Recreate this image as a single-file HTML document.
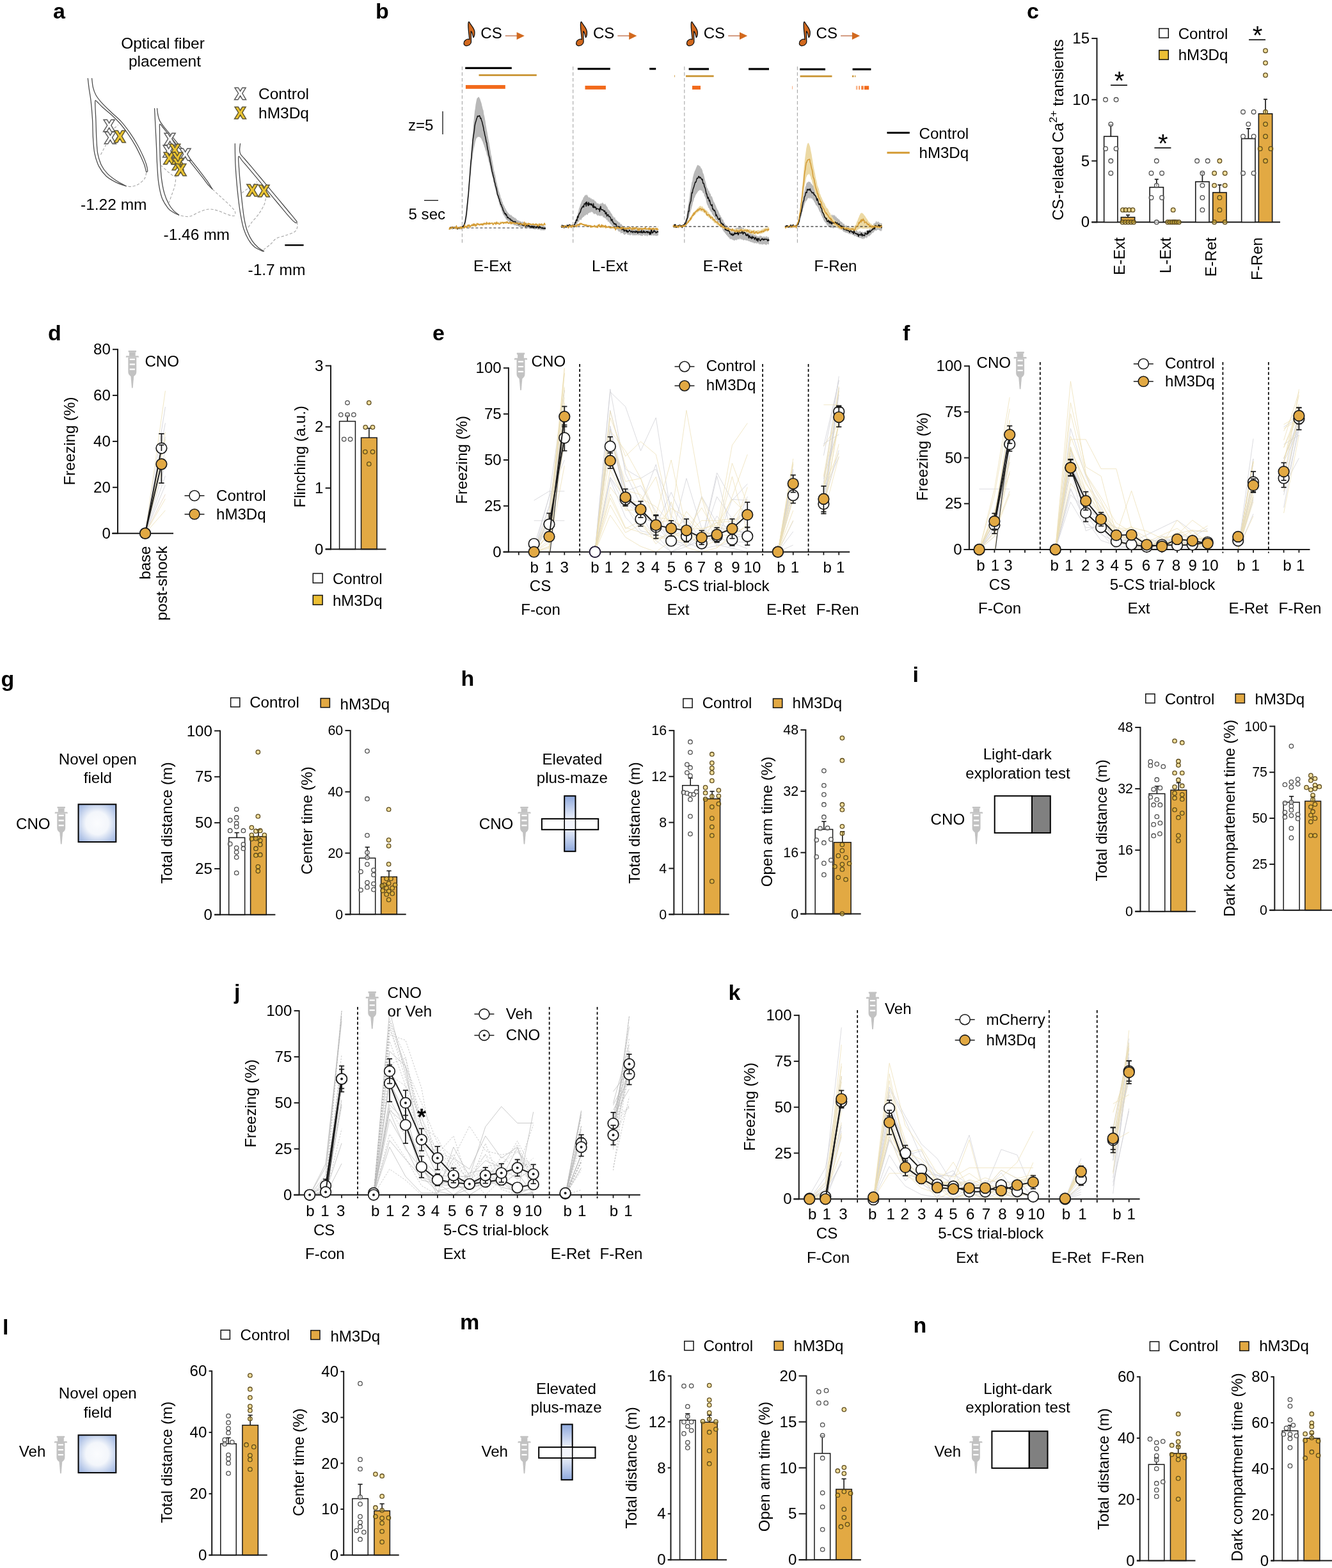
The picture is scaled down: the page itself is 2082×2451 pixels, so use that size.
<!DOCTYPE html>
<html lang="en">
<head>
<meta charset="utf-8">
<title>Figure</title>
<style>
html,body{margin:0;padding:0;background:#fff;}
svg{display:block;}
svg{font-family:'Liberation Sans', sans-serif;font-size:24.1px;}
</style>
</head>
<body>
<svg width="2082" height="2451" viewBox="0 0 2082 2451">
<rect x="0" y="0" width="2082" height="2451" fill="#fff"/>
<text x="83" y="28.5" font-weight="bold" font-size="34">a</text>
<text x="254.5" y="75.5" text-anchor="middle" font-size="24.5">Optical fiber</text>
<text x="257.5" y="104.2" text-anchor="middle" font-size="24.5">placement</text>
<path d="M137.32 122.51 C137.65 125.24 138.45 132.94 139.25 138.87 C140.05 144.81 141.25 150.1 142.14 158.12 C143.02 166.14 143.98 177.37 144.54 187 C145.1 196.62 144.94 207.05 145.51 215.87 C146.07 224.69 146.39 232.55 147.91 239.93 C149.44 247.31 151.6 254.21 154.65 260.14 C157.7 266.08 161.71 271.37 166.2 275.54 C170.69 279.71 176.46 282.6 181.6 285.17 C186.73 287.74 194.43 289.98 197 290.94" fill="none" stroke="#4a4a4a" stroke-width="1.25" stroke-linecap="round" stroke-linejoin="round"/>
<path d="M143.58 122.51 C143.9 124.92 144.46 132.62 145.51 136.95 C146.55 141.28 147.67 144.65 149.84 148.5 C152 152.35 154.49 155.56 158.5 160.05 C162.51 164.54 168.76 170.47 173.9 175.45 C179.03 180.42 184.49 184.59 189.3 189.88 C194.11 195.18 198.6 201.27 202.77 207.21 C206.94 213.14 210.79 219.24 214.32 225.5 C217.85 231.75 221.54 239.45 223.95 244.74 C226.35 250.04 227.64 253.57 228.76 257.26 C229.88 260.95 230.6 264.92 230.68 266.88 C230.76 268.84 229.48 268.65 229.24 269" fill="none" stroke="#4a4a4a" stroke-width="1.25" stroke-linecap="round" stroke-linejoin="round"/>
<path d="M197 290.75 C194.43 289.34 186.41 285.46 181.6 282.28 C176.79 279.1 171.97 275.7 168.12 271.69 C164.27 267.68 161.07 263.51 158.5 258.22 C155.93 252.93 154.01 246.99 152.72 239.93 C151.44 232.87 151.28 224.69 150.8 215.87 C150.32 207.05 150.16 195.02 149.84 187 C149.52 178.98 149.03 172.64 148.87 167.75 C148.71 162.86 148.39 159.09 148.87 157.64 C149.36 156.2 149.84 157.4 151.76 159.09 C153.69 160.77 156.73 164.38 160.42 167.75 C164.11 171.12 169.41 175.13 173.9 179.3 C178.39 183.47 183.04 187.8 187.37 192.77 C191.7 197.74 195.87 203.36 199.88 209.13 C203.89 214.91 207.91 221.16 211.43 227.42 C214.96 233.68 218.65 241.54 221.06 246.67 C223.46 251.8 224.62 254.56 225.87 258.22 C227.12 261.88 228.12 266.88 228.57 268.61" fill="none" stroke="#4a4a4a" stroke-width="1.25" stroke-linecap="round" stroke-linejoin="round"/>
<path d="M228.76 269.96 C228.28 271.53 227.96 276.38 225.87 279.39 C223.79 282.41 219.45 286.05 216.25 288.06 C213.04 290.06 209.75 290.91 206.62 291.42 C203.49 291.94 199 291.18 197.48 291.14" fill="none" stroke="#a6a6a6" stroke-width="1.1" stroke-dasharray="4.2 2.8"/>
<path d="M157.54 241.86 C158.18 240.57 160.02 236.72 161.39 234.16 C162.75 231.59 165 227.74 165.72 226.46" fill="none" stroke="#a6a6a6" stroke-width="1.1" stroke-dasharray="4.2 2.8"/>
<path d="M178.71 200.47 L184.49 195.18" fill="none" stroke="#a6a6a6" stroke-width="1.1" stroke-dasharray="4.2 2.8"/>
<path d="M241.55 169.62 C241.79 174.44 242.51 188.87 242.99 198.5 C243.47 208.12 244 217.75 244.44 227.37 C244.87 237 245.03 246.62 245.59 256.25 C246.15 265.87 246.55 276.3 247.81 285.12 C249.06 293.94 250.61 302.44 253.1 309.18 C255.59 315.92 259.68 321.69 262.72 325.54 C265.77 329.39 268.58 330.52 271.39 332.28 C274.19 334.05 278.2 335.49 279.57 336.13" fill="none" stroke="#4a4a4a" stroke-width="1.25" stroke-linecap="round" stroke-linejoin="round"/>
<path d="M245.59 169.62 C245.8 171.23 246.15 176.04 246.84 179.25 C247.53 182.46 247.89 185.34 249.73 188.87 C251.58 192.4 254.78 196.41 257.91 200.42 C261.04 204.43 264.49 208.12 268.5 212.94 C272.51 217.75 277.16 223.36 281.97 229.3 C286.79 235.23 292.4 242.29 297.37 248.55 C302.35 254.8 307.48 261.22 311.81 266.83 C316.14 272.45 319.99 277.42 323.36 282.23 C326.73 287.05 330.58 293.46 332.02 295.71" fill="none" stroke="#4a4a4a" stroke-width="1.25" stroke-linecap="round" stroke-linejoin="round"/>
<path d="M279.57 335.94 C278.2 334.85 274.03 332.25 271.39 329.39 C268.74 326.54 266.09 323.3 263.69 318.81 C261.28 314.32 258.79 308.86 256.95 302.44 C255.1 296.03 253.66 288.01 252.62 280.31 C251.58 272.61 251.17 265.07 250.69 256.25 C250.21 247.42 249.92 236.2 249.73 227.37 C249.54 218.55 249.54 208.85 249.54 203.31 C249.54 197.78 248.98 194.97 249.73 194.17 C250.48 193.37 252.06 196.17 254.06 198.5 C256.07 200.82 258.55 204.11 261.76 208.12 C264.97 212.13 268.98 217.11 273.31 222.56 C277.64 228.01 282.94 234.75 287.75 240.85 C292.56 246.94 297.37 253.04 302.18 259.13 C307 265.23 312.61 272.29 316.62 277.42 C320.63 282.55 323.71 286.92 326.25 289.93 C328.78 292.95 330.9 294.58 331.83 295.51" fill="none" stroke="#4a4a4a" stroke-width="1.25" stroke-linecap="round" stroke-linejoin="round"/>
<path d="M332.21 295.9 C334.43 297.95 340.88 303.92 345.5 308.22 C350.12 312.52 356.32 318 359.93 321.69 C363.54 325.38 366.03 327.79 367.15 330.36 C368.27 332.92 368.19 336.13 366.67 337.09 C365.15 338.06 362.34 337.41 358.01 336.13 C353.68 334.85 345.98 330.92 340.68 329.39 C335.39 327.87 331.06 326.67 326.25 326.99 C321.43 327.31 316.62 329.47 311.81 331.32 C307 333.16 301.38 336.93 297.37 338.06 C293.36 339.18 290.67 338.34 287.75 338.06 C284.83 337.77 281.17 336.61 279.86 336.32" fill="none" stroke="#a6a6a6" stroke-width="1.1" stroke-dasharray="4.2 2.8"/>
<path d="M251.17 258.17 C252.94 259.78 258.39 264.91 261.76 267.8 C265.13 270.68 269.78 274.21 271.39 275.5" fill="none" stroke="#a6a6a6" stroke-width="1.1" stroke-dasharray="4.2 2.8"/>
<path d="M275.24 273.57 C274.91 276.3 274.43 284.8 273.31 289.93 C272.19 295.07 270.1 299.72 268.5 304.37 C266.89 309.02 264.49 315.6 263.69 317.84" fill="none" stroke="#a6a6a6" stroke-width="1.1" stroke-dasharray="4.2 2.8"/>
<path d="M367.32 224.62 C367.4 229.44 367.4 243.87 367.81 253.5 C368.21 263.12 368.93 272.75 369.73 282.37 C370.53 292 371.58 302.42 372.62 311.25 C373.66 320.07 374.62 327.61 375.99 335.31 C377.35 343.01 378.71 350.87 380.8 357.44 C382.88 364.02 385.61 369.96 388.5 374.77 C391.39 379.58 394.27 383.27 398.12 386.32 C401.97 389.37 409.35 391.93 411.6 393.06" fill="none" stroke="#4a4a4a" stroke-width="1.25" stroke-linecap="round" stroke-linejoin="round"/>
<path d="M375.51 224.62 C375.34 226.23 374.46 231.52 374.54 234.25 C374.62 236.98 374.78 238.74 375.99 240.99 C377.19 243.23 378.87 244.36 381.76 247.72 C384.65 251.09 388.98 256.07 393.31 261.2 C397.64 266.33 402.94 272.75 407.75 278.52 C412.56 284.3 417.37 290.07 422.18 295.85 C427 301.62 431.81 307.4 436.62 313.17 C441.43 318.95 446.57 325.04 451.06 330.5 C455.55 335.95 461.55 342.91 463.57 345.9 C465.59 348.88 463.25 347.98 463.19 348.4" fill="none" stroke="#4a4a4a" stroke-width="1.25" stroke-linecap="round" stroke-linejoin="round"/>
<path d="M412.56 392.57 C411.12 391.69 406.95 389.93 403.9 387.28 C400.85 384.63 397.16 381.03 394.27 376.69 C391.39 372.36 388.66 367.07 386.57 361.29 C384.49 355.52 383.12 349.58 381.76 342.05 C380.4 334.51 379.44 325.2 378.39 316.06 C377.35 306.92 376.31 296.01 375.51 287.18 C374.7 278.36 374.01 270.18 373.58 263.12 C373.15 256.07 372.02 246.76 372.91 244.84 C373.79 242.91 375.95 248.21 378.87 251.57 C381.79 254.94 386.09 259.91 390.42 265.05 C394.75 270.18 400.05 276.6 404.86 282.37 C409.67 288.15 414.49 293.92 419.3 299.7 C424.11 305.47 428.92 311.25 433.73 317.02 C438.55 322.8 444 329.53 448.17 334.35 C452.34 339.16 456.32 343.55 458.76 345.9 C461.2 348.24 462.13 347.98 462.8 348.4" fill="none" stroke="#4a4a4a" stroke-width="1.25" stroke-linecap="round" stroke-linejoin="round"/>
<path d="M463.76 347.05 C463.97 348.14 465.53 351.06 465.01 353.59 C464.5 356.13 463.81 359.85 460.68 362.26 C457.56 364.66 451.06 366.27 446.25 368.03 C441.43 369.8 435.66 370.6 431.81 372.84 C427.96 375.09 426.44 378.59 423.15 381.51 C419.86 384.43 413.92 388.89 412.08 390.36" fill="none" stroke="#a6a6a6" stroke-width="1.1" stroke-dasharray="4.2 2.8"/>
<path d="M377.91 301.62 C379.68 300.34 384.49 296.81 388.5 293.92 C392.51 291.03 399.73 285.9 401.97 284.3" fill="none" stroke="#a6a6a6" stroke-width="1.1" stroke-dasharray="4.2 2.8"/>
<path d="M415.45 310.28 C414.97 312.05 414.49 316.7 412.56 320.87 C410.64 325.04 407.11 330.82 403.9 335.31 C400.69 339.8 396.04 344.29 393.31 347.82 C390.58 351.35 388.5 355.04 387.54 356.48" fill="none" stroke="#a6a6a6" stroke-width="1.1" stroke-dasharray="4.2 2.8"/>
<text x="170.53" y="204.54" text-anchor="middle" font-weight="bold" fill="#fff" font-size="23.5" stroke="#595959" stroke-width="3" paint-order="stroke fill" stroke-linejoin="miter">X</text>
<text x="172.45" y="224.27" text-anchor="middle" font-weight="bold" fill="#fff" font-size="23.5" stroke="#595959" stroke-width="3" paint-order="stroke fill" stroke-linejoin="miter">X</text>
<text x="187.37" y="221.86" text-anchor="middle" font-weight="bold" fill="#ECC531" font-size="23.5" stroke="#5e5533" stroke-width="3" paint-order="stroke fill" stroke-linejoin="miter">X</text>
<text x="263.69" y="245.4" text-anchor="middle" font-weight="bold" fill="#fff" font-size="23.5" stroke="#595959" stroke-width="3" paint-order="stroke fill" stroke-linejoin="miter">X</text>
<text x="289.67" y="250.21" text-anchor="middle" font-weight="bold" fill="#fff" font-size="23.5" stroke="#595959" stroke-width="3" paint-order="stroke fill" stroke-linejoin="miter">X</text>
<text x="265.61" y="226.15" text-anchor="middle" font-weight="bold" fill="#fff" font-size="23.5" stroke="#595959" stroke-width="3" paint-order="stroke fill" stroke-linejoin="miter">X</text>
<text x="273.31" y="242.51" text-anchor="middle" font-weight="bold" fill="#ECC531" font-size="23.5" stroke="#5e5533" stroke-width="3" paint-order="stroke fill" stroke-linejoin="miter">X</text>
<text x="264.65" y="255.98" text-anchor="middle" font-weight="bold" fill="#ECC531" font-size="23.5" stroke="#5e5533" stroke-width="3" paint-order="stroke fill" stroke-linejoin="miter">X</text>
<text x="277.16" y="255.5" text-anchor="middle" font-weight="bold" fill="#ECC531" font-size="23.5" stroke="#5e5533" stroke-width="3" paint-order="stroke fill" stroke-linejoin="miter">X</text>
<text x="278.12" y="264.65" text-anchor="middle" font-weight="bold" fill="#ECC531" font-size="23.5" stroke="#5e5533" stroke-width="3" paint-order="stroke fill" stroke-linejoin="miter">X</text>
<text x="282.45" y="274.27" text-anchor="middle" font-weight="bold" fill="#ECC531" font-size="23.5" stroke="#5e5533" stroke-width="3" paint-order="stroke fill" stroke-linejoin="miter">X</text>
<text x="394.27" y="306.17" text-anchor="middle" font-weight="bold" fill="#ECC531" font-size="23.5" stroke="#5e5533" stroke-width="3" paint-order="stroke fill" stroke-linejoin="miter">X</text>
<text x="412.56" y="307.13" text-anchor="middle" font-weight="bold" fill="#ECC531" font-size="23.5" stroke="#5e5533" stroke-width="3" paint-order="stroke fill" stroke-linejoin="miter">X</text>
<text x="375.6" y="154.6" text-anchor="middle" font-weight="bold" fill="#fff" font-size="23.5" stroke="#595959" stroke-width="3" paint-order="stroke fill" stroke-linejoin="miter">X</text>
<text x="375.6" y="184.6" text-anchor="middle" font-weight="bold" fill="#ECC531" font-size="23.5" stroke="#5e5533" stroke-width="3" paint-order="stroke fill" stroke-linejoin="miter">X</text>
<text x="404" y="154.5" font-size="24.5">Control</text>
<text x="404" y="184.5" font-size="24.5">hM3Dq</text>
<text x="126" y="327.5" font-size="24.5">-1.22 mm</text>
<text x="255.5" y="375" font-size="24.5">-1.46 mm</text>
<text x="387.5" y="429.5" font-size="24.5">-1.7 mm</text>
<line x1="445.3" y1="383.2" x2="474.6" y2="383.2" stroke="#000" stroke-width="2.4"/>
<text x="587" y="28.5" font-weight="bold" font-size="34">b</text>
<path d="M733.38 34.33 C735.83 39.5 742.63 44.49 741.9 51.29 C741.9 54.92 741.27 57.19 739.91 58.55 C738.82 55.37 738.55 50.84 736.1 48.84 L736.46 65.8 C736.28 69.43 731.75 72.15 728.12 71.52 C724.49 70.79 724.04 66.26 726.76 63.54 C728.57 61.72 731.75 60.82 733.74 61.72 C733.38 54.47 731.29 43.58 731.93 36.78 C732.02 34.97 732.65 33.79 733.38 34.33 Z" fill="#D2691E" stroke="#111" stroke-width="1.3" stroke-linejoin="round"/>
<text x="751.3" y="59.5">CS</text>
<line x1="789.8" y1="56" x2="808.5" y2="56" stroke="#C98464" stroke-width="1.6"/>
<path d="M807.6 50.2 L819.8 56 L807.6 62 Z" fill="#D2691E"/>
<path d="M908.98 34.33 C911.43 39.5 918.23 44.49 917.5 51.29 C917.5 54.92 916.87 57.19 915.51 58.55 C914.42 55.37 914.15 50.84 911.7 48.84 L912.06 65.8 C911.88 69.43 907.35 72.15 903.72 71.52 C900.09 70.79 899.64 66.26 902.36 63.54 C904.17 61.72 907.35 60.82 909.34 61.72 C908.98 54.47 906.89 43.58 907.53 36.78 C907.62 34.97 908.25 33.79 908.98 34.33 Z" fill="#D2691E" stroke="#111" stroke-width="1.3" stroke-linejoin="round"/>
<text x="926.9" y="59.5">CS</text>
<line x1="965.4" y1="56" x2="984.1" y2="56" stroke="#C98464" stroke-width="1.6"/>
<path d="M983.2 50.2 L995.4 56 L983.2 62 Z" fill="#D2691E"/>
<path d="M1081.78 34.33 C1084.23 39.5 1091.03 44.49 1090.3 51.29 C1090.3 54.92 1089.67 57.19 1088.31 58.55 C1087.22 55.37 1086.95 50.84 1084.5 48.84 L1084.86 65.8 C1084.68 69.43 1080.15 72.15 1076.52 71.52 C1072.89 70.79 1072.44 66.26 1075.16 63.54 C1076.97 61.72 1080.15 60.82 1082.14 61.72 C1081.78 54.47 1079.69 43.58 1080.33 36.78 C1080.42 34.97 1081.05 33.79 1081.78 34.33 Z" fill="#D2691E" stroke="#111" stroke-width="1.3" stroke-linejoin="round"/>
<text x="1099.7" y="59.5">CS</text>
<line x1="1138.2" y1="56" x2="1156.9" y2="56" stroke="#C98464" stroke-width="1.6"/>
<path d="M1156 50.2 L1168.2 56 L1156 62 Z" fill="#D2691E"/>
<path d="M1257.68 34.33 C1260.13 39.5 1266.93 44.49 1266.2 51.29 C1266.2 54.92 1265.57 57.19 1264.21 58.55 C1263.12 55.37 1262.85 50.84 1260.4 48.84 L1260.76 65.8 C1260.58 69.43 1256.05 72.15 1252.42 71.52 C1248.79 70.79 1248.34 66.26 1251.06 63.54 C1252.87 61.72 1256.05 60.82 1258.04 61.72 C1257.68 54.47 1255.59 43.58 1256.23 36.78 C1256.32 34.97 1256.95 33.79 1257.68 34.33 Z" fill="#D2691E" stroke="#111" stroke-width="1.3" stroke-linejoin="round"/>
<text x="1275.6" y="59.5">CS</text>
<line x1="1314.1" y1="56" x2="1332.8" y2="56" stroke="#C98464" stroke-width="1.6"/>
<path d="M1331.9 50.2 L1344.1 56 L1331.9 62 Z" fill="#D2691E"/>
<text x="638" y="203.5">z=5</text>
<line x1="692" y1="174" x2="692" y2="210" stroke="#111" stroke-width="1.3"/>
<line x1="663" y1="313.3" x2="685" y2="313.3" stroke="#111" stroke-width="1.3"/>
<text x="638.5" y="343">5 sec</text>
<line x1="722.4" y1="104" x2="722.4" y2="382" stroke="#a6a6a6" stroke-width="1.1" stroke-dasharray="5.5 3.5"/>
<line x1="895.7" y1="104" x2="895.7" y2="382" stroke="#a6a6a6" stroke-width="1.1" stroke-dasharray="5.5 3.5"/>
<line x1="1069.8" y1="104" x2="1069.8" y2="382" stroke="#a6a6a6" stroke-width="1.1" stroke-dasharray="5.5 3.5"/>
<line x1="1246.4" y1="104" x2="1246.4" y2="382" stroke="#a6a6a6" stroke-width="1.1" stroke-dasharray="5.5 3.5"/>
<rect x="727.2" y="104.8" width="72.6" height="3.2" fill="#000"/>
<rect x="748.5" y="116.15" width="90.3" height="2.7" fill="#C8922E"/>
<rect x="727.9" y="132.95" width="61.9" height="5.9" fill="#F26A1B"/>
<rect x="902.9" y="106" width="50.9" height="3.2" fill="#000"/>
<rect x="1015.2" y="106" width="10" height="3.2" fill="#000"/>
<rect x="914.5" y="133.95" width="32.4" height="5.9" fill="#F26A1B"/>
<rect x="1054" y="117.5" width="0.8" height="3" fill="#C8922E"/>
<rect x="1076.6" y="106.3" width="31.4" height="3.2" fill="#000"/>
<rect x="1170.1" y="106.3" width="31.9" height="3.2" fill="#000"/>
<rect x="1072" y="117.65" width="43.6" height="2.7" fill="#C8922E"/>
<rect x="1082" y="134.05" width="13" height="5.9" fill="#F26A1B"/>
<rect x="1238" y="134.5" width="0.8" height="5" fill="#F5A070"/>
<rect x="1250.2" y="106.7" width="39.8" height="3.2" fill="#000"/>
<rect x="1332.6" y="106.7" width="28.8" height="3.2" fill="#000"/>
<rect x="1250.6" y="117.85" width="49.9" height="2.7" fill="#C8922E"/>
<rect x="1332" y="117.85" width="2.5" height="2.7" fill="#C8922E"/>
<rect x="1336" y="117.85" width="1.3" height="2.7" fill="#C8922E"/>
<rect x="1337.9" y="134.25" width="2.5" height="5.9" fill="#F9B58A"/>
<rect x="1342.5" y="134.25" width="1.3" height="5.9" fill="#F26A1B"/>
<rect x="1346.2" y="134.25" width="3.6" height="5.9" fill="#F4803C"/>
<rect x="1351" y="134.25" width="7.2" height="5.9" fill="#F26A1B"/>
<path d="M702.1 355.5 L702.9 354.6 L703.6 354.4 L704.4 354.6 L705.2 354.9 L705.9 355.4 L706.7 354.3 L707.4 354.2 L708.2 354.7 L708.9 353.9 L709.7 353.4 L710.4 354.8 L711.2 354.1 L711.9 354.9 L712.7 353.7 L713.4 352.7 L714.2 354.4 L714.9 354.3 L715.7 355.1 L716.4 354.5 L717.2 354.3 L717.9 354.5 L718.7 353.9 L719.4 354.1 L720.2 353.3 L721 354.1 L721.7 353 L722.5 352.8 L723.2 352.9 L724 352.5 L724.7 350.4 L725.5 350.4 L726.2 346.9 L727 345 L727.7 342 L728.5 337.2 L729.2 331.4 L730 325.6 L730.7 317.7 L731.5 309.5 L732.2 299.7 L733 291.2 L733.7 282.6 L734.5 271.1 L735.2 259.3 L736 248.2 L736.8 237.3 L737.5 227.2 L738.3 216.7 L739 207 L739.8 196.6 L740.5 189 L741.3 180.7 L742 174.1 L742.8 169.6 L743.5 163.6 L744.3 159.2 L745 155.7 L745.8 153.3 L746.5 152.9 L747.3 152 L748 151.5 L748.8 151.8 L749.5 153.4 L750.3 154.6 L751 156.9 L751.8 159.3 L752.6 161.5 L753.3 165.1 L754.1 168.1 L754.8 171.1 L755.6 172.7 L756.3 178.4 L757.1 181.6 L757.8 185 L758.6 189.5 L759.3 194.5 L760.1 198.9 L760.8 203.1 L761.6 207.1 L762.3 211.3 L763.1 216 L763.8 219.7 L764.6 223.5 L765.3 227.9 L766.1 232.3 L766.8 236.8 L767.6 242.1 L768.4 244.3 L769.1 249.5 L769.9 253.4 L770.6 257.6 L771.4 262.1 L772.1 265.9 L772.9 268.9 L773.6 272.3 L774.4 275.3 L775.1 279.4 L775.9 283.4 L776.6 285.9 L777.4 289.5 L778.1 292.5 L778.9 295.3 L779.6 298.5 L780.4 300.5 L781.1 302.7 L781.9 305 L782.6 308.4 L783.4 310 L784.2 312.2 L784.9 314.9 L785.7 316.1 L786.4 319.3 L787.2 320.5 L787.9 321.6 L788.7 323.2 L789.4 325.6 L790.2 325.8 L790.9 327.4 L791.7 329.1 L792.4 330.3 L793.2 331.3 L793.9 332.5 L794.7 332.9 L795.4 333.9 L796.2 335.3 L796.9 335.5 L797.7 335.4 L798.4 337.1 L799.2 335.6 L800 337.3 L800.7 338.1 L801.5 338.8 L802.2 338.9 L803 339.2 L803.7 340.2 L804.5 340.4 L805.2 341.3 L806 340.1 L806.7 342.4 L807.5 342.3 L808.2 343.8 L809 344.2 L809.7 344.6 L810.5 344.4 L811.2 345.2 L812 345.2 L812.7 345.8 L813.5 345.8 L814.2 345.7 L815 347.4 L815.8 347 L816.5 345.7 L817.3 347.5 L818 346.5 L818.8 347.4 L819.5 347.4 L820.3 347.6 L821 348.3 L821.8 348.2 L822.5 347.7 L823.3 348.7 L824 349.1 L824.8 350 L825.5 349 L826.3 348.7 L827 349.3 L827.8 350 L828.5 349.3 L829.3 349.6 L830 350.4 L830.8 350.2 L831.6 350.5 L832.3 350.2 L833.1 350.2 L833.8 350.6 L834.6 350.9 L835.3 350.9 L836.1 351.4 L836.8 351.6 L837.6 351.7 L838.3 351.7 L839.1 351.1 L839.8 351.1 L840.6 352.2 L841.3 351.9 L842.1 352 L842.8 351.4 L843.6 352 L844.3 351.9 L845.1 351.9 L845.8 352.1 L846.6 351.7 L847.4 352.7 L848.1 353.4 L848.9 352.5 L849.6 353 L850.4 352.4 L851.1 353.4 L851.9 354.1 L852.6 352.5 L852.6 361 L851.9 358.8 L851.1 359.5 L850.4 361.1 L849.6 359.9 L848.9 359.3 L848.1 359.9 L847.4 360.3 L846.6 359.8 L845.8 360 L845.1 359.3 L844.3 359.9 L843.6 359 L842.8 358 L842.1 358.7 L841.3 359.5 L840.6 359.1 L839.8 358.6 L839.1 357.7 L838.3 358.4 L837.6 357.9 L836.8 358.8 L836.1 359.2 L835.3 357.9 L834.6 358.4 L833.8 358.3 L833.1 358 L832.3 357.1 L831.6 357.4 L830.8 357 L830 357.2 L829.3 357.2 L828.5 355.9 L827.8 357 L827 356.9 L826.3 357.1 L825.5 356.2 L824.8 356.5 L824 355.6 L823.3 356.4 L822.5 356.1 L821.8 355.6 L821 356.3 L820.3 355.8 L819.5 355.5 L818.8 354.6 L818 355.3 L817.3 355.8 L816.5 355.1 L815.8 354.6 L815 355.5 L814.2 354.3 L813.5 355.5 L812.7 354.5 L812 355.5 L811.2 354 L810.5 353.8 L809.7 353.7 L809 353.5 L808.2 353.1 L807.5 352.9 L806.7 353.2 L806 351.9 L805.2 352 L804.5 353 L803.7 351.5 L803 350.9 L802.2 351.9 L801.5 350.1 L800.7 350.9 L800 349.7 L799.2 349.8 L798.4 349.2 L797.7 348.3 L796.9 347.8 L796.2 348 L795.4 347 L794.7 344.9 L793.9 345.7 L793.2 344.5 L792.4 344.4 L791.7 343.2 L790.9 342.9 L790.2 340.8 L789.4 340.6 L788.7 338.5 L787.9 336.9 L787.2 336.4 L786.4 335.3 L785.7 333.5 L784.9 331.2 L784.2 329.6 L783.4 326.7 L782.6 324.5 L781.9 323.2 L781.1 321.2 L780.4 318 L779.6 315.9 L778.9 312.6 L778.1 310.5 L777.4 307.8 L776.6 305 L775.9 301.7 L775.1 299.1 L774.4 296 L773.6 293.9 L772.9 290.8 L772.1 285.9 L771.4 284.3 L770.6 280.6 L769.9 276.4 L769.1 275.1 L768.4 271.9 L767.6 268.7 L766.8 265.7 L766.1 262 L765.3 258.3 L764.6 254.9 L763.8 252.6 L763.1 249.6 L762.3 245.6 L761.6 243.7 L760.8 241.8 L760.1 237.5 L759.3 236.1 L758.6 234.2 L757.8 231 L757.1 229.5 L756.3 226.6 L755.6 225.3 L754.8 222.6 L754.1 220.6 L753.3 219.4 L752.6 217.2 L751.8 216 L751 215.5 L750.3 214.5 L749.5 214 L748.8 213.9 L748 214.2 L747.3 213.6 L746.5 214.4 L745.8 215.3 L745 215.7 L744.3 217.1 L743.5 219.5 L742.8 222.3 L742 225.9 L741.3 229.5 L740.5 233.1 L739.8 237.7 L739 242.3 L738.3 249.2 L737.5 255.6 L736.8 263.6 L736 271.4 L735.2 278.4 L734.5 287.9 L733.7 297.8 L733 306.2 L732.2 315.8 L731.5 323.4 L730.7 331.1 L730 338.4 L729.2 342.4 L728.5 346.1 L727.7 350.2 L727 352.3 L726.2 355.1 L725.5 355.8 L724.7 356.5 L724 357.3 L723.2 356.7 L722.5 356.7 L721.7 357.4 L721 357.7 L720.2 358.1 L719.4 358.8 L718.7 358.3 L717.9 358.5 L717.2 358.3 L716.4 358 L715.7 358.9 L714.9 357.3 L714.2 358.9 L713.4 357.5 L712.7 358.1 L711.9 358.8 L711.2 357.6 L710.4 357.3 L709.7 357.9 L708.9 357.9 L708.2 358.6 L707.4 359 L706.7 358.8 L705.9 358.2 L705.2 357.2 L704.4 358.4 L703.6 358.5 L702.9 359.1 L702.1 358.2 Z" fill="#b8b8b8"/>
<path d="M702.1 354.9 L702.9 355.8 L703.6 355.1 L704.4 356.2 L705.2 355.3 L705.9 355.6 L706.7 355.5 L707.4 355.7 L708.2 354.3 L708.9 355.9 L709.7 355.2 L710.4 354.5 L711.2 355.5 L711.9 355.4 L712.7 356 L713.4 355.6 L714.2 355.3 L714.9 354 L715.7 356.2 L716.4 356.1 L717.2 355.6 L717.9 355.4 L718.7 355.8 L719.4 354.5 L720.2 355.5 L721 355 L721.7 354.2 L722.5 355 L723.2 354.9 L724 355.7 L724.7 355 L725.5 353.2 L726.2 352.8 L727 353.8 L727.7 353.6 L728.5 352.9 L729.2 352.4 L730 353 L730.7 352.2 L731.5 352.4 L732.2 353.2 L733 352.6 L733.7 351.8 L734.5 351.4 L735.2 351.9 L736 353 L736.8 351.4 L737.5 352.7 L738.3 351 L739 351.2 L739.8 351.7 L740.5 350.6 L741.3 351 L742 350 L742.8 351.2 L743.5 351.4 L744.3 350 L745 350.5 L745.8 350 L746.5 348.7 L747.3 351.8 L748 350.3 L748.8 350.4 L749.5 350 L750.3 349.7 L751 351.1 L751.8 348.3 L752.6 349.2 L753.3 349.1 L754.1 349.2 L754.8 349.7 L755.6 348.7 L756.3 348.2 L757.1 348.3 L757.8 349.3 L758.6 349.6 L759.3 349.4 L760.1 349.9 L760.8 348.4 L761.6 349.3 L762.3 349.1 L763.1 348.4 L763.8 348 L764.6 349 L765.3 347.9 L766.1 348.1 L766.8 347.6 L767.6 349.3 L768.4 348.1 L769.1 347.7 L769.9 347.8 L770.6 347.8 L771.4 347.9 L772.1 346.7 L772.9 347 L773.6 348 L774.4 348.3 L775.1 346.9 L775.9 347.6 L776.6 347 L777.4 345.9 L778.1 347.1 L778.9 346.5 L779.6 347.8 L780.4 347 L781.1 347 L781.9 346 L782.6 347 L783.4 345.6 L784.2 347 L784.9 347.7 L785.7 345.9 L786.4 347.2 L787.2 347.5 L787.9 346.4 L788.7 347.3 L789.4 346.6 L790.2 346.3 L790.9 345.3 L791.7 345.9 L792.4 345.7 L793.2 348.3 L793.9 347 L794.7 346.8 L795.4 346 L796.2 348.1 L796.9 346.3 L797.7 348.1 L798.4 347.9 L799.2 347.3 L800 346.9 L800.7 347.3 L801.5 346.6 L802.2 347.9 L803 348.7 L803.7 348.2 L804.5 348.4 L805.2 347.3 L806 348.1 L806.7 347.3 L807.5 347.7 L808.2 348.6 L809 349.8 L809.7 348.3 L810.5 348.4 L811.2 347.2 L812 348.6 L812.7 348 L813.5 347.7 L814.2 347.7 L815 348.8 L815.8 348.5 L816.5 349.3 L817.3 348.7 L818 348.9 L818.8 350 L819.5 349.6 L820.3 349.6 L821 350.1 L821.8 349.3 L822.5 348.5 L823.3 348.7 L824 348.2 L824.8 349.5 L825.5 349.1 L826.3 349.7 L827 350 L827.8 348.9 L828.5 349.6 L829.3 350.4 L830 349.6 L830.8 350.2 L831.6 349.5 L832.3 349 L833.1 349.5 L833.8 348.5 L834.6 350.2 L835.3 349.4 L836.1 350.7 L836.8 349 L837.6 349.9 L838.3 350.1 L839.1 349.8 L839.8 350.2 L840.6 349.4 L841.3 349.2 L842.1 349 L842.8 349.6 L843.6 349.5 L844.3 350.2 L845.1 349.8 L845.8 349.6 L846.6 349.6 L847.4 348.8 L848.1 349.9 L848.9 350.4 L849.6 349.3 L850.4 350 L851.1 350.6 L851.9 349.7 L852.6 350.3 L852.6 353.2 L851.9 351.9 L851.1 352 L850.4 352.8 L849.6 352.6 L848.9 352.4 L848.1 352.4 L847.4 351.4 L846.6 353 L845.8 352.8 L845.1 353.5 L844.3 351.7 L843.6 352.2 L842.8 351.6 L842.1 351.6 L841.3 351.9 L840.6 351.5 L839.8 352.7 L839.1 352.4 L838.3 352.4 L837.6 353 L836.8 351.3 L836.1 351.9 L835.3 353.2 L834.6 352.3 L833.8 350.2 L833.1 352.3 L832.3 352.1 L831.6 351.5 L830.8 351.2 L830 352.3 L829.3 352.6 L828.5 350.9 L827.8 352.1 L827 351.1 L826.3 352.1 L825.5 351.3 L824.8 351.3 L824 351.3 L823.3 352.3 L822.5 352.5 L821.8 351.3 L821 351.8 L820.3 350.7 L819.5 351.2 L818.8 350.3 L818 352.2 L817.3 351.9 L816.5 350.6 L815.8 351.3 L815 351.6 L814.2 351.4 L813.5 351.4 L812.7 351.2 L812 351.1 L811.2 351.4 L810.5 351.2 L809.7 349.4 L809 350 L808.2 349.8 L807.5 350.8 L806.7 351.7 L806 350.7 L805.2 350.2 L804.5 349.9 L803.7 349.9 L803 349.6 L802.2 350.6 L801.5 349.9 L800.7 350.2 L800 351 L799.2 349.5 L798.4 350.5 L797.7 349.2 L796.9 349.3 L796.2 349.7 L795.4 349.5 L794.7 349.6 L793.9 349.7 L793.2 349.1 L792.4 349.1 L791.7 349.3 L790.9 349.5 L790.2 347.6 L789.4 348.3 L788.7 350.1 L787.9 350 L787.2 350.3 L786.4 350.7 L785.7 349 L784.9 348.9 L784.2 349.4 L783.4 348.6 L782.6 349.2 L781.9 350.6 L781.1 349 L780.4 347.6 L779.6 349.1 L778.9 348.9 L778.1 350.8 L777.4 349.2 L776.6 350 L775.9 349 L775.1 349.9 L774.4 350.7 L773.6 349.6 L772.9 349.6 L772.1 351.1 L771.4 349.7 L770.6 350.1 L769.9 349.1 L769.1 350.1 L768.4 350.6 L767.6 350 L766.8 351 L766.1 350.8 L765.3 351.1 L764.6 351.6 L763.8 350.1 L763.1 350.6 L762.3 350.5 L761.6 351.5 L760.8 351.1 L760.1 351.8 L759.3 351.2 L758.6 352 L757.8 351.4 L757.1 351.8 L756.3 351.8 L755.6 351.4 L754.8 351.9 L754.1 352.2 L753.3 352.1 L752.6 352.7 L751.8 351.7 L751 351.4 L750.3 352.3 L749.5 352 L748.8 351.7 L748 351.6 L747.3 352.4 L746.5 351.8 L745.8 353.8 L745 353.2 L744.3 352.5 L743.5 353.1 L742.8 353.2 L742 354.8 L741.3 354 L740.5 353.7 L739.8 352.2 L739 353.6 L738.3 354.5 L737.5 354.2 L736.8 353.8 L736 353.7 L735.2 354.1 L734.5 355.4 L733.7 354.5 L733 353 L732.2 355.1 L731.5 354.1 L730.7 356.4 L730 354.5 L729.2 355.7 L728.5 354.4 L727.7 355.5 L727 355.9 L726.2 357.2 L725.5 357.8 L724.7 356.1 L724 357.7 L723.2 356.1 L722.5 356.3 L721.7 357.6 L721 356.9 L720.2 357.5 L719.4 357.9 L718.7 357 L717.9 358.4 L717.2 357.8 L716.4 357.7 L715.7 357.9 L714.9 357.2 L714.2 358 L713.4 357.8 L712.7 356.6 L711.9 356.6 L711.2 358.7 L710.4 357.7 L709.7 357 L708.9 357.6 L708.2 357.2 L707.4 357.8 L706.7 357.5 L705.9 358 L705.2 357.1 L704.4 358.4 L703.6 358.5 L702.9 359.2 L702.1 357.3 Z" fill="#ecd9a4"/>
<path d="M877.1 351.4 L877.9 352.8 L878.6 350.9 L879.4 353.4 L880.2 350.8 L880.9 352.7 L881.7 351 L882.4 353.2 L883.2 351.9 L883.9 352.1 L884.7 352.4 L885.4 351.2 L886.2 350.8 L886.9 350 L887.7 352.9 L888.4 351.2 L889.2 351.3 L889.9 351.8 L890.7 353.6 L891.4 350.3 L892.2 352.1 L892.9 351.5 L893.7 352.3 L894.4 350.2 L895.2 351.5 L895.9 352.5 L896.7 352.6 L897.4 351.7 L898.2 348.3 L899 347.6 L899.7 345.5 L900.5 342.1 L901.2 339.5 L902 338.7 L902.7 335.3 L903.5 332.1 L904.2 330.6 L905 326 L905.7 324.8 L906.5 321.9 L907.2 319.6 L908 318 L908.7 315.7 L909.5 313.9 L910.2 312.2 L911 312.1 L911.7 308.6 L912.5 308.4 L913.2 307 L914 305.3 L914.7 305.8 L915.5 303.9 L916.2 305.7 L917 304.1 L917.8 304.8 L918.5 306.1 L919.3 307.4 L920 308.2 L920.8 308.9 L921.5 308.6 L922.3 308.5 L923 310.3 L923.8 310.5 L924.5 309.8 L925.3 311.9 L926 311.6 L926.8 311.1 L927.5 312.8 L928.3 311.8 L929 312.9 L929.8 314.7 L930.5 313.7 L931.3 315.8 L932 315.3 L932.8 317.9 L933.5 317.2 L934.3 318.4 L935 317.2 L935.8 318.5 L936.6 319.7 L937.3 319.2 L938.1 316.9 L938.8 319.1 L939.6 318.6 L940.3 317.1 L941.1 318.6 L941.8 316.3 L942.6 317.3 L943.3 318.6 L944.1 319.2 L944.8 319.8 L945.6 318.4 L946.3 318.6 L947.1 321.6 L947.8 321 L948.6 323.2 L949.3 323.2 L950.1 326.3 L950.8 327.2 L951.6 328 L952.3 328.7 L953.1 329.8 L953.8 330.6 L954.6 332.3 L955.4 333.3 L956.1 334.6 L956.9 334.9 L957.6 338 L958.4 337.6 L959.1 339.7 L959.9 340.6 L960.6 339.6 L961.4 339.9 L962.1 343.5 L962.9 342.9 L963.6 344.2 L964.4 344.7 L965.1 345.9 L965.9 345.5 L966.6 347.1 L967.4 347.5 L968.1 348.6 L968.9 347.1 L969.6 350.6 L970.4 350.8 L971.1 349.6 L971.9 351.1 L972.6 352.3 L973.4 353.4 L974.2 353.3 L974.9 354.9 L975.7 354.1 L976.4 353.5 L977.2 354.1 L977.9 355.6 L978.7 354.7 L979.4 356.3 L980.2 356.7 L980.9 356.6 L981.7 357.2 L982.4 356.3 L983.2 356.7 L983.9 356.3 L984.7 356.4 L985.4 355.6 L986.2 356.6 L986.9 356.2 L987.7 355.9 L988.4 357.4 L989.2 357.7 L989.9 357.1 L990.7 358.6 L991.4 358.3 L992.2 358.5 L993 357 L993.7 356.3 L994.5 358.2 L995.2 358 L996 358.4 L996.7 358.2 L997.5 359 L998.2 357.7 L999 358.6 L999.7 357.2 L1000.5 355.9 L1001.2 357.6 L1002 359.4 L1002.7 356.6 L1003.5 359 L1004.2 357.5 L1005 357.7 L1005.7 358.1 L1006.5 358.3 L1007.2 357.2 L1008 358.2 L1008.7 358.5 L1009.5 358.8 L1010.2 357.4 L1011 359.5 L1011.8 359.8 L1012.5 360.3 L1013.3 356.9 L1014 358.3 L1014.8 356.4 L1015.5 358.4 L1016.3 358.6 L1017 357.1 L1017.8 356.7 L1018.5 358.3 L1019.3 358.7 L1020 357.4 L1020.8 357.9 L1021.5 355.8 L1022.3 357.5 L1023 358.2 L1023.8 358.2 L1024.5 359.5 L1025.3 357.1 L1026 356.1 L1026.8 358.5 L1027.5 357.6 L1028.3 358.4 L1029 358.7 L1029 367.2 L1028.3 368.2 L1027.5 368.3 L1026.8 369 L1026 368.6 L1025.3 368.2 L1024.5 368.5 L1023.8 368.4 L1023 367.6 L1022.3 368.6 L1021.5 368.2 L1020.8 368.2 L1020 367.5 L1019.3 367.6 L1018.5 368.2 L1017.8 368.1 L1017 368.7 L1016.3 367.7 L1015.5 367.6 L1014.8 368.9 L1014 367.3 L1013.3 367.3 L1012.5 367.9 L1011.8 369.8 L1011 368.9 L1010.2 367.2 L1009.5 368.1 L1008.7 369 L1008 367.8 L1007.2 368.7 L1006.5 366.9 L1005.7 367 L1005 367.7 L1004.2 369 L1003.5 368.7 L1002.7 368.4 L1002 368.6 L1001.2 368.2 L1000.5 368.2 L999.7 367 L999 368 L998.2 367.2 L997.5 368.5 L996.7 365.9 L996 368.6 L995.2 367 L994.5 367.7 L993.7 367.1 L993 369 L992.2 366.7 L991.4 368.4 L990.7 367.1 L989.9 367.4 L989.2 369.1 L988.4 366.7 L987.7 366.9 L986.9 365.4 L986.2 367.7 L985.4 367.4 L984.7 367.5 L983.9 368 L983.2 365.9 L982.4 367.4 L981.7 366.7 L980.9 367.3 L980.2 365.8 L979.4 364.6 L978.7 365.7 L977.9 365.8 L977.2 366.4 L976.4 367.1 L975.7 366.9 L974.9 366.1 L974.2 365.4 L973.4 364.3 L972.6 364.1 L971.9 364.1 L971.1 364.3 L970.4 365.5 L969.6 362.6 L968.9 361.9 L968.1 361.8 L967.4 362.8 L966.6 360.9 L965.9 360.9 L965.1 358.8 L964.4 358.5 L963.6 359.2 L962.9 357.9 L962.1 358.1 L961.4 358.5 L960.6 355.2 L959.9 356.9 L959.1 355.3 L958.4 354.8 L957.6 354.7 L956.9 353.4 L956.1 352.2 L955.4 350.5 L954.6 351.1 L953.8 349.5 L953.1 348.8 L952.3 347.8 L951.6 346 L950.8 347.1 L950.1 346.4 L949.3 343.5 L948.6 344.5 L947.8 343.4 L947.1 340.9 L946.3 341.8 L945.6 341.1 L944.8 340.5 L944.1 340 L943.3 339.6 L942.6 340.1 L941.8 337.3 L941.1 337.7 L940.3 336.4 L939.6 338.6 L938.8 337.3 L938.1 336.9 L937.3 337.7 L936.6 337.4 L935.8 336.5 L935 336.7 L934.3 336.8 L933.5 337.2 L932.8 335.8 L932 334.7 L931.3 335.1 L930.5 333.6 L929.8 334.4 L929 334.5 L928.3 334.8 L927.5 333.6 L926.8 332.4 L926 331.5 L925.3 331.4 L924.5 331.2 L923.8 330.9 L923 333.2 L922.3 331.4 L921.5 332.2 L920.8 333.3 L920 333 L919.3 333.7 L918.5 336.3 L917.8 335.9 L917 334.7 L916.2 335.5 L915.5 336.6 L914.7 336.9 L914 336.6 L913.2 338.2 L912.5 339.1 L911.7 338.8 L911 340.1 L910.2 340.4 L909.5 341.2 L908.7 343.4 L908 344.3 L907.2 343.4 L906.5 342.9 L905.7 344.1 L905 347.2 L904.2 346.5 L903.5 346.3 L902.7 349.1 L902 349.7 L901.2 351.9 L900.5 351.9 L899.7 353.4 L899 355.1 L898.2 355.9 L897.4 356.3 L896.7 355.2 L895.9 355.5 L895.2 355.2 L894.4 355.4 L893.7 356.5 L892.9 356.7 L892.2 355.9 L891.4 356 L890.7 354.6 L889.9 355.6 L889.2 356.3 L888.4 354.8 L887.7 354.3 L886.9 356.3 L886.2 355.2 L885.4 356.4 L884.7 356.8 L883.9 355 L883.2 355.3 L882.4 356.2 L881.7 355 L880.9 357.1 L880.2 355.2 L879.4 353.8 L878.6 356.5 L877.9 356.6 L877.1 355.8 Z" fill="#b8b8b8"/>
<path d="M877.1 351.8 L877.9 353.9 L878.6 352.7 L879.4 352.8 L880.2 352.4 L880.9 352 L881.7 352.5 L882.4 352.8 L883.2 352.1 L883.9 352.8 L884.7 353.5 L885.4 353 L886.2 352.7 L886.9 353.4 L887.7 353.3 L888.4 353.3 L889.2 352.2 L889.9 351.6 L890.7 353.3 L891.4 352.8 L892.2 352.5 L892.9 353.1 L893.7 352.5 L894.4 352.4 L895.2 354 L895.9 351.8 L896.7 353.3 L897.4 353.3 L898.2 353.7 L899 352.5 L899.7 352.4 L900.5 351.2 L901.2 351.5 L902 349.7 L902.7 350.4 L903.5 350.4 L904.2 350 L905 349.5 L905.7 350.3 L906.5 348.3 L907.2 349.3 L908 348.8 L908.7 349.1 L909.5 349.2 L910.2 350.5 L911 348.7 L911.7 350.5 L912.5 350.8 L913.2 350 L914 350 L914.7 349.8 L915.5 350.3 L916.2 352.4 L917 349.8 L917.8 351.7 L918.5 351.2 L919.3 353 L920 352.1 L920.8 351.2 L921.5 351.9 L922.3 352.5 L923 352.5 L923.8 351.9 L924.5 352.4 L925.3 352.4 L926 353 L926.8 352.9 L927.5 352.9 L928.3 352.3 L929 353.2 L929.8 352.2 L930.5 352 L931.3 352.2 L932 352.3 L932.8 352.3 L933.5 351.2 L934.3 353.3 L935 352.8 L935.8 353.2 L936.6 352 L937.3 352.8 L938.1 352.4 L938.8 352.3 L939.6 353.5 L940.3 352 L941.1 352.8 L941.8 351.4 L942.6 353 L943.3 352.6 L944.1 352.1 L944.8 352.5 L945.6 351.6 L946.3 352.4 L947.1 353.3 L947.8 351.6 L948.6 354.1 L949.3 354.2 L950.1 353.1 L950.8 352.7 L951.6 352.9 L952.3 353 L953.1 353.5 L953.8 355.5 L954.6 353.3 L955.4 354.6 L956.1 355 L956.9 353.6 L957.6 354.1 L958.4 354.7 L959.1 353.9 L959.9 355.2 L960.6 355.8 L961.4 354.4 L962.1 353.9 L962.9 354.9 L963.6 354.8 L964.4 354.1 L965.1 354.5 L965.9 354.7 L966.6 355 L967.4 355.5 L968.1 354.5 L968.9 354 L969.6 353.8 L970.4 356.1 L971.1 354.7 L971.9 354.7 L972.6 356.6 L973.4 355.8 L974.2 356.6 L974.9 355 L975.7 354.7 L976.4 354.9 L977.2 355.7 L977.9 355.6 L978.7 355.6 L979.4 356.8 L980.2 356.3 L980.9 354.7 L981.7 355.8 L982.4 355.9 L983.2 355.1 L983.9 357.1 L984.7 356.2 L985.4 356.7 L986.2 355.3 L986.9 355 L987.7 356.3 L988.4 355.7 L989.2 355.5 L989.9 355.8 L990.7 356.1 L991.4 356 L992.2 355.9 L993 356.3 L993.7 358 L994.5 356.9 L995.2 355.8 L996 357.5 L996.7 355.9 L997.5 355.2 L998.2 355.4 L999 355 L999.7 357.1 L1000.5 355.7 L1001.2 355.5 L1002 356.1 L1002.7 356.3 L1003.5 355.6 L1004.2 356.1 L1005 356.5 L1005.7 356.9 L1006.5 355.9 L1007.2 356.9 L1008 356.7 L1008.7 356.9 L1009.5 356.2 L1010.2 355.8 L1011 357.2 L1011.8 357 L1012.5 356.2 L1013.3 356.1 L1014 357.1 L1014.8 358 L1015.5 356.9 L1016.3 358.4 L1017 356.9 L1017.8 356.9 L1018.5 357 L1019.3 357.5 L1020 355.8 L1020.8 356.9 L1021.5 357.6 L1022.3 355.8 L1023 357 L1023.8 357.3 L1024.5 358 L1025.3 357.9 L1026 356.8 L1026.8 358.2 L1027.5 356.1 L1028.3 355.9 L1029 357.8 L1029 359 L1028.3 359.5 L1027.5 358.7 L1026.8 359.7 L1026 359.5 L1025.3 359.4 L1024.5 359.3 L1023.8 359.7 L1023 358.1 L1022.3 359 L1021.5 359.1 L1020.8 358.6 L1020 358.4 L1019.3 359.9 L1018.5 359.5 L1017.8 359 L1017 359.9 L1016.3 358.6 L1015.5 359.7 L1014.8 359.9 L1014 358.8 L1013.3 359.2 L1012.5 358.7 L1011.8 357.9 L1011 359.2 L1010.2 359.1 L1009.5 359.1 L1008.7 359.5 L1008 358.5 L1007.2 359.4 L1006.5 358.4 L1005.7 359.1 L1005 358.6 L1004.2 359.9 L1003.5 358.5 L1002.7 358.8 L1002 358.6 L1001.2 357.2 L1000.5 358.6 L999.7 359.9 L999 359.2 L998.2 358.8 L997.5 358.7 L996.7 360.1 L996 357.5 L995.2 358.4 L994.5 358.9 L993.7 359.2 L993 357.7 L992.2 357.9 L991.4 357.9 L990.7 358.1 L989.9 357.9 L989.2 358.7 L988.4 358.3 L987.7 358.2 L986.9 358.5 L986.2 357.1 L985.4 358.6 L984.7 358.8 L983.9 357.3 L983.2 357.7 L982.4 357.1 L981.7 358.4 L980.9 358.3 L980.2 358 L979.4 358.1 L978.7 356.6 L977.9 357 L977.2 357 L976.4 358.4 L975.7 357.5 L974.9 357.7 L974.2 357.2 L973.4 358.4 L972.6 359 L971.9 357.7 L971.1 357.3 L970.4 357.7 L969.6 356.9 L968.9 356.7 L968.1 358.8 L967.4 356.2 L966.6 357.2 L965.9 357.6 L965.1 357.4 L964.4 357.2 L963.6 357.1 L962.9 358 L962.1 357.8 L961.4 357.3 L960.6 357.4 L959.9 357.9 L959.1 355.5 L958.4 355.9 L957.6 357.5 L956.9 356.4 L956.1 357.7 L955.4 357.8 L954.6 357.7 L953.8 356.5 L953.1 356.3 L952.3 356.7 L951.6 356.8 L950.8 355.7 L950.1 356 L949.3 355.6 L948.6 354.6 L947.8 355 L947.1 357.1 L946.3 355.9 L945.6 355.6 L944.8 355.4 L944.1 356.2 L943.3 356.7 L942.6 355.8 L941.8 355.6 L941.1 356.2 L940.3 354.4 L939.6 354.8 L938.8 355.2 L938.1 355.4 L937.3 354.6 L936.6 355.5 L935.8 354.3 L935 353.8 L934.3 353.9 L933.5 354.1 L932.8 354.9 L932 354.7 L931.3 355.4 L930.5 355.1 L929.8 356.4 L929 355.2 L928.3 354.7 L927.5 354.1 L926.8 355.4 L926 356.1 L925.3 354.8 L924.5 353.7 L923.8 355 L923 355.8 L922.3 353.2 L921.5 354.5 L920.8 354.3 L920 354.9 L919.3 353.9 L918.5 352.8 L917.8 353.8 L917 354.7 L916.2 352.6 L915.5 353.3 L914.7 352.6 L914 352.6 L913.2 352.5 L912.5 352.1 L911.7 351.9 L911 351 L910.2 352.1 L909.5 351.5 L908.7 351.4 L908 351.3 L907.2 352.8 L906.5 351.4 L905.7 351.8 L905 350.8 L904.2 352.8 L903.5 353 L902.7 353.2 L902 353.2 L901.2 353.4 L900.5 354.2 L899.7 353.6 L899 355.2 L898.2 355.8 L897.4 355 L896.7 355.7 L895.9 354.7 L895.2 354.6 L894.4 354.3 L893.7 354.6 L892.9 354.3 L892.2 356.2 L891.4 354 L890.7 355.9 L889.9 354.7 L889.2 354.7 L888.4 356.4 L887.7 354.6 L886.9 354.4 L886.2 355.7 L885.4 354.7 L884.7 354.7 L883.9 355 L883.2 354.9 L882.4 353.9 L881.7 354.2 L880.9 354.7 L880.2 355.5 L879.4 355.6 L878.6 355.7 L877.9 354.3 L877.1 355.5 Z" fill="#ecd9a4"/>
<path d="M1052 352.7 L1052.8 353.6 L1053.5 352.3 L1054.3 352.2 L1055 351.8 L1055.8 352.4 L1056.5 352.6 L1057.3 352.3 L1058.1 351.9 L1058.8 352.5 L1059.6 352 L1060.3 352.1 L1061.1 351.1 L1061.8 351.9 L1062.6 350.9 L1063.3 350.9 L1064.1 351.6 L1064.8 353.1 L1065.6 352.2 L1066.3 351.3 L1067.1 351 L1067.8 351.5 L1068.6 351 L1069.4 349.8 L1070.1 347.4 L1070.9 346 L1071.6 343.4 L1072.4 340.5 L1073.1 336.5 L1073.9 332.9 L1074.6 326.9 L1075.4 322.9 L1076.1 319.3 L1076.9 313.1 L1077.6 309 L1078.4 302.5 L1079.1 298.4 L1079.9 294.3 L1080.7 288.8 L1081.4 284.8 L1082.2 283.6 L1082.9 277.6 L1083.7 274.4 L1084.4 271.7 L1085.2 269.6 L1085.9 267.3 L1086.7 266.1 L1087.4 264.3 L1088.2 262 L1088.9 260.7 L1089.7 258.7 L1090.5 257.8 L1091.2 257.9 L1092 258.9 L1092.7 258.5 L1093.5 259.4 L1094.2 260.3 L1095 260.4 L1095.7 263.6 L1096.5 263 L1097.2 264.7 L1098 266.8 L1098.7 270.2 L1099.5 271.6 L1100.2 273.6 L1101 277.3 L1101.8 280.8 L1102.5 283 L1103.3 285.8 L1104 289.6 L1104.8 292 L1105.5 294.2 L1106.3 294.8 L1107 297.3 L1107.8 298.8 L1108.5 298.4 L1109.3 301.9 L1110 302.3 L1110.8 303.3 L1111.6 306.9 L1112.3 306.8 L1113.1 307.8 L1113.8 310.2 L1114.6 312.6 L1115.3 314.7 L1116.1 315.9 L1116.8 317.1 L1117.6 319 L1118.3 320.6 L1119.1 322.1 L1119.8 324.6 L1120.6 325.8 L1121.3 327.8 L1122.1 328.6 L1122.9 330 L1123.6 332.1 L1124.4 333.4 L1125.1 336.1 L1125.9 335.9 L1126.6 338.2 L1127.4 339.4 L1128.1 339.8 L1128.9 342.7 L1129.6 343.6 L1130.4 343.2 L1131.1 346.6 L1131.9 348.2 L1132.7 348 L1133.4 351.2 L1134.2 351 L1134.9 350.9 L1135.7 353.1 L1136.4 353.2 L1137.2 353.1 L1137.9 353.1 L1138.7 355.5 L1139.4 355.3 L1140.2 356.9 L1140.9 357.2 L1141.7 357 L1142.4 357.5 L1143.2 359.8 L1144 360 L1144.7 359.4 L1145.5 358.6 L1146.2 358.1 L1147 358.4 L1147.7 359.8 L1148.5 358.5 L1149.2 357.5 L1150 356.3 L1150.7 357 L1151.5 355.7 L1152.2 356 L1153 356.1 L1153.8 355.9 L1154.5 354.8 L1155.3 354 L1156 354.2 L1156.8 355.3 L1157.5 354.2 L1158.3 352.9 L1159 355.4 L1159.8 354.8 L1160.5 357.8 L1161.3 355.3 L1162 356.3 L1162.8 356.8 L1163.5 358 L1164.3 357.9 L1165.1 357.9 L1165.8 358.2 L1166.6 360.2 L1167.3 360.5 L1168.1 361 L1168.8 363.7 L1169.6 363.1 L1170.3 363.8 L1171.1 363 L1171.8 364 L1172.6 364 L1173.3 364.4 L1174.1 365.5 L1174.9 365.8 L1175.6 365.9 L1176.4 366.2 L1177.1 365.3 L1177.9 366.2 L1178.6 367.5 L1179.4 367.2 L1180.1 367.1 L1180.9 368.3 L1181.6 367.5 L1182.4 367.9 L1183.1 369.2 L1183.9 368.4 L1184.6 369.9 L1185.4 369.2 L1186.2 369.5 L1186.9 369.9 L1187.7 367.3 L1188.4 369.1 L1189.2 368.2 L1189.9 368.9 L1190.7 369.3 L1191.4 370.4 L1192.2 369.5 L1192.9 370.9 L1193.7 369.2 L1194.4 369.7 L1195.2 369.9 L1196 370.6 L1196.7 369.9 L1197.5 369.5 L1198.2 369.8 L1199 369.1 L1199.7 371.2 L1200.5 370.8 L1201.2 370.6 L1202 370.5 L1202 382.6 L1201.2 381.6 L1200.5 381.9 L1199.7 381.8 L1199 380.8 L1198.2 383.4 L1197.5 382.7 L1196.7 382.6 L1196 382.1 L1195.2 382.2 L1194.4 380.9 L1193.7 381.9 L1192.9 382.1 L1192.2 381.7 L1191.4 382.9 L1190.7 381.5 L1189.9 381.8 L1189.2 382 L1188.4 381.8 L1187.7 381.1 L1186.9 382.8 L1186.2 381.2 L1185.4 380.1 L1184.6 381.1 L1183.9 379.6 L1183.1 380 L1182.4 381.5 L1181.6 379.5 L1180.9 379.7 L1180.1 380.5 L1179.4 379.6 L1178.6 380.9 L1177.9 378.8 L1177.1 379.5 L1176.4 379.5 L1175.6 378.3 L1174.9 378.9 L1174.1 378.1 L1173.3 378.6 L1172.6 377.9 L1171.8 377.2 L1171.1 377.1 L1170.3 377.2 L1169.6 376.6 L1168.8 376.8 L1168.1 375.2 L1167.3 376.3 L1166.6 375.7 L1165.8 375.8 L1165.1 375.6 L1164.3 374.5 L1163.5 375.3 L1162.8 375.5 L1162 375.8 L1161.3 374.9 L1160.5 374.8 L1159.8 373.7 L1159 374.3 L1158.3 374.8 L1157.5 373.7 L1156.8 372.3 L1156 373.8 L1155.3 374.9 L1154.5 373.5 L1153.8 374.5 L1153 373.6 L1152.2 374.9 L1151.5 375.9 L1150.7 374.6 L1150 375.5 L1149.2 374.7 L1148.5 376.2 L1147.7 375.8 L1147 375.8 L1146.2 375.2 L1145.5 375.2 L1144.7 374.9 L1144 373.2 L1143.2 374.4 L1142.4 373.6 L1141.7 373.3 L1140.9 374.4 L1140.2 372 L1139.4 371.1 L1138.7 371.3 L1137.9 369.8 L1137.2 369.2 L1136.4 368 L1135.7 367.5 L1134.9 366.4 L1134.2 365.3 L1133.4 364.7 L1132.7 362.9 L1131.9 363.2 L1131.1 361.6 L1130.4 360.7 L1129.6 359.3 L1128.9 357.6 L1128.1 356.5 L1127.4 353.9 L1126.6 355.1 L1125.9 353.6 L1125.1 353.2 L1124.4 352.8 L1123.6 350.4 L1122.9 349.4 L1122.1 347.5 L1121.3 346.6 L1120.6 344.3 L1119.8 343.9 L1119.1 344.2 L1118.3 342.8 L1117.6 340.2 L1116.8 340.1 L1116.1 339.2 L1115.3 337.3 L1114.6 337.3 L1113.8 335.1 L1113.1 335.5 L1112.3 331.3 L1111.6 332.1 L1110.8 330.5 L1110 329.3 L1109.3 327.9 L1108.5 326 L1107.8 325 L1107 324.5 L1106.3 321.3 L1105.5 320.4 L1104.8 318.4 L1104 315.6 L1103.3 311 L1102.5 309.1 L1101.8 307.2 L1101 306.7 L1100.2 302 L1099.5 301.9 L1098.7 301.8 L1098 299.8 L1097.2 298.1 L1096.5 297.9 L1095.7 297.4 L1095 297.5 L1094.2 296.9 L1093.5 296.9 L1092.7 297.9 L1092 298.7 L1091.2 298.4 L1090.5 300.3 L1089.7 301.3 L1088.9 302.4 L1088.2 303.4 L1087.4 304.7 L1086.7 306.2 L1085.9 309 L1085.2 309 L1084.4 312.8 L1083.7 315.1 L1082.9 317.1 L1082.2 321 L1081.4 323.4 L1080.7 326.2 L1079.9 329.1 L1079.1 331.9 L1078.4 333.7 L1077.6 337 L1076.9 339 L1076.1 341 L1075.4 343.2 L1074.6 346.3 L1073.9 346.7 L1073.1 349.3 L1072.4 349.4 L1071.6 352 L1070.9 352.6 L1070.1 352.7 L1069.4 353.1 L1068.6 353.4 L1067.8 355 L1067.1 354.6 L1066.3 354.1 L1065.6 354.1 L1064.8 354.3 L1064.1 354.9 L1063.3 354.6 L1062.6 356 L1061.8 355.3 L1061.1 355 L1060.3 354.7 L1059.6 356.2 L1058.8 355.3 L1058.1 355.6 L1057.3 355.4 L1056.5 356.5 L1055.8 356.6 L1055 354.8 L1054.3 354.8 L1053.5 356.1 L1052.8 355.1 L1052 355 Z" fill="#b8b8b8"/>
<path d="M1052 352.9 L1052.8 353.2 L1053.5 353 L1054.3 352.7 L1055 352.4 L1055.8 352.8 L1056.5 352.7 L1057.3 353 L1058.1 353.6 L1058.8 353.2 L1059.6 353.6 L1060.3 353 L1061.1 353.1 L1061.8 353.2 L1062.6 353.3 L1063.3 353.4 L1064.1 352.5 L1064.8 353 L1065.6 352.9 L1066.3 353.5 L1067.1 353.2 L1067.8 352.2 L1068.6 352.5 L1069.4 352.3 L1070.1 351.3 L1070.9 351.4 L1071.6 350.1 L1072.4 348.3 L1073.1 348.3 L1073.9 347.5 L1074.6 345.5 L1075.4 345.3 L1076.1 342.1 L1076.9 344 L1077.6 340.8 L1078.4 340.3 L1079.1 339.3 L1079.9 337.5 L1080.7 337.5 L1081.4 335.7 L1082.2 334.3 L1082.9 332.7 L1083.7 333.5 L1084.4 332.7 L1085.2 330.8 L1085.9 330.2 L1086.7 330 L1087.4 328.3 L1088.2 327.9 L1088.9 327 L1089.7 326.1 L1090.5 325.2 L1091.2 325 L1092 323.9 L1092.7 323.3 L1093.5 322.4 L1094.2 321.4 L1095 322 L1095.7 322.4 L1096.5 323.4 L1097.2 322.8 L1098 322.2 L1098.7 324.2 L1099.5 325.2 L1100.2 325.3 L1101 326 L1101.8 326.7 L1102.5 327.2 L1103.3 328.8 L1104 328.2 L1104.8 329.1 L1105.5 329.5 L1106.3 330.9 L1107 331.6 L1107.8 332.4 L1108.5 333.7 L1109.3 335 L1110 334.3 L1110.8 336 L1111.6 336.3 L1112.3 337 L1113.1 337.9 L1113.8 339.2 L1114.6 338.7 L1115.3 341.4 L1116.1 341.1 L1116.8 341.4 L1117.6 341.6 L1118.3 343.9 L1119.1 344.3 L1119.8 345 L1120.6 345.2 L1121.3 346.7 L1122.1 347.2 L1122.9 348.1 L1123.6 347.5 L1124.4 348.5 L1125.1 348.2 L1125.9 349.1 L1126.6 349.3 L1127.4 350.1 L1128.1 350.6 L1128.9 351 L1129.6 351.5 L1130.4 352 L1131.1 352.1 L1131.9 352.3 L1132.7 352.8 L1133.4 353.9 L1134.2 354.3 L1134.9 355 L1135.7 356.2 L1136.4 354.4 L1137.2 355.9 L1137.9 354.9 L1138.7 355.7 L1139.4 355.8 L1140.2 356.5 L1140.9 357.5 L1141.7 357.8 L1142.4 357.2 L1143.2 357.7 L1144 357.5 L1144.7 356.6 L1145.5 358.5 L1146.2 357.3 L1147 357.4 L1147.7 357.8 L1148.5 357.4 L1149.2 357.7 L1150 358.7 L1150.7 357.7 L1151.5 357.9 L1152.2 357.3 L1153 357.2 L1153.8 358.5 L1154.5 358.5 L1155.3 358 L1156 359.1 L1156.8 357.4 L1157.5 358.3 L1158.3 357.4 L1159 357.8 L1159.8 358 L1160.5 356.8 L1161.3 358.4 L1162 357.5 L1162.8 357.5 L1163.5 357.4 L1164.3 357.8 L1165.1 356.9 L1165.8 357 L1166.6 358.1 L1167.3 357.9 L1168.1 357.9 L1168.8 358.5 L1169.6 359.5 L1170.3 358.1 L1171.1 357.4 L1171.8 358.9 L1172.6 358.2 L1173.3 359.3 L1174.1 359 L1174.9 359.8 L1175.6 361 L1176.4 359.9 L1177.1 359 L1177.9 359.5 L1178.6 359.5 L1179.4 359.3 L1180.1 360.5 L1180.9 360.3 L1181.6 360.8 L1182.4 360.7 L1183.1 360.1 L1183.9 359.9 L1184.6 359.9 L1185.4 360.1 L1186.2 359.7 L1186.9 359 L1187.7 361.2 L1188.4 360.5 L1189.2 359.2 L1189.9 358.9 L1190.7 358.6 L1191.4 358.8 L1192.2 358.1 L1192.9 356.6 L1193.7 357.8 L1194.4 357.7 L1195.2 356.2 L1196 355.9 L1196.7 356.4 L1197.5 355.5 L1198.2 356.5 L1199 356.1 L1199.7 354.3 L1200.5 355.5 L1201.2 354.2 L1202 354.5 L1202 360.5 L1201.2 360.5 L1200.5 361.3 L1199.7 362.7 L1199 362.3 L1198.2 359.7 L1197.5 362.4 L1196.7 362.1 L1196 362.5 L1195.2 362.4 L1194.4 363.3 L1193.7 364.1 L1192.9 364.1 L1192.2 364.1 L1191.4 365.4 L1190.7 364.6 L1189.9 365.6 L1189.2 364.7 L1188.4 366.5 L1187.7 364.8 L1186.9 366.6 L1186.2 365.3 L1185.4 365.7 L1184.6 366.6 L1183.9 366.1 L1183.1 365.6 L1182.4 365.7 L1181.6 366.5 L1180.9 366.7 L1180.1 366.7 L1179.4 366.5 L1178.6 365.4 L1177.9 365.4 L1177.1 365.8 L1176.4 367 L1175.6 366.1 L1174.9 365.1 L1174.1 364.7 L1173.3 364.8 L1172.6 364.2 L1171.8 365.3 L1171.1 364.6 L1170.3 364.1 L1169.6 364 L1168.8 364.2 L1168.1 363.9 L1167.3 363.3 L1166.6 363.1 L1165.8 363.3 L1165.1 362.6 L1164.3 362.2 L1163.5 362.7 L1162.8 363.5 L1162 362.6 L1161.3 363 L1160.5 363.4 L1159.8 363.2 L1159 363.2 L1158.3 363.5 L1157.5 363.1 L1156.8 363.2 L1156 363 L1155.3 363.7 L1154.5 363.8 L1153.8 363.1 L1153 363.5 L1152.2 363.2 L1151.5 363.6 L1150.7 362.4 L1150 362.5 L1149.2 364 L1148.5 363.6 L1147.7 362.8 L1147 361.6 L1146.2 362.7 L1145.5 362.7 L1144.7 362.1 L1144 362.6 L1143.2 362.2 L1142.4 361.1 L1141.7 361.4 L1140.9 361.7 L1140.2 360.8 L1139.4 361.9 L1138.7 361.6 L1137.9 360.2 L1137.2 361 L1136.4 360.1 L1135.7 359.9 L1134.9 359.5 L1134.2 359 L1133.4 358.4 L1132.7 358.8 L1131.9 358.5 L1131.1 357.6 L1130.4 357 L1129.6 357.7 L1128.9 356.1 L1128.1 356.9 L1127.4 355.4 L1126.6 354.9 L1125.9 354.9 L1125.1 354.1 L1124.4 354.4 L1123.6 353.4 L1122.9 352.1 L1122.1 352.1 L1121.3 352.2 L1120.6 351.6 L1119.8 350.6 L1119.1 349.1 L1118.3 348.7 L1117.6 348.7 L1116.8 348.8 L1116.1 348.3 L1115.3 346.6 L1114.6 345.4 L1113.8 344.6 L1113.1 344.8 L1112.3 343 L1111.6 342.8 L1110.8 342.1 L1110 341.4 L1109.3 340.2 L1108.5 340.7 L1107.8 339.5 L1107 339.9 L1106.3 338.5 L1105.5 337.6 L1104.8 336.3 L1104 336.5 L1103.3 336.2 L1102.5 333.7 L1101.8 333.7 L1101 332.9 L1100.2 332.9 L1099.5 331 L1098.7 331.2 L1098 331.1 L1097.2 330.6 L1096.5 330.7 L1095.7 330.2 L1095 330 L1094.2 330.1 L1093.5 330.1 L1092.7 330.1 L1092 330.4 L1091.2 331.9 L1090.5 331.9 L1089.7 332.5 L1088.9 332.4 L1088.2 334 L1087.4 334.6 L1086.7 335.6 L1085.9 337 L1085.2 335.7 L1084.4 337.9 L1083.7 338 L1082.9 340 L1082.2 340.5 L1081.4 342.2 L1080.7 342.6 L1079.9 343.9 L1079.1 346.2 L1078.4 344.9 L1077.6 346.5 L1076.9 347.8 L1076.1 348.9 L1075.4 348.8 L1074.6 349.9 L1073.9 350.9 L1073.1 353.3 L1072.4 352.4 L1071.6 352.8 L1070.9 353.2 L1070.1 354 L1069.4 354.3 L1068.6 355.2 L1067.8 354.8 L1067.1 354.2 L1066.3 355.5 L1065.6 355.4 L1064.8 355.7 L1064.1 354.1 L1063.3 355.6 L1062.6 355.8 L1061.8 355.5 L1061.1 354.3 L1060.3 355.9 L1059.6 354.8 L1058.8 355.1 L1058.1 354.8 L1057.3 355.4 L1056.5 356.9 L1055.8 355.1 L1055 356.3 L1054.3 354.9 L1053.5 355.5 L1052.8 355 L1052 356 Z" fill="#ecd9a4"/>
<path d="M1227.1 353.4 L1227.9 351.5 L1228.7 352.2 L1229.4 351.3 L1230.2 352.8 L1230.9 353.4 L1231.7 351.5 L1232.4 353.4 L1233.2 352.9 L1233.9 352 L1234.7 350.6 L1235.4 353.2 L1236.2 352.1 L1236.9 351.7 L1237.7 352.4 L1238.4 352.4 L1239.2 353.3 L1240 351.3 L1240.7 353 L1241.5 353.2 L1242.2 353.2 L1243 351.9 L1243.7 351.3 L1244.5 352.2 L1245.2 350.7 L1246 349.5 L1246.7 348.9 L1247.5 345.7 L1248.2 341.9 L1249 340.6 L1249.7 336.1 L1250.5 334.4 L1251.3 330.1 L1252 325.2 L1252.8 321.5 L1253.5 317.9 L1254.3 313.1 L1255 309.9 L1255.8 304.9 L1256.5 301.9 L1257.3 299 L1258 296.2 L1258.8 292 L1259.5 291.1 L1260.3 287.2 L1261 286.3 L1261.8 284.3 L1262.6 285.8 L1263.3 283.5 L1264.1 284.3 L1264.8 284.1 L1265.6 284.4 L1266.3 284.3 L1267.1 285.4 L1267.8 287.4 L1268.6 287 L1269.3 288.4 L1270.1 289.9 L1270.8 290.1 L1271.6 290.5 L1272.3 292.3 L1273.1 294.9 L1273.9 294.1 L1274.6 296.4 L1275.4 299 L1276.1 300.3 L1276.9 301.1 L1277.6 303.2 L1278.4 304.2 L1279.1 304.7 L1279.9 306 L1280.6 308.3 L1281.4 311.1 L1282.1 311.6 L1282.9 313 L1283.6 314.8 L1284.4 315.9 L1285.2 318.7 L1285.9 319.6 L1286.7 322.6 L1287.4 322.2 L1288.2 326 L1288.9 326.9 L1289.7 327.5 L1290.4 331.3 L1291.2 332.1 L1291.9 332 L1292.7 334.3 L1293.4 336.2 L1294.2 336.4 L1295 337.9 L1295.7 338.2 L1296.5 338.2 L1297.2 337.8 L1298 338.2 L1298.7 337.3 L1299.5 336.8 L1300.2 334.5 L1301 336.6 L1301.7 336.9 L1302.5 335.7 L1303.2 335.7 L1304 337.9 L1304.7 335.4 L1305.5 337.6 L1306.3 339.7 L1307 337.8 L1307.8 339.7 L1308.5 341.4 L1309.3 340.6 L1310 341.9 L1310.8 343 L1311.5 342.4 L1312.3 343.9 L1313 345 L1313.8 346.2 L1314.5 346.3 L1315.3 347 L1316 347 L1316.8 348.2 L1317.6 349.8 L1318.3 349.8 L1319.1 349.6 L1319.8 350.2 L1320.6 353.5 L1321.3 352.8 L1322.1 352.9 L1322.8 350.9 L1323.6 353.8 L1324.3 354.1 L1325.1 355.5 L1325.8 354.8 L1326.6 354.8 L1327.3 355.5 L1328.1 353.9 L1328.9 356.5 L1329.6 356.2 L1330.4 355.7 L1331.1 357.6 L1331.9 358.3 L1332.6 356.1 L1333.4 357 L1334.1 358.1 L1334.9 358.4 L1335.6 358.3 L1336.4 358.3 L1337.1 361.1 L1337.9 360.6 L1338.6 359.2 L1339.4 359.4 L1340.2 362.1 L1340.9 361.8 L1341.7 362.7 L1342.4 362.1 L1343.2 361 L1343.9 362.1 L1344.7 360.4 L1345.4 361.7 L1346.2 362.4 L1346.9 363 L1347.7 362.1 L1348.4 362.5 L1349.2 362.9 L1349.9 362.8 L1350.7 362.8 L1351.5 362.3 L1352.2 361.6 L1353 362.2 L1353.7 361.3 L1354.5 360.3 L1355.2 360.1 L1356 360.2 L1356.7 359.7 L1357.5 359.4 L1358.2 358.7 L1359 358.2 L1359.7 357.3 L1360.5 355.7 L1361.2 356.3 L1362 356 L1362.8 354.7 L1363.5 353.3 L1364.3 352.9 L1365 350.9 L1365.8 349.1 L1366.5 349.8 L1367.3 348.2 L1368 348.9 L1368.8 346.9 L1369.5 345.3 L1370.3 346.3 L1371 348.2 L1371.8 346.7 L1372.5 346.1 L1373.3 346.8 L1374.1 348.1 L1374.8 348.3 L1375.6 348.3 L1376.3 349.5 L1377.1 349 L1377.8 348.6 L1378.6 349.3 L1378.6 360.4 L1377.8 359.8 L1377.1 361.9 L1376.3 360.7 L1375.6 360.6 L1374.8 360.3 L1374.1 359.7 L1373.3 359.1 L1372.5 359.1 L1371.8 359.2 L1371 359.4 L1370.3 360.2 L1369.5 361 L1368.8 359.8 L1368 360.7 L1367.3 360.4 L1366.5 361.6 L1365.8 362.9 L1365 363.6 L1364.3 364.1 L1363.5 363.8 L1362.8 365.6 L1362 365.5 L1361.2 366.9 L1360.5 367.4 L1359.7 368.2 L1359 368.5 L1358.2 370.3 L1357.5 368.6 L1356.7 369.1 L1356 369.7 L1355.2 372.1 L1354.5 372.7 L1353.7 370.2 L1353 371.8 L1352.2 371.6 L1351.5 372.9 L1350.7 372.5 L1349.9 374.4 L1349.2 372.2 L1348.4 373.5 L1347.7 373.8 L1346.9 372.7 L1346.2 372.3 L1345.4 372.7 L1344.7 371.3 L1343.9 371.6 L1343.2 372.4 L1342.4 371.7 L1341.7 370.3 L1340.9 370.2 L1340.2 370.8 L1339.4 369.4 L1338.6 370.7 L1337.9 368.9 L1337.1 369.1 L1336.4 368.5 L1335.6 369.4 L1334.9 369.1 L1334.1 366.8 L1333.4 367.6 L1332.6 367.2 L1331.9 366.6 L1331.1 365.5 L1330.4 365.9 L1329.6 366.6 L1328.9 365.5 L1328.1 365.1 L1327.3 366.8 L1326.6 365.1 L1325.8 363.9 L1325.1 365.4 L1324.3 363.3 L1323.6 364.2 L1322.8 363.4 L1322.1 363.5 L1321.3 363.5 L1320.6 362.9 L1319.8 362.8 L1319.1 361.6 L1318.3 362.7 L1317.6 360.9 L1316.8 360.1 L1316 358.9 L1315.3 357.2 L1314.5 359.5 L1313.8 358.3 L1313 358.7 L1312.3 357.2 L1311.5 358.9 L1310.8 356.5 L1310 357 L1309.3 356.5 L1308.5 355.9 L1307.8 356.1 L1307 355.4 L1306.3 355.7 L1305.5 356.1 L1304.7 355.4 L1304 355.9 L1303.2 356.7 L1302.5 357.1 L1301.7 356.4 L1301 356.2 L1300.2 355.5 L1299.5 356 L1298.7 356.3 L1298 356 L1297.2 355.2 L1296.5 355 L1295.7 353.7 L1295 354.4 L1294.2 353.8 L1293.4 351.7 L1292.7 352.1 L1291.9 350.4 L1291.2 348 L1290.4 348.8 L1289.7 347.2 L1288.9 346.4 L1288.2 345.4 L1287.4 344.3 L1286.7 341.7 L1285.9 340.7 L1285.2 339 L1284.4 337.4 L1283.6 336 L1282.9 333.4 L1282.1 331.6 L1281.4 331.6 L1280.6 329.7 L1279.9 328.1 L1279.1 325.8 L1278.4 324.2 L1277.6 323.2 L1276.9 321.2 L1276.1 321.8 L1275.4 320.7 L1274.6 318.9 L1273.9 317.6 L1273.1 316.1 L1272.3 314.9 L1271.6 312.9 L1270.8 312.7 L1270.1 311.5 L1269.3 310.2 L1268.6 309.6 L1267.8 310.9 L1267.1 310 L1266.3 308.4 L1265.6 310.5 L1264.8 310.4 L1264.1 308.5 L1263.3 310.1 L1262.6 309.9 L1261.8 312.2 L1261 312.7 L1260.3 314.9 L1259.5 313.8 L1258.8 316.2 L1258 318.2 L1257.3 320.8 L1256.5 323.2 L1255.8 325 L1255 326.8 L1254.3 330.9 L1253.5 333 L1252.8 337 L1252 339.3 L1251.3 341.6 L1250.5 345.4 L1249.7 346.9 L1249 349.1 L1248.2 350.8 L1247.5 352.3 L1246.7 353.6 L1246 353.8 L1245.2 355 L1244.5 355.7 L1243.7 355.4 L1243 355.3 L1242.2 354.3 L1241.5 355.2 L1240.7 355.9 L1240 355.8 L1239.2 354.9 L1238.4 357.2 L1237.7 355.2 L1236.9 355 L1236.2 356.1 L1235.4 357.2 L1234.7 355 L1233.9 355.9 L1233.2 355.6 L1232.4 356 L1231.7 354.9 L1230.9 355.7 L1230.2 355.1 L1229.4 354.3 L1228.7 356 L1227.9 355.9 L1227.1 356.5 Z" fill="#b8b8b8"/>
<path d="M1227.1 352.8 L1227.9 354.3 L1228.7 352.5 L1229.4 353.3 L1230.2 354 L1230.9 352.8 L1231.7 353 L1232.4 352.5 L1233.2 353.3 L1233.9 352.2 L1234.7 353.2 L1235.4 352.4 L1236.2 353.1 L1236.9 351.8 L1237.7 352.2 L1238.4 353.4 L1239.2 353.2 L1240 350.9 L1240.7 353.7 L1241.5 352.3 L1242.2 353.3 L1243 353.4 L1243.7 352.4 L1244.5 351.6 L1245.2 349.5 L1246 349.4 L1246.7 348.2 L1247.5 343.7 L1248.2 342.1 L1249 337.9 L1249.7 333 L1250.5 325.9 L1251.3 320.1 L1252 313.4 L1252.8 306.9 L1253.5 297.5 L1254.3 289.6 L1255 280.8 L1255.8 273.3 L1256.5 263.5 L1257.3 256.5 L1258 248.8 L1258.8 243 L1259.5 237.9 L1260.3 232 L1261 228.8 L1261.8 225.3 L1262.6 224 L1263.3 223.5 L1264.1 223.4 L1264.8 225.4 L1265.6 227.6 L1266.3 229.6 L1267.1 234.2 L1267.8 237.7 L1268.6 241.5 L1269.3 246.3 L1270.1 251.1 L1270.8 255.6 L1271.6 260.5 L1272.3 264 L1273.1 268.1 L1273.9 271 L1274.6 275.5 L1275.4 279.7 L1276.1 282 L1276.9 285.2 L1277.6 289.9 L1278.4 291.5 L1279.1 293.6 L1279.9 295.5 L1280.6 298.7 L1281.4 302.8 L1282.1 303.5 L1282.9 305.9 L1283.6 307.8 L1284.4 309 L1285.2 311.3 L1285.9 312.8 L1286.7 314.2 L1287.4 316.5 L1288.2 316.8 L1288.9 318.3 L1289.7 319.8 L1290.4 322.3 L1291.2 322.6 L1291.9 325.3 L1292.7 324.7 L1293.4 326.2 L1294.2 326.5 L1295 328.8 L1295.7 330.6 L1296.5 332.3 L1297.2 332.5 L1298 334 L1298.7 336.5 L1299.5 336.6 L1300.2 338.1 L1301 339.6 L1301.7 339.7 L1302.5 342 L1303.2 342.1 L1304 343.6 L1304.7 343.8 L1305.5 344.9 L1306.3 346.1 L1307 346.2 L1307.8 345.6 L1308.5 347.3 L1309.3 347.9 L1310 348.7 L1310.8 349.5 L1311.5 349 L1312.3 351.6 L1313 350.5 L1313.8 352.3 L1314.5 351.7 L1315.3 352 L1316 352.5 L1316.8 352.6 L1317.6 353.4 L1318.3 354.1 L1319.1 354.7 L1319.8 355 L1320.6 353.4 L1321.3 354.7 L1322.1 354.9 L1322.8 354.7 L1323.6 355.1 L1324.3 355.1 L1325.1 354.5 L1325.8 354.8 L1326.6 355.9 L1327.3 355.3 L1328.1 356.3 L1328.9 355.2 L1329.6 355.2 L1330.4 355.6 L1331.1 355.7 L1331.9 356.1 L1332.6 355 L1333.4 355.6 L1334.1 354.9 L1334.9 353.6 L1335.6 353.4 L1336.4 352.4 L1337.1 352 L1337.9 350.7 L1338.6 348.7 L1339.4 346.3 L1340.2 345.2 L1340.9 343.1 L1341.7 340.8 L1342.4 339.8 L1343.2 337.2 L1343.9 335.9 L1344.7 334.2 L1345.4 333.1 L1346.2 333.7 L1346.9 332.3 L1347.7 332.9 L1348.4 333.4 L1349.2 334.5 L1349.9 334.6 L1350.7 336.5 L1351.5 336.8 L1352.2 338 L1353 339.1 L1353.7 340.5 L1354.5 341.5 L1355.2 342.2 L1356 343.7 L1356.7 344.6 L1357.5 346.7 L1358.2 346.3 L1359 347.9 L1359.7 347.9 L1360.5 349.6 L1361.2 349.6 L1362 349.8 L1362.8 351.2 L1363.5 351.8 L1364.3 352 L1365 351.9 L1365.8 351.5 L1366.5 351.1 L1367.3 351.1 L1368 351.1 L1368.8 351.7 L1369.5 351.1 L1370.3 351.4 L1371 351.4 L1371.8 351.2 L1372.5 350.8 L1373.3 350.5 L1374.1 352.7 L1374.8 351 L1375.6 350.1 L1376.3 350.3 L1377.1 350.7 L1377.8 352.1 L1378.6 351.1 L1378.6 356.2 L1377.8 355.8 L1377.1 356.8 L1376.3 356.2 L1375.6 356.9 L1374.8 357.1 L1374.1 357 L1373.3 356.7 L1372.5 357.2 L1371.8 356.2 L1371 356.6 L1370.3 356.4 L1369.5 357.2 L1368.8 356.5 L1368 357.6 L1367.3 357 L1366.5 357.7 L1365.8 358 L1365 358.4 L1364.3 358.7 L1363.5 357.8 L1362.8 356.9 L1362 357.9 L1361.2 358 L1360.5 358 L1359.7 357.2 L1359 357.2 L1358.2 356.9 L1357.5 357.4 L1356.7 356.7 L1356 357.7 L1355.2 357.4 L1354.5 357.4 L1353.7 357.6 L1353 357 L1352.2 357.4 L1351.5 357.7 L1350.7 356.7 L1349.9 357.7 L1349.2 357.6 L1348.4 357.5 L1347.7 357.3 L1346.9 356.9 L1346.2 356.9 L1345.4 357.1 L1344.7 356.7 L1343.9 357.3 L1343.2 357.9 L1342.4 357.8 L1341.7 358.5 L1340.9 358.9 L1340.2 358.7 L1339.4 361.3 L1338.6 360.1 L1337.9 359.9 L1337.1 360.6 L1336.4 361.7 L1335.6 360.8 L1334.9 360.1 L1334.1 361.6 L1333.4 361.6 L1332.6 361.4 L1331.9 360.8 L1331.1 360.8 L1330.4 360.6 L1329.6 359.7 L1328.9 360.5 L1328.1 361.8 L1327.3 360.9 L1326.6 359.9 L1325.8 361.7 L1325.1 361.7 L1324.3 360.2 L1323.6 360.6 L1322.8 360.5 L1322.1 359.5 L1321.3 360 L1320.6 359.2 L1319.8 359 L1319.1 359.2 L1318.3 359 L1317.6 358.2 L1316.8 357.6 L1316 358.7 L1315.3 358.5 L1314.5 357.5 L1313.8 357.6 L1313 359.1 L1312.3 356.5 L1311.5 357.2 L1310.8 357.2 L1310 356.6 L1309.3 356.4 L1308.5 355.1 L1307.8 355.5 L1307 354.3 L1306.3 354 L1305.5 353.6 L1304.7 353.2 L1304 352.5 L1303.2 352.4 L1302.5 352.4 L1301.7 351.2 L1301 350.7 L1300.2 350.4 L1299.5 349 L1298.7 349.2 L1298 348 L1297.2 347.6 L1296.5 347.9 L1295.7 347.4 L1295 346 L1294.2 343.8 L1293.4 345.2 L1292.7 343.2 L1291.9 341.4 L1291.2 341.3 L1290.4 339.2 L1289.7 338 L1288.9 338 L1288.2 336.5 L1287.4 335.2 L1286.7 333.9 L1285.9 330.9 L1285.2 329 L1284.4 329.3 L1283.6 327.7 L1282.9 325.3 L1282.1 323.6 L1281.4 322.2 L1280.6 320.8 L1279.9 318.3 L1279.1 315.7 L1278.4 314.2 L1277.6 312.2 L1276.9 310 L1276.1 309.1 L1275.4 306.1 L1274.6 303.9 L1273.9 301.2 L1273.1 297.6 L1272.3 296 L1271.6 293.1 L1270.8 289.8 L1270.1 286.8 L1269.3 284 L1268.6 280.8 L1267.8 280.6 L1267.1 276 L1266.3 274.7 L1265.6 273.6 L1264.8 271.3 L1264.1 272.4 L1263.3 272.6 L1262.6 273.4 L1261.8 273.3 L1261 275.5 L1260.3 277 L1259.5 280.4 L1258.8 285.4 L1258 287.9 L1257.3 293.4 L1256.5 297.6 L1255.8 303.1 L1255 309.5 L1254.3 314.3 L1253.5 319 L1252.8 323.9 L1252 329.8 L1251.3 333.5 L1250.5 338.3 L1249.7 340.8 L1249 344.4 L1248.2 347.3 L1247.5 349.7 L1246.7 351.7 L1246 352.6 L1245.2 353.5 L1244.5 355.2 L1243.7 354.7 L1243 354.3 L1242.2 354.1 L1241.5 354.4 L1240.7 354.6 L1240 353.5 L1239.2 354.5 L1238.4 355.2 L1237.7 355.1 L1236.9 354.6 L1236.2 355.5 L1235.4 353.3 L1234.7 354.7 L1233.9 355.2 L1233.2 353.3 L1232.4 355.5 L1231.7 355.7 L1230.9 355.1 L1230.2 356.8 L1229.4 355.8 L1228.7 354 L1227.9 356.2 L1227.1 354.6 Z" fill="#ecd9a4"/>
<line x1="722.4" y1="356.2" x2="853" y2="356.2" stroke="#333" stroke-width="1.1" stroke-dasharray="4 3"/>
<line x1="895.7" y1="354.2" x2="1029" y2="354.2" stroke="#333" stroke-width="1.1" stroke-dasharray="4 3"/>
<line x1="1069.8" y1="354.1" x2="1202" y2="354.1" stroke="#333" stroke-width="1.1" stroke-dasharray="4 3"/>
<line x1="1246.4" y1="354.1" x2="1378.6" y2="354.1" stroke="#333" stroke-width="1.1" stroke-dasharray="4 3"/>
<path d="M702.1 357.5 L702.9 357.7 L703.6 356.4 L704.4 355.6 L705.2 355.3 L705.9 356.3 L706.7 355.3 L707.4 354.9 L708.2 356.4 L708.9 356.3 L709.7 356.7 L710.4 355.3 L711.2 356.1 L711.9 356 L712.7 354.7 L713.4 356.5 L714.2 356.3 L714.9 358.1 L715.7 356.1 L716.4 355.8 L717.2 357 L717.9 356 L718.7 356.7 L719.4 355.5 L720.2 355.9 L721 356.5 L721.7 355.9 L722.5 355.1 L723.2 353.6 L724 354.2 L724.7 352.7 L725.5 351.5 L726.2 348.9 L727 346.8 L727.7 341.9 L728.5 337.3 L729.2 331.9 L730 323.6 L730.7 316.9 L731.5 308.8 L732.2 302.5 L733 291.5 L733.7 282.7 L734.5 273.2 L735.2 263 L736 252.8 L736.8 246.3 L737.5 236.6 L738.3 229.5 L739 220.2 L739.8 214.2 L740.5 209.7 L741.3 204.6 L742 197.3 L742.8 193.1 L743.5 190.7 L744.3 188.3 L745 185.5 L745.8 183.8 L746.5 181.3 L747.3 181.9 L748 182.1 L748.8 180.9 L749.5 180.7 L750.3 182.4 L751 185.2 L751.8 184.7 L752.6 188.2 L753.3 189.7 L754.1 193.1 L754.8 196 L755.6 199.3 L756.3 204 L757.1 206.6 L757.8 211.1 L758.6 213.7 L759.3 217.3 L760.1 222 L760.8 223.1 L761.6 229.5 L762.3 233.6 L763.1 236.2 L763.8 241.6 L764.6 244.4 L765.3 246.4 L766.1 252.1 L766.8 255.1 L767.6 259.1 L768.4 263 L769.1 267.7 L769.9 270.2 L770.6 273.5 L771.4 277.2 L772.1 278.6 L772.9 284.6 L773.6 285.7 L774.4 290.2 L775.1 291.8 L775.9 295 L776.6 298.5 L777.4 303.5 L778.1 305.2 L778.9 306.6 L779.6 309.5 L780.4 311.1 L781.1 314.5 L781.9 316.2 L782.6 319.5 L783.4 319.6 L784.2 322.5 L784.9 323.8 L785.7 325.7 L786.4 328.6 L787.2 329.7 L787.9 331.5 L788.7 333.4 L789.4 334.7 L790.2 333.5 L790.9 336.4 L791.7 335.4 L792.4 337.9 L793.2 340.6 L793.9 339.5 L794.7 340.1 L795.4 341.3 L796.2 341.8 L796.9 342.4 L797.7 342.1 L798.4 344.3 L799.2 344.6 L800 344.1 L800.7 345 L801.5 345.7 L802.2 346.5 L803 346.3 L803.7 347 L804.5 346.5 L805.2 346.2 L806 347.1 L806.7 348.8 L807.5 349.1 L808.2 348.7 L809 348.4 L809.7 349.5 L810.5 351 L811.2 351 L812 349.4 L812.7 350.2 L813.5 349.1 L814.2 349.5 L815 350.8 L815.8 350.8 L816.5 351.8 L817.3 352.3 L818 352 L818.8 352.6 L819.5 351.1 L820.3 350.7 L821 352.3 L821.8 354.4 L822.5 352.5 L823.3 351.3 L824 352.7 L824.8 353.9 L825.5 351.8 L826.3 353.6 L827 352.5 L827.8 354.4 L828.5 354.1 L829.3 353.8 L830 355.5 L830.8 353.5 L831.6 353.4 L832.3 355.8 L833.1 353.5 L833.8 356.3 L834.6 354.4 L835.3 353.7 L836.1 354.7 L836.8 354.9 L837.6 355 L838.3 354.8 L839.1 356 L839.8 353 L840.6 354.7 L841.3 355 L842.1 356.9 L842.8 353.6 L843.6 355.2 L844.3 354.5 L845.1 355.1 L845.8 356.3 L846.6 356.3 L847.4 357.3 L848.1 355.6 L848.9 356.6 L849.6 357.5 L850.4 357.4 L851.1 356.3 L851.9 357.7 L852.6 356" fill="none" stroke="#111" stroke-width="1.5" stroke-linejoin="round"/>
<path d="M702.1 359 L702.9 355.7 L703.6 356.8 L704.4 356.6 L705.2 357.3 L705.9 354.8 L706.7 355.9 L707.4 355.5 L708.2 355.2 L708.9 355.4 L709.7 355.8 L710.4 356 L711.2 355.3 L711.9 356.8 L712.7 355.7 L713.4 352.8 L714.2 357.6 L714.9 355.8 L715.7 355.5 L716.4 356.6 L717.2 356.5 L717.9 356.3 L718.7 355.3 L719.4 356.4 L720.2 354.5 L721 357.7 L721.7 354.7 L722.5 355.8 L723.2 355.9 L724 356 L724.7 355.3 L725.5 356 L726.2 351.3 L727 354.8 L727.7 354.6 L728.5 354.1 L729.2 356.1 L730 353.1 L730.7 354 L731.5 351.6 L732.2 354 L733 351.7 L733.7 351.6 L734.5 355.8 L735.2 353.8 L736 352.9 L736.8 353 L737.5 351.1 L738.3 351.4 L739 352.9 L739.8 349.9 L740.5 352.5 L741.3 350.1 L742 352 L742.8 350.5 L743.5 353.6 L744.3 352.7 L745 350.8 L745.8 349.2 L746.5 350.3 L747.3 351 L748 349.8 L748.8 351.2 L749.5 351.9 L750.3 350.6 L751 350.1 L751.8 351.4 L752.6 350.1 L753.3 351.4 L754.1 350 L754.8 352.1 L755.6 349.9 L756.3 349 L757.1 350.2 L757.8 349.3 L758.6 348.9 L759.3 349.8 L760.1 350.7 L760.8 347.4 L761.6 349.7 L762.3 349.5 L763.1 349.4 L763.8 350.4 L764.6 348 L765.3 350.2 L766.1 349.1 L766.8 349.4 L767.6 349 L768.4 348.8 L769.1 348.5 L769.9 349.5 L770.6 351.3 L771.4 350.1 L772.1 349.8 L772.9 349.4 L773.6 348.2 L774.4 349.4 L775.1 350.9 L775.9 347.1 L776.6 349.4 L777.4 349.6 L778.1 348.7 L778.9 349.2 L779.6 349.8 L780.4 350.7 L781.1 349.6 L781.9 349.9 L782.6 348.4 L783.4 348.9 L784.2 348.1 L784.9 348.2 L785.7 347.3 L786.4 348.5 L787.2 349.3 L787.9 347.5 L788.7 348 L789.4 348.4 L790.2 347.7 L790.9 348.8 L791.7 348.1 L792.4 346.5 L793.2 346.7 L793.9 348.8 L794.7 348.7 L795.4 349.3 L796.2 348.4 L796.9 348.4 L797.7 346.5 L798.4 349.9 L799.2 347.4 L800 349.6 L800.7 347.3 L801.5 347.9 L802.2 348.8 L803 348.3 L803.7 348 L804.5 349.9 L805.2 349.7 L806 349.5 L806.7 348.7 L807.5 348.3 L808.2 348.7 L809 348.8 L809.7 349.4 L810.5 350.3 L811.2 349.4 L812 348.8 L812.7 349 L813.5 351.2 L814.2 350 L815 350.2 L815.8 350.3 L816.5 350.7 L817.3 350.2 L818 351.4 L818.8 351.1 L819.5 347.1 L820.3 350.1 L821 353.5 L821.8 348.9 L822.5 350.5 L823.3 351.6 L824 350.4 L824.8 351.9 L825.5 349.1 L826.3 349.2 L827 350.4 L827.8 349.8 L828.5 349.5 L829.3 351.3 L830 351 L830.8 350.8 L831.6 350.4 L832.3 351.1 L833.1 350.7 L833.8 350.1 L834.6 351.5 L835.3 351.4 L836.1 351.1 L836.8 351.8 L837.6 349.8 L838.3 350.9 L839.1 350.5 L839.8 352.6 L840.6 351.7 L841.3 353.5 L842.1 352.9 L842.8 350.8 L843.6 350 L844.3 351.7 L845.1 350.9 L845.8 351.1 L846.6 350.1 L847.4 352 L848.1 351.5 L848.9 351.8 L849.6 351.7 L850.4 350.4 L851.1 348.9 L851.9 351.1 L852.6 350.7" fill="none" stroke="#D49B34" stroke-width="1.6" stroke-linejoin="round"/>
<path d="M877.1 353.5 L877.9 355.3 L878.6 352 L879.4 354.9 L880.2 353 L880.9 353 L881.7 356.3 L882.4 353.7 L883.2 353.4 L883.9 354.6 L884.7 355.2 L885.4 353.5 L886.2 354.4 L886.9 352.1 L887.7 353 L888.4 352.9 L889.2 351.6 L889.9 351.4 L890.7 351.2 L891.4 353.3 L892.2 353.4 L892.9 353.2 L893.7 353.8 L894.4 351.7 L895.2 353.6 L895.9 354 L896.7 354.4 L897.4 351.3 L898.2 351.1 L899 347.5 L899.7 348.3 L900.5 344.1 L901.2 343.3 L902 345 L902.7 337.9 L903.5 340.3 L904.2 337.5 L905 334.6 L905.7 333.9 L906.5 332.3 L907.2 331.5 L908 328.1 L908.7 326.3 L909.5 325 L910.2 323.3 L911 323.7 L911.7 321.7 L912.5 323.7 L913.2 318.5 L914 319 L914.7 318.7 L915.5 316.6 L916.2 322.3 L917 315.6 L917.8 318.6 L918.5 318.3 L919.3 321.6 L920 316.2 L920.8 320.8 L921.5 318.2 L922.3 319.1 L923 318.5 L923.8 320.7 L924.5 318.4 L925.3 320.3 L926 321.4 L926.8 324.1 L927.5 318.3 L928.3 324.7 L929 324.5 L929.8 322.9 L930.5 324.6 L931.3 324 L932 327.7 L932.8 326.1 L933.5 325.9 L934.3 326.3 L935 326.8 L935.8 327.1 L936.6 326.3 L937.3 330.8 L938.1 324.9 L938.8 322.4 L939.6 327.6 L940.3 327.5 L941.1 328.3 L941.8 327.7 L942.6 328.1 L943.3 329.2 L944.1 330.7 L944.8 329.2 L945.6 330.1 L946.3 334.5 L947.1 333.3 L947.8 332 L948.6 337.9 L949.3 336.5 L950.1 335.5 L950.8 335.6 L951.6 338.8 L952.3 338.1 L953.1 338.7 L953.8 339.3 L954.6 341.5 L955.4 344.9 L956.1 343.5 L956.9 342.9 L957.6 347 L958.4 347 L959.1 349 L959.9 350.5 L960.6 349.2 L961.4 350.1 L962.1 351 L962.9 350.1 L963.6 353.5 L964.4 355.2 L965.1 354.1 L965.9 354.1 L966.6 354.6 L967.4 354.4 L968.1 354.9 L968.9 356.1 L969.6 356 L970.4 357.1 L971.1 355.8 L971.9 359.1 L972.6 359.1 L973.4 357.6 L974.2 356.2 L974.9 359.9 L975.7 361.8 L976.4 359.2 L977.2 359.8 L977.9 359.8 L978.7 361.8 L979.4 359.7 L980.2 362.7 L980.9 360.9 L981.7 362.9 L982.4 361.6 L983.2 361.3 L983.9 359.6 L984.7 360.8 L985.4 361.5 L986.2 362.9 L986.9 362.3 L987.7 361 L988.4 362.7 L989.2 363.6 L989.9 361.9 L990.7 361.6 L991.4 361.7 L992.2 363.5 L993 363.2 L993.7 361 L994.5 363 L995.2 361.8 L996 361.4 L996.7 364.5 L997.5 363.9 L998.2 361.6 L999 362.8 L999.7 363.5 L1000.5 361.8 L1001.2 362.6 L1002 363.8 L1002.7 360.2 L1003.5 363.3 L1004.2 364 L1005 363.6 L1005.7 360.8 L1006.5 363.3 L1007.2 361.6 L1008 363.7 L1008.7 363.8 L1009.5 363.2 L1010.2 361.7 L1011 362 L1011.8 364.1 L1012.5 361.5 L1013.3 363.6 L1014 363.6 L1014.8 362.4 L1015.5 366.4 L1016.3 363 L1017 366.1 L1017.8 359.8 L1018.5 359.5 L1019.3 364.3 L1020 363.8 L1020.8 362.4 L1021.5 362.8 L1022.3 360 L1023 361.9 L1023.8 361.3 L1024.5 362.5 L1025.3 364.2 L1026 362.9 L1026.8 363.4 L1027.5 361.8 L1028.3 362.2 L1029 363" fill="none" stroke="#111" stroke-width="1.5" stroke-linejoin="round"/>
<path d="M877.1 353.9 L877.9 354.3 L878.6 353.3 L879.4 354.2 L880.2 354.9 L880.9 354.3 L881.7 355.6 L882.4 352.9 L883.2 354 L883.9 353.1 L884.7 353 L885.4 353.7 L886.2 354.2 L886.9 354.4 L887.7 354.5 L888.4 356.4 L889.2 354.9 L889.9 352.2 L890.7 354.2 L891.4 353.3 L892.2 353.4 L892.9 355.4 L893.7 353.7 L894.4 351.9 L895.2 354.4 L895.9 353.7 L896.7 352.6 L897.4 352.8 L898.2 353 L899 353.5 L899.7 352.8 L900.5 353.1 L901.2 354.7 L902 351.4 L902.7 351.1 L903.5 351.3 L904.2 352.5 L905 350.2 L905.7 352.3 L906.5 349.1 L907.2 349.2 L908 350.2 L908.7 349.3 L909.5 349.6 L910.2 350.9 L911 351.4 L911.7 350.9 L912.5 350.7 L913.2 352.8 L914 352 L914.7 351.6 L915.5 353.4 L916.2 351.3 L917 352.6 L917.8 353.4 L918.5 352.8 L919.3 352.3 L920 353.5 L920.8 352.7 L921.5 352.7 L922.3 352.4 L923 355.1 L923.8 353.1 L924.5 355.1 L925.3 354.3 L926 353.6 L926.8 354.6 L927.5 354.2 L928.3 354 L929 352.3 L929.8 353.9 L930.5 354.7 L931.3 354.3 L932 354.8 L932.8 355.3 L933.5 354.1 L934.3 355.7 L935 351.9 L935.8 353.2 L936.6 350.7 L937.3 354.4 L938.1 353.6 L938.8 355.3 L939.6 353.1 L940.3 351.3 L941.1 355 L941.8 352.2 L942.6 352.4 L943.3 353.7 L944.1 354.7 L944.8 353.5 L945.6 354.4 L946.3 352.2 L947.1 356.3 L947.8 354.4 L948.6 354.7 L949.3 355.3 L950.1 355 L950.8 355.1 L951.6 354 L952.3 354.9 L953.1 355.6 L953.8 356.4 L954.6 355.1 L955.4 355.4 L956.1 355.7 L956.9 356 L957.6 355.7 L958.4 355.2 L959.1 355 L959.9 356.8 L960.6 355.9 L961.4 355.7 L962.1 359.5 L962.9 356.7 L963.6 356.7 L964.4 356 L965.1 354.7 L965.9 357.1 L966.6 355.8 L967.4 356 L968.1 357.1 L968.9 357.1 L969.6 356.3 L970.4 356.1 L971.1 358.4 L971.9 356.8 L972.6 355.1 L973.4 357.1 L974.2 356.4 L974.9 356.4 L975.7 357.1 L976.4 356.6 L977.2 358.6 L977.9 356.7 L978.7 356.8 L979.4 357.8 L980.2 356 L980.9 357.7 L981.7 356.6 L982.4 358 L983.2 355.8 L983.9 357.2 L984.7 355 L985.4 356.4 L986.2 356.9 L986.9 357.5 L987.7 359.1 L988.4 359 L989.2 355.6 L989.9 356.2 L990.7 358.5 L991.4 357.6 L992.2 355.7 L993 357.8 L993.7 356 L994.5 356.4 L995.2 355.9 L996 357.1 L996.7 359.9 L997.5 357.9 L998.2 357.4 L999 360.3 L999.7 357 L1000.5 357.4 L1001.2 357.3 L1002 358.1 L1002.7 357.3 L1003.5 359.3 L1004.2 357.4 L1005 358.3 L1005.7 357.9 L1006.5 356.8 L1007.2 356.7 L1008 357.7 L1008.7 355.2 L1009.5 357.8 L1010.2 357.9 L1011 357.9 L1011.8 357.7 L1012.5 358.2 L1013.3 357.4 L1014 358.5 L1014.8 356.1 L1015.5 358.9 L1016.3 356.9 L1017 358.4 L1017.8 357.4 L1018.5 357.5 L1019.3 357.1 L1020 359.4 L1020.8 356.8 L1021.5 356.6 L1022.3 358.2 L1023 358.3 L1023.8 358.1 L1024.5 357 L1025.3 357.3 L1026 359 L1026.8 356.9 L1027.5 358.7 L1028.3 358.9 L1029 358.2" fill="none" stroke="#D49B34" stroke-width="1.6" stroke-linejoin="round"/>
<path d="M1052 352.5 L1052.8 352.5 L1053.5 354.8 L1054.3 350.9 L1055 353.7 L1055.8 350.9 L1056.5 355.2 L1057.3 353.9 L1058.1 355.4 L1058.8 352.9 L1059.6 354 L1060.3 353.1 L1061.1 352.4 L1061.8 353.5 L1062.6 351.6 L1063.3 352.7 L1064.1 354 L1064.8 353.1 L1065.6 352.5 L1066.3 355.8 L1067.1 352.9 L1067.8 351.7 L1068.6 352.2 L1069.4 350.7 L1070.1 350 L1070.9 349 L1071.6 350.7 L1072.4 346.1 L1073.1 344 L1073.9 341.8 L1074.6 340.5 L1075.4 334.2 L1076.1 330.1 L1076.9 330.3 L1077.6 321.2 L1078.4 318.6 L1079.1 316 L1079.9 314.3 L1080.7 306.4 L1081.4 301 L1082.2 301.7 L1082.9 297.1 L1083.7 294.4 L1084.4 292.8 L1085.2 289.9 L1085.9 287.6 L1086.7 284.6 L1087.4 285 L1088.2 283.7 L1088.9 280.2 L1089.7 278.3 L1090.5 278.9 L1091.2 277.8 L1092 275.5 L1092.7 276.1 L1093.5 278.2 L1094.2 277 L1095 277.2 L1095.7 278.9 L1096.5 279.7 L1097.2 281.1 L1098 280.1 L1098.7 286.5 L1099.5 286.3 L1100.2 287 L1101 291.6 L1101.8 293.1 L1102.5 295.1 L1103.3 298.9 L1104 303 L1104.8 303.3 L1105.5 307.1 L1106.3 310.2 L1107 308.3 L1107.8 310.9 L1108.5 314.4 L1109.3 312.9 L1110 316.3 L1110.8 319.7 L1111.6 320.7 L1112.3 321.6 L1113.1 319.8 L1113.8 326.9 L1114.6 326.2 L1115.3 328.2 L1116.1 329.5 L1116.8 328.3 L1117.6 330.2 L1118.3 332.1 L1119.1 337.6 L1119.8 335.5 L1120.6 337.6 L1121.3 338.9 L1122.1 341.2 L1122.9 342.3 L1123.6 343.2 L1124.4 342.3 L1125.1 341 L1125.9 346.4 L1126.6 347.6 L1127.4 349.9 L1128.1 349.1 L1128.9 349.5 L1129.6 351.8 L1130.4 350.3 L1131.1 351.9 L1131.9 353 L1132.7 355.7 L1133.4 359 L1134.2 358.3 L1134.9 359.7 L1135.7 359.4 L1136.4 360.3 L1137.2 360.1 L1137.9 361.1 L1138.7 359 L1139.4 361.2 L1140.2 361.7 L1140.9 365 L1141.7 365.2 L1142.4 366.3 L1143.2 367.2 L1144 365.1 L1144.7 367 L1145.5 368.3 L1146.2 365.9 L1147 367.3 L1147.7 365.6 L1148.5 363.6 L1149.2 365.7 L1150 364.4 L1150.7 365.4 L1151.5 364.5 L1152.2 365.3 L1153 361.9 L1153.8 367.2 L1154.5 366 L1155.3 363.6 L1156 362.7 L1156.8 363.8 L1157.5 364.6 L1158.3 364.3 L1159 364.3 L1159.8 361.3 L1160.5 362.6 L1161.3 366 L1162 364.8 L1162.8 362.9 L1163.5 364 L1164.3 363.6 L1165.1 364.6 L1165.8 367.8 L1166.6 366.4 L1167.3 368.6 L1168.1 367.9 L1168.8 366.1 L1169.6 367.7 L1170.3 372 L1171.1 368.4 L1171.8 368.5 L1172.6 371.9 L1173.3 370.7 L1174.1 371 L1174.9 373.2 L1175.6 369.3 L1176.4 372.4 L1177.1 370.8 L1177.9 370.6 L1178.6 371.6 L1179.4 374.5 L1180.1 373 L1180.9 370.9 L1181.6 372.1 L1182.4 375.7 L1183.1 375.2 L1183.9 372.5 L1184.6 377.2 L1185.4 373.6 L1186.2 372.6 L1186.9 374 L1187.7 375.5 L1188.4 376.5 L1189.2 375.8 L1189.9 374 L1190.7 373.9 L1191.4 372.8 L1192.2 374.7 L1192.9 374.1 L1193.7 375.3 L1194.4 373.4 L1195.2 374.5 L1196 374.1 L1196.7 373.8 L1197.5 373.9 L1198.2 374.3 L1199 374.1 L1199.7 376.5 L1200.5 376 L1201.2 374.1 L1202 376.6" fill="none" stroke="#111" stroke-width="1.5" stroke-linejoin="round"/>
<path d="M1052 354.6 L1052.8 352.3 L1053.5 353.3 L1054.3 354.1 L1055 355.5 L1055.8 354 L1056.5 352.4 L1057.3 354.3 L1058.1 352.8 L1058.8 355.2 L1059.6 353.7 L1060.3 355.7 L1061.1 353.8 L1061.8 352.9 L1062.6 352.4 L1063.3 353.5 L1064.1 354.3 L1064.8 355 L1065.6 354.1 L1066.3 353 L1067.1 354.2 L1067.8 352.1 L1068.6 353.8 L1069.4 352.3 L1070.1 354.1 L1070.9 353 L1071.6 351.8 L1072.4 349.7 L1073.1 350.4 L1073.9 349.4 L1074.6 347.5 L1075.4 346.5 L1076.1 347.5 L1076.9 344.8 L1077.6 344.7 L1078.4 344.6 L1079.1 340.7 L1079.9 343 L1080.7 341.2 L1081.4 338.5 L1082.2 337.1 L1082.9 335.9 L1083.7 337 L1084.4 332.6 L1085.2 335.1 L1085.9 333.4 L1086.7 331.6 L1087.4 330.9 L1088.2 330.2 L1088.9 329.6 L1089.7 330 L1090.5 327.6 L1091.2 328.9 L1092 328.3 L1092.7 326.6 L1093.5 327.1 L1094.2 325.8 L1095 326.3 L1095.7 326.8 L1096.5 328.4 L1097.2 326.7 L1098 327 L1098.7 327.6 L1099.5 328 L1100.2 327.7 L1101 331.4 L1101.8 329.5 L1102.5 330.3 L1103.3 330.9 L1104 333 L1104.8 336 L1105.5 336.8 L1106.3 335.5 L1107 335.7 L1107.8 336 L1108.5 335.8 L1109.3 338.3 L1110 338.2 L1110.8 341.2 L1111.6 339.6 L1112.3 339.6 L1113.1 339.5 L1113.8 340.3 L1114.6 343.5 L1115.3 343.9 L1116.1 343.1 L1116.8 343.5 L1117.6 346 L1118.3 346 L1119.1 347.2 L1119.8 347.5 L1120.6 347.3 L1121.3 346.9 L1122.1 349.3 L1122.9 349.8 L1123.6 350.4 L1124.4 351.7 L1125.1 352.2 L1125.9 351.3 L1126.6 352.9 L1127.4 350.6 L1128.1 353.9 L1128.9 353.7 L1129.6 355.2 L1130.4 355.6 L1131.1 354 L1131.9 355.2 L1132.7 356.9 L1133.4 355.6 L1134.2 356.6 L1134.9 356.3 L1135.7 357.8 L1136.4 357.9 L1137.2 357.1 L1137.9 356.8 L1138.7 356.3 L1139.4 359.6 L1140.2 358.6 L1140.9 358.5 L1141.7 358.8 L1142.4 358.6 L1143.2 360.3 L1144 360.4 L1144.7 357.6 L1145.5 360 L1146.2 360.2 L1147 359.9 L1147.7 360.5 L1148.5 362.2 L1149.2 360.9 L1150 361.9 L1150.7 361.8 L1151.5 359.3 L1152.2 362.6 L1153 361.1 L1153.8 360.5 L1154.5 361.7 L1155.3 363 L1156 359.9 L1156.8 359.9 L1157.5 360.9 L1158.3 358.7 L1159 359.3 L1159.8 360.4 L1160.5 361.1 L1161.3 360.8 L1162 361.1 L1162.8 361.3 L1163.5 359.8 L1164.3 359.9 L1165.1 360 L1165.8 360.1 L1166.6 361.7 L1167.3 361.6 L1168.1 358.9 L1168.8 361.6 L1169.6 360.3 L1170.3 360.4 L1171.1 363 L1171.8 363.2 L1172.6 363.3 L1173.3 363 L1174.1 364.3 L1174.9 361.5 L1175.6 363.6 L1176.4 362.2 L1177.1 362.3 L1177.9 361.4 L1178.6 364.7 L1179.4 364.9 L1180.1 364 L1180.9 362.6 L1181.6 363.3 L1182.4 362.1 L1183.1 362.9 L1183.9 364.7 L1184.6 364.8 L1185.4 363.8 L1186.2 363.8 L1186.9 362.8 L1187.7 363.1 L1188.4 362.4 L1189.2 362.9 L1189.9 361.5 L1190.7 362.9 L1191.4 361.4 L1192.2 361.5 L1192.9 360.9 L1193.7 362.3 L1194.4 361.4 L1195.2 359.3 L1196 358.9 L1196.7 360.1 L1197.5 359.3 L1198.2 358.7 L1199 358.8 L1199.7 360.1 L1200.5 358.2 L1201.2 359.6 L1202 357.4" fill="none" stroke="#D49B34" stroke-width="1.5" stroke-linejoin="round"/>
<path d="M1227.1 353.4 L1227.9 354.4 L1228.7 353.4 L1229.4 353.3 L1230.2 352.5 L1230.9 353.4 L1231.7 355.1 L1232.4 354.3 L1233.2 355 L1233.9 354 L1234.7 354.2 L1235.4 353.9 L1236.2 351.5 L1236.9 354.8 L1237.7 354.4 L1238.4 354.3 L1239.2 351.5 L1240 351.4 L1240.7 352.5 L1241.5 353.1 L1242.2 354.1 L1243 353.6 L1243.7 354.3 L1244.5 352.4 L1245.2 353 L1246 352.2 L1246.7 349.6 L1247.5 351.2 L1248.2 348 L1249 346.6 L1249.7 341.6 L1250.5 338.4 L1251.3 335.7 L1252 332.6 L1252.8 330.1 L1253.5 326 L1254.3 321.6 L1255 317.4 L1255.8 314.5 L1256.5 313.5 L1257.3 308 L1258 306.9 L1258.8 305 L1259.5 300.6 L1260.3 301 L1261 301.2 L1261.8 295.7 L1262.6 297.1 L1263.3 296.9 L1264.1 295.7 L1264.8 297.3 L1265.6 296.6 L1266.3 295.1 L1267.1 298.4 L1267.8 298.8 L1268.6 300 L1269.3 301.6 L1270.1 301.1 L1270.8 301.8 L1271.6 301 L1272.3 304.6 L1273.1 304.2 L1273.9 305.7 L1274.6 305.9 L1275.4 307.6 L1276.1 309.6 L1276.9 313.4 L1277.6 310.5 L1278.4 312.7 L1279.1 316.4 L1279.9 319.5 L1280.6 320 L1281.4 318.4 L1282.1 319.2 L1282.9 324.6 L1283.6 324.9 L1284.4 326.1 L1285.2 330.6 L1285.9 332.4 L1286.7 332.9 L1287.4 334.6 L1288.2 336.4 L1288.9 339.5 L1289.7 339.7 L1290.4 341 L1291.2 342.5 L1291.9 341 L1292.7 345.8 L1293.4 346.3 L1294.2 346.6 L1295 344.1 L1295.7 346.4 L1296.5 348.7 L1297.2 345.5 L1298 347.8 L1298.7 349.4 L1299.5 346.4 L1300.2 350.3 L1301 348.9 L1301.7 347.9 L1302.5 348.5 L1303.2 348.8 L1304 348.1 L1304.7 349.4 L1305.5 347.1 L1306.3 347.5 L1307 349.7 L1307.8 348.7 L1308.5 347.9 L1309.3 350.7 L1310 352 L1310.8 350.1 L1311.5 349.5 L1312.3 351.7 L1313 352.3 L1313.8 352.7 L1314.5 355.5 L1315.3 352.9 L1316 356.5 L1316.8 353.7 L1317.6 354.9 L1318.3 357.3 L1319.1 358.5 L1319.8 358.7 L1320.6 358.5 L1321.3 358.6 L1322.1 359 L1322.8 359.9 L1323.6 359.2 L1324.3 360 L1325.1 360.6 L1325.8 360 L1326.6 361.2 L1327.3 361.1 L1328.1 363.2 L1328.9 361.3 L1329.6 360.6 L1330.4 360.9 L1331.1 361.7 L1331.9 363.3 L1332.6 362 L1333.4 363.3 L1334.1 365.5 L1334.9 360.2 L1335.6 362.4 L1336.4 364.6 L1337.1 365.1 L1337.9 365.3 L1338.6 364.7 L1339.4 366.4 L1340.2 366.3 L1340.9 365.5 L1341.7 369.7 L1342.4 367.2 L1343.2 366.3 L1343.9 367.2 L1344.7 367.2 L1345.4 367.6 L1346.2 364.2 L1346.9 367.1 L1347.7 369 L1348.4 366.1 L1349.2 367.3 L1349.9 368.4 L1350.7 368 L1351.5 368.5 L1352.2 364.1 L1353 365.5 L1353.7 365.2 L1354.5 366.1 L1355.2 366.3 L1356 360.9 L1356.7 365.3 L1357.5 361.5 L1358.2 363.8 L1359 360.4 L1359.7 362 L1360.5 362.7 L1361.2 360.4 L1362 360.1 L1362.8 360.1 L1363.5 358.5 L1364.3 357.3 L1365 358.5 L1365.8 357.1 L1366.5 354.6 L1367.3 357.9 L1368 352.3 L1368.8 354.7 L1369.5 352.9 L1370.3 353.3 L1371 354.1 L1371.8 353.6 L1372.5 354.3 L1373.3 351.6 L1374.1 351.8 L1374.8 354.7 L1375.6 352.8 L1376.3 352.8 L1377.1 352.3 L1377.8 356 L1378.6 355.4" fill="none" stroke="#111" stroke-width="1.5" stroke-linejoin="round"/>
<path d="M1227.1 354.5 L1227.9 356.6 L1228.7 355.2 L1229.4 355.2 L1230.2 354.7 L1230.9 354.4 L1231.7 354.7 L1232.4 354 L1233.2 353.3 L1233.9 353.1 L1234.7 352.8 L1235.4 354.3 L1236.2 354.6 L1236.9 355.7 L1237.7 354.5 L1238.4 354.3 L1239.2 354.6 L1240 353.9 L1240.7 352 L1241.5 355 L1242.2 353.4 L1243 354.1 L1243.7 353.4 L1244.5 356.2 L1245.2 353.4 L1246 351.4 L1246.7 348.1 L1247.5 348.1 L1248.2 343.8 L1249 342.7 L1249.7 335.8 L1250.5 332.5 L1251.3 328.3 L1252 320.7 L1252.8 315.6 L1253.5 309.2 L1254.3 303.3 L1255 294.7 L1255.8 288.9 L1256.5 283.5 L1257.3 273.5 L1258 268.4 L1258.8 264.6 L1259.5 258.9 L1260.3 254 L1261 253.8 L1261.8 251.1 L1262.6 250 L1263.3 249.7 L1264.1 249.5 L1264.8 248.9 L1265.6 248.9 L1266.3 254.2 L1267.1 255.4 L1267.8 259.7 L1268.6 263.4 L1269.3 265.2 L1270.1 269.8 L1270.8 275.7 L1271.6 278.3 L1272.3 279.3 L1273.1 284.2 L1273.9 287.7 L1274.6 291.4 L1275.4 294.6 L1276.1 296.5 L1276.9 299 L1277.6 302.7 L1278.4 302.7 L1279.1 307.7 L1279.9 309.1 L1280.6 310.3 L1281.4 312.2 L1282.1 315 L1282.9 315 L1283.6 315.9 L1284.4 320.5 L1285.2 323.3 L1285.9 323.2 L1286.7 325 L1287.4 326.4 L1288.2 326.9 L1288.9 329.7 L1289.7 331.4 L1290.4 331.8 L1291.2 333.9 L1291.9 333.1 L1292.7 335.5 L1293.4 335.5 L1294.2 336.7 L1295 338.5 L1295.7 339.3 L1296.5 341 L1297.2 341.7 L1298 340.7 L1298.7 344.2 L1299.5 342.1 L1300.2 344.5 L1301 345.7 L1301.7 346.1 L1302.5 347.4 L1303.2 347.6 L1304 347.2 L1304.7 349.7 L1305.5 349.4 L1306.3 349 L1307 350.5 L1307.8 351 L1308.5 351.9 L1309.3 351.4 L1310 352.7 L1310.8 352.9 L1311.5 355.2 L1312.3 353.6 L1313 355.7 L1313.8 354.6 L1314.5 356.2 L1315.3 357.7 L1316 355.2 L1316.8 356 L1317.6 355.1 L1318.3 355.6 L1319.1 356 L1319.8 356.8 L1320.6 357.9 L1321.3 358.1 L1322.1 356.9 L1322.8 357.7 L1323.6 356.2 L1324.3 358.5 L1325.1 357.7 L1325.8 357 L1326.6 357.4 L1327.3 358.9 L1328.1 358.4 L1328.9 359.1 L1329.6 358 L1330.4 358.7 L1331.1 358.4 L1331.9 357.1 L1332.6 358.5 L1333.4 358.4 L1334.1 357.7 L1334.9 359.1 L1335.6 360.2 L1336.4 359 L1337.1 356.9 L1337.9 354.9 L1338.6 355 L1339.4 353.4 L1340.2 353.1 L1340.9 352.9 L1341.7 350.4 L1342.4 347.7 L1343.2 349.3 L1343.9 346.8 L1344.7 347.1 L1345.4 344.1 L1346.2 347.1 L1346.9 343 L1347.7 344.4 L1348.4 345.2 L1349.2 342.1 L1349.9 344.4 L1350.7 344.3 L1351.5 348.4 L1352.2 348.1 L1353 347.1 L1353.7 347 L1354.5 347.6 L1355.2 350.2 L1356 349.7 L1356.7 351.4 L1357.5 351 L1358.2 350.3 L1359 354.3 L1359.7 353.4 L1360.5 352.5 L1361.2 353.2 L1362 355.2 L1362.8 354.9 L1363.5 353 L1364.3 355.9 L1365 353.9 L1365.8 355.1 L1366.5 353.3 L1367.3 353.8 L1368 355.2 L1368.8 353.2 L1369.5 354.4 L1370.3 354.7 L1371 353.5 L1371.8 355.6 L1372.5 354.8 L1373.3 353.9 L1374.1 355 L1374.8 355.4 L1375.6 355.2 L1376.3 353.8 L1377.1 354.7 L1377.8 354.2 L1378.6 352.7" fill="none" stroke="#D49B34" stroke-width="1.5" stroke-linejoin="round"/>
<text x="769.5" y="424" text-anchor="middle">E-Ext</text>
<text x="953.2" y="424" text-anchor="middle">L-Ext</text>
<text x="1129.5" y="424" text-anchor="middle">E-Ret</text>
<text x="1306" y="424" text-anchor="middle">F-Ren</text>
<line x1="1386.5" y1="207.5" x2="1421.8" y2="207.5" stroke="#000" stroke-width="3.1"/>
<line x1="1386.5" y1="238.8" x2="1421.8" y2="238.8" stroke="#D49B34" stroke-width="3.1"/>
<text x="1436.5" y="216.7">Control</text>
<text x="1436.5" y="246.8">hM3Dq</text>
<text x="1605" y="28.5" font-weight="bold" font-size="34">c</text>
<line x1="1714.5" y1="348.3" x2="1714.5" y2="59.05" stroke="#1a1a1a" stroke-width="2"/>
<line x1="1706.3" y1="347.3" x2="1714.5" y2="347.3" stroke="#1a1a1a" stroke-width="2"/>
<text x="1703.1" y="355.45" text-anchor="end">0</text>
<line x1="1706.3" y1="251.55" x2="1714.5" y2="251.55" stroke="#1a1a1a" stroke-width="2"/>
<text x="1703.1" y="259.7" text-anchor="end">5</text>
<line x1="1706.3" y1="155.8" x2="1714.5" y2="155.8" stroke="#1a1a1a" stroke-width="2"/>
<text x="1703.1" y="163.95" text-anchor="end">10</text>
<line x1="1706.3" y1="60.05" x2="1714.5" y2="60.05" stroke="#1a1a1a" stroke-width="2"/>
<text x="1703.1" y="68.2" text-anchor="end">15</text>
<line x1="1706.3" y1="347.3" x2="2001" y2="347.3" stroke="#1a1a1a" stroke-width="2"/>
<text x="1662" y="203" text-anchor="middle" transform="rotate(-90 1662 203)">CS-related Ca<tspan dy="-10" font-size="17">2+</tspan><tspan dy="10"> transients</tspan></text>
<line x1="1736.3" y1="195.06" x2="1736.3" y2="213.25" stroke="#1a1a1a" stroke-width="1.7"/>
<line x1="1733.3" y1="195.06" x2="1739.3" y2="195.06" stroke="#1a1a1a" stroke-width="1.7"/>
<rect x="1725.65" y="213.25" width="21.3" height="134.05" fill="#fff" stroke="#1a1a1a" stroke-width="1.6"/>
<line x1="1763" y1="336.19" x2="1763" y2="339.64" stroke="#1a1a1a" stroke-width="1.7"/>
<line x1="1760" y1="336.19" x2="1766" y2="336.19" stroke="#1a1a1a" stroke-width="1.7"/>
<rect x="1752.35" y="339.64" width="21.3" height="7.66" fill="#E2A943" stroke="#1a1a1a" stroke-width="1.6"/>
<g fill="#fff" stroke="#4d4d4d" stroke-width="1.3" fill-opacity="0.6">
<circle cx="1728" cy="155.8" r="3.3"/>
<circle cx="1744.6" cy="155.8" r="3.3"/>
<circle cx="1736.3" cy="194.1" r="3.3"/>
<circle cx="1728" cy="232.4" r="3.3"/>
<circle cx="1744.6" cy="232.4" r="3.3"/>
<circle cx="1736.3" cy="251.55" r="3.3"/>
<circle cx="1736.3" cy="270.7" r="3.3"/>
</g>
<g fill="#E1BB37" stroke="#5c4a1c" stroke-width="1.3" fill-opacity="0.5">
<circle cx="1755" cy="328.15" r="3.3"/>
<circle cx="1759.5" cy="328.15" r="3.3"/>
<circle cx="1765" cy="328.15" r="3.3"/>
<circle cx="1770.5" cy="328.15" r="3.3"/>
<circle cx="1754.5" cy="347.3" r="3.3"/>
<circle cx="1759" cy="347.3" r="3.3"/>
<circle cx="1763.5" cy="347.3" r="3.3"/>
<circle cx="1768" cy="347.3" r="3.3"/>
<circle cx="1772" cy="347.3" r="3.3"/>
</g>
<text x="1758.15" y="371" text-anchor="end" transform="rotate(-90 1758.15 371)">E-Ext</text>
<line x1="1807.8" y1="280.28" x2="1807.8" y2="292.72" stroke="#1a1a1a" stroke-width="1.7"/>
<line x1="1804.8" y1="280.28" x2="1810.8" y2="280.28" stroke="#1a1a1a" stroke-width="1.7"/>
<rect x="1797.15" y="292.72" width="21.3" height="54.58" fill="#fff" stroke="#1a1a1a" stroke-width="1.6"/>
<line x1="1835.2" y1="344.43" x2="1835.2" y2="346.73" stroke="#1a1a1a" stroke-width="1.7"/>
<line x1="1832.2" y1="344.43" x2="1838.2" y2="344.43" stroke="#1a1a1a" stroke-width="1.7"/>
<rect x="1824.55" y="346.73" width="21.3" height="0.57" fill="#E2A943" stroke="#1a1a1a" stroke-width="1.6"/>
<g fill="#fff" stroke="#4d4d4d" stroke-width="1.3" fill-opacity="0.6">
<circle cx="1807.8" cy="251.55" r="3.3"/>
<circle cx="1799.5" cy="270.7" r="3.3"/>
<circle cx="1816.1" cy="270.7" r="3.3"/>
<circle cx="1807.8" cy="289.85" r="3.3"/>
<circle cx="1799.5" cy="309" r="3.3"/>
<circle cx="1816.1" cy="309" r="3.3"/>
<circle cx="1807.8" cy="347.3" r="3.3"/>
</g>
<g fill="#E1BB37" stroke="#5c4a1c" stroke-width="1.3" fill-opacity="0.5">
<circle cx="1833.7" cy="328.15" r="3.3"/>
<circle cx="1825.2" cy="347.3" r="3.3"/>
<circle cx="1828.7" cy="347.3" r="3.3"/>
<circle cx="1832.2" cy="347.3" r="3.3"/>
<circle cx="1835.7" cy="347.3" r="3.3"/>
<circle cx="1839.2" cy="347.3" r="3.3"/>
<circle cx="1842.7" cy="347.3" r="3.3"/>
</g>
<text x="1830" y="371" text-anchor="end" transform="rotate(-90 1830 371)">L-Ext</text>
<line x1="1879.4" y1="269.74" x2="1879.4" y2="284.11" stroke="#1a1a1a" stroke-width="1.7"/>
<line x1="1876.4" y1="269.74" x2="1882.4" y2="269.74" stroke="#1a1a1a" stroke-width="1.7"/>
<rect x="1868.75" y="284.11" width="21.3" height="63.19" fill="#fff" stroke="#1a1a1a" stroke-width="1.6"/>
<line x1="1906.4" y1="289.08" x2="1906.4" y2="300.96" stroke="#1a1a1a" stroke-width="1.7"/>
<line x1="1903.4" y1="289.08" x2="1909.4" y2="289.08" stroke="#1a1a1a" stroke-width="1.7"/>
<rect x="1895.75" y="300.96" width="21.3" height="46.34" fill="#E2A943" stroke="#1a1a1a" stroke-width="1.6"/>
<g fill="#fff" stroke="#4d4d4d" stroke-width="1.3" fill-opacity="0.6">
<circle cx="1871.1" cy="251.55" r="3.3"/>
<circle cx="1887.7" cy="251.55" r="3.3"/>
<circle cx="1879.4" cy="270.7" r="3.3"/>
<circle cx="1879.4" cy="289.85" r="3.3"/>
<circle cx="1879.4" cy="309" r="3.3"/>
<circle cx="1879.4" cy="328.15" r="3.3"/>
</g>
<g fill="#E1BB37" stroke="#5c4a1c" stroke-width="1.3" fill-opacity="0.5">
<circle cx="1906.4" cy="251.55" r="3.3"/>
<circle cx="1898.1" cy="270.7" r="3.3"/>
<circle cx="1914.7" cy="270.7" r="3.3"/>
<circle cx="1898.1" cy="289.85" r="3.3"/>
<circle cx="1914.7" cy="289.85" r="3.3"/>
<circle cx="1906.4" cy="309" r="3.3"/>
<circle cx="1906.4" cy="328.15" r="3.3"/>
<circle cx="1898.1" cy="347.3" r="3.3"/>
<circle cx="1914.7" cy="347.3" r="3.3"/>
</g>
<text x="1901.4" y="371" text-anchor="end" transform="rotate(-90 1901.4 371)">E-Ret</text>
<line x1="1951.3" y1="200.99" x2="1951.3" y2="216.7" stroke="#1a1a1a" stroke-width="1.7"/>
<line x1="1948.3" y1="200.99" x2="1954.3" y2="200.99" stroke="#1a1a1a" stroke-width="1.7"/>
<rect x="1940.65" y="216.7" width="21.3" height="130.6" fill="#fff" stroke="#1a1a1a" stroke-width="1.6"/>
<line x1="1978" y1="155.23" x2="1978" y2="177.82" stroke="#1a1a1a" stroke-width="1.7"/>
<line x1="1975" y1="155.23" x2="1981" y2="155.23" stroke="#1a1a1a" stroke-width="1.7"/>
<rect x="1967.35" y="177.82" width="21.3" height="169.48" fill="#E2A943" stroke="#1a1a1a" stroke-width="1.6"/>
<g fill="#fff" stroke="#4d4d4d" stroke-width="1.3" fill-opacity="0.6">
<circle cx="1943" cy="174.95" r="3.3"/>
<circle cx="1959.6" cy="174.95" r="3.3"/>
<circle cx="1951.3" cy="194.1" r="3.3"/>
<circle cx="1943" cy="213.25" r="3.3"/>
<circle cx="1959.6" cy="213.25" r="3.3"/>
<circle cx="1943" cy="270.7" r="3.3"/>
<circle cx="1959.6" cy="270.7" r="3.3"/>
</g>
<g fill="#E1BB37" stroke="#5c4a1c" stroke-width="1.3" fill-opacity="0.5">
<circle cx="1978" cy="79.2" r="3.3"/>
<circle cx="1978" cy="98.35" r="3.3"/>
<circle cx="1978" cy="117.5" r="3.3"/>
<circle cx="1978" cy="174.95" r="3.3"/>
<circle cx="1978" cy="194.1" r="3.3"/>
<circle cx="1978" cy="213.25" r="3.3"/>
<circle cx="1969.7" cy="232.4" r="3.3"/>
<circle cx="1986.3" cy="232.4" r="3.3"/>
<circle cx="1978" cy="251.55" r="3.3"/>
</g>
<text x="1973.15" y="371" text-anchor="end" transform="rotate(-90 1973.15 371)">F-Ren</text>
<rect x="1811.8" y="44.6" width="14.5" height="14.5" fill="#fff" stroke="#111" stroke-width="1.5"/>
<text x="1841.7" y="60.8">Control</text>
<rect x="1811.8" y="78.6" width="14.5" height="14.5" fill="#ECBF34" stroke="#111" stroke-width="1.5"/>
<text x="1841.7" y="94.4">hM3Dq</text>
<line x1="1736" y1="133.2" x2="1762" y2="133.2" stroke="#000" stroke-width="1.6"/>
<text x="1749.5" y="139.7" text-anchor="middle" font-size="40">*</text>
<line x1="1804.4" y1="231.2" x2="1830.4" y2="231.2" stroke="#000" stroke-width="1.6"/>
<text x="1817.9" y="237.7" text-anchor="middle" font-size="40">*</text>
<line x1="1952" y1="62.2" x2="1978" y2="62.2" stroke="#000" stroke-width="1.6"/>
<text x="1965.5" y="68.7" text-anchor="middle" font-size="40">*</text>
<text x="75" y="532" font-weight="bold" font-size="34">d</text>
<line x1="227" y1="833.7" x2="258.4" y2="610.87" stroke="#ecdfb4" stroke-width="0.8"/>
<line x1="227" y1="833.7" x2="258.4" y2="636.03" stroke="#cfcfd4" stroke-width="0.8"/>
<line x1="227" y1="833.7" x2="258.4" y2="661.19" stroke="#cfcfd4" stroke-width="0.8"/>
<line x1="227" y1="833.7" x2="258.4" y2="675.56" stroke="#ecdfb4" stroke-width="0.8"/>
<line x1="227" y1="833.7" x2="258.4" y2="682.75" stroke="#cfcfd4" stroke-width="0.8"/>
<line x1="227" y1="833.7" x2="258.4" y2="686.35" stroke="#ecdfb4" stroke-width="0.8"/>
<line x1="227" y1="833.7" x2="258.4" y2="704.32" stroke="#cfcfd4" stroke-width="0.8"/>
<line x1="227" y1="833.7" x2="258.4" y2="715.1" stroke="#ecdfb4" stroke-width="0.8"/>
<line x1="227" y1="833.7" x2="258.4" y2="725.88" stroke="#cfcfd4" stroke-width="0.8"/>
<line x1="227" y1="833.7" x2="258.4" y2="743.85" stroke="#cfcfd4" stroke-width="0.8"/>
<line x1="227" y1="833.7" x2="258.4" y2="758.23" stroke="#cfcfd4" stroke-width="0.8"/>
<line x1="227" y1="833.7" x2="258.4" y2="772.6" stroke="#e6d3c0" stroke-width="0.8"/>
<line x1="227" y1="833.7" x2="258.4" y2="779.79" stroke="#ecdfb4" stroke-width="0.8"/>
<line x1="227" y1="833.7" x2="258.4" y2="797.76" stroke="#ecdfb4" stroke-width="0.8"/>
<line x1="184" y1="834.7" x2="184" y2="545.18" stroke="#1a1a1a" stroke-width="2"/>
<line x1="176" y1="833.7" x2="184" y2="833.7" stroke="#1a1a1a" stroke-width="2"/>
<text x="172.8" y="841.85" text-anchor="end">0</text>
<line x1="176" y1="761.82" x2="184" y2="761.82" stroke="#1a1a1a" stroke-width="2"/>
<text x="172.8" y="769.97" text-anchor="end">20</text>
<line x1="176" y1="689.94" x2="184" y2="689.94" stroke="#1a1a1a" stroke-width="2"/>
<text x="172.8" y="698.09" text-anchor="end">40</text>
<line x1="176" y1="618.06" x2="184" y2="618.06" stroke="#1a1a1a" stroke-width="2"/>
<text x="172.8" y="626.21" text-anchor="end">60</text>
<line x1="176" y1="546.18" x2="184" y2="546.18" stroke="#1a1a1a" stroke-width="2"/>
<text x="172.8" y="554.33" text-anchor="end">80</text>
<line x1="175" y1="833.7" x2="271" y2="833.7" stroke="#1a1a1a" stroke-width="2"/>
<line x1="252.4" y1="678" x2="252.4" y2="700.6" stroke="#1a1a1a" stroke-width="1.7"/>
<line x1="248.2" y1="678" x2="256.6" y2="678" stroke="#1a1a1a" stroke-width="1.7"/>
<line x1="252.4" y1="755.1" x2="252.4" y2="725.5" stroke="#1a1a1a" stroke-width="1.7"/>
<line x1="248.2" y1="755.1" x2="256.6" y2="755.1" stroke="#1a1a1a" stroke-width="1.7"/>
<path d="M227 833.7 L252.4 700.6" fill="none" stroke="#1a1a1a" stroke-width="1.9"/>
<path d="M227 833.7 L252.4 725.5" fill="none" stroke="#1a1a1a" stroke-width="1.9"/>
<circle cx="227" cy="833.7" r="8.3" fill="#fff" stroke="#1a1a1a" stroke-width="1.7"/>
<circle cx="252.4" cy="700.6" r="8.3" fill="#fff" stroke="#1a1a1a" stroke-width="1.7"/>
<line x1="252.4" y1="696" x2="252.4" y2="705" stroke="#1a1a1a" stroke-width="1.7"/>
<line x1="248.4" y1="695.6" x2="256.4" y2="695.6" stroke="#1a1a1a" stroke-width="1.7"/>
<circle cx="227" cy="833.7" r="8.3" fill="#E2A943" stroke="#1a1a1a" stroke-width="1.7"/>
<circle cx="252.4" cy="725.5" r="8.3" fill="#E2A943" stroke="#1a1a1a" stroke-width="1.7"/>
<text x="116.6" y="689.5" text-anchor="middle" transform="rotate(-90 116.6 689.5)">Freezing (%)</text>
<text x="235.4" y="853.5" text-anchor="end" transform="rotate(-90 235.4 853.5)">base</text>
<text x="261.4" y="853.5" text-anchor="end" transform="rotate(-90 261.4 853.5)">post-shock</text>
<g transform="translate(206.8 548) scale(1)" fill="#c2c2c2">
<path d="M-5.6 0 H5.6 Q6.4 0 6.3 0.9 L5.9 2.6 H-5.9 L-6.3 0.9 Q-6.4 0 -5.6 0 Z"/>
<rect x="-4.9" y="2.4" width="9.8" height="6.2"/>
<path d="M-9 8.2 H9 Q10 8.2 10 9.4 V10.8 H9 V10.6 H-9 V10.8 H-10 V9.4 Q-10 8.2 -9 8.2 Z"/>
<path d="M-6.45 10.4 H6.45 V33.5 Q6.45 37.5 2.4 40.3 L1.9 46 H-1.9 L-2.4 40.3 Q-6.45 37.5 -6.45 33.5 Z"/>
<path d="M-1.9 45.5 H1.9 L0.9 58 Q0 59.4 -0.9 58 Z"/>
<rect x="-4.1" y="12.6" width="8.2" height="2.2" fill="#fff"/>
<rect x="-4.1" y="20.4" width="8.2" height="2.2" fill="#fff"/>
<rect x="-4.1" y="28.2" width="8.2" height="2.2" fill="#fff"/>
</g>
<text x="226.4" y="573">CNO</text>
<line x1="288.5" y1="774.8" x2="319.5" y2="774.8" stroke="#1a1a1a" stroke-width="1.5"/>
<circle cx="304" cy="774.8" r="8" fill="#fff" stroke="#1a1a1a" stroke-width="1.6"/>
<text x="338" y="783">Control</text>
<line x1="288.5" y1="803.8" x2="319.5" y2="803.8" stroke="#1a1a1a" stroke-width="1.5"/>
<circle cx="304" cy="803.8" r="8" fill="#E2A943" stroke="#1a1a1a" stroke-width="1.6"/>
<text x="338" y="812.3">hM3Dq</text>
<text x="676" y="532" font-weight="bold" font-size="34">e</text>
<path d="M834.63 862.7 L858.46 790.59 L882.29 652.8" fill="none" stroke="#cfcfd4" stroke-width="0.75" stroke-linejoin="round"/>
<path d="M834.63 862.7 L858.46 812.28 L882.29 695.73" fill="none" stroke="#cfcfd4" stroke-width="0.75" stroke-linejoin="round"/>
<path d="M834.63 862.7 L858.46 806.86 L882.29 609.89" fill="none" stroke="#cfcfd4" stroke-width="0.75" stroke-linejoin="round"/>
<path d="M834.63 862.7 L858.46 809.44 L882.29 640.26" fill="none" stroke="#cfcfd4" stroke-width="0.75" stroke-linejoin="round"/>
<path d="M834.63 862.7 L858.46 820.99 L882.29 640.23" fill="none" stroke="#cfcfd4" stroke-width="0.75" stroke-linejoin="round"/>
<path d="M834.63 862.7 L858.46 793.09 L882.29 633.45" fill="none" stroke="#cfcfd4" stroke-width="0.75" stroke-linejoin="round"/>
<path d="M834.63 862.7 L858.46 775.31 L882.29 610.22" fill="none" stroke="#cfcfd4" stroke-width="0.75" stroke-linejoin="round"/>
<path d="M834.63 862.7 L858.46 821.87 L882.29 696.59" fill="none" stroke="#cfcfd4" stroke-width="0.75" stroke-linejoin="round"/>
<path d="M834.63 782.23 L858.46 767.86 L882.29 767.86" fill="none" stroke="#cfcfd4" stroke-width="0.75" stroke-linejoin="round"/>
<path d="M834.63 813.84 L858.46 813.84 L882.29 813.84" fill="none" stroke="#cfcfd4" stroke-width="0.75" stroke-linejoin="round"/>
<path d="M834.63 854.08 L858.46 776.48 L882.29 719" fill="none" stroke="#cfcfd4" stroke-width="0.75" stroke-linejoin="round"/>
<path d="M834.63 862.7 L858.46 857.14 L882.29 689.19" fill="none" stroke="#ecdfb4" stroke-width="0.75" stroke-linejoin="round"/>
<path d="M834.63 862.7 L858.46 834.66 L882.29 606.69" fill="none" stroke="#ecdfb4" stroke-width="0.75" stroke-linejoin="round"/>
<path d="M834.63 862.7 L858.46 861.9 L882.29 661.96" fill="none" stroke="#ecdfb4" stroke-width="0.75" stroke-linejoin="round"/>
<path d="M834.63 862.7 L858.46 855.19 L882.29 727.85" fill="none" stroke="#ecdfb4" stroke-width="0.75" stroke-linejoin="round"/>
<path d="M834.63 862.7 L858.46 844.1 L882.29 583.79" fill="none" stroke="#ecdfb4" stroke-width="0.75" stroke-linejoin="round"/>
<path d="M834.63 862.7 L858.46 816.27 L882.29 575.3" fill="none" stroke="#ecdfb4" stroke-width="0.75" stroke-linejoin="round"/>
<path d="M834.63 862.7 L858.46 802.04 L882.29 604.6" fill="none" stroke="#ecdfb4" stroke-width="0.75" stroke-linejoin="round"/>
<path d="M834.63 862.7 L858.46 834.17 L882.29 582.77" fill="none" stroke="#ecdfb4" stroke-width="0.75" stroke-linejoin="round"/>
<path d="M834.63 862.7 L858.46 832.36 L882.29 653.66" fill="none" stroke="#ecdfb4" stroke-width="0.75" stroke-linejoin="round"/>
<path d="M834.63 862.7 L858.46 853.94 L882.29 629.75" fill="none" stroke="#ecdfb4" stroke-width="0.75" stroke-linejoin="round"/>
<path d="M834.63 862.7 L858.46 848.33 L882.29 575.3" fill="none" stroke="#ecdfb4" stroke-width="0.75" stroke-linejoin="round"/>
<path d="M834.63 862.7 L858.46 862.7 L882.29 621.28" fill="none" stroke="#ecdfb4" stroke-width="0.75" stroke-linejoin="round"/>
<path d="M929.95 862.7 L953.78 669.98 L977.61 780.48 L1001.44 802.83 L1025.27 845.13 L1049.1 862.7 L1072.93 848.21 L1096.76 775.97 L1120.59 817.89 L1144.42 827.41 L1168.25 835.02" fill="none" stroke="#cfcfd4" stroke-width="0.75" stroke-linejoin="round"/>
<path d="M929.95 862.7 L953.78 746.12 L977.61 778.45 L1001.44 801.28 L1025.27 821.87 L1049.1 848.06 L1072.93 848.12 L1096.76 857.95 L1120.59 852.86 L1144.42 848.26 L1168.25 857.79" fill="none" stroke="#cfcfd4" stroke-width="0.75" stroke-linejoin="round"/>
<path d="M929.95 862.7 L953.78 608.27 L977.61 739.81 L1001.44 788.82 L1025.27 726.07 L1049.1 829.72 L1072.93 811.43 L1096.76 845.01 L1120.59 824.49 L1144.42 827.22 L1168.25 833.21" fill="none" stroke="#cfcfd4" stroke-width="0.75" stroke-linejoin="round"/>
<path d="M929.95 862.7 L953.78 670.92 L977.61 785.35 L1001.44 803.68 L1025.27 821.59 L1049.1 769.61 L1072.93 823.4 L1096.76 848.76 L1120.59 744.3 L1144.42 837.26 L1168.25 776.21" fill="none" stroke="#cfcfd4" stroke-width="0.75" stroke-linejoin="round"/>
<path d="M929.95 862.7 L953.78 681.23 L977.61 761.26 L1001.44 801.84 L1025.27 813.37 L1049.1 848.39 L1072.93 854.23 L1096.76 846.15 L1120.59 822.6 L1144.42 835.27 L1168.25 835.02" fill="none" stroke="#cfcfd4" stroke-width="0.75" stroke-linejoin="round"/>
<path d="M929.95 862.7 L953.78 749.82 L977.61 808.45 L1001.44 834.22 L1025.27 836.07 L1049.1 862.7 L1072.93 854.45 L1096.76 841.33 L1120.59 841.18 L1144.42 846.85 L1168.25 847.48" fill="none" stroke="#cfcfd4" stroke-width="0.75" stroke-linejoin="round"/>
<path d="M929.95 862.7 L953.78 665.8 L977.61 764.52 L1001.44 809.65 L1025.27 817.12 L1049.1 840.17 L1072.93 824.82 L1096.76 849.54 L1120.59 806.62 L1144.42 836.98 L1168.25 840.29" fill="none" stroke="#cfcfd4" stroke-width="0.75" stroke-linejoin="round"/>
<path d="M929.95 862.7 L953.78 746.51 L977.61 790.34 L1001.44 829.7 L1025.27 835.48 L1049.1 843.01 L1072.93 747.79 L1096.76 825.86 L1120.59 845.34 L1144.42 780.51 L1168.25 782.08" fill="none" stroke="#cfcfd4" stroke-width="0.75" stroke-linejoin="round"/>
<path d="M929.95 862.7 L953.78 612.66 L977.61 635.65 L1001.44 704.63 L1025.27 652.9 L1049.1 805.22 L1072.93 839.71 L1096.76 848.33 L1120.59 776.48 L1144.42 810.97 L1168.25 848.33" fill="none" stroke="#cfcfd4" stroke-width="0.75" stroke-linejoin="round"/>
<path d="M929.95 862.7 L953.78 641.4 L977.61 733.37 L1001.44 747.74 L1025.27 733.37 L1049.1 790.85 L1072.93 822.46 L1096.76 845.46 L1120.59 739.12 L1144.42 782.23 L1168.25 756.36" fill="none" stroke="#cfcfd4" stroke-width="0.75" stroke-linejoin="round"/>
<path d="M929.95 862.7 L953.78 684.51 L977.61 767.86 L1001.44 759.24 L1025.27 799.47 L1049.1 839.71 L1072.93 854.08 L1096.76 833.96 L1120.59 851.2 L1144.42 856.95 L1168.25 862.7" fill="none" stroke="#cfcfd4" stroke-width="0.75" stroke-linejoin="round"/>
<path d="M929.95 862.7 L953.78 642.64 L977.61 727.93 L1001.44 778.73 L1025.27 791.92 L1049.1 818.98 L1072.93 836.44 L1096.76 813.64 L1120.59 813.93 L1144.42 810.89 L1168.25 780.26" fill="none" stroke="#ecdfb4" stroke-width="0.75" stroke-linejoin="round"/>
<path d="M929.95 862.7 L953.78 789.44 L977.61 832.58 L1001.44 819.98 L1025.27 845.12 L1049.1 784.59 L1072.93 855.79 L1096.76 862.7 L1120.59 856.5 L1144.42 835.49 L1168.25 761.47" fill="none" stroke="#ecdfb4" stroke-width="0.75" stroke-linejoin="round"/>
<path d="M929.95 862.7 L953.78 708.24 L977.61 797.54 L1001.44 796.76 L1025.27 818.04 L1049.1 812.15 L1072.93 827.37 L1096.76 855.92 L1120.59 844.04 L1144.42 815.56 L1168.25 804.95" fill="none" stroke="#ecdfb4" stroke-width="0.75" stroke-linejoin="round"/>
<path d="M929.95 862.7 L953.78 733.95 L977.61 785.69 L1001.44 783.31 L1025.27 745.5 L1049.1 838.04 L1072.93 835.53 L1096.76 837 L1120.59 816.42 L1144.42 815.08 L1168.25 799.3" fill="none" stroke="#ecdfb4" stroke-width="0.75" stroke-linejoin="round"/>
<path d="M929.95 862.7 L953.78 772.41 L977.61 824.66 L1001.44 832.17 L1025.27 843.1 L1049.1 833.93 L1072.93 835.16 L1096.76 852.27 L1120.59 837.38 L1144.42 835.86 L1168.25 822.64" fill="none" stroke="#ecdfb4" stroke-width="0.75" stroke-linejoin="round"/>
<path d="M929.95 862.7 L953.78 761.48 L977.61 792.98 L1001.44 816.35 L1025.27 840.07 L1049.1 842.5 L1072.93 847.17 L1096.76 829.83 L1120.59 836.78 L1144.42 744.91 L1168.25 831.98" fill="none" stroke="#ecdfb4" stroke-width="0.75" stroke-linejoin="round"/>
<path d="M929.95 862.7 L953.78 778.5 L977.61 826.57 L1001.44 814.03 L1025.27 850.27 L1049.1 826.33 L1072.93 852.09 L1096.76 778 L1120.59 855.44 L1144.42 840.23 L1168.25 818.91" fill="none" stroke="#ecdfb4" stroke-width="0.75" stroke-linejoin="round"/>
<path d="M929.95 862.7 L953.78 682.72 L977.61 766.54 L1001.44 773.27 L1025.27 808.44 L1049.1 812.39 L1072.93 827.63 L1096.76 826.12 L1120.59 821.4 L1144.42 780.41 L1168.25 804.26" fill="none" stroke="#ecdfb4" stroke-width="0.75" stroke-linejoin="round"/>
<path d="M929.95 862.7 L953.78 684.08 L977.61 752.6 L1001.44 747.77 L1025.27 821.98 L1049.1 794.61 L1072.93 808.41 L1096.76 832.41 L1120.59 836.08 L1144.42 724.09 L1168.25 788.75" fill="none" stroke="#ecdfb4" stroke-width="0.75" stroke-linejoin="round"/>
<path d="M929.95 862.7 L953.78 652.9 L977.61 713.25 L1001.44 690.26 L1025.27 710.38 L1049.1 810.97 L1072.93 641.4 L1096.76 776.48 L1120.59 828.21 L1144.42 696.01 L1168.25 661.52" fill="none" stroke="#ecdfb4" stroke-width="0.75" stroke-linejoin="round"/>
<path d="M929.95 862.7 L953.78 673.02 L977.61 704.63 L1001.44 747.74 L1025.27 805.22 L1049.1 719 L1072.93 828.21 L1096.76 793.72 L1120.59 833.96 L1144.42 776.48 L1168.25 710.38" fill="none" stroke="#ecdfb4" stroke-width="0.75" stroke-linejoin="round"/>
<path d="M929.95 862.7 L953.78 805.22 L977.61 839.71 L1001.44 854.08 L1025.27 862.7 L1049.1 845.46 L1072.93 799.47 L1096.76 828.21 L1120.59 816.72 L1144.42 839.71 L1168.25 796.6" fill="none" stroke="#ecdfb4" stroke-width="0.75" stroke-linejoin="round"/>
<path d="M1215.91 862.7 L1239.74 746.53" fill="none" stroke="#cfcfd4" stroke-width="0.75" stroke-linejoin="round"/>
<path d="M1215.91 862.7 L1239.74 769.21" fill="none" stroke="#cfcfd4" stroke-width="0.75" stroke-linejoin="round"/>
<path d="M1215.91 862.7 L1239.74 830.94" fill="none" stroke="#cfcfd4" stroke-width="0.75" stroke-linejoin="round"/>
<path d="M1215.91 862.7 L1239.74 739.66" fill="none" stroke="#cfcfd4" stroke-width="0.75" stroke-linejoin="round"/>
<path d="M1215.91 862.7 L1239.74 734.74" fill="none" stroke="#cfcfd4" stroke-width="0.75" stroke-linejoin="round"/>
<path d="M1215.91 862.7 L1239.74 852.06" fill="none" stroke="#cfcfd4" stroke-width="0.75" stroke-linejoin="round"/>
<path d="M1215.91 862.7 L1239.74 814.41" fill="none" stroke="#cfcfd4" stroke-width="0.75" stroke-linejoin="round"/>
<path d="M1215.91 862.7 L1239.74 741.89" fill="none" stroke="#cfcfd4" stroke-width="0.75" stroke-linejoin="round"/>
<path d="M1215.91 862.7 L1239.74 758.45" fill="none" stroke="#cfcfd4" stroke-width="0.75" stroke-linejoin="round"/>
<path d="M1215.91 862.7 L1239.74 776.86" fill="none" stroke="#cfcfd4" stroke-width="0.75" stroke-linejoin="round"/>
<path d="M1215.91 862.7 L1239.74 732.96" fill="none" stroke="#cfcfd4" stroke-width="0.75" stroke-linejoin="round"/>
<path d="M1215.91 862.7 L1239.74 813.48" fill="none" stroke="#ecdfb4" stroke-width="0.75" stroke-linejoin="round"/>
<path d="M1215.91 862.7 L1239.74 797.95" fill="none" stroke="#ecdfb4" stroke-width="0.75" stroke-linejoin="round"/>
<path d="M1215.91 862.7 L1239.74 780.18" fill="none" stroke="#ecdfb4" stroke-width="0.75" stroke-linejoin="round"/>
<path d="M1215.91 862.7 L1239.74 724.61" fill="none" stroke="#ecdfb4" stroke-width="0.75" stroke-linejoin="round"/>
<path d="M1215.91 862.7 L1239.74 765" fill="none" stroke="#ecdfb4" stroke-width="0.75" stroke-linejoin="round"/>
<path d="M1215.91 862.7 L1239.74 722.21" fill="none" stroke="#ecdfb4" stroke-width="0.75" stroke-linejoin="round"/>
<path d="M1215.91 862.7 L1239.74 779.25" fill="none" stroke="#ecdfb4" stroke-width="0.75" stroke-linejoin="round"/>
<path d="M1215.91 862.7 L1239.74 749.67" fill="none" stroke="#ecdfb4" stroke-width="0.75" stroke-linejoin="round"/>
<path d="M1215.91 862.7 L1239.74 764.09" fill="none" stroke="#ecdfb4" stroke-width="0.75" stroke-linejoin="round"/>
<path d="M1215.91 862.7 L1239.74 751.32" fill="none" stroke="#ecdfb4" stroke-width="0.75" stroke-linejoin="round"/>
<path d="M1215.91 862.7 L1239.74 717.04" fill="none" stroke="#ecdfb4" stroke-width="0.75" stroke-linejoin="round"/>
<path d="M1215.91 862.7 L1239.74 725.78" fill="none" stroke="#ecdfb4" stroke-width="0.75" stroke-linejoin="round"/>
<path d="M1287.4 754.5 L1311.23 588.24" fill="none" stroke="#cfcfd4" stroke-width="0.75" stroke-linejoin="round"/>
<path d="M1287.4 712.06 L1311.23 594.06" fill="none" stroke="#cfcfd4" stroke-width="0.75" stroke-linejoin="round"/>
<path d="M1287.4 798.7 L1311.23 616.79" fill="none" stroke="#cfcfd4" stroke-width="0.75" stroke-linejoin="round"/>
<path d="M1287.4 779.27 L1311.23 606.71" fill="none" stroke="#cfcfd4" stroke-width="0.75" stroke-linejoin="round"/>
<path d="M1287.4 767.29 L1311.23 714.34" fill="none" stroke="#cfcfd4" stroke-width="0.75" stroke-linejoin="round"/>
<path d="M1287.4 789.3 L1311.23 703.8" fill="none" stroke="#cfcfd4" stroke-width="0.75" stroke-linejoin="round"/>
<path d="M1287.4 786.37 L1311.23 610.55" fill="none" stroke="#cfcfd4" stroke-width="0.75" stroke-linejoin="round"/>
<path d="M1287.4 802.02 L1311.23 605.88" fill="none" stroke="#cfcfd4" stroke-width="0.75" stroke-linejoin="round"/>
<path d="M1287.4 693.55 L1311.23 679.18" fill="none" stroke="#cfcfd4" stroke-width="0.75" stroke-linejoin="round"/>
<path d="M1287.4 697.76 L1311.23 594.91" fill="none" stroke="#cfcfd4" stroke-width="0.75" stroke-linejoin="round"/>
<path d="M1287.4 748.72 L1311.23 663.8" fill="none" stroke="#cfcfd4" stroke-width="0.75" stroke-linejoin="round"/>
<path d="M1287.4 804.72 L1311.23 713.31" fill="none" stroke="#ecdfb4" stroke-width="0.75" stroke-linejoin="round"/>
<path d="M1287.4 758.42 L1311.23 604.37" fill="none" stroke="#ecdfb4" stroke-width="0.75" stroke-linejoin="round"/>
<path d="M1287.4 697.56 L1311.23 660.87" fill="none" stroke="#ecdfb4" stroke-width="0.75" stroke-linejoin="round"/>
<path d="M1287.4 765.54 L1311.23 660.33" fill="none" stroke="#ecdfb4" stroke-width="0.75" stroke-linejoin="round"/>
<path d="M1287.4 790.16 L1311.23 694.11" fill="none" stroke="#ecdfb4" stroke-width="0.75" stroke-linejoin="round"/>
<path d="M1287.4 759.46 L1311.23 664.23" fill="none" stroke="#ecdfb4" stroke-width="0.75" stroke-linejoin="round"/>
<path d="M1287.4 799.38 L1311.23 657.75" fill="none" stroke="#ecdfb4" stroke-width="0.75" stroke-linejoin="round"/>
<path d="M1287.4 758.34 L1311.23 708.41" fill="none" stroke="#ecdfb4" stroke-width="0.75" stroke-linejoin="round"/>
<path d="M1287.4 745.96 L1311.23 645.78" fill="none" stroke="#ecdfb4" stroke-width="0.75" stroke-linejoin="round"/>
<path d="M1287.4 743.93 L1311.23 610.81" fill="none" stroke="#ecdfb4" stroke-width="0.75" stroke-linejoin="round"/>
<path d="M1287.4 789.84 L1311.23 661.83" fill="none" stroke="#ecdfb4" stroke-width="0.75" stroke-linejoin="round"/>
<path d="M1287.4 632.78 L1311.23 632.78" fill="none" stroke="#ecdfb4" stroke-width="0.75" stroke-linejoin="round"/>
<line x1="794.9" y1="863.7" x2="794.9" y2="574.3" stroke="#1a1a1a" stroke-width="2"/>
<line x1="786.9" y1="862.7" x2="794.9" y2="862.7" stroke="#1a1a1a" stroke-width="2"/>
<text x="783.7" y="870.85" text-anchor="end">0</text>
<line x1="786.9" y1="790.85" x2="794.9" y2="790.85" stroke="#1a1a1a" stroke-width="2"/>
<text x="783.7" y="799" text-anchor="end">25</text>
<line x1="786.9" y1="719" x2="794.9" y2="719" stroke="#1a1a1a" stroke-width="2"/>
<text x="783.7" y="727.15" text-anchor="end">50</text>
<line x1="786.9" y1="647.15" x2="794.9" y2="647.15" stroke="#1a1a1a" stroke-width="2"/>
<text x="783.7" y="655.3" text-anchor="end">75</text>
<line x1="786.9" y1="575.3" x2="794.9" y2="575.3" stroke="#1a1a1a" stroke-width="2"/>
<text x="783.7" y="583.45" text-anchor="end">100</text>
<line x1="786.4" y1="862.7" x2="1328.2" y2="862.7" stroke="#1a1a1a" stroke-width="2"/>
<line x1="810.8" y1="862.7" x2="810.8" y2="867.6" stroke="#1a1a1a" stroke-width="1.8"/>
<line x1="834.63" y1="862.7" x2="834.63" y2="867.6" stroke="#1a1a1a" stroke-width="1.8"/>
<line x1="858.46" y1="862.7" x2="858.46" y2="867.6" stroke="#1a1a1a" stroke-width="1.8"/>
<line x1="882.29" y1="862.7" x2="882.29" y2="867.6" stroke="#1a1a1a" stroke-width="1.8"/>
<line x1="929.95" y1="862.7" x2="929.95" y2="867.6" stroke="#1a1a1a" stroke-width="1.8"/>
<line x1="953.78" y1="862.7" x2="953.78" y2="867.6" stroke="#1a1a1a" stroke-width="1.8"/>
<line x1="977.61" y1="862.7" x2="977.61" y2="867.6" stroke="#1a1a1a" stroke-width="1.8"/>
<line x1="1001.44" y1="862.7" x2="1001.44" y2="867.6" stroke="#1a1a1a" stroke-width="1.8"/>
<line x1="1025.27" y1="862.7" x2="1025.27" y2="867.6" stroke="#1a1a1a" stroke-width="1.8"/>
<line x1="1049.1" y1="862.7" x2="1049.1" y2="867.6" stroke="#1a1a1a" stroke-width="1.8"/>
<line x1="1072.93" y1="862.7" x2="1072.93" y2="867.6" stroke="#1a1a1a" stroke-width="1.8"/>
<line x1="1096.76" y1="862.7" x2="1096.76" y2="867.6" stroke="#1a1a1a" stroke-width="1.8"/>
<line x1="1120.59" y1="862.7" x2="1120.59" y2="867.6" stroke="#1a1a1a" stroke-width="1.8"/>
<line x1="1144.42" y1="862.7" x2="1144.42" y2="867.6" stroke="#1a1a1a" stroke-width="1.8"/>
<line x1="1168.25" y1="862.7" x2="1168.25" y2="867.6" stroke="#1a1a1a" stroke-width="1.8"/>
<line x1="1215.91" y1="862.7" x2="1215.91" y2="867.6" stroke="#1a1a1a" stroke-width="1.8"/>
<line x1="1239.74" y1="862.7" x2="1239.74" y2="867.6" stroke="#1a1a1a" stroke-width="1.8"/>
<line x1="1287.4" y1="862.7" x2="1287.4" y2="867.6" stroke="#1a1a1a" stroke-width="1.8"/>
<line x1="1311.23" y1="862.7" x2="1311.23" y2="867.6" stroke="#1a1a1a" stroke-width="1.8"/>
<line x1="906.12" y1="569" x2="906.12" y2="868.2" stroke="#000" stroke-width="1.7" stroke-dasharray="4.4 3.4"/>
<line x1="1192.08" y1="569" x2="1192.08" y2="868.2" stroke="#000" stroke-width="1.7" stroke-dasharray="4.4 3.4"/>
<line x1="1263.57" y1="569" x2="1263.57" y2="868.2" stroke="#000" stroke-width="1.7" stroke-dasharray="4.4 3.4"/>
<line x1="859.96" y1="862.7" x2="882.29" y2="651.17" stroke="#3a3a3a" stroke-width="1.2"/>
<line x1="858.46" y1="802.35" x2="858.46" y2="819.59" stroke="#1a1a1a" stroke-width="1.7"/>
<line x1="854.36" y1="802.35" x2="862.56" y2="802.35" stroke="#1a1a1a" stroke-width="1.7"/>
<line x1="858.46" y1="836.83" x2="858.46" y2="819.59" stroke="#1a1a1a" stroke-width="1.7"/>
<line x1="854.36" y1="836.83" x2="862.56" y2="836.83" stroke="#1a1a1a" stroke-width="1.7"/>
<line x1="882.29" y1="664.39" x2="882.29" y2="684.51" stroke="#1a1a1a" stroke-width="1.7"/>
<line x1="878.19" y1="664.39" x2="886.39" y2="664.39" stroke="#1a1a1a" stroke-width="1.7"/>
<line x1="882.29" y1="704.63" x2="882.29" y2="684.51" stroke="#1a1a1a" stroke-width="1.7"/>
<line x1="878.19" y1="704.63" x2="886.39" y2="704.63" stroke="#1a1a1a" stroke-width="1.7"/>
<path d="M858.46 819.59 L882.29 684.51" fill="none" stroke="#1a1a1a" stroke-width="1.9"/>
<circle cx="834.63" cy="850.05" r="8.3" fill="#fff" stroke="#1a1a1a" stroke-width="1.7"/>
<circle cx="858.46" cy="819.59" r="8.3" fill="#fff" stroke="#1a1a1a" stroke-width="1.7"/>
<circle cx="882.29" cy="684.51" r="8.3" fill="#fff" stroke="#1a1a1a" stroke-width="1.7"/>
<line x1="882.29" y1="635.37" x2="882.29" y2="651.17" stroke="#1a1a1a" stroke-width="1.7"/>
<line x1="878.19" y1="635.37" x2="886.39" y2="635.37" stroke="#1a1a1a" stroke-width="1.7"/>
<line x1="882.29" y1="666.98" x2="882.29" y2="651.17" stroke="#1a1a1a" stroke-width="1.7"/>
<line x1="878.19" y1="666.98" x2="886.39" y2="666.98" stroke="#1a1a1a" stroke-width="1.7"/>
<path d="M858.46 838.85 L882.29 651.17" fill="none" stroke="#1a1a1a" stroke-width="1.9"/>
<circle cx="834.63" cy="862.7" r="8.3" fill="#E2A943" stroke="#1a1a1a" stroke-width="1.7"/>
<circle cx="858.46" cy="838.85" r="8.3" fill="#E2A943" stroke="#1a1a1a" stroke-width="1.7"/>
<circle cx="882.29" cy="651.17" r="8.3" fill="#E2A943" stroke="#1a1a1a" stroke-width="1.7"/>
<line x1="953.78" y1="682.79" x2="953.78" y2="697.73" stroke="#1a1a1a" stroke-width="1.7"/>
<line x1="949.68" y1="682.79" x2="957.88" y2="682.79" stroke="#1a1a1a" stroke-width="1.7"/>
<line x1="953.78" y1="712.68" x2="953.78" y2="697.73" stroke="#1a1a1a" stroke-width="1.7"/>
<line x1="949.68" y1="712.68" x2="957.88" y2="712.68" stroke="#1a1a1a" stroke-width="1.7"/>
<line x1="977.61" y1="770.73" x2="977.61" y2="780.79" stroke="#1a1a1a" stroke-width="1.7"/>
<line x1="973.51" y1="770.73" x2="981.71" y2="770.73" stroke="#1a1a1a" stroke-width="1.7"/>
<line x1="977.61" y1="790.85" x2="977.61" y2="780.79" stroke="#1a1a1a" stroke-width="1.7"/>
<line x1="973.51" y1="790.85" x2="981.71" y2="790.85" stroke="#1a1a1a" stroke-width="1.7"/>
<line x1="1001.44" y1="800.62" x2="1001.44" y2="811.54" stroke="#1a1a1a" stroke-width="1.7"/>
<line x1="997.34" y1="800.62" x2="1005.54" y2="800.62" stroke="#1a1a1a" stroke-width="1.7"/>
<line x1="1001.44" y1="822.46" x2="1001.44" y2="811.54" stroke="#1a1a1a" stroke-width="1.7"/>
<line x1="997.34" y1="822.46" x2="1005.54" y2="822.46" stroke="#1a1a1a" stroke-width="1.7"/>
<line x1="1025.27" y1="806.08" x2="1025.27" y2="823.9" stroke="#1a1a1a" stroke-width="1.7"/>
<line x1="1021.17" y1="806.08" x2="1029.37" y2="806.08" stroke="#1a1a1a" stroke-width="1.7"/>
<line x1="1025.27" y1="841.72" x2="1025.27" y2="823.9" stroke="#1a1a1a" stroke-width="1.7"/>
<line x1="1021.17" y1="841.72" x2="1029.37" y2="841.72" stroke="#1a1a1a" stroke-width="1.7"/>
<line x1="1072.93" y1="829.65" x2="1072.93" y2="838.27" stroke="#1a1a1a" stroke-width="1.7"/>
<line x1="1068.83" y1="829.65" x2="1077.03" y2="829.65" stroke="#1a1a1a" stroke-width="1.7"/>
<line x1="1072.93" y1="846.89" x2="1072.93" y2="838.27" stroke="#1a1a1a" stroke-width="1.7"/>
<line x1="1068.83" y1="846.89" x2="1077.03" y2="846.89" stroke="#1a1a1a" stroke-width="1.7"/>
<line x1="1096.76" y1="846.03" x2="1096.76" y2="849.48" stroke="#1a1a1a" stroke-width="1.7"/>
<line x1="1092.66" y1="846.03" x2="1100.86" y2="846.03" stroke="#1a1a1a" stroke-width="1.7"/>
<line x1="1096.76" y1="852.93" x2="1096.76" y2="849.48" stroke="#1a1a1a" stroke-width="1.7"/>
<line x1="1092.66" y1="852.93" x2="1100.86" y2="852.93" stroke="#1a1a1a" stroke-width="1.7"/>
<line x1="1120.59" y1="828.79" x2="1120.59" y2="838.27" stroke="#1a1a1a" stroke-width="1.7"/>
<line x1="1116.49" y1="828.79" x2="1124.69" y2="828.79" stroke="#1a1a1a" stroke-width="1.7"/>
<line x1="1120.59" y1="847.76" x2="1120.59" y2="838.27" stroke="#1a1a1a" stroke-width="1.7"/>
<line x1="1116.49" y1="847.76" x2="1124.69" y2="847.76" stroke="#1a1a1a" stroke-width="1.7"/>
<line x1="1144.42" y1="833.96" x2="1144.42" y2="843.44" stroke="#1a1a1a" stroke-width="1.7"/>
<line x1="1140.32" y1="833.96" x2="1148.52" y2="833.96" stroke="#1a1a1a" stroke-width="1.7"/>
<line x1="1144.42" y1="852.93" x2="1144.42" y2="843.44" stroke="#1a1a1a" stroke-width="1.7"/>
<line x1="1140.32" y1="852.93" x2="1148.52" y2="852.93" stroke="#1a1a1a" stroke-width="1.7"/>
<line x1="1168.25" y1="824.48" x2="1168.25" y2="838.27" stroke="#1a1a1a" stroke-width="1.7"/>
<line x1="1164.15" y1="824.48" x2="1172.35" y2="824.48" stroke="#1a1a1a" stroke-width="1.7"/>
<line x1="1168.25" y1="852.07" x2="1168.25" y2="838.27" stroke="#1a1a1a" stroke-width="1.7"/>
<line x1="1164.15" y1="852.07" x2="1172.35" y2="852.07" stroke="#1a1a1a" stroke-width="1.7"/>
<circle cx="929.95" cy="862.7" r="8.3" fill="#fff" stroke="#1a1a1a" stroke-width="1.7"/>
<circle cx="953.78" cy="697.73" r="8.3" fill="#fff" stroke="#1a1a1a" stroke-width="1.7"/>
<circle cx="977.61" cy="780.79" r="8.3" fill="#fff" stroke="#1a1a1a" stroke-width="1.7"/>
<circle cx="1001.44" cy="811.54" r="8.3" fill="#fff" stroke="#1a1a1a" stroke-width="1.7"/>
<circle cx="1025.27" cy="823.9" r="8.3" fill="#fff" stroke="#1a1a1a" stroke-width="1.7"/>
<circle cx="1049.1" cy="845.46" r="8.3" fill="#fff" stroke="#1a1a1a" stroke-width="1.7"/>
<circle cx="1072.93" cy="838.27" r="8.3" fill="#fff" stroke="#1a1a1a" stroke-width="1.7"/>
<circle cx="1096.76" cy="849.48" r="8.3" fill="#fff" stroke="#1a1a1a" stroke-width="1.7"/>
<circle cx="1120.59" cy="838.27" r="8.3" fill="#fff" stroke="#1a1a1a" stroke-width="1.7"/>
<circle cx="1144.42" cy="843.44" r="8.3" fill="#fff" stroke="#1a1a1a" stroke-width="1.7"/>
<circle cx="1168.25" cy="838.27" r="8.3" fill="#fff" stroke="#1a1a1a" stroke-width="1.7"/>
<line x1="953.78" y1="708.08" x2="953.78" y2="720.15" stroke="#1a1a1a" stroke-width="1.7"/>
<line x1="949.68" y1="708.08" x2="957.88" y2="708.08" stroke="#1a1a1a" stroke-width="1.7"/>
<line x1="953.78" y1="732.22" x2="953.78" y2="720.15" stroke="#1a1a1a" stroke-width="1.7"/>
<line x1="949.68" y1="732.22" x2="957.88" y2="732.22" stroke="#1a1a1a" stroke-width="1.7"/>
<line x1="977.61" y1="764.41" x2="977.61" y2="777.34" stroke="#1a1a1a" stroke-width="1.7"/>
<line x1="973.51" y1="764.41" x2="981.71" y2="764.41" stroke="#1a1a1a" stroke-width="1.7"/>
<line x1="977.61" y1="790.28" x2="977.61" y2="777.34" stroke="#1a1a1a" stroke-width="1.7"/>
<line x1="973.51" y1="790.28" x2="981.71" y2="790.28" stroke="#1a1a1a" stroke-width="1.7"/>
<line x1="1001.44" y1="783.66" x2="1001.44" y2="796.31" stroke="#1a1a1a" stroke-width="1.7"/>
<line x1="997.34" y1="783.66" x2="1005.54" y2="783.66" stroke="#1a1a1a" stroke-width="1.7"/>
<line x1="1001.44" y1="808.96" x2="1001.44" y2="796.31" stroke="#1a1a1a" stroke-width="1.7"/>
<line x1="997.34" y1="808.96" x2="1005.54" y2="808.96" stroke="#1a1a1a" stroke-width="1.7"/>
<line x1="1025.27" y1="804.93" x2="1025.27" y2="820.74" stroke="#1a1a1a" stroke-width="1.7"/>
<line x1="1021.17" y1="804.93" x2="1029.37" y2="804.93" stroke="#1a1a1a" stroke-width="1.7"/>
<line x1="1025.27" y1="836.55" x2="1025.27" y2="820.74" stroke="#1a1a1a" stroke-width="1.7"/>
<line x1="1021.17" y1="836.55" x2="1029.37" y2="836.55" stroke="#1a1a1a" stroke-width="1.7"/>
<line x1="1049.1" y1="813.84" x2="1049.1" y2="825.91" stroke="#1a1a1a" stroke-width="1.7"/>
<line x1="1045" y1="813.84" x2="1053.2" y2="813.84" stroke="#1a1a1a" stroke-width="1.7"/>
<line x1="1049.1" y1="837.98" x2="1049.1" y2="825.91" stroke="#1a1a1a" stroke-width="1.7"/>
<line x1="1045" y1="837.98" x2="1053.2" y2="837.98" stroke="#1a1a1a" stroke-width="1.7"/>
<line x1="1072.93" y1="811.26" x2="1072.93" y2="829.07" stroke="#1a1a1a" stroke-width="1.7"/>
<line x1="1068.83" y1="811.26" x2="1077.03" y2="811.26" stroke="#1a1a1a" stroke-width="1.7"/>
<line x1="1072.93" y1="846.89" x2="1072.93" y2="829.07" stroke="#1a1a1a" stroke-width="1.7"/>
<line x1="1068.83" y1="846.89" x2="1077.03" y2="846.89" stroke="#1a1a1a" stroke-width="1.7"/>
<line x1="1096.76" y1="829.36" x2="1096.76" y2="840.28" stroke="#1a1a1a" stroke-width="1.7"/>
<line x1="1092.66" y1="829.36" x2="1100.86" y2="829.36" stroke="#1a1a1a" stroke-width="1.7"/>
<line x1="1096.76" y1="851.2" x2="1096.76" y2="840.28" stroke="#1a1a1a" stroke-width="1.7"/>
<line x1="1092.66" y1="851.2" x2="1100.86" y2="851.2" stroke="#1a1a1a" stroke-width="1.7"/>
<line x1="1120.59" y1="824.76" x2="1120.59" y2="835.68" stroke="#1a1a1a" stroke-width="1.7"/>
<line x1="1116.49" y1="824.76" x2="1124.69" y2="824.76" stroke="#1a1a1a" stroke-width="1.7"/>
<line x1="1120.59" y1="846.61" x2="1120.59" y2="835.68" stroke="#1a1a1a" stroke-width="1.7"/>
<line x1="1116.49" y1="846.61" x2="1124.69" y2="846.61" stroke="#1a1a1a" stroke-width="1.7"/>
<line x1="1144.42" y1="811.26" x2="1144.42" y2="826.49" stroke="#1a1a1a" stroke-width="1.7"/>
<line x1="1140.32" y1="811.26" x2="1148.52" y2="811.26" stroke="#1a1a1a" stroke-width="1.7"/>
<line x1="1144.42" y1="841.72" x2="1144.42" y2="826.49" stroke="#1a1a1a" stroke-width="1.7"/>
<line x1="1140.32" y1="841.72" x2="1148.52" y2="841.72" stroke="#1a1a1a" stroke-width="1.7"/>
<line x1="1168.25" y1="785.1" x2="1168.25" y2="804.65" stroke="#1a1a1a" stroke-width="1.7"/>
<line x1="1164.15" y1="785.1" x2="1172.35" y2="785.1" stroke="#1a1a1a" stroke-width="1.7"/>
<line x1="1168.25" y1="824.19" x2="1168.25" y2="804.65" stroke="#1a1a1a" stroke-width="1.7"/>
<line x1="1164.15" y1="824.19" x2="1172.35" y2="824.19" stroke="#1a1a1a" stroke-width="1.7"/>
<path d="M953.78 720.15 L977.61 777.34 L1001.44 796.31 L1025.27 820.74 L1049.1 825.91 L1072.93 829.07 L1096.76 840.28 L1120.59 835.68 L1144.42 826.49 L1168.25 804.65" fill="none" stroke="#1a1a1a" stroke-width="1.9"/>
<circle cx="929.95" cy="862.7" r="8.3" fill="#E2A943" stroke="#1a1a1a" stroke-width="1.7"/>
<circle cx="953.78" cy="720.15" r="8.3" fill="#E2A943" stroke="#1a1a1a" stroke-width="1.7"/>
<circle cx="977.61" cy="777.34" r="8.3" fill="#E2A943" stroke="#1a1a1a" stroke-width="1.7"/>
<circle cx="1001.44" cy="796.31" r="8.3" fill="#E2A943" stroke="#1a1a1a" stroke-width="1.7"/>
<circle cx="1025.27" cy="820.74" r="8.3" fill="#E2A943" stroke="#1a1a1a" stroke-width="1.7"/>
<circle cx="1049.1" cy="825.91" r="8.3" fill="#E2A943" stroke="#1a1a1a" stroke-width="1.7"/>
<circle cx="1072.93" cy="829.07" r="8.3" fill="#E2A943" stroke="#1a1a1a" stroke-width="1.7"/>
<circle cx="1096.76" cy="840.28" r="8.3" fill="#E2A943" stroke="#1a1a1a" stroke-width="1.7"/>
<circle cx="1120.59" cy="835.68" r="8.3" fill="#E2A943" stroke="#1a1a1a" stroke-width="1.7"/>
<circle cx="1144.42" cy="826.49" r="8.3" fill="#E2A943" stroke="#1a1a1a" stroke-width="1.7"/>
<circle cx="1168.25" cy="804.65" r="8.3" fill="#E2A943" stroke="#1a1a1a" stroke-width="1.7"/>
<line x1="1239.74" y1="761.82" x2="1239.74" y2="774.18" stroke="#1a1a1a" stroke-width="1.7"/>
<line x1="1235.64" y1="761.82" x2="1243.84" y2="761.82" stroke="#1a1a1a" stroke-width="1.7"/>
<line x1="1239.74" y1="786.54" x2="1239.74" y2="774.18" stroke="#1a1a1a" stroke-width="1.7"/>
<line x1="1235.64" y1="786.54" x2="1243.84" y2="786.54" stroke="#1a1a1a" stroke-width="1.7"/>
<circle cx="1215.91" cy="862.7" r="8.3" fill="#fff" stroke="#1a1a1a" stroke-width="1.7"/>
<circle cx="1239.74" cy="774.18" r="8.3" fill="#fff" stroke="#1a1a1a" stroke-width="1.7"/>
<line x1="1239.74" y1="742.57" x2="1239.74" y2="756.07" stroke="#1a1a1a" stroke-width="1.7"/>
<line x1="1235.64" y1="742.57" x2="1243.84" y2="742.57" stroke="#1a1a1a" stroke-width="1.7"/>
<line x1="1239.74" y1="769.58" x2="1239.74" y2="756.07" stroke="#1a1a1a" stroke-width="1.7"/>
<line x1="1235.64" y1="769.58" x2="1243.84" y2="769.58" stroke="#1a1a1a" stroke-width="1.7"/>
<circle cx="1215.91" cy="862.7" r="8.3" fill="#E2A943" stroke="#1a1a1a" stroke-width="1.7"/>
<circle cx="1239.74" cy="756.07" r="8.3" fill="#E2A943" stroke="#1a1a1a" stroke-width="1.7"/>
<line x1="1287.4" y1="772.46" x2="1287.4" y2="787.69" stroke="#1a1a1a" stroke-width="1.7"/>
<line x1="1283.3" y1="772.46" x2="1291.5" y2="772.46" stroke="#1a1a1a" stroke-width="1.7"/>
<line x1="1287.4" y1="802.92" x2="1287.4" y2="787.69" stroke="#1a1a1a" stroke-width="1.7"/>
<line x1="1283.3" y1="802.92" x2="1291.5" y2="802.92" stroke="#1a1a1a" stroke-width="1.7"/>
<line x1="1311.23" y1="634.22" x2="1311.23" y2="643.41" stroke="#1a1a1a" stroke-width="1.7"/>
<line x1="1307.13" y1="634.22" x2="1315.33" y2="634.22" stroke="#1a1a1a" stroke-width="1.7"/>
<line x1="1311.23" y1="652.61" x2="1311.23" y2="643.41" stroke="#1a1a1a" stroke-width="1.7"/>
<line x1="1307.13" y1="652.61" x2="1315.33" y2="652.61" stroke="#1a1a1a" stroke-width="1.7"/>
<circle cx="1287.4" cy="787.69" r="8.3" fill="#fff" stroke="#1a1a1a" stroke-width="1.7"/>
<circle cx="1311.23" cy="643.41" r="8.3" fill="#fff" stroke="#1a1a1a" stroke-width="1.7"/>
<line x1="1287.4" y1="759.81" x2="1287.4" y2="779.93" stroke="#1a1a1a" stroke-width="1.7"/>
<line x1="1283.3" y1="759.81" x2="1291.5" y2="759.81" stroke="#1a1a1a" stroke-width="1.7"/>
<line x1="1287.4" y1="800.05" x2="1287.4" y2="779.93" stroke="#1a1a1a" stroke-width="1.7"/>
<line x1="1283.3" y1="800.05" x2="1291.5" y2="800.05" stroke="#1a1a1a" stroke-width="1.7"/>
<line x1="1311.23" y1="636.8" x2="1311.23" y2="652.04" stroke="#1a1a1a" stroke-width="1.7"/>
<line x1="1307.13" y1="636.8" x2="1315.33" y2="636.8" stroke="#1a1a1a" stroke-width="1.7"/>
<line x1="1311.23" y1="667.27" x2="1311.23" y2="652.04" stroke="#1a1a1a" stroke-width="1.7"/>
<line x1="1307.13" y1="667.27" x2="1315.33" y2="667.27" stroke="#1a1a1a" stroke-width="1.7"/>
<circle cx="1287.4" cy="779.93" r="8.3" fill="#E2A943" stroke="#1a1a1a" stroke-width="1.7"/>
<circle cx="1311.23" cy="652.04" r="8.3" fill="#E2A943" stroke="#1a1a1a" stroke-width="1.7"/>
<text x="835.24" y="894.7" text-anchor="middle">b</text>
<text x="858.46" y="894.7" text-anchor="middle">1</text>
<text x="882.29" y="894.7" text-anchor="middle">3</text>
<text x="929.95" y="894.7" text-anchor="middle">b</text>
<text x="951.54" y="894.7" text-anchor="middle">1</text>
<text x="977.61" y="894.7" text-anchor="middle">2</text>
<text x="1001.44" y="894.7" text-anchor="middle">3</text>
<text x="1024.45" y="894.7" text-anchor="middle">4</text>
<text x="1049.51" y="894.7" text-anchor="middle">5</text>
<text x="1075.99" y="894.7" text-anchor="middle">6</text>
<text x="1096.35" y="894.7" text-anchor="middle">7</text>
<text x="1123.04" y="894.7" text-anchor="middle">8</text>
<text x="1149.93" y="894.7" text-anchor="middle">9</text>
<text x="1176.01" y="894.7" text-anchor="middle">10</text>
<text x="1221.01" y="894.7" text-anchor="middle">b</text>
<text x="1242.39" y="894.7" text-anchor="middle">1</text>
<text x="1293.11" y="894.7" text-anchor="middle">b</text>
<text x="1313.68" y="894.7" text-anchor="middle">1</text>
<circle cx="930" cy="862.7" r="8.3" fill="#fff" stroke="#241a3a" stroke-width="1.7"/>
<text x="729.6" y="718.8" text-anchor="middle" transform="rotate(-90 729.6 718.8)">Freezing (%)</text>
<g transform="translate(814 551.6) scale(1)" fill="#c2c2c2">
<path d="M-5.6 0 H5.6 Q6.4 0 6.3 0.9 L5.9 2.6 H-5.9 L-6.3 0.9 Q-6.4 0 -5.6 0 Z"/>
<rect x="-4.9" y="2.4" width="9.8" height="6.2"/>
<path d="M-9 8.2 H9 Q10 8.2 10 9.4 V10.8 H9 V10.6 H-9 V10.8 H-10 V9.4 Q-10 8.2 -9 8.2 Z"/>
<path d="M-6.45 10.4 H6.45 V33.5 Q6.45 37.5 2.4 40.3 L1.9 46 H-1.9 L-2.4 40.3 Q-6.45 37.5 -6.45 33.5 Z"/>
<path d="M-1.9 45.5 H1.9 L0.9 58 Q0 59.4 -0.9 58 Z"/>
<rect x="-4.1" y="12.6" width="8.2" height="2.2" fill="#fff"/>
<rect x="-4.1" y="20.4" width="8.2" height="2.2" fill="#fff"/>
<rect x="-4.1" y="28.2" width="8.2" height="2.2" fill="#fff"/>
</g>
<text x="830.6" y="573">CNO</text>
<line x1="1054.5" y1="573" x2="1085.5" y2="573" stroke="#1a1a1a" stroke-width="1.5"/>
<circle cx="1070" cy="573" r="8" fill="#fff" stroke="#1a1a1a" stroke-width="1.6"/>
<text x="1103.7" y="580.2">Control</text>
<line x1="1054.5" y1="603" x2="1085.5" y2="603" stroke="#1a1a1a" stroke-width="1.5"/>
<circle cx="1070" cy="603" r="8" fill="#E2A943" stroke="#1a1a1a" stroke-width="1.6"/>
<text x="1103.7" y="610.4">hM3Dq</text>
<text x="844.5" y="924" text-anchor="middle">CS</text>
<text x="1120.3" y="924" text-anchor="middle">5-CS trial-block</text>
<text x="845" y="960.5" text-anchor="middle">F-con</text>
<text x="1060" y="960.5" text-anchor="middle">Ext</text>
<text x="1228.7" y="960.5" text-anchor="middle">E-Ret</text>
<text x="1309.2" y="960.5" text-anchor="middle">F-Ren</text>
<text x="1411" y="532" font-weight="bold" font-size="34">f</text>
<path d="M1530.6 859 L1554.4 814.74 L1578.2 673.49" fill="none" stroke="#cfcfd4" stroke-width="0.75" stroke-linejoin="round"/>
<path d="M1530.6 859 L1554.4 823.82 L1578.2 695.08" fill="none" stroke="#cfcfd4" stroke-width="0.75" stroke-linejoin="round"/>
<path d="M1530.6 859 L1554.4 830.72 L1578.2 722.41" fill="none" stroke="#cfcfd4" stroke-width="0.75" stroke-linejoin="round"/>
<path d="M1530.6 859 L1554.4 814.62 L1578.2 676.35" fill="none" stroke="#cfcfd4" stroke-width="0.75" stroke-linejoin="round"/>
<path d="M1530.6 859 L1554.4 805.42 L1578.2 670.85" fill="none" stroke="#cfcfd4" stroke-width="0.75" stroke-linejoin="round"/>
<path d="M1530.6 859 L1554.4 838.59 L1578.2 713" fill="none" stroke="#cfcfd4" stroke-width="0.75" stroke-linejoin="round"/>
<path d="M1530.6 859 L1554.4 817.98 L1578.2 711.35" fill="none" stroke="#cfcfd4" stroke-width="0.75" stroke-linejoin="round"/>
<path d="M1530.6 859 L1554.4 806.96 L1578.2 710.54" fill="none" stroke="#cfcfd4" stroke-width="0.75" stroke-linejoin="round"/>
<path d="M1530.6 859 L1554.4 831.14 L1578.2 697.67" fill="none" stroke="#cfcfd4" stroke-width="0.75" stroke-linejoin="round"/>
<path d="M1530.6 859 L1554.4 824.87 L1578.2 667.85" fill="none" stroke="#cfcfd4" stroke-width="0.75" stroke-linejoin="round"/>
<path d="M1530.6 764.36 L1554.4 764.36 L1578.2 764.36" fill="none" stroke="#cfcfd4" stroke-width="0.75" stroke-linejoin="round"/>
<path d="M1530.6 859 L1554.4 838.65 L1578.2 736.73" fill="none" stroke="#ecdfb4" stroke-width="0.75" stroke-linejoin="round"/>
<path d="M1530.6 859 L1554.4 774.08 L1578.2 638.94" fill="none" stroke="#ecdfb4" stroke-width="0.75" stroke-linejoin="round"/>
<path d="M1530.6 859 L1554.4 802.89 L1578.2 713.32" fill="none" stroke="#ecdfb4" stroke-width="0.75" stroke-linejoin="round"/>
<path d="M1530.6 859 L1554.4 830.46 L1578.2 767.85" fill="none" stroke="#ecdfb4" stroke-width="0.75" stroke-linejoin="round"/>
<path d="M1530.6 859 L1554.4 798.06 L1578.2 722.76" fill="none" stroke="#ecdfb4" stroke-width="0.75" stroke-linejoin="round"/>
<path d="M1530.6 859 L1554.4 806.02 L1578.2 739.55" fill="none" stroke="#ecdfb4" stroke-width="0.75" stroke-linejoin="round"/>
<path d="M1530.6 859 L1554.4 814.89 L1578.2 656.21" fill="none" stroke="#ecdfb4" stroke-width="0.75" stroke-linejoin="round"/>
<path d="M1530.6 859 L1554.4 806.9 L1578.2 657.39" fill="none" stroke="#ecdfb4" stroke-width="0.75" stroke-linejoin="round"/>
<path d="M1530.6 859 L1554.4 833.74 L1578.2 772.15" fill="none" stroke="#ecdfb4" stroke-width="0.75" stroke-linejoin="round"/>
<path d="M1530.6 859 L1554.4 814.24 L1578.2 685.97" fill="none" stroke="#ecdfb4" stroke-width="0.75" stroke-linejoin="round"/>
<path d="M1530.6 859 L1554.4 764.36 L1578.2 620.96" fill="none" stroke="#ecdfb4" stroke-width="0.75" stroke-linejoin="round"/>
<path d="M1530.6 859 L1554.4 859 L1578.2 715.6" fill="none" stroke="#ecdfb4" stroke-width="0.75" stroke-linejoin="round"/>
<path d="M1649.6 859 L1673.4 712.51 L1697.2 804.34 L1721 835.65 L1744.8 846.82 L1768.6 855.52 L1792.4 852.64 L1816.2 851.07 L1840 859 L1863.8 838.89 L1887.6 826.01" fill="none" stroke="#cfcfd4" stroke-width="0.75" stroke-linejoin="round"/>
<path d="M1649.6 859 L1673.4 698.58 L1697.2 807.09 L1721 809.34 L1744.8 840.66 L1768.6 859 L1792.4 859 L1816.2 859 L1840 846.91 L1863.8 859 L1887.6 851.09" fill="none" stroke="#cfcfd4" stroke-width="0.75" stroke-linejoin="round"/>
<path d="M1649.6 859 L1673.4 724.14 L1697.2 779.38 L1721 811.42 L1744.8 841.21 L1768.6 859 L1792.4 854.1 L1816.2 837.68 L1840 848.76 L1863.8 850.32 L1887.6 846" fill="none" stroke="#cfcfd4" stroke-width="0.75" stroke-linejoin="round"/>
<path d="M1649.6 859 L1673.4 733.43 L1697.2 829.81 L1721 819.9 L1744.8 840.83 L1768.6 859 L1792.4 859 L1816.2 856.4 L1840 837.77 L1863.8 859 L1887.6 853.99" fill="none" stroke="#cfcfd4" stroke-width="0.75" stroke-linejoin="round"/>
<path d="M1649.6 859 L1673.4 703.28 L1697.2 788.45 L1721 813.44 L1744.8 824.96 L1768.6 852.83 L1792.4 859 L1816.2 841.45 L1840 847.3 L1863.8 847.2 L1887.6 841.58" fill="none" stroke="#cfcfd4" stroke-width="0.75" stroke-linejoin="round"/>
<path d="M1649.6 859 L1673.4 763.48 L1697.2 818.06 L1721 833.06 L1744.8 859 L1768.6 851.85 L1792.4 847.44 L1816.2 859 L1840 835.28 L1863.8 841.74 L1887.6 842.59" fill="none" stroke="#cfcfd4" stroke-width="0.75" stroke-linejoin="round"/>
<path d="M1649.6 859 L1673.4 773.27 L1697.2 796.2 L1721 810.96 L1744.8 843.69 L1768.6 844.51 L1792.4 859 L1816.2 842.36 L1840 859 L1863.8 858.57 L1887.6 847.37" fill="none" stroke="#cfcfd4" stroke-width="0.75" stroke-linejoin="round"/>
<path d="M1649.6 859 L1673.4 721.76 L1697.2 794.12 L1721 809.9 L1744.8 848.58 L1768.6 841.67 L1792.4 858.29 L1816.2 844.59 L1840 845.89 L1863.8 854.63 L1887.6 844.29" fill="none" stroke="#cfcfd4" stroke-width="0.75" stroke-linejoin="round"/>
<path d="M1649.6 859 L1673.4 764.71 L1697.2 812.91 L1721 844.83 L1744.8 852.73 L1768.6 856.9 L1792.4 855.23 L1816.2 845 L1840 859 L1863.8 857.46 L1887.6 859" fill="none" stroke="#cfcfd4" stroke-width="0.75" stroke-linejoin="round"/>
<path d="M1649.6 859 L1673.4 784.7 L1697.2 824.74 L1721 823 L1744.8 859 L1768.6 859 L1792.4 842.24 L1816.2 847.22 L1840 859 L1863.8 852.13 L1887.6 844" fill="none" stroke="#cfcfd4" stroke-width="0.75" stroke-linejoin="round"/>
<path d="M1649.6 859 L1673.4 669.71 L1697.2 744.28 L1721 795.9 L1744.8 830.32 L1768.6 847.53 L1792.4 836.06 L1816.2 824.58 L1840 813.11 L1863.8 830.32 L1887.6 830.32" fill="none" stroke="#cfcfd4" stroke-width="0.75" stroke-linejoin="round"/>
<path d="M1649.6 859 L1673.4 646.68 L1697.2 740.83 L1721 777.6 L1744.8 817.6 L1768.6 831.47 L1792.4 855.51 L1816.2 846.35 L1840 831.85 L1863.8 841.08 L1887.6 842.43" fill="none" stroke="#ecdfb4" stroke-width="0.75" stroke-linejoin="round"/>
<path d="M1649.6 859 L1673.4 702.97 L1697.2 753.31 L1721 800.17 L1744.8 841.08 L1768.6 854.88 L1792.4 859 L1816.2 858.55 L1840 859 L1863.8 829.64 L1887.6 847.62" fill="none" stroke="#ecdfb4" stroke-width="0.75" stroke-linejoin="round"/>
<path d="M1649.6 859 L1673.4 681.96 L1697.2 742.14 L1721 783.12 L1744.8 834.29 L1768.6 824.15 L1792.4 847.74 L1816.2 836.34 L1840 825.95 L1863.8 844 L1887.6 859" fill="none" stroke="#ecdfb4" stroke-width="0.75" stroke-linejoin="round"/>
<path d="M1649.6 859 L1673.4 698.58 L1697.2 767.69 L1721 791.87 L1744.8 837.07 L1768.6 847.22 L1792.4 859 L1816.2 859 L1840 846.38 L1863.8 855.14 L1887.6 859" fill="none" stroke="#ecdfb4" stroke-width="0.75" stroke-linejoin="round"/>
<path d="M1649.6 859 L1673.4 702.13 L1697.2 756.39 L1721 787.27 L1744.8 825.5 L1768.6 832.17 L1792.4 850.23 L1816.2 849.92 L1840 842.87 L1863.8 845.72 L1887.6 859" fill="none" stroke="#ecdfb4" stroke-width="0.75" stroke-linejoin="round"/>
<path d="M1649.6 859 L1673.4 708.14 L1697.2 780.4 L1721 801.36 L1744.8 837.64 L1768.6 842.86 L1792.4 857.77 L1816.2 853.81 L1840 837.27 L1863.8 848.23 L1887.6 837.12" fill="none" stroke="#ecdfb4" stroke-width="0.75" stroke-linejoin="round"/>
<path d="M1649.6 859 L1673.4 740.02 L1697.2 767.4 L1721 806.72 L1744.8 840.8 L1768.6 837.4 L1792.4 859 L1816.2 838.9 L1840 840.31 L1863.8 859 L1887.6 843.14" fill="none" stroke="#ecdfb4" stroke-width="0.75" stroke-linejoin="round"/>
<path d="M1649.6 859 L1673.4 718.92 L1697.2 767.95 L1721 801.83 L1744.8 838.05 L1768.6 822.64 L1792.4 859 L1816.2 859 L1840 843.84 L1863.8 828.41 L1887.6 854.22" fill="none" stroke="#ecdfb4" stroke-width="0.75" stroke-linejoin="round"/>
<path d="M1649.6 859 L1673.4 755.67 L1697.2 783.64 L1721 812.5 L1744.8 847.31 L1768.6 851.81 L1792.4 855.11 L1816.2 852.22 L1840 841.23 L1863.8 854.7 L1887.6 847.25" fill="none" stroke="#ecdfb4" stroke-width="0.75" stroke-linejoin="round"/>
<path d="M1649.6 859 L1673.4 596.08 L1697.2 739.39 L1721 806.57 L1744.8 824.95 L1768.6 827.45 L1792.4 839.83 L1816.2 859 L1840 834.01 L1863.8 828.69 L1887.6 831.09" fill="none" stroke="#ecdfb4" stroke-width="0.75" stroke-linejoin="round"/>
<path d="M1649.6 859 L1673.4 629.56 L1697.2 729.94 L1721 744.28 L1744.8 836.06 L1768.6 767.22 L1792.4 841.79 L1816.2 850.4 L1840 813.11 L1863.8 836.06 L1887.6 821.72" fill="none" stroke="#ecdfb4" stroke-width="0.75" stroke-linejoin="round"/>
<path d="M1649.6 859 L1673.4 686.92 L1697.2 686.92 L1721 732.81 L1744.8 732.81 L1768.6 824.58 L1792.4 830.32 L1816.2 841.79 L1840 836.06 L1863.8 813.11 L1887.6 830.32" fill="none" stroke="#ecdfb4" stroke-width="0.75" stroke-linejoin="round"/>
<path d="M1935.2 859 L1959 744.01" fill="none" stroke="#cfcfd4" stroke-width="0.75" stroke-linejoin="round"/>
<path d="M1935.2 859 L1959 717.35" fill="none" stroke="#cfcfd4" stroke-width="0.75" stroke-linejoin="round"/>
<path d="M1935.2 859 L1959 685.65" fill="none" stroke="#cfcfd4" stroke-width="0.75" stroke-linejoin="round"/>
<path d="M1935.2 859 L1959 723.19" fill="none" stroke="#cfcfd4" stroke-width="0.75" stroke-linejoin="round"/>
<path d="M1935.2 859 L1959 717.08" fill="none" stroke="#cfcfd4" stroke-width="0.75" stroke-linejoin="round"/>
<path d="M1935.2 859 L1959 749.29" fill="none" stroke="#cfcfd4" stroke-width="0.75" stroke-linejoin="round"/>
<path d="M1935.2 859 L1959 761.08" fill="none" stroke="#cfcfd4" stroke-width="0.75" stroke-linejoin="round"/>
<path d="M1935.2 859 L1959 776.5" fill="none" stroke="#cfcfd4" stroke-width="0.75" stroke-linejoin="round"/>
<path d="M1935.2 859 L1959 780.75" fill="none" stroke="#cfcfd4" stroke-width="0.75" stroke-linejoin="round"/>
<path d="M1935.2 859 L1959 752.58" fill="none" stroke="#cfcfd4" stroke-width="0.75" stroke-linejoin="round"/>
<path d="M1935.2 859 L1959 803.35" fill="none" stroke="#cfcfd4" stroke-width="0.75" stroke-linejoin="round"/>
<path d="M1935.2 859 L1959 777.65" fill="none" stroke="#ecdfb4" stroke-width="0.75" stroke-linejoin="round"/>
<path d="M1935.2 859 L1959 806.74" fill="none" stroke="#ecdfb4" stroke-width="0.75" stroke-linejoin="round"/>
<path d="M1935.2 859 L1959 750.71" fill="none" stroke="#ecdfb4" stroke-width="0.75" stroke-linejoin="round"/>
<path d="M1935.2 859 L1959 784.21" fill="none" stroke="#ecdfb4" stroke-width="0.75" stroke-linejoin="round"/>
<path d="M1935.2 859 L1959 721.42" fill="none" stroke="#ecdfb4" stroke-width="0.75" stroke-linejoin="round"/>
<path d="M1935.2 859 L1959 742.43" fill="none" stroke="#ecdfb4" stroke-width="0.75" stroke-linejoin="round"/>
<path d="M1935.2 859 L1959 720.78" fill="none" stroke="#ecdfb4" stroke-width="0.75" stroke-linejoin="round"/>
<path d="M1935.2 859 L1959 721.1" fill="none" stroke="#ecdfb4" stroke-width="0.75" stroke-linejoin="round"/>
<path d="M1935.2 859 L1959 762.17" fill="none" stroke="#ecdfb4" stroke-width="0.75" stroke-linejoin="round"/>
<path d="M1935.2 859 L1959 767.1" fill="none" stroke="#ecdfb4" stroke-width="0.75" stroke-linejoin="round"/>
<path d="M1935.2 859 L1959 723" fill="none" stroke="#ecdfb4" stroke-width="0.75" stroke-linejoin="round"/>
<path d="M1935.2 859 L1959 773.58" fill="none" stroke="#ecdfb4" stroke-width="0.75" stroke-linejoin="round"/>
<path d="M2006.6 716.99 L2030.4 663.31" fill="none" stroke="#cfcfd4" stroke-width="0.75" stroke-linejoin="round"/>
<path d="M2006.6 667.28 L2030.4 652.94" fill="none" stroke="#cfcfd4" stroke-width="0.75" stroke-linejoin="round"/>
<path d="M2006.6 769.09 L2030.4 653.77" fill="none" stroke="#cfcfd4" stroke-width="0.75" stroke-linejoin="round"/>
<path d="M2006.6 793.49 L2030.4 663.48" fill="none" stroke="#cfcfd4" stroke-width="0.75" stroke-linejoin="round"/>
<path d="M2006.6 717.29 L2030.4 655.17" fill="none" stroke="#cfcfd4" stroke-width="0.75" stroke-linejoin="round"/>
<path d="M2006.6 760.89 L2030.4 716.16" fill="none" stroke="#cfcfd4" stroke-width="0.75" stroke-linejoin="round"/>
<path d="M2006.6 773.86 L2030.4 672.61" fill="none" stroke="#cfcfd4" stroke-width="0.75" stroke-linejoin="round"/>
<path d="M2006.6 721.8 L2030.4 670.39" fill="none" stroke="#cfcfd4" stroke-width="0.75" stroke-linejoin="round"/>
<path d="M2006.6 694.58 L2030.4 680.24" fill="none" stroke="#cfcfd4" stroke-width="0.75" stroke-linejoin="round"/>
<path d="M2006.6 760.31 L2030.4 656.91" fill="none" stroke="#cfcfd4" stroke-width="0.75" stroke-linejoin="round"/>
<path d="M2006.6 749.52 L2030.4 640.82" fill="none" stroke="#cfcfd4" stroke-width="0.75" stroke-linejoin="round"/>
<path d="M2006.6 722.33 L2030.4 617.76" fill="none" stroke="#ecdfb4" stroke-width="0.75" stroke-linejoin="round"/>
<path d="M2006.6 801.99 L2030.4 680.11" fill="none" stroke="#ecdfb4" stroke-width="0.75" stroke-linejoin="round"/>
<path d="M2006.6 673.69 L2030.4 631.89" fill="none" stroke="#ecdfb4" stroke-width="0.75" stroke-linejoin="round"/>
<path d="M2006.6 688.21 L2030.4 612.39" fill="none" stroke="#ecdfb4" stroke-width="0.75" stroke-linejoin="round"/>
<path d="M2006.6 699.49 L2030.4 647.58" fill="none" stroke="#ecdfb4" stroke-width="0.75" stroke-linejoin="round"/>
<path d="M2006.6 663.66 L2030.4 649.32" fill="none" stroke="#ecdfb4" stroke-width="0.75" stroke-linejoin="round"/>
<path d="M2006.6 699.49 L2030.4 637.85" fill="none" stroke="#ecdfb4" stroke-width="0.75" stroke-linejoin="round"/>
<path d="M2006.6 715.6 L2030.4 661.88" fill="none" stroke="#ecdfb4" stroke-width="0.75" stroke-linejoin="round"/>
<path d="M2006.6 767.28 L2030.4 642.35" fill="none" stroke="#ecdfb4" stroke-width="0.75" stroke-linejoin="round"/>
<path d="M2006.6 750.41 L2030.4 608.47" fill="none" stroke="#ecdfb4" stroke-width="0.75" stroke-linejoin="round"/>
<path d="M2006.6 722.17 L2030.4 633.4" fill="none" stroke="#ecdfb4" stroke-width="0.75" stroke-linejoin="round"/>
<path d="M2006.6 669.86 L2030.4 655.52" fill="none" stroke="#ecdfb4" stroke-width="0.75" stroke-linejoin="round"/>
<line x1="1514.9" y1="860" x2="1514.9" y2="571.2" stroke="#1a1a1a" stroke-width="2"/>
<line x1="1506.9" y1="859" x2="1514.9" y2="859" stroke="#1a1a1a" stroke-width="2"/>
<text x="1503.7" y="867.15" text-anchor="end">0</text>
<line x1="1506.9" y1="787.3" x2="1514.9" y2="787.3" stroke="#1a1a1a" stroke-width="2"/>
<text x="1503.7" y="795.45" text-anchor="end">25</text>
<line x1="1506.9" y1="715.6" x2="1514.9" y2="715.6" stroke="#1a1a1a" stroke-width="2"/>
<text x="1503.7" y="723.75" text-anchor="end">50</text>
<line x1="1506.9" y1="643.9" x2="1514.9" y2="643.9" stroke="#1a1a1a" stroke-width="2"/>
<text x="1503.7" y="652.05" text-anchor="end">75</text>
<line x1="1506.9" y1="572.2" x2="1514.9" y2="572.2" stroke="#1a1a1a" stroke-width="2"/>
<text x="1503.7" y="580.35" text-anchor="end">100</text>
<line x1="1506.4" y1="859" x2="2047.5" y2="859" stroke="#1a1a1a" stroke-width="2"/>
<line x1="1530.6" y1="859" x2="1530.6" y2="863.9" stroke="#1a1a1a" stroke-width="1.8"/>
<line x1="1554.4" y1="859" x2="1554.4" y2="863.9" stroke="#1a1a1a" stroke-width="1.8"/>
<line x1="1578.2" y1="859" x2="1578.2" y2="863.9" stroke="#1a1a1a" stroke-width="1.8"/>
<line x1="1602" y1="859" x2="1602" y2="863.9" stroke="#1a1a1a" stroke-width="1.8"/>
<line x1="1649.6" y1="859" x2="1649.6" y2="863.9" stroke="#1a1a1a" stroke-width="1.8"/>
<line x1="1673.4" y1="859" x2="1673.4" y2="863.9" stroke="#1a1a1a" stroke-width="1.8"/>
<line x1="1697.2" y1="859" x2="1697.2" y2="863.9" stroke="#1a1a1a" stroke-width="1.8"/>
<line x1="1721" y1="859" x2="1721" y2="863.9" stroke="#1a1a1a" stroke-width="1.8"/>
<line x1="1744.8" y1="859" x2="1744.8" y2="863.9" stroke="#1a1a1a" stroke-width="1.8"/>
<line x1="1768.6" y1="859" x2="1768.6" y2="863.9" stroke="#1a1a1a" stroke-width="1.8"/>
<line x1="1792.4" y1="859" x2="1792.4" y2="863.9" stroke="#1a1a1a" stroke-width="1.8"/>
<line x1="1816.2" y1="859" x2="1816.2" y2="863.9" stroke="#1a1a1a" stroke-width="1.8"/>
<line x1="1840" y1="859" x2="1840" y2="863.9" stroke="#1a1a1a" stroke-width="1.8"/>
<line x1="1863.8" y1="859" x2="1863.8" y2="863.9" stroke="#1a1a1a" stroke-width="1.8"/>
<line x1="1887.6" y1="859" x2="1887.6" y2="863.9" stroke="#1a1a1a" stroke-width="1.8"/>
<line x1="1935.2" y1="859" x2="1935.2" y2="863.9" stroke="#1a1a1a" stroke-width="1.8"/>
<line x1="1959" y1="859" x2="1959" y2="863.9" stroke="#1a1a1a" stroke-width="1.8"/>
<line x1="2006.6" y1="859" x2="2006.6" y2="863.9" stroke="#1a1a1a" stroke-width="1.8"/>
<line x1="2030.4" y1="859" x2="2030.4" y2="863.9" stroke="#1a1a1a" stroke-width="1.8"/>
<line x1="1625.8" y1="566" x2="1625.8" y2="864.5" stroke="#000" stroke-width="1.7" stroke-dasharray="4.4 3.4"/>
<line x1="1911.4" y1="566" x2="1911.4" y2="864.5" stroke="#000" stroke-width="1.7" stroke-dasharray="4.4 3.4"/>
<line x1="1982.8" y1="566" x2="1982.8" y2="864.5" stroke="#000" stroke-width="1.7" stroke-dasharray="4.4 3.4"/>
<line x1="1555.9" y1="859" x2="1578.2" y2="679.46" stroke="#3a3a3a" stroke-width="1.2"/>
<line x1="1554.4" y1="807.66" x2="1554.4" y2="820.86" stroke="#1a1a1a" stroke-width="1.7"/>
<line x1="1550.3" y1="807.66" x2="1558.5" y2="807.66" stroke="#1a1a1a" stroke-width="1.7"/>
<line x1="1554.4" y1="834.05" x2="1554.4" y2="820.86" stroke="#1a1a1a" stroke-width="1.7"/>
<line x1="1550.3" y1="834.05" x2="1558.5" y2="834.05" stroke="#1a1a1a" stroke-width="1.7"/>
<line x1="1578.2" y1="683.48" x2="1578.2" y2="694.38" stroke="#1a1a1a" stroke-width="1.7"/>
<line x1="1574.1" y1="683.48" x2="1582.3" y2="683.48" stroke="#1a1a1a" stroke-width="1.7"/>
<line x1="1578.2" y1="705.28" x2="1578.2" y2="694.38" stroke="#1a1a1a" stroke-width="1.7"/>
<line x1="1574.1" y1="705.28" x2="1582.3" y2="705.28" stroke="#1a1a1a" stroke-width="1.7"/>
<path d="M1554.4 820.86 L1578.2 694.38" fill="none" stroke="#1a1a1a" stroke-width="1.9"/>
<circle cx="1530.6" cy="859" r="8.3" fill="#fff" stroke="#1a1a1a" stroke-width="1.7"/>
<circle cx="1554.4" cy="820.86" r="8.3" fill="#fff" stroke="#1a1a1a" stroke-width="1.7"/>
<circle cx="1578.2" cy="694.38" r="8.3" fill="#fff" stroke="#1a1a1a" stroke-width="1.7"/>
<line x1="1554.4" y1="802.5" x2="1554.4" y2="814.83" stroke="#1a1a1a" stroke-width="1.7"/>
<line x1="1550.3" y1="802.5" x2="1558.5" y2="802.5" stroke="#1a1a1a" stroke-width="1.7"/>
<line x1="1554.4" y1="827.17" x2="1554.4" y2="814.83" stroke="#1a1a1a" stroke-width="1.7"/>
<line x1="1550.3" y1="827.17" x2="1558.5" y2="827.17" stroke="#1a1a1a" stroke-width="1.7"/>
<line x1="1578.2" y1="665.7" x2="1578.2" y2="679.46" stroke="#1a1a1a" stroke-width="1.7"/>
<line x1="1574.1" y1="665.7" x2="1582.3" y2="665.7" stroke="#1a1a1a" stroke-width="1.7"/>
<line x1="1578.2" y1="693.23" x2="1578.2" y2="679.46" stroke="#1a1a1a" stroke-width="1.7"/>
<line x1="1574.1" y1="693.23" x2="1582.3" y2="693.23" stroke="#1a1a1a" stroke-width="1.7"/>
<path d="M1554.4 814.83 L1578.2 679.46" fill="none" stroke="#1a1a1a" stroke-width="1.9"/>
<circle cx="1530.6" cy="859" r="8.3" fill="#E2A943" stroke="#1a1a1a" stroke-width="1.7"/>
<circle cx="1554.4" cy="814.83" r="8.3" fill="#E2A943" stroke="#1a1a1a" stroke-width="1.7"/>
<circle cx="1578.2" cy="679.46" r="8.3" fill="#E2A943" stroke="#1a1a1a" stroke-width="1.7"/>
<line x1="1673.4" y1="718.75" x2="1673.4" y2="731.09" stroke="#1a1a1a" stroke-width="1.7"/>
<line x1="1669.3" y1="718.75" x2="1677.5" y2="718.75" stroke="#1a1a1a" stroke-width="1.7"/>
<line x1="1673.4" y1="743.42" x2="1673.4" y2="731.09" stroke="#1a1a1a" stroke-width="1.7"/>
<line x1="1669.3" y1="743.42" x2="1677.5" y2="743.42" stroke="#1a1a1a" stroke-width="1.7"/>
<line x1="1697.2" y1="787.87" x2="1697.2" y2="801.64" stroke="#1a1a1a" stroke-width="1.7"/>
<line x1="1693.1" y1="787.87" x2="1701.3" y2="787.87" stroke="#1a1a1a" stroke-width="1.7"/>
<line x1="1697.2" y1="815.41" x2="1697.2" y2="801.64" stroke="#1a1a1a" stroke-width="1.7"/>
<line x1="1693.1" y1="815.41" x2="1701.3" y2="815.41" stroke="#1a1a1a" stroke-width="1.7"/>
<line x1="1721" y1="817.7" x2="1721" y2="824.01" stroke="#1a1a1a" stroke-width="1.7"/>
<line x1="1716.9" y1="817.7" x2="1725.1" y2="817.7" stroke="#1a1a1a" stroke-width="1.7"/>
<line x1="1721" y1="830.32" x2="1721" y2="824.01" stroke="#1a1a1a" stroke-width="1.7"/>
<line x1="1716.9" y1="830.32" x2="1725.1" y2="830.32" stroke="#1a1a1a" stroke-width="1.7"/>
<path d="M1673.4 731.09 L1697.2 801.64 L1721 824.01 L1744.8 846.38 L1768.6 850.97 L1792.4 854.7 L1816.2 851.54 L1840 852.4 L1863.8 851.54 L1887.6 847.53" fill="none" stroke="#1a1a1a" stroke-width="1.9"/>
<circle cx="1649.6" cy="859" r="8.3" fill="#fff" stroke="#1a1a1a" stroke-width="1.7"/>
<circle cx="1673.4" cy="731.09" r="8.3" fill="#fff" stroke="#1a1a1a" stroke-width="1.7"/>
<circle cx="1697.2" cy="801.64" r="8.3" fill="#fff" stroke="#1a1a1a" stroke-width="1.7"/>
<circle cx="1721" cy="824.01" r="8.3" fill="#fff" stroke="#1a1a1a" stroke-width="1.7"/>
<circle cx="1744.8" cy="846.38" r="8.3" fill="#fff" stroke="#1a1a1a" stroke-width="1.7"/>
<circle cx="1768.6" cy="850.97" r="8.3" fill="#fff" stroke="#1a1a1a" stroke-width="1.7"/>
<circle cx="1792.4" cy="854.7" r="8.3" fill="#fff" stroke="#1a1a1a" stroke-width="1.7"/>
<circle cx="1816.2" cy="851.54" r="8.3" fill="#fff" stroke="#1a1a1a" stroke-width="1.7"/>
<circle cx="1840" cy="852.4" r="8.3" fill="#fff" stroke="#1a1a1a" stroke-width="1.7"/>
<circle cx="1863.8" cy="851.54" r="8.3" fill="#fff" stroke="#1a1a1a" stroke-width="1.7"/>
<circle cx="1887.6" cy="847.53" r="8.3" fill="#fff" stroke="#1a1a1a" stroke-width="1.7"/>
<line x1="1673.4" y1="717.89" x2="1673.4" y2="731.09" stroke="#1a1a1a" stroke-width="1.7"/>
<line x1="1669.3" y1="717.89" x2="1677.5" y2="717.89" stroke="#1a1a1a" stroke-width="1.7"/>
<line x1="1673.4" y1="744.28" x2="1673.4" y2="731.09" stroke="#1a1a1a" stroke-width="1.7"/>
<line x1="1669.3" y1="744.28" x2="1677.5" y2="744.28" stroke="#1a1a1a" stroke-width="1.7"/>
<line x1="1697.2" y1="768.66" x2="1697.2" y2="783" stroke="#1a1a1a" stroke-width="1.7"/>
<line x1="1693.1" y1="768.66" x2="1701.3" y2="768.66" stroke="#1a1a1a" stroke-width="1.7"/>
<line x1="1697.2" y1="797.34" x2="1697.2" y2="783" stroke="#1a1a1a" stroke-width="1.7"/>
<line x1="1693.1" y1="797.34" x2="1701.3" y2="797.34" stroke="#1a1a1a" stroke-width="1.7"/>
<line x1="1721" y1="801.07" x2="1721" y2="811.68" stroke="#1a1a1a" stroke-width="1.7"/>
<line x1="1716.9" y1="801.07" x2="1725.1" y2="801.07" stroke="#1a1a1a" stroke-width="1.7"/>
<line x1="1721" y1="822.29" x2="1721" y2="811.68" stroke="#1a1a1a" stroke-width="1.7"/>
<line x1="1716.9" y1="822.29" x2="1725.1" y2="822.29" stroke="#1a1a1a" stroke-width="1.7"/>
<line x1="1744.8" y1="829.17" x2="1744.8" y2="836.63" stroke="#1a1a1a" stroke-width="1.7"/>
<line x1="1740.7" y1="829.17" x2="1748.9" y2="829.17" stroke="#1a1a1a" stroke-width="1.7"/>
<line x1="1744.8" y1="844.09" x2="1744.8" y2="836.63" stroke="#1a1a1a" stroke-width="1.7"/>
<line x1="1740.7" y1="844.09" x2="1748.9" y2="844.09" stroke="#1a1a1a" stroke-width="1.7"/>
<path d="M1673.4 731.09 L1697.2 783 L1721 811.68 L1744.8 836.63 L1768.6 836.06 L1792.4 851.54 L1816.2 854.12 L1840 842.94 L1863.8 845.23 L1887.6 849.54" fill="none" stroke="#1a1a1a" stroke-width="1.9"/>
<circle cx="1649.6" cy="859" r="8.3" fill="#E2A943" stroke="#1a1a1a" stroke-width="1.7"/>
<circle cx="1673.4" cy="731.09" r="8.3" fill="#E2A943" stroke="#1a1a1a" stroke-width="1.7"/>
<circle cx="1697.2" cy="783" r="8.3" fill="#E2A943" stroke="#1a1a1a" stroke-width="1.7"/>
<circle cx="1721" cy="811.68" r="8.3" fill="#E2A943" stroke="#1a1a1a" stroke-width="1.7"/>
<circle cx="1744.8" cy="836.63" r="8.3" fill="#E2A943" stroke="#1a1a1a" stroke-width="1.7"/>
<circle cx="1768.6" cy="836.06" r="8.3" fill="#E2A943" stroke="#1a1a1a" stroke-width="1.7"/>
<circle cx="1792.4" cy="851.54" r="8.3" fill="#E2A943" stroke="#1a1a1a" stroke-width="1.7"/>
<circle cx="1816.2" cy="854.12" r="8.3" fill="#E2A943" stroke="#1a1a1a" stroke-width="1.7"/>
<circle cx="1840" cy="842.94" r="8.3" fill="#E2A943" stroke="#1a1a1a" stroke-width="1.7"/>
<circle cx="1863.8" cy="845.23" r="8.3" fill="#E2A943" stroke="#1a1a1a" stroke-width="1.7"/>
<circle cx="1887.6" cy="849.54" r="8.3" fill="#E2A943" stroke="#1a1a1a" stroke-width="1.7"/>
<line x1="1959" y1="737.11" x2="1959" y2="753.46" stroke="#1a1a1a" stroke-width="1.7"/>
<line x1="1954.9" y1="737.11" x2="1963.1" y2="737.11" stroke="#1a1a1a" stroke-width="1.7"/>
<line x1="1959" y1="769.81" x2="1959" y2="753.46" stroke="#1a1a1a" stroke-width="1.7"/>
<line x1="1954.9" y1="769.81" x2="1963.1" y2="769.81" stroke="#1a1a1a" stroke-width="1.7"/>
<circle cx="1935.2" cy="845.23" r="8.3" fill="#fff" stroke="#1a1a1a" stroke-width="1.7"/>
<circle cx="1959" cy="753.46" r="8.3" fill="#fff" stroke="#1a1a1a" stroke-width="1.7"/>
<line x1="1959" y1="748.58" x2="1959" y2="758.62" stroke="#1a1a1a" stroke-width="1.7"/>
<line x1="1954.9" y1="748.58" x2="1963.1" y2="748.58" stroke="#1a1a1a" stroke-width="1.7"/>
<line x1="1959" y1="768.66" x2="1959" y2="758.62" stroke="#1a1a1a" stroke-width="1.7"/>
<line x1="1954.9" y1="768.66" x2="1963.1" y2="768.66" stroke="#1a1a1a" stroke-width="1.7"/>
<circle cx="1935.2" cy="838.92" r="8.3" fill="#E2A943" stroke="#1a1a1a" stroke-width="1.7"/>
<circle cx="1959" cy="758.62" r="8.3" fill="#E2A943" stroke="#1a1a1a" stroke-width="1.7"/>
<line x1="2006.6" y1="733.09" x2="2006.6" y2="747.43" stroke="#1a1a1a" stroke-width="1.7"/>
<line x1="2002.5" y1="733.09" x2="2010.7" y2="733.09" stroke="#1a1a1a" stroke-width="1.7"/>
<line x1="2006.6" y1="761.77" x2="2006.6" y2="747.43" stroke="#1a1a1a" stroke-width="1.7"/>
<line x1="2002.5" y1="761.77" x2="2010.7" y2="761.77" stroke="#1a1a1a" stroke-width="1.7"/>
<line x1="2030.4" y1="637.3" x2="2030.4" y2="654.51" stroke="#1a1a1a" stroke-width="1.7"/>
<line x1="2026.3" y1="637.3" x2="2034.5" y2="637.3" stroke="#1a1a1a" stroke-width="1.7"/>
<line x1="2030.4" y1="671.72" x2="2030.4" y2="654.51" stroke="#1a1a1a" stroke-width="1.7"/>
<line x1="2026.3" y1="671.72" x2="2034.5" y2="671.72" stroke="#1a1a1a" stroke-width="1.7"/>
<circle cx="2006.6" cy="747.43" r="8.3" fill="#fff" stroke="#1a1a1a" stroke-width="1.7"/>
<circle cx="2030.4" cy="654.51" r="8.3" fill="#fff" stroke="#1a1a1a" stroke-width="1.7"/>
<line x1="2006.6" y1="723.34" x2="2006.6" y2="737.11" stroke="#1a1a1a" stroke-width="1.7"/>
<line x1="2002.5" y1="723.34" x2="2010.7" y2="723.34" stroke="#1a1a1a" stroke-width="1.7"/>
<line x1="2006.6" y1="750.88" x2="2006.6" y2="737.11" stroke="#1a1a1a" stroke-width="1.7"/>
<line x1="2002.5" y1="750.88" x2="2010.7" y2="750.88" stroke="#1a1a1a" stroke-width="1.7"/>
<line x1="2030.4" y1="637.3" x2="2030.4" y2="649.92" stroke="#1a1a1a" stroke-width="1.7"/>
<line x1="2026.3" y1="637.3" x2="2034.5" y2="637.3" stroke="#1a1a1a" stroke-width="1.7"/>
<line x1="2030.4" y1="662.54" x2="2030.4" y2="649.92" stroke="#1a1a1a" stroke-width="1.7"/>
<line x1="2026.3" y1="662.54" x2="2034.5" y2="662.54" stroke="#1a1a1a" stroke-width="1.7"/>
<circle cx="2006.6" cy="737.11" r="8.3" fill="#E2A943" stroke="#1a1a1a" stroke-width="1.7"/>
<circle cx="2030.4" cy="649.92" r="8.3" fill="#E2A943" stroke="#1a1a1a" stroke-width="1.7"/>
<text x="1533.05" y="892" text-anchor="middle">b</text>
<text x="1555.42" y="892" text-anchor="middle">1</text>
<text x="1575.96" y="892" text-anchor="middle">3</text>
<text x="1648.17" y="892" text-anchor="middle">b</text>
<text x="1670.95" y="892" text-anchor="middle">1</text>
<text x="1696.79" y="892" text-anchor="middle">2</text>
<text x="1719.37" y="892" text-anchor="middle">3</text>
<text x="1742.15" y="892" text-anchor="middle">4</text>
<text x="1764.31" y="892" text-anchor="middle">5</text>
<text x="1791.38" y="892" text-anchor="middle">6</text>
<text x="1813.55" y="892" text-anchor="middle">7</text>
<text x="1838.37" y="892" text-anchor="middle">8</text>
<text x="1864.21" y="892" text-anchor="middle">9</text>
<text x="1891.27" y="892" text-anchor="middle">10</text>
<text x="1939.89" y="892" text-anchor="middle">b</text>
<text x="1962.47" y="892" text-anchor="middle">1</text>
<text x="2011.91" y="892" text-anchor="middle">b</text>
<text x="2032.64" y="892" text-anchor="middle">1</text>
<text x="1450" y="713.7" text-anchor="middle" transform="rotate(-90 1450 713.7)">Freezing (%)</text>
<g transform="translate(1594.6 549.8) scale(1)" fill="#c2c2c2">
<path d="M-5.6 0 H5.6 Q6.4 0 6.3 0.9 L5.9 2.6 H-5.9 L-6.3 0.9 Q-6.4 0 -5.6 0 Z"/>
<rect x="-4.9" y="2.4" width="9.8" height="6.2"/>
<path d="M-9 8.2 H9 Q10 8.2 10 9.4 V10.8 H9 V10.6 H-9 V10.8 H-10 V9.4 Q-10 8.2 -9 8.2 Z"/>
<path d="M-6.45 10.4 H6.45 V33.5 Q6.45 37.5 2.4 40.3 L1.9 46 H-1.9 L-2.4 40.3 Q-6.45 37.5 -6.45 33.5 Z"/>
<path d="M-1.9 45.5 H1.9 L0.9 58 Q0 59.4 -0.9 58 Z"/>
<rect x="-4.1" y="12.6" width="8.2" height="2.2" fill="#fff"/>
<rect x="-4.1" y="20.4" width="8.2" height="2.2" fill="#fff"/>
<rect x="-4.1" y="28.2" width="8.2" height="2.2" fill="#fff"/>
</g>
<text x="1526.5" y="574.5">CNO</text>
<line x1="1771.8" y1="568.8" x2="1802.8" y2="568.8" stroke="#1a1a1a" stroke-width="1.5"/>
<circle cx="1787.3" cy="568.8" r="8" fill="#fff" stroke="#1a1a1a" stroke-width="1.6"/>
<text x="1821" y="576">Control</text>
<line x1="1771.8" y1="596.3" x2="1802.8" y2="596.3" stroke="#1a1a1a" stroke-width="1.5"/>
<circle cx="1787.3" cy="596.3" r="8" fill="#E2A943" stroke="#1a1a1a" stroke-width="1.6"/>
<text x="1821" y="604">hM3Dq</text>
<text x="1562.6" y="922" text-anchor="middle">CS</text>
<text x="1817" y="922" text-anchor="middle">5-CS trial-block</text>
<text x="1562.6" y="959" text-anchor="middle">F-Con</text>
<text x="1780" y="959" text-anchor="middle">Ext</text>
<text x="1951.4" y="959" text-anchor="middle">E-Ret</text>
<text x="2032" y="959" text-anchor="middle">F-Ren</text>
<text x="366" y="1561.5" font-weight="bold" font-size="34">j</text>
<path d="M484.1 1867.8 L509.07 1848.62 L534.04 1699.18" fill="none" stroke="#b8b8b8" stroke-width="0.75" stroke-linejoin="round"/>
<path d="M484.1 1867.8 L509.07 1867.8 L534.04 1727.94" fill="none" stroke="#b8b8b8" stroke-width="0.75" stroke-linejoin="round"/>
<path d="M484.1 1867.8 L509.07 1867.8 L534.04 1678.64" fill="none" stroke="#b8b8b8" stroke-width="0.75" stroke-linejoin="round"/>
<path d="M484.1 1867.8 L509.07 1853.94 L534.04 1683.34" fill="none" stroke="#b8b8b8" stroke-width="0.75" stroke-linejoin="round"/>
<path d="M484.1 1867.8 L509.07 1837.17 L534.04 1580" fill="none" stroke="#b8b8b8" stroke-width="0.75" stroke-linejoin="round"/>
<path d="M484.1 1867.8 L509.07 1863.03 L534.04 1787.02" fill="none" stroke="#b8b8b8" stroke-width="0.75" stroke-linejoin="round"/>
<path d="M484.1 1867.8 L509.07 1824.29 L534.04 1596.05" fill="none" stroke="#b8b8b8" stroke-width="0.75" stroke-linejoin="round"/>
<path d="M484.1 1867.8 L509.07 1867.8 L534.04 1702.22" fill="none" stroke="#b8b8b8" stroke-width="0.75" stroke-linejoin="round"/>
<path d="M484.1 1867.8 L509.07 1861.34 L534.04 1667.5" fill="none" stroke="#b8b8b8" stroke-width="0.75" stroke-linejoin="round"/>
<path d="M484.1 1867.8 L509.07 1818.87 L534.04 1588.63" fill="none" stroke="#b8b8b8" stroke-width="0.75" stroke-linejoin="round"/>
<path d="M484.1 1867.8 L509.07 1867.8 L534.04 1818.87" fill="none" stroke="#b8b8b8" stroke-width="0.75" stroke-linejoin="round"/>
<path d="M484.1 1867.8 L509.07 1867.8 L534.04 1764.71" fill="none" stroke="#b8b8b8" stroke-width="0.75" stroke-dasharray="2.5 2" stroke-linejoin="round"/>
<path d="M484.1 1867.8 L509.07 1853.47 L534.04 1581.41" fill="none" stroke="#b8b8b8" stroke-width="0.75" stroke-dasharray="2.5 2" stroke-linejoin="round"/>
<path d="M484.1 1867.8 L509.07 1842.88 L534.04 1690.97" fill="none" stroke="#b8b8b8" stroke-width="0.75" stroke-dasharray="2.5 2" stroke-linejoin="round"/>
<path d="M484.1 1867.8 L509.07 1867.8 L534.04 1719.94" fill="none" stroke="#b8b8b8" stroke-width="0.75" stroke-dasharray="2.5 2" stroke-linejoin="round"/>
<path d="M484.1 1867.8 L509.07 1865.7 L534.04 1717.74" fill="none" stroke="#b8b8b8" stroke-width="0.75" stroke-dasharray="2.5 2" stroke-linejoin="round"/>
<path d="M484.1 1867.8 L509.07 1864.44 L534.04 1648.2" fill="none" stroke="#b8b8b8" stroke-width="0.75" stroke-dasharray="2.5 2" stroke-linejoin="round"/>
<path d="M484.1 1867.8 L509.07 1867.8 L534.04 1697.73" fill="none" stroke="#b8b8b8" stroke-width="0.75" stroke-dasharray="2.5 2" stroke-linejoin="round"/>
<path d="M484.1 1867.8 L509.07 1867.8 L534.04 1684.01" fill="none" stroke="#b8b8b8" stroke-width="0.75" stroke-dasharray="2.5 2" stroke-linejoin="round"/>
<path d="M484.1 1867.8 L509.07 1865.53 L534.04 1679.31" fill="none" stroke="#b8b8b8" stroke-width="0.75" stroke-dasharray="2.5 2" stroke-linejoin="round"/>
<path d="M484.1 1867.8 L509.07 1851.86 L534.04 1662.45" fill="none" stroke="#b8b8b8" stroke-width="0.75" stroke-dasharray="2.5 2" stroke-linejoin="round"/>
<path d="M484.1 1867.8 L509.07 1867.8 L534.04 1724.13" fill="none" stroke="#b8b8b8" stroke-width="0.75" stroke-dasharray="2.5 2" stroke-linejoin="round"/>
<path d="M484.1 1867.8 L509.07 1865.9 L534.04 1580" fill="none" stroke="#b8b8b8" stroke-width="0.75" stroke-dasharray="2.5 2" stroke-linejoin="round"/>
<path d="M583.98 1867.8 L608.95 1684.95 L633.92 1758.1 L658.89 1822.52 L683.86 1861.8 L708.83 1855.46 L733.8 1855.17 L758.77 1837.12 L783.74 1847.34 L808.71 1867.8 L833.68 1863.77" fill="none" stroke="#b8b8b8" stroke-width="0.75" stroke-linejoin="round"/>
<path d="M583.98 1867.8 L608.95 1749.09 L633.92 1793.21 L658.89 1844.68 L683.86 1850.27 L708.83 1846.84 L733.8 1867.8 L758.77 1852.46 L783.74 1842.67 L808.71 1793.8 L833.68 1849.18" fill="none" stroke="#b8b8b8" stroke-width="0.75" stroke-linejoin="round"/>
<path d="M583.98 1867.8 L608.95 1580 L633.92 1678.91 L658.89 1784.71 L683.86 1838.08 L708.83 1838.07 L733.8 1839.81 L758.77 1814.08 L783.74 1825.24 L808.71 1842.98 L833.68 1827.29" fill="none" stroke="#b8b8b8" stroke-width="0.75" stroke-linejoin="round"/>
<path d="M583.98 1867.8 L608.95 1782.59 L633.92 1812.29 L658.89 1839.92 L683.86 1849.06 L708.83 1867.8 L733.8 1850.63 L758.77 1850.87 L783.74 1839.27 L808.71 1862.26 L833.68 1858.53" fill="none" stroke="#b8b8b8" stroke-width="0.75" stroke-linejoin="round"/>
<path d="M583.98 1867.8 L608.95 1735.25 L633.92 1757.62 L658.89 1812.39 L683.86 1836.23 L708.83 1860.09 L733.8 1833.35 L758.77 1827.37 L783.74 1851.92 L808.71 1832.69 L833.68 1867.8" fill="none" stroke="#b8b8b8" stroke-width="0.75" stroke-linejoin="round"/>
<path d="M583.98 1867.8 L608.95 1691.9 L633.92 1740.45 L658.89 1828.74 L683.86 1851.33 L708.83 1846.31 L733.8 1852.14 L758.77 1828.48 L783.74 1835.19 L808.71 1867.8 L833.68 1855.04" fill="none" stroke="#b8b8b8" stroke-width="0.75" stroke-linejoin="round"/>
<path d="M583.98 1867.8 L608.95 1736.66 L633.92 1796.32 L658.89 1826.47 L683.86 1851.12 L708.83 1853.88 L733.8 1857.38 L758.77 1842.33 L783.74 1855.94 L808.71 1861.31 L833.68 1858.63" fill="none" stroke="#b8b8b8" stroke-width="0.75" stroke-linejoin="round"/>
<path d="M583.98 1867.8 L608.95 1717.51 L633.92 1764.16 L658.89 1823.58 L683.86 1867.8 L708.83 1867.8 L733.8 1858.27 L758.77 1849.54 L783.74 1842.22 L808.71 1867.8 L833.68 1738.09" fill="none" stroke="#b8b8b8" stroke-width="0.75" stroke-linejoin="round"/>
<path d="M583.98 1867.8 L608.95 1792.97 L633.92 1839.02 L658.89 1864.92 L683.86 1864.92 L708.83 1792.97 L733.8 1839.02 L758.77 1761.31 L783.74 1729.66 L808.71 1755.56 L833.68 1755.56" fill="none" stroke="#b8b8b8" stroke-width="0.75" stroke-linejoin="round"/>
<path d="M583.98 1867.8 L608.95 1643.32 L633.92 1666.34 L658.89 1810.24 L683.86 1853.41 L708.83 1810.24 L733.8 1827.51 L758.77 1775.7 L783.74 1810.24 L808.71 1792.97 L833.68 1867.8" fill="none" stroke="#b8b8b8" stroke-width="0.75" stroke-linejoin="round"/>
<path d="M583.98 1867.8 L608.95 1726.78 L633.92 1752.68 L658.89 1839.02 L683.86 1862.04 L708.83 1867.8 L733.8 1867.8 L758.77 1867.8 L783.74 1867.8 L808.71 1867.8 L833.68 1864.92" fill="none" stroke="#b8b8b8" stroke-width="0.75" stroke-linejoin="round"/>
<path d="M583.98 1867.8 L608.95 1731.01 L633.92 1776.52 L658.89 1799.79 L683.86 1818.35 L708.83 1840 L733.8 1838.56 L758.77 1867.8 L783.74 1843.24 L808.71 1828.52 L833.68 1846.27" fill="none" stroke="#b8b8b8" stroke-width="0.75" stroke-dasharray="2.5 2" stroke-linejoin="round"/>
<path d="M583.98 1867.8 L608.95 1604.34 L633.92 1686.43 L658.89 1756.06 L683.86 1810.37 L708.83 1839.59 L733.8 1853.39 L758.77 1838.88 L783.74 1818.35 L808.71 1800.64 L833.68 1824.29" fill="none" stroke="#b8b8b8" stroke-width="0.75" stroke-dasharray="2.5 2" stroke-linejoin="round"/>
<path d="M583.98 1867.8 L608.95 1596.5 L633.92 1652.82 L658.89 1758.98 L683.86 1799.54 L708.83 1812.1 L733.8 1834.88 L758.77 1805.02 L783.74 1825.47 L808.71 1783.56 L833.68 1832.02" fill="none" stroke="#b8b8b8" stroke-width="0.75" stroke-dasharray="2.5 2" stroke-linejoin="round"/>
<path d="M583.98 1867.8 L608.95 1680.24 L633.92 1697.54 L658.89 1792.04 L683.86 1798.4 L708.83 1834.12 L733.8 1854.23 L758.77 1844.42 L783.74 1848.44 L808.71 1810.81 L833.68 1830.08" fill="none" stroke="#b8b8b8" stroke-width="0.75" stroke-dasharray="2.5 2" stroke-linejoin="round"/>
<path d="M583.98 1867.8 L608.95 1663.45 L633.92 1653.76 L658.89 1775.15 L683.86 1803.62 L708.83 1775.73 L733.8 1853.52 L758.77 1853.5 L783.74 1844.87 L808.71 1816.86 L833.68 1823.73" fill="none" stroke="#b8b8b8" stroke-width="0.75" stroke-dasharray="2.5 2" stroke-linejoin="round"/>
<path d="M583.98 1867.8 L608.95 1592.42 L633.92 1667.47 L658.89 1724.03 L683.86 1786.73 L708.83 1809.72 L733.8 1760.29 L758.77 1798.83 L783.74 1805.15 L808.71 1799.62 L833.68 1828.81" fill="none" stroke="#b8b8b8" stroke-width="0.75" stroke-dasharray="2.5 2" stroke-linejoin="round"/>
<path d="M583.98 1867.8 L608.95 1600.68 L633.92 1666.22 L658.89 1746.32 L683.86 1819.03 L708.83 1847.09 L733.8 1844.12 L758.77 1822.58 L783.74 1821.44 L808.71 1789.11 L833.68 1844.34" fill="none" stroke="#b8b8b8" stroke-width="0.75" stroke-dasharray="2.5 2" stroke-linejoin="round"/>
<path d="M583.98 1867.8 L608.95 1627.64 L633.92 1696.76 L658.89 1747.73 L683.86 1800.51 L708.83 1821.61 L733.8 1843.17 L758.77 1829.47 L783.74 1841.85 L808.71 1813.88 L833.68 1829.98" fill="none" stroke="#b8b8b8" stroke-width="0.75" stroke-dasharray="2.5 2" stroke-linejoin="round"/>
<path d="M583.98 1867.8 L608.95 1608.55 L633.92 1669.94 L658.89 1760.29 L683.86 1778.64 L708.83 1830.14 L733.8 1856 L758.77 1849.49 L783.74 1807.68 L808.71 1828.3 L833.68 1758.27" fill="none" stroke="#b8b8b8" stroke-width="0.75" stroke-dasharray="2.5 2" stroke-linejoin="round"/>
<path d="M583.98 1867.8 L608.95 1617.41 L633.92 1626.05 L658.89 1700.88 L683.86 1839.02 L708.83 1804.48 L733.8 1853.41 L758.77 1787.22 L783.74 1853.41 L808.71 1833.26 L833.68 1810.24" fill="none" stroke="#b8b8b8" stroke-width="0.75" stroke-dasharray="2.5 2" stroke-linejoin="round"/>
<path d="M583.98 1867.8 L608.95 1772.83 L633.92 1810.24 L658.89 1853.41 L683.86 1867.8 L708.83 1816 L733.8 1844.78 L758.77 1804.48 L783.74 1859.17 L808.71 1867.8 L833.68 1867.8" fill="none" stroke="#b8b8b8" stroke-width="0.75" stroke-dasharray="2.5 2" stroke-linejoin="round"/>
<path d="M583.98 1867.8 L608.95 1827.51 L633.92 1844.78 L658.89 1867.8 L683.86 1867.8 L708.83 1867.8 L733.8 1867.8 L758.77 1867.8 L783.74 1867.8 L808.71 1867.8 L833.68 1867.8" fill="none" stroke="#b8b8b8" stroke-width="0.75" stroke-dasharray="2.5 2" stroke-linejoin="round"/>
<path d="M883.62 1867.8 L908.59 1760.2" fill="none" stroke="#b8b8b8" stroke-width="0.75" stroke-linejoin="round"/>
<path d="M883.62 1867.8 L908.59 1805.87" fill="none" stroke="#b8b8b8" stroke-width="0.75" stroke-linejoin="round"/>
<path d="M883.62 1867.8 L908.59 1735.83" fill="none" stroke="#b8b8b8" stroke-width="0.75" stroke-linejoin="round"/>
<path d="M883.62 1867.8 L908.59 1804.13" fill="none" stroke="#b8b8b8" stroke-width="0.75" stroke-linejoin="round"/>
<path d="M883.62 1867.8 L908.59 1805.03" fill="none" stroke="#b8b8b8" stroke-width="0.75" stroke-linejoin="round"/>
<path d="M883.62 1867.8 L908.59 1825.34" fill="none" stroke="#b8b8b8" stroke-width="0.75" stroke-linejoin="round"/>
<path d="M883.62 1867.8 L908.59 1737.53" fill="none" stroke="#b8b8b8" stroke-width="0.75" stroke-linejoin="round"/>
<path d="M883.62 1867.8 L908.59 1777.09" fill="none" stroke="#b8b8b8" stroke-width="0.75" stroke-linejoin="round"/>
<path d="M883.62 1867.8 L908.59 1765.22" fill="none" stroke="#b8b8b8" stroke-width="0.75" stroke-linejoin="round"/>
<path d="M883.62 1867.8 L908.59 1773.28" fill="none" stroke="#b8b8b8" stroke-width="0.75" stroke-linejoin="round"/>
<path d="M883.62 1867.8 L908.59 1741.73" fill="none" stroke="#b8b8b8" stroke-width="0.75" stroke-linejoin="round"/>
<path d="M883.62 1867.8 L908.59 1814.76" fill="none" stroke="#b8b8b8" stroke-width="0.75" stroke-dasharray="2.5 2" stroke-linejoin="round"/>
<path d="M883.62 1867.8 L908.59 1813.4" fill="none" stroke="#b8b8b8" stroke-width="0.75" stroke-dasharray="2.5 2" stroke-linejoin="round"/>
<path d="M883.62 1867.8 L908.59 1829.56" fill="none" stroke="#b8b8b8" stroke-width="0.75" stroke-dasharray="2.5 2" stroke-linejoin="round"/>
<path d="M883.62 1867.8 L908.59 1775.28" fill="none" stroke="#b8b8b8" stroke-width="0.75" stroke-dasharray="2.5 2" stroke-linejoin="round"/>
<path d="M883.62 1867.8 L908.59 1814.75" fill="none" stroke="#b8b8b8" stroke-width="0.75" stroke-dasharray="2.5 2" stroke-linejoin="round"/>
<path d="M883.62 1867.8 L908.59 1859.97" fill="none" stroke="#b8b8b8" stroke-width="0.75" stroke-dasharray="2.5 2" stroke-linejoin="round"/>
<path d="M883.62 1867.8 L908.59 1760.04" fill="none" stroke="#b8b8b8" stroke-width="0.75" stroke-dasharray="2.5 2" stroke-linejoin="round"/>
<path d="M883.62 1867.8 L908.59 1745.42" fill="none" stroke="#b8b8b8" stroke-width="0.75" stroke-dasharray="2.5 2" stroke-linejoin="round"/>
<path d="M883.62 1867.8 L908.59 1788.09" fill="none" stroke="#b8b8b8" stroke-width="0.75" stroke-dasharray="2.5 2" stroke-linejoin="round"/>
<path d="M883.62 1867.8 L908.59 1817.15" fill="none" stroke="#b8b8b8" stroke-width="0.75" stroke-dasharray="2.5 2" stroke-linejoin="round"/>
<path d="M883.62 1867.8 L908.59 1816.83" fill="none" stroke="#b8b8b8" stroke-width="0.75" stroke-dasharray="2.5 2" stroke-linejoin="round"/>
<path d="M883.62 1867.8 L908.59 1825.42" fill="none" stroke="#b8b8b8" stroke-width="0.75" stroke-dasharray="2.5 2" stroke-linejoin="round"/>
<path d="M958.53 1724.61 L983.5 1632.69" fill="none" stroke="#b8b8b8" stroke-width="0.75" stroke-linejoin="round"/>
<path d="M958.53 1735.58 L983.5 1683.53" fill="none" stroke="#b8b8b8" stroke-width="0.75" stroke-linejoin="round"/>
<path d="M958.53 1706.34 L983.5 1673.25" fill="none" stroke="#b8b8b8" stroke-width="0.75" stroke-linejoin="round"/>
<path d="M958.53 1763.94 L983.5 1604.6" fill="none" stroke="#b8b8b8" stroke-width="0.75" stroke-linejoin="round"/>
<path d="M958.53 1758.47 L983.5 1671.84" fill="none" stroke="#b8b8b8" stroke-width="0.75" stroke-linejoin="round"/>
<path d="M958.53 1771.45 L983.5 1643.84" fill="none" stroke="#b8b8b8" stroke-width="0.75" stroke-linejoin="round"/>
<path d="M958.53 1793.9 L983.5 1663.83" fill="none" stroke="#b8b8b8" stroke-width="0.75" stroke-linejoin="round"/>
<path d="M958.53 1778.65 L983.5 1588.63" fill="none" stroke="#b8b8b8" stroke-width="0.75" stroke-linejoin="round"/>
<path d="M958.53 1727.58 L983.5 1677.27" fill="none" stroke="#b8b8b8" stroke-width="0.75" stroke-linejoin="round"/>
<path d="M958.53 1744.65 L983.5 1702.29" fill="none" stroke="#b8b8b8" stroke-width="0.75" stroke-linejoin="round"/>
<path d="M958.53 1746.11 L983.5 1643.51" fill="none" stroke="#b8b8b8" stroke-width="0.75" stroke-linejoin="round"/>
<path d="M958.53 1824.95 L983.5 1714.69" fill="none" stroke="#b8b8b8" stroke-width="0.75" stroke-dasharray="2.5 2" stroke-linejoin="round"/>
<path d="M958.53 1768.46 L983.5 1685.9" fill="none" stroke="#b8b8b8" stroke-width="0.75" stroke-dasharray="2.5 2" stroke-linejoin="round"/>
<path d="M958.53 1751.52 L983.5 1672.79" fill="none" stroke="#b8b8b8" stroke-width="0.75" stroke-dasharray="2.5 2" stroke-linejoin="round"/>
<path d="M958.53 1746.23 L983.5 1731.84" fill="none" stroke="#b8b8b8" stroke-width="0.75" stroke-dasharray="2.5 2" stroke-linejoin="round"/>
<path d="M958.53 1744.85 L983.5 1638.97" fill="none" stroke="#b8b8b8" stroke-width="0.75" stroke-dasharray="2.5 2" stroke-linejoin="round"/>
<path d="M958.53 1763.87 L983.5 1622.72" fill="none" stroke="#b8b8b8" stroke-width="0.75" stroke-dasharray="2.5 2" stroke-linejoin="round"/>
<path d="M958.53 1759.64 L983.5 1729.22" fill="none" stroke="#b8b8b8" stroke-width="0.75" stroke-dasharray="2.5 2" stroke-linejoin="round"/>
<path d="M958.53 1773.8 L983.5 1672.37" fill="none" stroke="#b8b8b8" stroke-width="0.75" stroke-dasharray="2.5 2" stroke-linejoin="round"/>
<path d="M958.53 1796.77 L983.5 1588.63" fill="none" stroke="#b8b8b8" stroke-width="0.75" stroke-dasharray="2.5 2" stroke-linejoin="round"/>
<path d="M958.53 1779.69 L983.5 1726.46" fill="none" stroke="#b8b8b8" stroke-width="0.75" stroke-dasharray="2.5 2" stroke-linejoin="round"/>
<path d="M958.53 1763.49 L983.5 1643.83" fill="none" stroke="#b8b8b8" stroke-width="0.75" stroke-dasharray="2.5 2" stroke-linejoin="round"/>
<path d="M958.53 1829.42 L983.5 1659.69" fill="none" stroke="#b8b8b8" stroke-width="0.75" stroke-dasharray="2.5 2" stroke-linejoin="round"/>
<line x1="467.6" y1="1868.8" x2="467.6" y2="1579" stroke="#1a1a1a" stroke-width="2"/>
<line x1="459.6" y1="1867.8" x2="467.6" y2="1867.8" stroke="#1a1a1a" stroke-width="2"/>
<text x="456.4" y="1875.95" text-anchor="end">0</text>
<line x1="459.6" y1="1795.85" x2="467.6" y2="1795.85" stroke="#1a1a1a" stroke-width="2"/>
<text x="456.4" y="1804" text-anchor="end">25</text>
<line x1="459.6" y1="1723.9" x2="467.6" y2="1723.9" stroke="#1a1a1a" stroke-width="2"/>
<text x="456.4" y="1732.05" text-anchor="end">50</text>
<line x1="459.6" y1="1651.95" x2="467.6" y2="1651.95" stroke="#1a1a1a" stroke-width="2"/>
<text x="456.4" y="1660.1" text-anchor="end">75</text>
<line x1="459.6" y1="1580" x2="467.6" y2="1580" stroke="#1a1a1a" stroke-width="2"/>
<text x="456.4" y="1588.15" text-anchor="end">100</text>
<line x1="459.1" y1="1867.8" x2="1000.8" y2="1867.8" stroke="#1a1a1a" stroke-width="2"/>
<line x1="484.1" y1="1867.8" x2="484.1" y2="1872.7" stroke="#1a1a1a" stroke-width="1.8"/>
<line x1="509.07" y1="1867.8" x2="509.07" y2="1872.7" stroke="#1a1a1a" stroke-width="1.8"/>
<line x1="534.04" y1="1867.8" x2="534.04" y2="1872.7" stroke="#1a1a1a" stroke-width="1.8"/>
<line x1="583.98" y1="1867.8" x2="583.98" y2="1872.7" stroke="#1a1a1a" stroke-width="1.8"/>
<line x1="608.95" y1="1867.8" x2="608.95" y2="1872.7" stroke="#1a1a1a" stroke-width="1.8"/>
<line x1="633.92" y1="1867.8" x2="633.92" y2="1872.7" stroke="#1a1a1a" stroke-width="1.8"/>
<line x1="658.89" y1="1867.8" x2="658.89" y2="1872.7" stroke="#1a1a1a" stroke-width="1.8"/>
<line x1="683.86" y1="1867.8" x2="683.86" y2="1872.7" stroke="#1a1a1a" stroke-width="1.8"/>
<line x1="708.83" y1="1867.8" x2="708.83" y2="1872.7" stroke="#1a1a1a" stroke-width="1.8"/>
<line x1="733.8" y1="1867.8" x2="733.8" y2="1872.7" stroke="#1a1a1a" stroke-width="1.8"/>
<line x1="758.77" y1="1867.8" x2="758.77" y2="1872.7" stroke="#1a1a1a" stroke-width="1.8"/>
<line x1="783.74" y1="1867.8" x2="783.74" y2="1872.7" stroke="#1a1a1a" stroke-width="1.8"/>
<line x1="808.71" y1="1867.8" x2="808.71" y2="1872.7" stroke="#1a1a1a" stroke-width="1.8"/>
<line x1="833.68" y1="1867.8" x2="833.68" y2="1872.7" stroke="#1a1a1a" stroke-width="1.8"/>
<line x1="883.62" y1="1867.8" x2="883.62" y2="1872.7" stroke="#1a1a1a" stroke-width="1.8"/>
<line x1="908.59" y1="1867.8" x2="908.59" y2="1872.7" stroke="#1a1a1a" stroke-width="1.8"/>
<line x1="958.53" y1="1867.8" x2="958.53" y2="1872.7" stroke="#1a1a1a" stroke-width="1.8"/>
<line x1="983.5" y1="1867.8" x2="983.5" y2="1872.7" stroke="#1a1a1a" stroke-width="1.8"/>
<line x1="559.01" y1="1573.9" x2="559.01" y2="1873.3" stroke="#000" stroke-width="1.7" stroke-dasharray="4.4 3.4"/>
<line x1="858.65" y1="1573.9" x2="858.65" y2="1873.3" stroke="#000" stroke-width="1.7" stroke-dasharray="4.4 3.4"/>
<line x1="933.56" y1="1573.9" x2="933.56" y2="1873.3" stroke="#000" stroke-width="1.7" stroke-dasharray="4.4 3.4"/>
<line x1="510.57" y1="1867.8" x2="534.04" y2="1686.49" stroke="#3a3a3a" stroke-width="1.2"/>
<line x1="509.07" y1="1843.34" x2="509.07" y2="1853.41" stroke="#1a1a1a" stroke-width="1.7"/>
<line x1="504.97" y1="1843.34" x2="513.17" y2="1843.34" stroke="#1a1a1a" stroke-width="1.7"/>
<line x1="509.07" y1="1863.48" x2="509.07" y2="1853.41" stroke="#1a1a1a" stroke-width="1.7"/>
<line x1="504.97" y1="1863.48" x2="513.17" y2="1863.48" stroke="#1a1a1a" stroke-width="1.7"/>
<line x1="534.04" y1="1671.52" x2="534.04" y2="1686.49" stroke="#1a1a1a" stroke-width="1.7"/>
<line x1="529.94" y1="1671.52" x2="538.14" y2="1671.52" stroke="#1a1a1a" stroke-width="1.7"/>
<line x1="534.04" y1="1701.45" x2="534.04" y2="1686.49" stroke="#1a1a1a" stroke-width="1.7"/>
<line x1="529.94" y1="1701.45" x2="538.14" y2="1701.45" stroke="#1a1a1a" stroke-width="1.7"/>
<path d="M509.07 1853.41 L534.04 1686.49" fill="none" stroke="#1a1a1a" stroke-width="1.9"/>
<circle cx="484.1" cy="1867.8" r="8.3" fill="#fff" stroke="#1a1a1a" stroke-width="1.7"/>
<circle cx="509.07" cy="1853.41" r="8.3" fill="#fff" stroke="#1a1a1a" stroke-width="1.7"/>
<circle cx="534.04" cy="1686.49" r="8.3" fill="#fff" stroke="#1a1a1a" stroke-width="1.7"/>
<line x1="534.04" y1="1666.34" x2="534.04" y2="1686.49" stroke="#1a1a1a" stroke-width="1.7"/>
<line x1="529.94" y1="1666.34" x2="538.14" y2="1666.34" stroke="#1a1a1a" stroke-width="1.7"/>
<line x1="534.04" y1="1706.63" x2="534.04" y2="1686.49" stroke="#1a1a1a" stroke-width="1.7"/>
<line x1="529.94" y1="1706.63" x2="538.14" y2="1706.63" stroke="#1a1a1a" stroke-width="1.7"/>
<path d="M509.07 1863.2 L534.04 1686.49" fill="none" stroke="#1a1a1a" stroke-width="1.9"/>
<circle cx="484.1" cy="1867.8" r="8.3" fill="#fff" stroke="#1a1a1a" stroke-width="1.7"/>
<circle cx="484.1" cy="1867.8" r="2" fill="#1a1a1a"/>
<circle cx="509.07" cy="1863.2" r="8.3" fill="#fff" stroke="#1a1a1a" stroke-width="1.7"/>
<circle cx="509.07" cy="1863.2" r="2" fill="#1a1a1a"/>
<circle cx="534.04" cy="1686.49" r="8.3" fill="#fff" stroke="#1a1a1a" stroke-width="1.7"/>
<circle cx="534.04" cy="1686.49" r="2" fill="#1a1a1a"/>
<line x1="608.95" y1="1664.61" x2="608.95" y2="1693.39" stroke="#1a1a1a" stroke-width="1.7"/>
<line x1="604.85" y1="1664.61" x2="613.05" y2="1664.61" stroke="#1a1a1a" stroke-width="1.7"/>
<line x1="608.95" y1="1722.17" x2="608.95" y2="1693.39" stroke="#1a1a1a" stroke-width="1.7"/>
<line x1="604.85" y1="1722.17" x2="613.05" y2="1722.17" stroke="#1a1a1a" stroke-width="1.7"/>
<line x1="633.92" y1="1729.66" x2="633.92" y2="1758.44" stroke="#1a1a1a" stroke-width="1.7"/>
<line x1="629.82" y1="1729.66" x2="638.02" y2="1729.66" stroke="#1a1a1a" stroke-width="1.7"/>
<line x1="633.92" y1="1787.22" x2="633.92" y2="1758.44" stroke="#1a1a1a" stroke-width="1.7"/>
<line x1="629.82" y1="1787.22" x2="638.02" y2="1787.22" stroke="#1a1a1a" stroke-width="1.7"/>
<line x1="658.89" y1="1807.36" x2="658.89" y2="1824.05" stroke="#1a1a1a" stroke-width="1.7"/>
<line x1="654.79" y1="1807.36" x2="662.99" y2="1807.36" stroke="#1a1a1a" stroke-width="1.7"/>
<line x1="658.89" y1="1840.75" x2="658.89" y2="1824.05" stroke="#1a1a1a" stroke-width="1.7"/>
<line x1="654.79" y1="1840.75" x2="662.99" y2="1840.75" stroke="#1a1a1a" stroke-width="1.7"/>
<line x1="683.86" y1="1834.99" x2="683.86" y2="1844.2" stroke="#1a1a1a" stroke-width="1.7"/>
<line x1="679.76" y1="1834.99" x2="687.96" y2="1834.99" stroke="#1a1a1a" stroke-width="1.7"/>
<line x1="683.86" y1="1853.41" x2="683.86" y2="1844.2" stroke="#1a1a1a" stroke-width="1.7"/>
<line x1="679.76" y1="1853.41" x2="687.96" y2="1853.41" stroke="#1a1a1a" stroke-width="1.7"/>
<line x1="708.83" y1="1844.2" x2="708.83" y2="1848.52" stroke="#1a1a1a" stroke-width="1.7"/>
<line x1="704.73" y1="1844.2" x2="712.93" y2="1844.2" stroke="#1a1a1a" stroke-width="1.7"/>
<line x1="708.83" y1="1852.83" x2="708.83" y2="1848.52" stroke="#1a1a1a" stroke-width="1.7"/>
<line x1="704.73" y1="1852.83" x2="712.93" y2="1852.83" stroke="#1a1a1a" stroke-width="1.7"/>
<line x1="758.77" y1="1841.61" x2="758.77" y2="1847.37" stroke="#1a1a1a" stroke-width="1.7"/>
<line x1="754.67" y1="1841.61" x2="762.87" y2="1841.61" stroke="#1a1a1a" stroke-width="1.7"/>
<line x1="758.77" y1="1853.12" x2="758.77" y2="1847.37" stroke="#1a1a1a" stroke-width="1.7"/>
<line x1="754.67" y1="1853.12" x2="762.87" y2="1853.12" stroke="#1a1a1a" stroke-width="1.7"/>
<line x1="783.74" y1="1836.14" x2="783.74" y2="1844.2" stroke="#1a1a1a" stroke-width="1.7"/>
<line x1="779.64" y1="1836.14" x2="787.84" y2="1836.14" stroke="#1a1a1a" stroke-width="1.7"/>
<line x1="783.74" y1="1852.26" x2="783.74" y2="1844.2" stroke="#1a1a1a" stroke-width="1.7"/>
<line x1="779.64" y1="1852.26" x2="787.84" y2="1852.26" stroke="#1a1a1a" stroke-width="1.7"/>
<line x1="833.68" y1="1843.62" x2="833.68" y2="1851.4" stroke="#1a1a1a" stroke-width="1.7"/>
<line x1="829.58" y1="1843.62" x2="837.78" y2="1843.62" stroke="#1a1a1a" stroke-width="1.7"/>
<line x1="833.68" y1="1859.17" x2="833.68" y2="1851.4" stroke="#1a1a1a" stroke-width="1.7"/>
<line x1="829.58" y1="1859.17" x2="837.78" y2="1859.17" stroke="#1a1a1a" stroke-width="1.7"/>
<path d="M608.95 1693.39 L633.92 1758.44 L658.89 1824.05 L683.86 1844.2 L708.83 1848.52 L733.8 1850.82 L758.77 1847.37 L783.74 1844.2 L808.71 1856.29 L833.68 1851.4" fill="none" stroke="#1a1a1a" stroke-width="1.9"/>
<circle cx="583.98" cy="1864.92" r="8.3" fill="#fff" stroke="#1a1a1a" stroke-width="1.7"/>
<circle cx="608.95" cy="1693.39" r="8.3" fill="#fff" stroke="#1a1a1a" stroke-width="1.7"/>
<circle cx="633.92" cy="1758.44" r="8.3" fill="#fff" stroke="#1a1a1a" stroke-width="1.7"/>
<circle cx="658.89" cy="1824.05" r="8.3" fill="#fff" stroke="#1a1a1a" stroke-width="1.7"/>
<circle cx="683.86" cy="1844.2" r="8.3" fill="#fff" stroke="#1a1a1a" stroke-width="1.7"/>
<circle cx="708.83" cy="1848.52" r="8.3" fill="#fff" stroke="#1a1a1a" stroke-width="1.7"/>
<circle cx="733.8" cy="1850.82" r="8.3" fill="#fff" stroke="#1a1a1a" stroke-width="1.7"/>
<circle cx="758.77" cy="1847.37" r="8.3" fill="#fff" stroke="#1a1a1a" stroke-width="1.7"/>
<circle cx="783.74" cy="1844.2" r="8.3" fill="#fff" stroke="#1a1a1a" stroke-width="1.7"/>
<circle cx="808.71" cy="1856.29" r="8.3" fill="#fff" stroke="#1a1a1a" stroke-width="1.7"/>
<circle cx="833.68" cy="1851.4" r="8.3" fill="#fff" stroke="#1a1a1a" stroke-width="1.7"/>
<line x1="608.95" y1="1655.12" x2="608.95" y2="1674.4" stroke="#1a1a1a" stroke-width="1.7"/>
<line x1="604.85" y1="1655.12" x2="613.05" y2="1655.12" stroke="#1a1a1a" stroke-width="1.7"/>
<line x1="608.95" y1="1693.68" x2="608.95" y2="1674.4" stroke="#1a1a1a" stroke-width="1.7"/>
<line x1="604.85" y1="1693.68" x2="613.05" y2="1693.68" stroke="#1a1a1a" stroke-width="1.7"/>
<line x1="633.92" y1="1704.33" x2="633.92" y2="1723.9" stroke="#1a1a1a" stroke-width="1.7"/>
<line x1="629.82" y1="1704.33" x2="638.02" y2="1704.33" stroke="#1a1a1a" stroke-width="1.7"/>
<line x1="633.92" y1="1743.47" x2="633.92" y2="1723.9" stroke="#1a1a1a" stroke-width="1.7"/>
<line x1="629.82" y1="1743.47" x2="638.02" y2="1743.47" stroke="#1a1a1a" stroke-width="1.7"/>
<line x1="658.89" y1="1764.19" x2="658.89" y2="1781.46" stroke="#1a1a1a" stroke-width="1.7"/>
<line x1="654.79" y1="1764.19" x2="662.99" y2="1764.19" stroke="#1a1a1a" stroke-width="1.7"/>
<line x1="658.89" y1="1798.73" x2="658.89" y2="1781.46" stroke="#1a1a1a" stroke-width="1.7"/>
<line x1="654.79" y1="1798.73" x2="662.99" y2="1798.73" stroke="#1a1a1a" stroke-width="1.7"/>
<line x1="683.86" y1="1792.11" x2="683.86" y2="1810.24" stroke="#1a1a1a" stroke-width="1.7"/>
<line x1="679.76" y1="1792.11" x2="687.96" y2="1792.11" stroke="#1a1a1a" stroke-width="1.7"/>
<line x1="683.86" y1="1828.37" x2="683.86" y2="1810.24" stroke="#1a1a1a" stroke-width="1.7"/>
<line x1="679.76" y1="1828.37" x2="687.96" y2="1828.37" stroke="#1a1a1a" stroke-width="1.7"/>
<line x1="708.83" y1="1825.78" x2="708.83" y2="1837.29" stroke="#1a1a1a" stroke-width="1.7"/>
<line x1="704.73" y1="1825.78" x2="712.93" y2="1825.78" stroke="#1a1a1a" stroke-width="1.7"/>
<line x1="708.83" y1="1848.81" x2="708.83" y2="1837.29" stroke="#1a1a1a" stroke-width="1.7"/>
<line x1="704.73" y1="1848.81" x2="712.93" y2="1848.81" stroke="#1a1a1a" stroke-width="1.7"/>
<line x1="758.77" y1="1824.92" x2="758.77" y2="1837.29" stroke="#1a1a1a" stroke-width="1.7"/>
<line x1="754.67" y1="1824.92" x2="762.87" y2="1824.92" stroke="#1a1a1a" stroke-width="1.7"/>
<line x1="758.77" y1="1849.67" x2="758.77" y2="1837.29" stroke="#1a1a1a" stroke-width="1.7"/>
<line x1="754.67" y1="1849.67" x2="762.87" y2="1849.67" stroke="#1a1a1a" stroke-width="1.7"/>
<line x1="783.74" y1="1819.16" x2="783.74" y2="1833.55" stroke="#1a1a1a" stroke-width="1.7"/>
<line x1="779.64" y1="1819.16" x2="787.84" y2="1819.16" stroke="#1a1a1a" stroke-width="1.7"/>
<line x1="783.74" y1="1847.94" x2="783.74" y2="1833.55" stroke="#1a1a1a" stroke-width="1.7"/>
<line x1="779.64" y1="1847.94" x2="787.84" y2="1847.94" stroke="#1a1a1a" stroke-width="1.7"/>
<line x1="808.71" y1="1812.54" x2="808.71" y2="1825.49" stroke="#1a1a1a" stroke-width="1.7"/>
<line x1="804.61" y1="1812.54" x2="812.81" y2="1812.54" stroke="#1a1a1a" stroke-width="1.7"/>
<line x1="808.71" y1="1838.44" x2="808.71" y2="1825.49" stroke="#1a1a1a" stroke-width="1.7"/>
<line x1="804.61" y1="1838.44" x2="812.81" y2="1838.44" stroke="#1a1a1a" stroke-width="1.7"/>
<line x1="833.68" y1="1820.31" x2="833.68" y2="1835.28" stroke="#1a1a1a" stroke-width="1.7"/>
<line x1="829.58" y1="1820.31" x2="837.78" y2="1820.31" stroke="#1a1a1a" stroke-width="1.7"/>
<line x1="833.68" y1="1850.24" x2="833.68" y2="1835.28" stroke="#1a1a1a" stroke-width="1.7"/>
<line x1="829.58" y1="1850.24" x2="837.78" y2="1850.24" stroke="#1a1a1a" stroke-width="1.7"/>
<path d="M608.95 1674.4 L633.92 1723.9 L658.89 1781.46 L683.86 1810.24 L708.83 1837.29 L733.8 1850.82 L758.77 1837.29 L783.74 1833.55 L808.71 1825.49 L833.68 1835.28" fill="none" stroke="#1a1a1a" stroke-width="1.9"/>
<circle cx="583.98" cy="1867.8" r="8.3" fill="#fff" stroke="#1a1a1a" stroke-width="1.7"/>
<circle cx="583.98" cy="1867.8" r="2" fill="#1a1a1a"/>
<circle cx="608.95" cy="1674.4" r="8.3" fill="#fff" stroke="#1a1a1a" stroke-width="1.7"/>
<circle cx="608.95" cy="1674.4" r="2" fill="#1a1a1a"/>
<circle cx="633.92" cy="1723.9" r="8.3" fill="#fff" stroke="#1a1a1a" stroke-width="1.7"/>
<circle cx="633.92" cy="1723.9" r="2" fill="#1a1a1a"/>
<circle cx="658.89" cy="1781.46" r="8.3" fill="#fff" stroke="#1a1a1a" stroke-width="1.7"/>
<circle cx="658.89" cy="1781.46" r="2" fill="#1a1a1a"/>
<circle cx="683.86" cy="1810.24" r="8.3" fill="#fff" stroke="#1a1a1a" stroke-width="1.7"/>
<circle cx="683.86" cy="1810.24" r="2" fill="#1a1a1a"/>
<circle cx="708.83" cy="1837.29" r="8.3" fill="#fff" stroke="#1a1a1a" stroke-width="1.7"/>
<circle cx="708.83" cy="1837.29" r="2" fill="#1a1a1a"/>
<circle cx="733.8" cy="1850.82" r="8.3" fill="#fff" stroke="#1a1a1a" stroke-width="1.7"/>
<circle cx="733.8" cy="1850.82" r="2" fill="#1a1a1a"/>
<circle cx="758.77" cy="1837.29" r="8.3" fill="#fff" stroke="#1a1a1a" stroke-width="1.7"/>
<circle cx="758.77" cy="1837.29" r="2" fill="#1a1a1a"/>
<circle cx="783.74" cy="1833.55" r="8.3" fill="#fff" stroke="#1a1a1a" stroke-width="1.7"/>
<circle cx="783.74" cy="1833.55" r="2" fill="#1a1a1a"/>
<circle cx="808.71" cy="1825.49" r="8.3" fill="#fff" stroke="#1a1a1a" stroke-width="1.7"/>
<circle cx="808.71" cy="1825.49" r="2" fill="#1a1a1a"/>
<circle cx="833.68" cy="1835.28" r="8.3" fill="#fff" stroke="#1a1a1a" stroke-width="1.7"/>
<circle cx="833.68" cy="1835.28" r="2" fill="#1a1a1a"/>
<line x1="908.59" y1="1773.69" x2="908.59" y2="1786.64" stroke="#1a1a1a" stroke-width="1.7"/>
<line x1="904.49" y1="1773.69" x2="912.69" y2="1773.69" stroke="#1a1a1a" stroke-width="1.7"/>
<line x1="908.59" y1="1799.59" x2="908.59" y2="1786.64" stroke="#1a1a1a" stroke-width="1.7"/>
<line x1="904.49" y1="1799.59" x2="912.69" y2="1799.59" stroke="#1a1a1a" stroke-width="1.7"/>
<circle cx="883.62" cy="1865.79" r="8.3" fill="#fff" stroke="#1a1a1a" stroke-width="1.7"/>
<circle cx="908.59" cy="1786.64" r="8.3" fill="#fff" stroke="#1a1a1a" stroke-width="1.7"/>
<line x1="908.59" y1="1778.58" x2="908.59" y2="1792.97" stroke="#1a1a1a" stroke-width="1.7"/>
<line x1="904.49" y1="1778.58" x2="912.69" y2="1778.58" stroke="#1a1a1a" stroke-width="1.7"/>
<line x1="908.59" y1="1807.36" x2="908.59" y2="1792.97" stroke="#1a1a1a" stroke-width="1.7"/>
<line x1="904.49" y1="1807.36" x2="912.69" y2="1807.36" stroke="#1a1a1a" stroke-width="1.7"/>
<circle cx="883.62" cy="1864.92" r="8.3" fill="#fff" stroke="#1a1a1a" stroke-width="1.7"/>
<circle cx="883.62" cy="1864.92" r="2" fill="#1a1a1a"/>
<circle cx="908.59" cy="1792.97" r="8.3" fill="#fff" stroke="#1a1a1a" stroke-width="1.7"/>
<circle cx="908.59" cy="1792.97" r="2" fill="#1a1a1a"/>
<line x1="958.53" y1="1738.87" x2="958.53" y2="1756.13" stroke="#1a1a1a" stroke-width="1.7"/>
<line x1="954.43" y1="1738.87" x2="962.63" y2="1738.87" stroke="#1a1a1a" stroke-width="1.7"/>
<line x1="958.53" y1="1773.4" x2="958.53" y2="1756.13" stroke="#1a1a1a" stroke-width="1.7"/>
<line x1="954.43" y1="1773.4" x2="962.63" y2="1773.4" stroke="#1a1a1a" stroke-width="1.7"/>
<line x1="983.5" y1="1663.75" x2="983.5" y2="1679.58" stroke="#1a1a1a" stroke-width="1.7"/>
<line x1="979.4" y1="1663.75" x2="987.6" y2="1663.75" stroke="#1a1a1a" stroke-width="1.7"/>
<line x1="983.5" y1="1695.41" x2="983.5" y2="1679.58" stroke="#1a1a1a" stroke-width="1.7"/>
<line x1="979.4" y1="1695.41" x2="987.6" y2="1695.41" stroke="#1a1a1a" stroke-width="1.7"/>
<circle cx="958.53" cy="1756.13" r="8.3" fill="#fff" stroke="#1a1a1a" stroke-width="1.7"/>
<circle cx="983.5" cy="1679.58" r="8.3" fill="#fff" stroke="#1a1a1a" stroke-width="1.7"/>
<line x1="958.53" y1="1759.01" x2="958.53" y2="1774.26" stroke="#1a1a1a" stroke-width="1.7"/>
<line x1="954.43" y1="1759.01" x2="962.63" y2="1759.01" stroke="#1a1a1a" stroke-width="1.7"/>
<line x1="958.53" y1="1789.52" x2="958.53" y2="1774.26" stroke="#1a1a1a" stroke-width="1.7"/>
<line x1="954.43" y1="1789.52" x2="962.63" y2="1789.52" stroke="#1a1a1a" stroke-width="1.7"/>
<line x1="983.5" y1="1647.92" x2="983.5" y2="1663.17" stroke="#1a1a1a" stroke-width="1.7"/>
<line x1="979.4" y1="1647.92" x2="987.6" y2="1647.92" stroke="#1a1a1a" stroke-width="1.7"/>
<line x1="983.5" y1="1678.43" x2="983.5" y2="1663.17" stroke="#1a1a1a" stroke-width="1.7"/>
<line x1="979.4" y1="1678.43" x2="987.6" y2="1678.43" stroke="#1a1a1a" stroke-width="1.7"/>
<circle cx="958.53" cy="1774.26" r="8.3" fill="#fff" stroke="#1a1a1a" stroke-width="1.7"/>
<circle cx="958.53" cy="1774.26" r="2" fill="#1a1a1a"/>
<circle cx="983.5" cy="1663.17" r="8.3" fill="#fff" stroke="#1a1a1a" stroke-width="1.7"/>
<circle cx="983.5" cy="1663.17" r="2" fill="#1a1a1a"/>
<text x="484.92" y="1900.8" text-anchor="middle">b</text>
<text x="508.05" y="1900.8" text-anchor="middle">1</text>
<text x="532.82" y="1900.8" text-anchor="middle">3</text>
<text x="586.63" y="1900.8" text-anchor="middle">b</text>
<text x="609.77" y="1900.8" text-anchor="middle">1</text>
<text x="633.92" y="1900.8" text-anchor="middle">2</text>
<text x="658.48" y="1900.8" text-anchor="middle">3</text>
<text x="680.39" y="1900.8" text-anchor="middle">4</text>
<text x="706.79" y="1900.8" text-anchor="middle">5</text>
<text x="733.8" y="1900.8" text-anchor="middle">6</text>
<text x="755.71" y="1900.8" text-anchor="middle">7</text>
<text x="780.88" y="1900.8" text-anchor="middle">8</text>
<text x="808.1" y="1900.8" text-anchor="middle">9</text>
<text x="833.68" y="1900.8" text-anchor="middle">10</text>
<text x="887.29" y="1900.8" text-anchor="middle">b</text>
<text x="909.61" y="1900.8" text-anchor="middle">1</text>
<text x="959.55" y="1900.8" text-anchor="middle">b</text>
<text x="982.07" y="1900.8" text-anchor="middle">1</text>
<text x="399.8" y="1724.9" text-anchor="middle" transform="rotate(-90 399.8 1724.9)">Freezing (%)</text>
<g transform="translate(581.7 1549.8) scale(1)" fill="#c2c2c2">
<path d="M-5.6 0 H5.6 Q6.4 0 6.3 0.9 L5.9 2.6 H-5.9 L-6.3 0.9 Q-6.4 0 -5.6 0 Z"/>
<rect x="-4.9" y="2.4" width="9.8" height="6.2"/>
<path d="M-9 8.2 H9 Q10 8.2 10 9.4 V10.8 H9 V10.6 H-9 V10.8 H-10 V9.4 Q-10 8.2 -9 8.2 Z"/>
<path d="M-6.45 10.4 H6.45 V33.5 Q6.45 37.5 2.4 40.3 L1.9 46 H-1.9 L-2.4 40.3 Q-6.45 37.5 -6.45 33.5 Z"/>
<path d="M-1.9 45.5 H1.9 L0.9 58 Q0 59.4 -0.9 58 Z"/>
<rect x="-4.1" y="12.6" width="8.2" height="2.2" fill="#fff"/>
<rect x="-4.1" y="20.4" width="8.2" height="2.2" fill="#fff"/>
<rect x="-4.1" y="28.2" width="8.2" height="2.2" fill="#fff"/>
</g>
<text x="605.5" y="1559.8">CNO</text>
<text x="605.5" y="1589.4">or Veh</text>
<line x1="741.4" y1="1585.1" x2="772.4" y2="1585.1" stroke="#1a1a1a" stroke-width="1.5"/>
<circle cx="756.9" cy="1585.1" r="8" fill="#fff" stroke="#1a1a1a" stroke-width="1.6"/>
<text x="790.8" y="1593">Veh</text>
<line x1="741.4" y1="1618.4" x2="772.4" y2="1618.4" stroke="#1a1a1a" stroke-width="1.5"/>
<circle cx="756.9" cy="1618.4" r="8" fill="#fff" stroke="#1a1a1a" stroke-width="1.6"/>
<circle cx="756.9" cy="1618.4" r="2" fill="#1a1a1a"/>
<text x="790.8" y="1626">CNO</text>
<text x="659" y="1758.5" text-anchor="middle" font-weight="bold" font-size="36">*</text>
<text x="506.7" y="1931" text-anchor="middle">CS</text>
<text x="775.3" y="1931" text-anchor="middle">5-CS trial-block</text>
<text x="507.9" y="1967.6" text-anchor="middle">F-con</text>
<text x="710.2" y="1967.6" text-anchor="middle">Ext</text>
<text x="891.6" y="1967.6" text-anchor="middle">E-Ret</text>
<text x="971" y="1967.6" text-anchor="middle">F-Ren</text>
<text x="1138.5" y="1562.7" font-weight="bold" font-size="34">k</text>
<path d="M1265.3 1874.3 L1290.27 1853.57 L1315.24 1715.38" fill="none" stroke="#cfcfd4" stroke-width="0.75" stroke-linejoin="round"/>
<path d="M1265.3 1874.3 L1290.27 1858.37 L1315.24 1758.4" fill="none" stroke="#cfcfd4" stroke-width="0.75" stroke-linejoin="round"/>
<path d="M1265.3 1874.3 L1290.27 1874.3 L1315.24 1814.48" fill="none" stroke="#cfcfd4" stroke-width="0.75" stroke-linejoin="round"/>
<path d="M1265.3 1874.3 L1290.27 1839.7 L1315.24 1606.07" fill="none" stroke="#cfcfd4" stroke-width="0.75" stroke-linejoin="round"/>
<path d="M1265.3 1874.3 L1290.27 1868.93 L1315.24 1815.36" fill="none" stroke="#cfcfd4" stroke-width="0.75" stroke-linejoin="round"/>
<path d="M1265.3 1874.3 L1290.27 1849.5 L1315.24 1762" fill="none" stroke="#cfcfd4" stroke-width="0.75" stroke-linejoin="round"/>
<path d="M1265.3 1874.3 L1290.27 1862.18 L1315.24 1767.62" fill="none" stroke="#cfcfd4" stroke-width="0.75" stroke-linejoin="round"/>
<path d="M1265.3 1874.3 L1290.27 1860.17 L1315.24 1819.62" fill="none" stroke="#cfcfd4" stroke-width="0.75" stroke-linejoin="round"/>
<path d="M1265.3 1874.3 L1290.27 1870.71 L1315.24 1684.89" fill="none" stroke="#cfcfd4" stroke-width="0.75" stroke-linejoin="round"/>
<path d="M1265.3 1868.56 L1290.27 1825.48 L1315.24 1681.88" fill="none" stroke="#cfcfd4" stroke-width="0.75" stroke-linejoin="round"/>
<path d="M1265.3 1874.3 L1290.27 1874.3 L1315.24 1776.65" fill="none" stroke="#cfcfd4" stroke-width="0.75" stroke-linejoin="round"/>
<path d="M1265.3 1874.3 L1290.27 1847.44 L1315.24 1667.11" fill="none" stroke="#ecdfb4" stroke-width="0.75" stroke-linejoin="round"/>
<path d="M1265.3 1874.3 L1290.27 1874.3 L1315.24 1682.41" fill="none" stroke="#ecdfb4" stroke-width="0.75" stroke-linejoin="round"/>
<path d="M1265.3 1874.3 L1290.27 1861 L1315.24 1754.58" fill="none" stroke="#ecdfb4" stroke-width="0.75" stroke-linejoin="round"/>
<path d="M1265.3 1874.3 L1290.27 1864.37 L1315.24 1690.93" fill="none" stroke="#ecdfb4" stroke-width="0.75" stroke-linejoin="round"/>
<path d="M1265.3 1874.3 L1290.27 1874.3 L1315.24 1771.24" fill="none" stroke="#ecdfb4" stroke-width="0.75" stroke-linejoin="round"/>
<path d="M1265.3 1874.3 L1290.27 1869 L1315.24 1701.8" fill="none" stroke="#ecdfb4" stroke-width="0.75" stroke-linejoin="round"/>
<path d="M1265.3 1874.3 L1290.27 1865.22 L1315.24 1800.83" fill="none" stroke="#ecdfb4" stroke-width="0.75" stroke-linejoin="round"/>
<path d="M1265.3 1874.3 L1290.27 1874.3 L1315.24 1737" fill="none" stroke="#ecdfb4" stroke-width="0.75" stroke-linejoin="round"/>
<path d="M1265.3 1874.3 L1290.27 1853.25 L1315.24 1682.23" fill="none" stroke="#ecdfb4" stroke-width="0.75" stroke-linejoin="round"/>
<path d="M1265.3 1874.3 L1290.27 1874.3 L1315.24 1774.21" fill="none" stroke="#ecdfb4" stroke-width="0.75" stroke-linejoin="round"/>
<path d="M1265.3 1874.3 L1290.27 1874.3 L1315.24 1662.35" fill="none" stroke="#ecdfb4" stroke-width="0.75" stroke-linejoin="round"/>
<path d="M1265.3 1874.3 L1290.27 1874.3 L1315.24 1633.05" fill="none" stroke="#ecdfb4" stroke-width="0.75" stroke-linejoin="round"/>
<path d="M1365.18 1874.3 L1390.15 1782.45 L1415.12 1817.44 L1440.09 1847.86 L1465.06 1871.63 L1490.03 1834.38 L1515 1852.26 L1539.97 1863.72 L1564.94 1847.46 L1589.91 1867.58 L1614.88 1868.48" fill="none" stroke="#cfcfd4" stroke-width="0.75" stroke-linejoin="round"/>
<path d="M1365.18 1874.3 L1390.15 1732.92 L1415.12 1790.56 L1440.09 1822.51 L1465.06 1837.78 L1490.03 1837.82 L1515 1774.35 L1539.97 1869.61 L1564.94 1854.92 L1589.91 1874.3 L1614.88 1874.3" fill="none" stroke="#cfcfd4" stroke-width="0.75" stroke-linejoin="round"/>
<path d="M1365.18 1874.3 L1390.15 1823.33 L1415.12 1854.09 L1440.09 1867.31 L1465.06 1871.64 L1490.03 1871.7 L1515 1864.79 L1539.97 1873.38 L1564.94 1863.05 L1589.91 1874.3 L1614.88 1873.22" fill="none" stroke="#cfcfd4" stroke-width="0.75" stroke-linejoin="round"/>
<path d="M1365.18 1874.3 L1390.15 1781.17 L1415.12 1818.47 L1440.09 1851.26 L1465.06 1862.72 L1490.03 1859.74 L1515 1860.67 L1539.97 1846.08 L1564.94 1847.47 L1589.91 1847.82 L1614.88 1842.29" fill="none" stroke="#cfcfd4" stroke-width="0.75" stroke-linejoin="round"/>
<path d="M1365.18 1874.3 L1390.15 1776.07 L1415.12 1835.55 L1440.09 1841.99 L1465.06 1868.73 L1490.03 1874.3 L1515 1863.53 L1539.97 1872.84 L1564.94 1873.3 L1589.91 1874.3 L1614.88 1872.14" fill="none" stroke="#cfcfd4" stroke-width="0.75" stroke-linejoin="round"/>
<path d="M1365.18 1874.3 L1390.15 1726.02 L1415.12 1787.18 L1440.09 1821.82 L1465.06 1841.14 L1490.03 1829.84 L1515 1874.3 L1539.97 1871.63 L1564.94 1842.67 L1589.91 1874.3 L1614.88 1874.3" fill="none" stroke="#cfcfd4" stroke-width="0.75" stroke-linejoin="round"/>
<path d="M1365.18 1874.3 L1390.15 1743.33 L1415.12 1820.09 L1440.09 1833.79 L1465.06 1836.57 L1490.03 1849.57 L1515 1858 L1539.97 1860.43 L1564.94 1833.26 L1589.91 1866.21 L1614.88 1869.67" fill="none" stroke="#cfcfd4" stroke-width="0.75" stroke-linejoin="round"/>
<path d="M1365.18 1874.3 L1390.15 1711.72 L1415.12 1806.67 L1440.09 1798.68 L1465.06 1842.89 L1490.03 1872.74 L1515 1856.98 L1539.97 1849.34 L1564.94 1860.17 L1589.91 1845.43 L1614.88 1868.72" fill="none" stroke="#cfcfd4" stroke-width="0.75" stroke-linejoin="round"/>
<path d="M1365.18 1874.3 L1390.15 1702.8 L1415.12 1750.95 L1440.09 1809.2 L1465.06 1833.26 L1490.03 1852.73 L1515 1849.08 L1539.97 1858.14 L1564.94 1829.11 L1589.91 1841.97 L1614.88 1874.3" fill="none" stroke="#cfcfd4" stroke-width="0.75" stroke-linejoin="round"/>
<path d="M1365.18 1874.3 L1390.15 1699.11 L1415.12 1745.06 L1440.09 1788.14 L1465.06 1811.12 L1490.03 1851.32 L1515 1845.58 L1539.97 1857.07 L1564.94 1796.76 L1589.91 1805.37 L1614.88 1865.68" fill="none" stroke="#cfcfd4" stroke-width="0.75" stroke-linejoin="round"/>
<path d="M1365.18 1874.3 L1390.15 1805.37 L1415.12 1845.58 L1440.09 1822.6 L1465.06 1862.81 L1490.03 1851.32 L1515 1868.56 L1539.97 1857.07 L1564.94 1865.68 L1589.91 1871.43 L1614.88 1874.3" fill="none" stroke="#cfcfd4" stroke-width="0.75" stroke-linejoin="round"/>
<path d="M1365.18 1874.3 L1390.15 1777.03 L1415.12 1837.45 L1440.09 1848.92 L1465.06 1856.69 L1490.03 1874.3 L1515 1866.53 L1539.97 1866.73 L1564.94 1874.3 L1589.91 1858.68 L1614.88 1872.82" fill="none" stroke="#ecdfb4" stroke-width="0.75" stroke-linejoin="round"/>
<path d="M1365.18 1874.3 L1390.15 1759.28 L1415.12 1834.16 L1440.09 1843.85 L1465.06 1850.62 L1490.03 1874.3 L1515 1862.96 L1539.97 1845.34 L1564.94 1868.15 L1589.91 1860.71 L1614.88 1847.72" fill="none" stroke="#ecdfb4" stroke-width="0.75" stroke-linejoin="round"/>
<path d="M1365.18 1874.3 L1390.15 1755.98 L1415.12 1831.21 L1440.09 1837.4 L1465.06 1855.58 L1490.03 1848.34 L1515 1781.74 L1539.97 1874.3 L1564.94 1846.96 L1589.91 1851.42 L1614.88 1839.26" fill="none" stroke="#ecdfb4" stroke-width="0.75" stroke-linejoin="round"/>
<path d="M1365.18 1874.3 L1390.15 1678.48 L1415.12 1801.04 L1440.09 1812.81 L1465.06 1845.6 L1490.03 1860.83 L1515 1843.75 L1539.97 1852.25 L1564.94 1856 L1589.91 1847.03 L1614.88 1838.52" fill="none" stroke="#ecdfb4" stroke-width="0.75" stroke-linejoin="round"/>
<path d="M1365.18 1874.3 L1390.15 1706.39 L1415.12 1782.55 L1440.09 1840.39 L1465.06 1842.3 L1490.03 1857.59 L1515 1855.99 L1539.97 1858.26 L1564.94 1829.05 L1589.91 1842.08 L1614.88 1836" fill="none" stroke="#ecdfb4" stroke-width="0.75" stroke-linejoin="round"/>
<path d="M1365.18 1874.3 L1390.15 1751.12 L1415.12 1826.45 L1440.09 1849.14 L1465.06 1850.72 L1490.03 1847.46 L1515 1851.86 L1539.97 1840.97 L1564.94 1850.59 L1589.91 1870.21 L1614.88 1864.4" fill="none" stroke="#ecdfb4" stroke-width="0.75" stroke-linejoin="round"/>
<path d="M1365.18 1874.3 L1390.15 1746.47 L1415.12 1816.13 L1440.09 1847.31 L1465.06 1848.08 L1490.03 1847.29 L1515 1854.43 L1539.97 1850.07 L1564.94 1868.01 L1589.91 1845.51 L1614.88 1839.7" fill="none" stroke="#ecdfb4" stroke-width="0.75" stroke-linejoin="round"/>
<path d="M1365.18 1874.3 L1390.15 1761.88 L1415.12 1815.34 L1440.09 1839.1 L1465.06 1874.3 L1490.03 1861.06 L1515 1865.53 L1539.97 1874.3 L1564.94 1871.74 L1589.91 1855.36 L1614.88 1848.73" fill="none" stroke="#ecdfb4" stroke-width="0.75" stroke-linejoin="round"/>
<path d="M1365.18 1874.3 L1390.15 1770.58 L1415.12 1817.9 L1440.09 1838.02 L1465.06 1851.18 L1490.03 1816.59 L1515 1857.69 L1539.97 1857.1 L1564.94 1874.3 L1589.91 1843.16 L1614.88 1850.11" fill="none" stroke="#ecdfb4" stroke-width="0.75" stroke-linejoin="round"/>
<path d="M1365.18 1874.3 L1390.15 1689.22 L1415.12 1801.95 L1440.09 1796.44 L1465.06 1853.95 L1490.03 1845.97 L1515 1849.21 L1539.97 1862.15 L1564.94 1864.43 L1589.91 1874.3 L1614.88 1817.16" fill="none" stroke="#ecdfb4" stroke-width="0.75" stroke-linejoin="round"/>
<path d="M1365.18 1874.3 L1390.15 1661.77 L1415.12 1759.42 L1440.09 1793.88 L1465.06 1834.09 L1490.03 1839.84 L1515 1825.48 L1539.97 1825.48 L1564.94 1825.48 L1589.91 1825.48 L1614.88 1825.48" fill="none" stroke="#ecdfb4" stroke-width="0.75" stroke-linejoin="round"/>
<path d="M1365.18 1874.3 L1390.15 1834.09 L1415.12 1834.09 L1440.09 1857.07 L1465.06 1865.68 L1490.03 1848.45 L1515 1834.09 L1539.97 1851.32 L1564.94 1839.84 L1589.91 1816.86 L1614.88 1768.04" fill="none" stroke="#ecdfb4" stroke-width="0.75" stroke-linejoin="round"/>
<path d="M1664.82 1874.3 L1689.79 1855.19" fill="none" stroke="#cfcfd4" stroke-width="0.75" stroke-linejoin="round"/>
<path d="M1664.82 1874.3 L1689.79 1859.24" fill="none" stroke="#cfcfd4" stroke-width="0.75" stroke-linejoin="round"/>
<path d="M1664.82 1874.3 L1689.79 1830.78" fill="none" stroke="#cfcfd4" stroke-width="0.75" stroke-linejoin="round"/>
<path d="M1664.82 1874.3 L1689.79 1851.29" fill="none" stroke="#cfcfd4" stroke-width="0.75" stroke-linejoin="round"/>
<path d="M1664.82 1874.3 L1689.79 1842.45" fill="none" stroke="#cfcfd4" stroke-width="0.75" stroke-linejoin="round"/>
<path d="M1664.82 1874.3 L1689.79 1867" fill="none" stroke="#cfcfd4" stroke-width="0.75" stroke-linejoin="round"/>
<path d="M1664.82 1874.3 L1689.79 1863.31" fill="none" stroke="#cfcfd4" stroke-width="0.75" stroke-linejoin="round"/>
<path d="M1664.82 1874.3 L1689.79 1854.55" fill="none" stroke="#cfcfd4" stroke-width="0.75" stroke-linejoin="round"/>
<path d="M1664.82 1874.3 L1689.79 1874.3" fill="none" stroke="#cfcfd4" stroke-width="0.75" stroke-linejoin="round"/>
<path d="M1664.82 1874.3 L1689.79 1810.79" fill="none" stroke="#cfcfd4" stroke-width="0.75" stroke-linejoin="round"/>
<path d="M1664.82 1874.3 L1689.79 1824.83" fill="none" stroke="#cfcfd4" stroke-width="0.75" stroke-linejoin="round"/>
<path d="M1664.82 1874.3 L1689.79 1836.28" fill="none" stroke="#ecdfb4" stroke-width="0.75" stroke-linejoin="round"/>
<path d="M1664.82 1874.3 L1689.79 1826.77" fill="none" stroke="#ecdfb4" stroke-width="0.75" stroke-linejoin="round"/>
<path d="M1664.82 1874.3 L1689.79 1820.28" fill="none" stroke="#ecdfb4" stroke-width="0.75" stroke-linejoin="round"/>
<path d="M1664.82 1874.3 L1689.79 1835.78" fill="none" stroke="#ecdfb4" stroke-width="0.75" stroke-linejoin="round"/>
<path d="M1664.82 1874.3 L1689.79 1818.32" fill="none" stroke="#ecdfb4" stroke-width="0.75" stroke-linejoin="round"/>
<path d="M1664.82 1874.3 L1689.79 1832.33" fill="none" stroke="#ecdfb4" stroke-width="0.75" stroke-linejoin="round"/>
<path d="M1664.82 1874.3 L1689.79 1851.72" fill="none" stroke="#ecdfb4" stroke-width="0.75" stroke-linejoin="round"/>
<path d="M1664.82 1874.3 L1689.79 1823.04" fill="none" stroke="#ecdfb4" stroke-width="0.75" stroke-linejoin="round"/>
<path d="M1664.82 1874.3 L1689.79 1829.68" fill="none" stroke="#ecdfb4" stroke-width="0.75" stroke-linejoin="round"/>
<path d="M1664.82 1874.3 L1689.79 1819.35" fill="none" stroke="#ecdfb4" stroke-width="0.75" stroke-linejoin="round"/>
<path d="M1664.82 1874.3 L1689.79 1817.94" fill="none" stroke="#ecdfb4" stroke-width="0.75" stroke-linejoin="round"/>
<path d="M1664.82 1874.3 L1689.79 1826.97" fill="none" stroke="#ecdfb4" stroke-width="0.75" stroke-linejoin="round"/>
<path d="M1739.73 1784.87 L1764.7 1623.43" fill="none" stroke="#cfcfd4" stroke-width="0.75" stroke-linejoin="round"/>
<path d="M1739.73 1763.59 L1764.7 1634.37" fill="none" stroke="#cfcfd4" stroke-width="0.75" stroke-linejoin="round"/>
<path d="M1739.73 1808.27 L1764.7 1639.79" fill="none" stroke="#cfcfd4" stroke-width="0.75" stroke-linejoin="round"/>
<path d="M1739.73 1814.62 L1764.7 1671.89" fill="none" stroke="#cfcfd4" stroke-width="0.75" stroke-linejoin="round"/>
<path d="M1739.73 1848.28 L1764.7 1736.66" fill="none" stroke="#cfcfd4" stroke-width="0.75" stroke-linejoin="round"/>
<path d="M1739.73 1853.84 L1764.7 1732.72" fill="none" stroke="#cfcfd4" stroke-width="0.75" stroke-linejoin="round"/>
<path d="M1739.73 1831.93 L1764.7 1675.26" fill="none" stroke="#cfcfd4" stroke-width="0.75" stroke-linejoin="round"/>
<path d="M1739.73 1813.14 L1764.7 1646.66" fill="none" stroke="#cfcfd4" stroke-width="0.75" stroke-linejoin="round"/>
<path d="M1739.73 1865.68 L1764.7 1652.5" fill="none" stroke="#cfcfd4" stroke-width="0.75" stroke-linejoin="round"/>
<path d="M1739.73 1841.15 L1764.7 1669.38" fill="none" stroke="#cfcfd4" stroke-width="0.75" stroke-linejoin="round"/>
<path d="M1739.73 1780.26 L1764.7 1690.41" fill="none" stroke="#cfcfd4" stroke-width="0.75" stroke-linejoin="round"/>
<path d="M1739.73 1738.84 L1764.7 1668.92" fill="none" stroke="#ecdfb4" stroke-width="0.75" stroke-linejoin="round"/>
<path d="M1739.73 1766.87 L1764.7 1637.65" fill="none" stroke="#ecdfb4" stroke-width="0.75" stroke-linejoin="round"/>
<path d="M1739.73 1769.34 L1764.7 1629.6" fill="none" stroke="#ecdfb4" stroke-width="0.75" stroke-linejoin="round"/>
<path d="M1739.73 1805.15 L1764.7 1665.14" fill="none" stroke="#ecdfb4" stroke-width="0.75" stroke-linejoin="round"/>
<path d="M1739.73 1784.05 L1764.7 1769.69" fill="none" stroke="#ecdfb4" stroke-width="0.75" stroke-linejoin="round"/>
<path d="M1739.73 1789.1 L1764.7 1631.29" fill="none" stroke="#ecdfb4" stroke-width="0.75" stroke-linejoin="round"/>
<path d="M1739.73 1834.37 L1764.7 1610.57" fill="none" stroke="#ecdfb4" stroke-width="0.75" stroke-linejoin="round"/>
<path d="M1739.73 1778.64 L1764.7 1669.18" fill="none" stroke="#ecdfb4" stroke-width="0.75" stroke-linejoin="round"/>
<path d="M1739.73 1725.45 L1764.7 1711.06" fill="none" stroke="#ecdfb4" stroke-width="0.75" stroke-linejoin="round"/>
<path d="M1739.73 1791.35 L1764.7 1674.23" fill="none" stroke="#ecdfb4" stroke-width="0.75" stroke-linejoin="round"/>
<path d="M1739.73 1800.84 L1764.7 1638.41" fill="none" stroke="#ecdfb4" stroke-width="0.75" stroke-linejoin="round"/>
<path d="M1739.73 1804.41 L1764.7 1686.39" fill="none" stroke="#ecdfb4" stroke-width="0.75" stroke-linejoin="round"/>
<line x1="1248.8" y1="1875.3" x2="1248.8" y2="1586.1" stroke="#1a1a1a" stroke-width="2"/>
<line x1="1240.8" y1="1874.3" x2="1248.8" y2="1874.3" stroke="#1a1a1a" stroke-width="2"/>
<text x="1237.6" y="1882.45" text-anchor="end">0</text>
<line x1="1240.8" y1="1802.5" x2="1248.8" y2="1802.5" stroke="#1a1a1a" stroke-width="2"/>
<text x="1237.6" y="1810.65" text-anchor="end">25</text>
<line x1="1240.8" y1="1730.7" x2="1248.8" y2="1730.7" stroke="#1a1a1a" stroke-width="2"/>
<text x="1237.6" y="1738.85" text-anchor="end">50</text>
<line x1="1240.8" y1="1658.9" x2="1248.8" y2="1658.9" stroke="#1a1a1a" stroke-width="2"/>
<text x="1237.6" y="1667.05" text-anchor="end">75</text>
<line x1="1240.8" y1="1587.1" x2="1248.8" y2="1587.1" stroke="#1a1a1a" stroke-width="2"/>
<text x="1237.6" y="1595.25" text-anchor="end">100</text>
<line x1="1240.3" y1="1874.3" x2="1781.6" y2="1874.3" stroke="#1a1a1a" stroke-width="2"/>
<line x1="1265.3" y1="1874.3" x2="1265.3" y2="1879.2" stroke="#1a1a1a" stroke-width="1.8"/>
<line x1="1290.27" y1="1874.3" x2="1290.27" y2="1879.2" stroke="#1a1a1a" stroke-width="1.8"/>
<line x1="1315.24" y1="1874.3" x2="1315.24" y2="1879.2" stroke="#1a1a1a" stroke-width="1.8"/>
<line x1="1365.18" y1="1874.3" x2="1365.18" y2="1879.2" stroke="#1a1a1a" stroke-width="1.8"/>
<line x1="1390.15" y1="1874.3" x2="1390.15" y2="1879.2" stroke="#1a1a1a" stroke-width="1.8"/>
<line x1="1415.12" y1="1874.3" x2="1415.12" y2="1879.2" stroke="#1a1a1a" stroke-width="1.8"/>
<line x1="1440.09" y1="1874.3" x2="1440.09" y2="1879.2" stroke="#1a1a1a" stroke-width="1.8"/>
<line x1="1465.06" y1="1874.3" x2="1465.06" y2="1879.2" stroke="#1a1a1a" stroke-width="1.8"/>
<line x1="1490.03" y1="1874.3" x2="1490.03" y2="1879.2" stroke="#1a1a1a" stroke-width="1.8"/>
<line x1="1515" y1="1874.3" x2="1515" y2="1879.2" stroke="#1a1a1a" stroke-width="1.8"/>
<line x1="1539.97" y1="1874.3" x2="1539.97" y2="1879.2" stroke="#1a1a1a" stroke-width="1.8"/>
<line x1="1564.94" y1="1874.3" x2="1564.94" y2="1879.2" stroke="#1a1a1a" stroke-width="1.8"/>
<line x1="1589.91" y1="1874.3" x2="1589.91" y2="1879.2" stroke="#1a1a1a" stroke-width="1.8"/>
<line x1="1614.88" y1="1874.3" x2="1614.88" y2="1879.2" stroke="#1a1a1a" stroke-width="1.8"/>
<line x1="1664.82" y1="1874.3" x2="1664.82" y2="1879.2" stroke="#1a1a1a" stroke-width="1.8"/>
<line x1="1689.79" y1="1874.3" x2="1689.79" y2="1879.2" stroke="#1a1a1a" stroke-width="1.8"/>
<line x1="1739.73" y1="1874.3" x2="1739.73" y2="1879.2" stroke="#1a1a1a" stroke-width="1.8"/>
<line x1="1764.7" y1="1874.3" x2="1764.7" y2="1879.2" stroke="#1a1a1a" stroke-width="1.8"/>
<line x1="1340.21" y1="1579" x2="1340.21" y2="1879.8" stroke="#000" stroke-width="1.7" stroke-dasharray="4.4 3.4"/>
<line x1="1639.85" y1="1579" x2="1639.85" y2="1879.8" stroke="#000" stroke-width="1.7" stroke-dasharray="4.4 3.4"/>
<line x1="1714.76" y1="1579" x2="1714.76" y2="1879.8" stroke="#000" stroke-width="1.7" stroke-dasharray="4.4 3.4"/>
<line x1="1291.77" y1="1874.3" x2="1315.24" y2="1717.78" stroke="#3a3a3a" stroke-width="1.2"/>
<line x1="1315.24" y1="1712.32" x2="1315.24" y2="1722.08" stroke="#1a1a1a" stroke-width="1.7"/>
<line x1="1311.14" y1="1712.32" x2="1319.34" y2="1712.32" stroke="#1a1a1a" stroke-width="1.7"/>
<line x1="1315.24" y1="1731.85" x2="1315.24" y2="1722.08" stroke="#1a1a1a" stroke-width="1.7"/>
<line x1="1311.14" y1="1731.85" x2="1319.34" y2="1731.85" stroke="#1a1a1a" stroke-width="1.7"/>
<path d="M1290.27 1870.57 L1315.24 1722.08" fill="none" stroke="#1a1a1a" stroke-width="1.9"/>
<circle cx="1265.3" cy="1873.44" r="8.3" fill="#fff" stroke="#1a1a1a" stroke-width="1.7"/>
<circle cx="1290.27" cy="1870.57" r="8.3" fill="#fff" stroke="#1a1a1a" stroke-width="1.7"/>
<circle cx="1315.24" cy="1722.08" r="8.3" fill="#fff" stroke="#1a1a1a" stroke-width="1.7"/>
<line x1="1315.24" y1="1704.56" x2="1315.24" y2="1717.78" stroke="#1a1a1a" stroke-width="1.7"/>
<line x1="1311.14" y1="1704.56" x2="1319.34" y2="1704.56" stroke="#1a1a1a" stroke-width="1.7"/>
<line x1="1315.24" y1="1730.99" x2="1315.24" y2="1717.78" stroke="#1a1a1a" stroke-width="1.7"/>
<line x1="1311.14" y1="1730.99" x2="1319.34" y2="1730.99" stroke="#1a1a1a" stroke-width="1.7"/>
<path d="M1290.27 1874.3 L1315.24 1717.78" fill="none" stroke="#1a1a1a" stroke-width="1.9"/>
<circle cx="1265.3" cy="1874.3" r="8.3" fill="#E2A943" stroke="#1a1a1a" stroke-width="1.7"/>
<circle cx="1290.27" cy="1874.3" r="8.3" fill="#E2A943" stroke="#1a1a1a" stroke-width="1.7"/>
<circle cx="1315.24" cy="1717.78" r="8.3" fill="#E2A943" stroke="#1a1a1a" stroke-width="1.7"/>
<line x1="1390.15" y1="1719.79" x2="1390.15" y2="1732.14" stroke="#1a1a1a" stroke-width="1.7"/>
<line x1="1386.05" y1="1719.79" x2="1394.25" y2="1719.79" stroke="#1a1a1a" stroke-width="1.7"/>
<line x1="1390.15" y1="1744.49" x2="1390.15" y2="1732.14" stroke="#1a1a1a" stroke-width="1.7"/>
<line x1="1386.05" y1="1744.49" x2="1394.25" y2="1744.49" stroke="#1a1a1a" stroke-width="1.7"/>
<line x1="1415.12" y1="1790.44" x2="1415.12" y2="1802.5" stroke="#1a1a1a" stroke-width="1.7"/>
<line x1="1411.02" y1="1790.44" x2="1419.22" y2="1790.44" stroke="#1a1a1a" stroke-width="1.7"/>
<line x1="1415.12" y1="1814.56" x2="1415.12" y2="1802.5" stroke="#1a1a1a" stroke-width="1.7"/>
<line x1="1411.02" y1="1814.56" x2="1419.22" y2="1814.56" stroke="#1a1a1a" stroke-width="1.7"/>
<path d="M1390.15 1732.14 L1415.12 1802.5 L1440.09 1828.35 L1465.06 1851.32 L1490.03 1854.48 L1515 1862.81 L1539.97 1862.81 L1564.94 1852.47 L1589.91 1862.24 L1614.88 1870.57" fill="none" stroke="#1a1a1a" stroke-width="1.9"/>
<circle cx="1365.18" cy="1875.16" r="8.3" fill="#fff" stroke="#1a1a1a" stroke-width="1.7"/>
<circle cx="1390.15" cy="1732.14" r="8.3" fill="#fff" stroke="#1a1a1a" stroke-width="1.7"/>
<circle cx="1415.12" cy="1802.5" r="8.3" fill="#fff" stroke="#1a1a1a" stroke-width="1.7"/>
<circle cx="1440.09" cy="1828.35" r="8.3" fill="#fff" stroke="#1a1a1a" stroke-width="1.7"/>
<circle cx="1465.06" cy="1851.32" r="8.3" fill="#fff" stroke="#1a1a1a" stroke-width="1.7"/>
<circle cx="1490.03" cy="1854.48" r="8.3" fill="#fff" stroke="#1a1a1a" stroke-width="1.7"/>
<circle cx="1515" cy="1862.81" r="8.3" fill="#fff" stroke="#1a1a1a" stroke-width="1.7"/>
<circle cx="1539.97" cy="1862.81" r="8.3" fill="#fff" stroke="#1a1a1a" stroke-width="1.7"/>
<circle cx="1564.94" cy="1852.47" r="8.3" fill="#fff" stroke="#1a1a1a" stroke-width="1.7"/>
<circle cx="1589.91" cy="1862.24" r="8.3" fill="#fff" stroke="#1a1a1a" stroke-width="1.7"/>
<circle cx="1614.88" cy="1870.57" r="8.3" fill="#fff" stroke="#1a1a1a" stroke-width="1.7"/>
<line x1="1390.15" y1="1735.58" x2="1390.15" y2="1754.54" stroke="#1a1a1a" stroke-width="1.7"/>
<line x1="1386.05" y1="1735.58" x2="1394.25" y2="1735.58" stroke="#1a1a1a" stroke-width="1.7"/>
<line x1="1390.15" y1="1773.49" x2="1390.15" y2="1754.54" stroke="#1a1a1a" stroke-width="1.7"/>
<line x1="1386.05" y1="1773.49" x2="1394.25" y2="1773.49" stroke="#1a1a1a" stroke-width="1.7"/>
<line x1="1415.12" y1="1811.4" x2="1415.12" y2="1824.61" stroke="#1a1a1a" stroke-width="1.7"/>
<line x1="1411.02" y1="1811.4" x2="1419.22" y2="1811.4" stroke="#1a1a1a" stroke-width="1.7"/>
<line x1="1415.12" y1="1837.83" x2="1415.12" y2="1824.61" stroke="#1a1a1a" stroke-width="1.7"/>
<line x1="1411.02" y1="1837.83" x2="1419.22" y2="1837.83" stroke="#1a1a1a" stroke-width="1.7"/>
<line x1="1440.09" y1="1834.09" x2="1440.09" y2="1842.13" stroke="#1a1a1a" stroke-width="1.7"/>
<line x1="1435.99" y1="1834.09" x2="1444.19" y2="1834.09" stroke="#1a1a1a" stroke-width="1.7"/>
<line x1="1440.09" y1="1850.18" x2="1440.09" y2="1842.13" stroke="#1a1a1a" stroke-width="1.7"/>
<line x1="1435.99" y1="1850.18" x2="1444.19" y2="1850.18" stroke="#1a1a1a" stroke-width="1.7"/>
<line x1="1614.88" y1="1837.54" x2="1614.88" y2="1847.88" stroke="#1a1a1a" stroke-width="1.7"/>
<line x1="1610.78" y1="1837.54" x2="1618.98" y2="1837.54" stroke="#1a1a1a" stroke-width="1.7"/>
<line x1="1614.88" y1="1858.22" x2="1614.88" y2="1847.88" stroke="#1a1a1a" stroke-width="1.7"/>
<line x1="1610.78" y1="1858.22" x2="1618.98" y2="1858.22" stroke="#1a1a1a" stroke-width="1.7"/>
<path d="M1390.15 1754.54 L1415.12 1824.61 L1440.09 1842.13 L1465.06 1856.21 L1490.03 1858.5 L1515 1857.07 L1539.97 1857.07 L1564.94 1861.09 L1589.91 1852.47 L1614.88 1847.88" fill="none" stroke="#1a1a1a" stroke-width="1.9"/>
<circle cx="1365.18" cy="1871.43" r="8.3" fill="#E2A943" stroke="#1a1a1a" stroke-width="1.7"/>
<circle cx="1390.15" cy="1754.54" r="8.3" fill="#E2A943" stroke="#1a1a1a" stroke-width="1.7"/>
<circle cx="1415.12" cy="1824.61" r="8.3" fill="#E2A943" stroke="#1a1a1a" stroke-width="1.7"/>
<circle cx="1440.09" cy="1842.13" r="8.3" fill="#E2A943" stroke="#1a1a1a" stroke-width="1.7"/>
<circle cx="1465.06" cy="1856.21" r="8.3" fill="#E2A943" stroke="#1a1a1a" stroke-width="1.7"/>
<circle cx="1490.03" cy="1858.5" r="8.3" fill="#E2A943" stroke="#1a1a1a" stroke-width="1.7"/>
<circle cx="1515" cy="1857.07" r="8.3" fill="#E2A943" stroke="#1a1a1a" stroke-width="1.7"/>
<circle cx="1539.97" cy="1857.07" r="8.3" fill="#E2A943" stroke="#1a1a1a" stroke-width="1.7"/>
<circle cx="1564.94" cy="1861.09" r="8.3" fill="#E2A943" stroke="#1a1a1a" stroke-width="1.7"/>
<circle cx="1589.91" cy="1852.47" r="8.3" fill="#E2A943" stroke="#1a1a1a" stroke-width="1.7"/>
<circle cx="1614.88" cy="1847.88" r="8.3" fill="#E2A943" stroke="#1a1a1a" stroke-width="1.7"/>
<line x1="1689.79" y1="1833.8" x2="1689.79" y2="1843.28" stroke="#1a1a1a" stroke-width="1.7"/>
<line x1="1685.69" y1="1833.8" x2="1693.89" y2="1833.8" stroke="#1a1a1a" stroke-width="1.7"/>
<line x1="1689.79" y1="1852.76" x2="1689.79" y2="1843.28" stroke="#1a1a1a" stroke-width="1.7"/>
<line x1="1685.69" y1="1852.76" x2="1693.89" y2="1852.76" stroke="#1a1a1a" stroke-width="1.7"/>
<circle cx="1664.82" cy="1874.3" r="8.3" fill="#fff" stroke="#1a1a1a" stroke-width="1.7"/>
<circle cx="1689.79" cy="1843.28" r="8.3" fill="#fff" stroke="#1a1a1a" stroke-width="1.7"/>
<line x1="1689.79" y1="1822.6" x2="1689.79" y2="1831.22" stroke="#1a1a1a" stroke-width="1.7"/>
<line x1="1685.69" y1="1822.6" x2="1693.89" y2="1822.6" stroke="#1a1a1a" stroke-width="1.7"/>
<line x1="1689.79" y1="1839.84" x2="1689.79" y2="1831.22" stroke="#1a1a1a" stroke-width="1.7"/>
<line x1="1685.69" y1="1839.84" x2="1693.89" y2="1839.84" stroke="#1a1a1a" stroke-width="1.7"/>
<circle cx="1664.82" cy="1873.44" r="8.3" fill="#E2A943" stroke="#1a1a1a" stroke-width="1.7"/>
<circle cx="1689.79" cy="1831.22" r="8.3" fill="#E2A943" stroke="#1a1a1a" stroke-width="1.7"/>
<line x1="1739.73" y1="1762.58" x2="1739.73" y2="1782.11" stroke="#1a1a1a" stroke-width="1.7"/>
<line x1="1735.63" y1="1762.58" x2="1743.83" y2="1762.58" stroke="#1a1a1a" stroke-width="1.7"/>
<line x1="1739.73" y1="1801.64" x2="1739.73" y2="1782.11" stroke="#1a1a1a" stroke-width="1.7"/>
<line x1="1735.63" y1="1801.64" x2="1743.83" y2="1801.64" stroke="#1a1a1a" stroke-width="1.7"/>
<line x1="1764.7" y1="1658.33" x2="1764.7" y2="1674.12" stroke="#1a1a1a" stroke-width="1.7"/>
<line x1="1760.6" y1="1658.33" x2="1768.8" y2="1658.33" stroke="#1a1a1a" stroke-width="1.7"/>
<line x1="1764.7" y1="1689.92" x2="1764.7" y2="1674.12" stroke="#1a1a1a" stroke-width="1.7"/>
<line x1="1760.6" y1="1689.92" x2="1768.8" y2="1689.92" stroke="#1a1a1a" stroke-width="1.7"/>
<circle cx="1739.73" cy="1782.11" r="8.3" fill="#fff" stroke="#1a1a1a" stroke-width="1.7"/>
<circle cx="1764.7" cy="1674.12" r="8.3" fill="#fff" stroke="#1a1a1a" stroke-width="1.7"/>
<line x1="1739.73" y1="1762.29" x2="1739.73" y2="1779.52" stroke="#1a1a1a" stroke-width="1.7"/>
<line x1="1735.63" y1="1762.29" x2="1743.83" y2="1762.29" stroke="#1a1a1a" stroke-width="1.7"/>
<line x1="1739.73" y1="1796.76" x2="1739.73" y2="1779.52" stroke="#1a1a1a" stroke-width="1.7"/>
<line x1="1735.63" y1="1796.76" x2="1743.83" y2="1796.76" stroke="#1a1a1a" stroke-width="1.7"/>
<line x1="1764.7" y1="1658.33" x2="1764.7" y2="1676.13" stroke="#1a1a1a" stroke-width="1.7"/>
<line x1="1760.6" y1="1658.33" x2="1768.8" y2="1658.33" stroke="#1a1a1a" stroke-width="1.7"/>
<line x1="1764.7" y1="1693.94" x2="1764.7" y2="1676.13" stroke="#1a1a1a" stroke-width="1.7"/>
<line x1="1760.6" y1="1693.94" x2="1768.8" y2="1693.94" stroke="#1a1a1a" stroke-width="1.7"/>
<circle cx="1739.73" cy="1779.52" r="8.3" fill="#E2A943" stroke="#1a1a1a" stroke-width="1.7"/>
<circle cx="1764.7" cy="1676.13" r="8.3" fill="#E2A943" stroke="#1a1a1a" stroke-width="1.7"/>
<text x="1269.79" y="1906.3" text-anchor="middle">b</text>
<text x="1292.31" y="1906.3" text-anchor="middle">1</text>
<text x="1317.89" y="1906.3" text-anchor="middle">3</text>
<text x="1363.75" y="1906.3" text-anchor="middle">b</text>
<text x="1392.19" y="1906.3" text-anchor="middle">1</text>
<text x="1414.3" y="1906.3" text-anchor="middle">2</text>
<text x="1440.7" y="1906.3" text-anchor="middle">3</text>
<text x="1467.51" y="1906.3" text-anchor="middle">4</text>
<text x="1490.03" y="1906.3" text-anchor="middle">5</text>
<text x="1516.63" y="1906.3" text-anchor="middle">6</text>
<text x="1541.4" y="1906.3" text-anchor="middle">7</text>
<text x="1566.98" y="1906.3" text-anchor="middle">8</text>
<text x="1594.4" y="1906.3" text-anchor="middle">9</text>
<text x="1619.78" y="1906.3" text-anchor="middle">10</text>
<text x="1666.45" y="1906.3" text-anchor="middle">b</text>
<text x="1691.83" y="1906.3" text-anchor="middle">1</text>
<text x="1745.85" y="1906.3" text-anchor="middle">b</text>
<text x="1768.17" y="1906.3" text-anchor="middle">1</text>
<text x="1180" y="1730" text-anchor="middle" transform="rotate(-90 1180 1730)">Freezing (%)</text>
<g transform="translate(1364 1550.4) scale(1)" fill="#c2c2c2">
<path d="M-5.6 0 H5.6 Q6.4 0 6.3 0.9 L5.9 2.6 H-5.9 L-6.3 0.9 Q-6.4 0 -5.6 0 Z"/>
<rect x="-4.9" y="2.4" width="9.8" height="6.2"/>
<path d="M-9 8.2 H9 Q10 8.2 10 9.4 V10.8 H9 V10.6 H-9 V10.8 H-10 V9.4 Q-10 8.2 -9 8.2 Z"/>
<path d="M-6.45 10.4 H6.45 V33.5 Q6.45 37.5 2.4 40.3 L1.9 46 H-1.9 L-2.4 40.3 Q-6.45 37.5 -6.45 33.5 Z"/>
<path d="M-1.9 45.5 H1.9 L0.9 58 Q0 59.4 -0.9 58 Z"/>
<rect x="-4.1" y="12.6" width="8.2" height="2.2" fill="#fff"/>
<rect x="-4.1" y="20.4" width="8.2" height="2.2" fill="#fff"/>
<rect x="-4.1" y="28.2" width="8.2" height="2.2" fill="#fff"/>
</g>
<text x="1383" y="1584.8">Veh</text>
<line x1="1492.7" y1="1593.7" x2="1523.7" y2="1593.7" stroke="#1a1a1a" stroke-width="1.5"/>
<circle cx="1508.2" cy="1593.7" r="8" fill="#fff" stroke="#1a1a1a" stroke-width="1.6"/>
<text x="1541.4" y="1601.5">mCherry</text>
<line x1="1492.7" y1="1625.9" x2="1523.7" y2="1625.9" stroke="#1a1a1a" stroke-width="1.5"/>
<circle cx="1508.2" cy="1625.9" r="8" fill="#E2A943" stroke="#1a1a1a" stroke-width="1.6"/>
<text x="1541.4" y="1634.2">hM3Dq</text>
<text x="1292.6" y="1935.8" text-anchor="middle">CS</text>
<text x="1548.6" y="1935.8" text-anchor="middle">5-CS trial-block</text>
<text x="1294.6" y="1973.5" text-anchor="middle">F-Con</text>
<text x="1511.7" y="1973.5" text-anchor="middle">Ext</text>
<text x="1674.4" y="1973.5" text-anchor="middle">E-Ret</text>
<text x="1754.9" y="1973.5" text-anchor="middle">F-Ren</text>
<line x1="543.02" y1="649.27" x2="543.02" y2="658.55" stroke="#1a1a1a" stroke-width="1.6"/>
<line x1="539.42" y1="649.27" x2="546.62" y2="649.27" stroke="#1a1a1a" stroke-width="1.6"/>
<line x1="576.87" y1="669.4" x2="576.87" y2="684.2" stroke="#1a1a1a" stroke-width="1.6"/>
<line x1="573.27" y1="669.4" x2="580.47" y2="669.4" stroke="#1a1a1a" stroke-width="1.6"/>
<rect x="530.59" y="658.55" width="24.86" height="199.92" fill="#fff" stroke="#1a1a1a" stroke-width="1.5"/>
<rect x="564.53" y="684.2" width="24.66" height="174.26" fill="#E2A943" stroke="#1a1a1a" stroke-width="1.5"/>
<line x1="516.97" y1="859.47" x2="516.97" y2="570.71" stroke="#1a1a1a" stroke-width="2"/>
<line x1="508.67" y1="858.47" x2="516.97" y2="858.47" stroke="#1a1a1a" stroke-width="2"/>
<text x="505.47" y="866.61" text-anchor="end">0</text>
<line x1="508.67" y1="762.88" x2="516.97" y2="762.88" stroke="#1a1a1a" stroke-width="2"/>
<text x="505.47" y="771.03" text-anchor="end">1</text>
<line x1="508.67" y1="667.29" x2="516.97" y2="667.29" stroke="#1a1a1a" stroke-width="2"/>
<text x="505.47" y="675.44" text-anchor="end">2</text>
<line x1="508.67" y1="571.71" x2="516.97" y2="571.71" stroke="#1a1a1a" stroke-width="2"/>
<text x="505.47" y="579.85" text-anchor="end">3</text>
<line x1="508.67" y1="858.47" x2="603.41" y2="858.47" stroke="#1a1a1a" stroke-width="2"/>
<g fill="#fff" stroke="#4d4d4d" stroke-width="1.3" fill-opacity="0.6">
<circle cx="543.02" cy="629.53" r="3.2"/>
<circle cx="532.76" cy="648.28" r="3.2"/>
<circle cx="543.02" cy="648.28" r="3.2"/>
<circle cx="552.89" cy="648.28" r="3.2"/>
<circle cx="537.69" cy="686.57" r="3.2"/>
<circle cx="547.56" cy="686.57" r="3.2"/>
</g>
<g fill="#E1BB37" stroke="#5c4a1c" stroke-width="1.3" fill-opacity="0.5">
<circle cx="576.77" cy="629.53" r="3.2"/>
<circle cx="571.24" cy="667.82" r="3.2"/>
<circle cx="582.49" cy="667.82" r="3.2"/>
<circle cx="570.85" cy="706.31" r="3.2"/>
<circle cx="582.49" cy="706.31" r="3.2"/>
<circle cx="576.77" cy="725.25" r="3.2"/>
</g>
<text x="477.5" y="713.81" text-anchor="middle" transform="rotate(-90 477.5 713.81)">Flinching (a.u.)</text>
<rect x="489.3" y="896.4" width="14.8" height="14.8" fill="#fff" stroke="#111" stroke-width="1.5"/>
<text x="519.9" y="913.2">Control</text>
<rect x="489.3" y="930.5" width="14.8" height="14.8" fill="#ECBF34" stroke="#111" stroke-width="1.5"/>
<text x="519.9" y="946.8">hM3Dq</text>
<text x="1.5" y="1073" font-weight="bold" font-size="34">g</text>
<text x="152.8" y="1194.5" text-anchor="middle">Novel open</text>
<text x="152.8" y="1224.3" text-anchor="middle">field</text>
<text x="25" y="1295.7">CNO</text>
<g transform="translate(95.7 1261) scale(1)" fill="#c2c2c2">
<path d="M-5.6 0 H5.6 Q6.4 0 6.3 0.9 L5.9 2.6 H-5.9 L-6.3 0.9 Q-6.4 0 -5.6 0 Z"/>
<rect x="-4.9" y="2.4" width="9.8" height="6.2"/>
<path d="M-9 8.2 H9 Q10 8.2 10 9.4 V10.8 H9 V10.6 H-9 V10.8 H-10 V9.4 Q-10 8.2 -9 8.2 Z"/>
<path d="M-6.45 10.4 H6.45 V33.5 Q6.45 37.5 2.4 40.3 L1.9 46 H-1.9 L-2.4 40.3 Q-6.45 37.5 -6.45 33.5 Z"/>
<path d="M-1.9 45.5 H1.9 L0.9 58 Q0 59.4 -0.9 58 Z"/>
<rect x="-4.1" y="12.6" width="8.2" height="2.2" fill="#fff"/>
<rect x="-4.1" y="20.4" width="8.2" height="2.2" fill="#fff"/>
<rect x="-4.1" y="28.2" width="8.2" height="2.2" fill="#fff"/>
</g>
<defs><radialGradient id="gA" cx="50%" cy="50%" r="72%"><stop offset="0" stop-color="#fbfcfe"/><stop offset="0.42" stop-color="#f3f6fb"/><stop offset="0.78" stop-color="#b4c6e8"/><stop offset="1" stop-color="#98b0df"/></radialGradient></defs>
<rect x="122.5" y="1257.3" width="58.8" height="58.8" fill="url(#gA)" stroke="#000" stroke-width="2"/>
<rect x="360.6" y="1090.8" width="14.2" height="14.2" fill="#fff" stroke="#111" stroke-width="1.5"/>
<text x="390.2" y="1105.8">Control</text>
<rect x="501.2" y="1091.6" width="14.2" height="14.2" fill="#E2A943" stroke="#111" stroke-width="1.5"/>
<text x="531.6" y="1108.6">hM3Dq</text>
<line x1="370.18" y1="1301.59" x2="370.18" y2="1309.4" stroke="#1a1a1a" stroke-width="1.6"/>
<line x1="366.58" y1="1301.59" x2="373.78" y2="1301.59" stroke="#1a1a1a" stroke-width="1.6"/>
<line x1="403.94" y1="1297.21" x2="403.94" y2="1307.69" stroke="#1a1a1a" stroke-width="1.6"/>
<line x1="400.34" y1="1297.21" x2="407.54" y2="1297.21" stroke="#1a1a1a" stroke-width="1.6"/>
<rect x="357.7" y="1309.4" width="24.95" height="120.43" fill="#fff" stroke="#1a1a1a" stroke-width="1.5"/>
<rect x="391.58" y="1307.69" width="24.71" height="122.14" fill="#E2A943" stroke="#1a1a1a" stroke-width="1.5"/>
<line x1="344.09" y1="1430.82" x2="344.09" y2="1141.4" stroke="#1a1a1a" stroke-width="2"/>
<line x1="335.09" y1="1429.82" x2="344.09" y2="1429.82" stroke="#1a1a1a" stroke-width="2"/>
<text x="331.89" y="1437.97" text-anchor="end">0</text>
<line x1="335.09" y1="1357.97" x2="344.09" y2="1357.97" stroke="#1a1a1a" stroke-width="2"/>
<text x="331.89" y="1366.12" text-anchor="end">25</text>
<line x1="335.09" y1="1286.11" x2="344.09" y2="1286.11" stroke="#1a1a1a" stroke-width="2"/>
<text x="331.89" y="1294.26" text-anchor="end">50</text>
<line x1="335.09" y1="1214.26" x2="344.09" y2="1214.26" stroke="#1a1a1a" stroke-width="2"/>
<text x="331.89" y="1222.4" text-anchor="end">75</text>
<line x1="335.09" y1="1142.4" x2="344.09" y2="1142.4" stroke="#1a1a1a" stroke-width="2"/>
<text x="331.89" y="1150.55" text-anchor="end">100</text>
<line x1="335.09" y1="1429.82" x2="430.39" y2="1429.82" stroke="#1a1a1a" stroke-width="2"/>
<g fill="#fff" stroke="#4d4d4d" stroke-width="1.3" fill-opacity="0.6">
<circle cx="369.69" cy="1265.03" r="3.2"/>
<circle cx="369.69" cy="1277.95" r="3.2"/>
<circle cx="359.69" cy="1282.09" r="3.2"/>
<circle cx="369.69" cy="1286.97" r="3.2"/>
<circle cx="369.69" cy="1292.33" r="3.2"/>
<circle cx="359.69" cy="1298.43" r="3.2"/>
<circle cx="380.41" cy="1298.43" r="3.2"/>
<circle cx="359.69" cy="1319.15" r="3.2"/>
<circle cx="380.41" cy="1319.88" r="3.2"/>
<circle cx="369.69" cy="1325.24" r="3.2"/>
<circle cx="380.41" cy="1326.46" r="3.2"/>
<circle cx="369.69" cy="1332.07" r="3.2"/>
<circle cx="369.69" cy="1340.11" r="3.2"/>
<circle cx="369.69" cy="1364.49" r="3.2"/>
</g>
<g fill="#E1BB37" stroke="#5c4a1c" stroke-width="1.3" fill-opacity="0.5">
<circle cx="403.33" cy="1175.56" r="3.2"/>
<circle cx="403.33" cy="1276" r="3.2"/>
<circle cx="393.33" cy="1293.55" r="3.2"/>
<circle cx="399.92" cy="1299.16" r="3.2"/>
<circle cx="406.74" cy="1298.43" r="3.2"/>
<circle cx="393.33" cy="1305.25" r="3.2"/>
<circle cx="413.33" cy="1305.25" r="3.2"/>
<circle cx="403.33" cy="1310.13" r="3.2"/>
<circle cx="393.33" cy="1311.35" r="3.2"/>
<circle cx="399.92" cy="1310.86" r="3.2"/>
<circle cx="406.74" cy="1313.78" r="3.2"/>
<circle cx="406.74" cy="1320.37" r="3.2"/>
<circle cx="399.92" cy="1326.46" r="3.2"/>
<circle cx="399.92" cy="1336.94" r="3.2"/>
<circle cx="406.74" cy="1336.21" r="3.2"/>
<circle cx="403.33" cy="1354.74" r="3.2"/>
<circle cx="403.33" cy="1361.57" r="3.2"/>
</g>
<text x="268.52" y="1286.24" text-anchor="middle" transform="rotate(-90 268.52 1286.24)">Total distance (m)</text>
<line x1="574.22" y1="1324.27" x2="574.22" y2="1341.33" stroke="#1a1a1a" stroke-width="1.6"/>
<line x1="570.62" y1="1324.27" x2="577.82" y2="1324.27" stroke="#1a1a1a" stroke-width="1.6"/>
<line x1="607.99" y1="1361.32" x2="607.99" y2="1370.59" stroke="#1a1a1a" stroke-width="1.6"/>
<line x1="604.39" y1="1361.32" x2="611.59" y2="1361.32" stroke="#1a1a1a" stroke-width="1.6"/>
<rect x="561.75" y="1341.33" width="24.95" height="88.01" fill="#fff" stroke="#1a1a1a" stroke-width="1.5"/>
<rect x="595.63" y="1370.59" width="24.71" height="58.75" fill="#E2A943" stroke="#1a1a1a" stroke-width="1.5"/>
<line x1="547.65" y1="1430.34" x2="547.65" y2="1140.92" stroke="#1a1a1a" stroke-width="2"/>
<line x1="539.45" y1="1429.34" x2="547.65" y2="1429.34" stroke="#1a1a1a" stroke-width="2"/>
<text x="536.25" y="1436.57" text-anchor="end" font-size="21.4">0</text>
<line x1="539.45" y1="1333.53" x2="547.65" y2="1333.53" stroke="#1a1a1a" stroke-width="2"/>
<text x="536.25" y="1340.76" text-anchor="end" font-size="21.4">20</text>
<line x1="539.45" y1="1237.72" x2="547.65" y2="1237.72" stroke="#1a1a1a" stroke-width="2"/>
<text x="536.25" y="1244.96" text-anchor="end" font-size="21.4">40</text>
<line x1="539.45" y1="1141.92" x2="547.65" y2="1141.92" stroke="#1a1a1a" stroke-width="2"/>
<text x="536.25" y="1149.15" text-anchor="end" font-size="21.4">60</text>
<line x1="539.45" y1="1429.34" x2="634.68" y2="1429.34" stroke="#1a1a1a" stroke-width="2"/>
<g fill="#fff" stroke="#4d4d4d" stroke-width="1.3" fill-opacity="0.6">
<circle cx="573.98" cy="1174.1" r="3.2"/>
<circle cx="573.98" cy="1248.69" r="3.2"/>
<circle cx="573.98" cy="1305.74" r="3.2"/>
<circle cx="573.98" cy="1332.55" r="3.2"/>
<circle cx="573.98" cy="1340.6" r="3.2"/>
<circle cx="573.98" cy="1351.08" r="3.2"/>
<circle cx="563.98" cy="1362.54" r="3.2"/>
<circle cx="583.97" cy="1360.1" r="3.2"/>
<circle cx="583.97" cy="1367.42" r="3.2"/>
<circle cx="573.98" cy="1379.61" r="3.2"/>
<circle cx="583.97" cy="1381.56" r="3.2"/>
<circle cx="573.98" cy="1386.92" r="3.2"/>
<circle cx="563.98" cy="1391.31" r="3.2"/>
<circle cx="583.97" cy="1390.58" r="3.2"/>
</g>
<g fill="#E1BB37" stroke="#5c4a1c" stroke-width="1.3" fill-opacity="0.5">
<circle cx="607.62" cy="1265.27" r="3.2"/>
<circle cx="607.62" cy="1313.05" r="3.2"/>
<circle cx="607.62" cy="1322.32" r="3.2"/>
<circle cx="607.62" cy="1350.84" r="3.2"/>
<circle cx="604.21" cy="1373.51" r="3.2"/>
<circle cx="611.03" cy="1373.51" r="3.2"/>
<circle cx="607.62" cy="1380.82" r="3.2"/>
<circle cx="600.55" cy="1383.26" r="3.2"/>
<circle cx="617.62" cy="1383.26" r="3.2"/>
<circle cx="597.14" cy="1384.48" r="3.2"/>
<circle cx="604.21" cy="1388.14" r="3.2"/>
<circle cx="613.23" cy="1388.14" r="3.2"/>
<circle cx="598.11" cy="1392.28" r="3.2"/>
<circle cx="607.62" cy="1393.01" r="3.2"/>
<circle cx="604.21" cy="1397.89" r="3.2"/>
<circle cx="613.23" cy="1396.67" r="3.2"/>
<circle cx="607.62" cy="1406.42" r="3.2"/>
</g>
<text x="488.41" y="1282.58" text-anchor="middle" transform="rotate(-90 488.41 1282.58)">Center time (%)</text>
<text x="720.5" y="1072.2" font-weight="bold" font-size="34">h</text>
<text x="894.4" y="1194.5" text-anchor="middle">Elevated</text>
<text x="894.4" y="1224.3" text-anchor="middle">plus-maze</text>
<text x="748.8" y="1295.7">CNO</text>
<g transform="translate(819.5 1261) scale(1)" fill="#c2c2c2">
<path d="M-5.6 0 H5.6 Q6.4 0 6.3 0.9 L5.9 2.6 H-5.9 L-6.3 0.9 Q-6.4 0 -5.6 0 Z"/>
<rect x="-4.9" y="2.4" width="9.8" height="6.2"/>
<path d="M-9 8.2 H9 Q10 8.2 10 9.4 V10.8 H9 V10.6 H-9 V10.8 H-10 V9.4 Q-10 8.2 -9 8.2 Z"/>
<path d="M-6.45 10.4 H6.45 V33.5 Q6.45 37.5 2.4 40.3 L1.9 46 H-1.9 L-2.4 40.3 Q-6.45 37.5 -6.45 33.5 Z"/>
<path d="M-1.9 45.5 H1.9 L0.9 58 Q0 59.4 -0.9 58 Z"/>
<rect x="-4.1" y="12.6" width="8.2" height="2.2" fill="#fff"/>
<rect x="-4.1" y="20.4" width="8.2" height="2.2" fill="#fff"/>
<rect x="-4.1" y="28.2" width="8.2" height="2.2" fill="#fff"/>
</g>
<defs><linearGradient id="gB" x1="0" y1="0" x2="0" y2="1"><stop offset="0" stop-color="#8ea8dc"/><stop offset="0.42" stop-color="#eef2fb"/><stop offset="0.58" stop-color="#eef2fb"/><stop offset="1" stop-color="#8ea8dc"/></linearGradient></defs>
<rect x="882.2" y="1244.2" width="17.3" height="86.6" fill="url(#gB)" stroke="#000" stroke-width="2"/>
<rect x="846.9" y="1279.9" width="88.3" height="16.9" fill="#fff" stroke="#000" stroke-width="2"/>
<rect x="882.2" y="1279.9" width="17.3" height="16.9" fill="#f3f5fc" stroke="#000" stroke-width="1.6"/>
<rect x="1067.9" y="1092.1" width="14.2" height="14.2" fill="#fff" stroke="#111" stroke-width="1.5"/>
<text x="1097.7" y="1107.2">Control</text>
<rect x="1208.5" y="1092.1" width="14.2" height="14.2" fill="#E2A943" stroke="#111" stroke-width="1.5"/>
<text x="1238.6" y="1107.2">hM3Dq</text>
<line x1="1079.21" y1="1216.27" x2="1079.21" y2="1227.73" stroke="#1a1a1a" stroke-width="1.6"/>
<line x1="1075.61" y1="1216.27" x2="1082.81" y2="1216.27" stroke="#1a1a1a" stroke-width="1.6"/>
<line x1="1113.1" y1="1236.99" x2="1113.1" y2="1248.69" stroke="#1a1a1a" stroke-width="1.6"/>
<line x1="1109.5" y1="1236.99" x2="1116.7" y2="1236.99" stroke="#1a1a1a" stroke-width="1.6"/>
<rect x="1066.73" y="1227.73" width="24.95" height="201.61" fill="#fff" stroke="#1a1a1a" stroke-width="1.5"/>
<rect x="1100.62" y="1248.69" width="24.95" height="180.64" fill="#E2A943" stroke="#1a1a1a" stroke-width="1.5"/>
<line x1="1053.37" y1="1430.34" x2="1053.37" y2="1140.92" stroke="#1a1a1a" stroke-width="2"/>
<line x1="1045.37" y1="1429.34" x2="1053.37" y2="1429.34" stroke="#1a1a1a" stroke-width="2"/>
<text x="1042.17" y="1436.57" text-anchor="end" font-size="21.4">0</text>
<line x1="1045.37" y1="1357.48" x2="1053.37" y2="1357.48" stroke="#1a1a1a" stroke-width="2"/>
<text x="1042.17" y="1364.71" text-anchor="end" font-size="21.4">4</text>
<line x1="1045.37" y1="1285.63" x2="1053.37" y2="1285.63" stroke="#1a1a1a" stroke-width="2"/>
<text x="1042.17" y="1292.86" text-anchor="end" font-size="21.4">8</text>
<line x1="1045.37" y1="1213.77" x2="1053.37" y2="1213.77" stroke="#1a1a1a" stroke-width="2"/>
<text x="1042.17" y="1221" text-anchor="end" font-size="21.4">12</text>
<line x1="1045.37" y1="1141.92" x2="1053.37" y2="1141.92" stroke="#1a1a1a" stroke-width="2"/>
<text x="1042.17" y="1149.15" text-anchor="end" font-size="21.4">16</text>
<line x1="1045.37" y1="1429.34" x2="1139.67" y2="1429.34" stroke="#1a1a1a" stroke-width="2"/>
<g fill="#fff" stroke="#4d4d4d" stroke-width="1.3" fill-opacity="0.6">
<circle cx="1078.97" cy="1159.71" r="3.2"/>
<circle cx="1078.97" cy="1176.05" r="3.2"/>
<circle cx="1073.85" cy="1195.06" r="3.2"/>
<circle cx="1078.97" cy="1199.94" r="3.2"/>
<circle cx="1073.85" cy="1207.74" r="3.2"/>
<circle cx="1078.97" cy="1212.61" r="3.2"/>
<circle cx="1068.48" cy="1238.7" r="3.2"/>
<circle cx="1073.85" cy="1239.92" r="3.2"/>
<circle cx="1078.97" cy="1241.87" r="3.2"/>
<circle cx="1084.33" cy="1241.87" r="3.2"/>
<circle cx="1088.47" cy="1237.72" r="3.2"/>
<circle cx="1078.97" cy="1249.67" r="3.2"/>
<circle cx="1078.97" cy="1276" r="3.2"/>
<circle cx="1078.97" cy="1303.54" r="3.2"/>
</g>
<g fill="#E1BB37" stroke="#5c4a1c" stroke-width="1.3" fill-opacity="0.5">
<circle cx="1112.85" cy="1178.97" r="3.2"/>
<circle cx="1112.85" cy="1192.62" r="3.2"/>
<circle cx="1112.85" cy="1200.67" r="3.2"/>
<circle cx="1112.85" cy="1207.74" r="3.2"/>
<circle cx="1112.85" cy="1220.41" r="3.2"/>
<circle cx="1102.61" cy="1230.9" r="3.2"/>
<circle cx="1123.33" cy="1235.29" r="3.2"/>
<circle cx="1102.61" cy="1239.43" r="3.2"/>
<circle cx="1112.85" cy="1244.79" r="3.2"/>
<circle cx="1123.33" cy="1244.31" r="3.2"/>
<circle cx="1102.61" cy="1249.18" r="3.2"/>
<circle cx="1123.33" cy="1256.49" r="3.2"/>
<circle cx="1112.85" cy="1261.37" r="3.2"/>
<circle cx="1112.85" cy="1279.17" r="3.2"/>
<circle cx="1112.85" cy="1292.57" r="3.2"/>
<circle cx="1112.85" cy="1305.98" r="3.2"/>
<circle cx="1112.85" cy="1377.65" r="3.2"/>
</g>
<text x="1000.22" y="1286.24" text-anchor="middle" transform="rotate(-90 1000.22 1286.24)">Total distance (m)</text>
<line x1="1287.89" y1="1284.04" x2="1287.89" y2="1296.47" stroke="#1a1a1a" stroke-width="1.6"/>
<line x1="1284.29" y1="1284.04" x2="1291.49" y2="1284.04" stroke="#1a1a1a" stroke-width="1.6"/>
<line x1="1316.78" y1="1299.89" x2="1316.78" y2="1316.71" stroke="#1a1a1a" stroke-width="1.6"/>
<line x1="1313.18" y1="1299.89" x2="1320.38" y2="1299.89" stroke="#1a1a1a" stroke-width="1.6"/>
<rect x="1274.19" y="1296.47" width="27.39" height="132.13" fill="#fff" stroke="#1a1a1a" stroke-width="1.5"/>
<rect x="1303.45" y="1316.71" width="26.66" height="111.9" fill="#E2A943" stroke="#1a1a1a" stroke-width="1.5"/>
<line x1="1259.37" y1="1429.61" x2="1259.37" y2="1139.94" stroke="#1a1a1a" stroke-width="2"/>
<line x1="1251.37" y1="1428.61" x2="1259.37" y2="1428.61" stroke="#1a1a1a" stroke-width="2"/>
<text x="1248.17" y="1435.84" text-anchor="end" font-size="21.4">0</text>
<line x1="1251.37" y1="1332.72" x2="1259.37" y2="1332.72" stroke="#1a1a1a" stroke-width="2"/>
<text x="1248.17" y="1339.95" text-anchor="end" font-size="21.4">16</text>
<line x1="1251.37" y1="1236.83" x2="1259.37" y2="1236.83" stroke="#1a1a1a" stroke-width="2"/>
<text x="1248.17" y="1244.06" text-anchor="end" font-size="21.4">32</text>
<line x1="1251.37" y1="1140.94" x2="1259.37" y2="1140.94" stroke="#1a1a1a" stroke-width="2"/>
<text x="1248.17" y="1148.17" text-anchor="end" font-size="21.4">48</text>
<line x1="1251.37" y1="1428.61" x2="1345.67" y2="1428.61" stroke="#1a1a1a" stroke-width="2"/>
<g fill="#fff" stroke="#4d4d4d" stroke-width="1.3" fill-opacity="0.6">
<circle cx="1287.89" cy="1204.81" r="3.2"/>
<circle cx="1287.89" cy="1227.73" r="3.2"/>
<circle cx="1287.89" cy="1242.11" r="3.2"/>
<circle cx="1287.89" cy="1257.71" r="3.2"/>
<circle cx="1287.89" cy="1277.22" r="3.2"/>
<circle cx="1282.04" cy="1295.01" r="3.2"/>
<circle cx="1293.5" cy="1294.28" r="3.2"/>
<circle cx="1276.19" cy="1313.05" r="3.2"/>
<circle cx="1298.86" cy="1312.08" r="3.2"/>
<circle cx="1287.89" cy="1317.44" r="3.2"/>
<circle cx="1276.19" cy="1339.38" r="3.2"/>
<circle cx="1298.86" cy="1344.5" r="3.2"/>
<circle cx="1287.89" cy="1349.38" r="3.2"/>
<circle cx="1287.89" cy="1367.42" r="3.2"/>
</g>
<g fill="#E1BB37" stroke="#5c4a1c" stroke-width="1.3" fill-opacity="0.5">
<circle cx="1316.41" cy="1153.62" r="3.2"/>
<circle cx="1316.41" cy="1188.72" r="3.2"/>
<circle cx="1316.41" cy="1257.71" r="3.2"/>
<circle cx="1316.41" cy="1265.76" r="3.2"/>
<circle cx="1316.41" cy="1291.84" r="3.2"/>
<circle cx="1316.41" cy="1302.81" r="3.2"/>
<circle cx="1316.41" cy="1320.37" r="3.2"/>
<circle cx="1316.41" cy="1329.63" r="3.2"/>
<circle cx="1310.32" cy="1337.67" r="3.2"/>
<circle cx="1322.02" cy="1340.6" r="3.2"/>
<circle cx="1304.95" cy="1354.5" r="3.2"/>
<circle cx="1316.41" cy="1351.08" r="3.2"/>
<circle cx="1327.63" cy="1349.86" r="3.2"/>
<circle cx="1316.41" cy="1358.88" r="3.2"/>
<circle cx="1310.32" cy="1371.56" r="3.2"/>
<circle cx="1322.02" cy="1374.73" r="3.2"/>
<circle cx="1316.41" cy="1428.36" r="3.2"/>
</g>
<text x="1206.71" y="1284.53" text-anchor="middle" transform="rotate(-90 1206.71 1284.53)">Open arm time (%)</text>
<text x="1426.4" y="1065.5" font-weight="bold" font-size="34">i</text>
<text x="1590.3" y="1187.4" text-anchor="middle">Light-dark</text>
<text x="1591" y="1217.2" text-anchor="middle">exploration test</text>
<text x="1454.6" y="1288.6">CNO</text>
<g transform="translate(1526.1 1261) scale(1)" fill="#c2c2c2">
<path d="M-5.6 0 H5.6 Q6.4 0 6.3 0.9 L5.9 2.6 H-5.9 L-6.3 0.9 Q-6.4 0 -5.6 0 Z"/>
<rect x="-4.9" y="2.4" width="9.8" height="6.2"/>
<path d="M-9 8.2 H9 Q10 8.2 10 9.4 V10.8 H9 V10.6 H-9 V10.8 H-10 V9.4 Q-10 8.2 -9 8.2 Z"/>
<path d="M-6.45 10.4 H6.45 V33.5 Q6.45 37.5 2.4 40.3 L1.9 46 H-1.9 L-2.4 40.3 Q-6.45 37.5 -6.45 33.5 Z"/>
<path d="M-1.9 45.5 H1.9 L0.9 58 Q0 59.4 -0.9 58 Z"/>
<rect x="-4.1" y="12.6" width="8.2" height="2.2" fill="#fff"/>
<rect x="-4.1" y="20.4" width="8.2" height="2.2" fill="#fff"/>
<rect x="-4.1" y="28.2" width="8.2" height="2.2" fill="#fff"/>
</g>
<rect x="1613" y="1244.2" width="28.8" height="57.7" fill="#808080" stroke="#000" stroke-width="2"/>
<rect x="1554.7" y="1244.2" width="58.3" height="57.7" fill="#fff" stroke="#000" stroke-width="2"/>
<rect x="1790.8" y="1084.7" width="14.2" height="14.2" fill="#fff" stroke="#111" stroke-width="1.5"/>
<text x="1820.7" y="1100.6">Control</text>
<rect x="1931.2" y="1084.7" width="14.2" height="14.2" fill="#E2A943" stroke="#111" stroke-width="1.5"/>
<text x="1961.6" y="1100.6">hM3Dq</text>
<line x1="1808.39" y1="1228.95" x2="1808.39" y2="1240.65" stroke="#1a1a1a" stroke-width="1.6"/>
<line x1="1804.79" y1="1228.95" x2="1811.99" y2="1228.95" stroke="#1a1a1a" stroke-width="1.6"/>
<line x1="1842.27" y1="1223.58" x2="1842.27" y2="1235.04" stroke="#1a1a1a" stroke-width="1.6"/>
<line x1="1838.67" y1="1223.58" x2="1845.87" y2="1223.58" stroke="#1a1a1a" stroke-width="1.6"/>
<rect x="1796.03" y="1240.65" width="24.71" height="184.06" fill="#fff" stroke="#1a1a1a" stroke-width="1.5"/>
<rect x="1829.92" y="1235.04" width="24.71" height="189.66" fill="#E2A943" stroke="#1a1a1a" stroke-width="1.5"/>
<line x1="1782.42" y1="1425.71" x2="1782.42" y2="1136.04" stroke="#1a1a1a" stroke-width="2"/>
<line x1="1774.22" y1="1424.71" x2="1782.42" y2="1424.71" stroke="#1a1a1a" stroke-width="2"/>
<text x="1771.02" y="1431.94" text-anchor="end" font-size="21.4">0</text>
<line x1="1774.22" y1="1328.82" x2="1782.42" y2="1328.82" stroke="#1a1a1a" stroke-width="2"/>
<text x="1771.02" y="1336.05" text-anchor="end" font-size="21.4">16</text>
<line x1="1774.22" y1="1232.93" x2="1782.42" y2="1232.93" stroke="#1a1a1a" stroke-width="2"/>
<text x="1771.02" y="1240.16" text-anchor="end" font-size="21.4">32</text>
<line x1="1774.22" y1="1137.04" x2="1782.42" y2="1137.04" stroke="#1a1a1a" stroke-width="2"/>
<text x="1771.02" y="1144.27" text-anchor="end" font-size="21.4">48</text>
<line x1="1774.22" y1="1424.71" x2="1868.97" y2="1424.71" stroke="#1a1a1a" stroke-width="2"/>
<g fill="#fff" stroke="#4d4d4d" stroke-width="1.3" fill-opacity="0.6">
<circle cx="1798.27" cy="1190.67" r="3.2"/>
<circle cx="1798.27" cy="1196.77" r="3.2"/>
<circle cx="1808.27" cy="1194.33" r="3.2"/>
<circle cx="1818.26" cy="1198.23" r="3.2"/>
<circle cx="1808.27" cy="1218.71" r="3.2"/>
<circle cx="1803.15" cy="1233.82" r="3.2"/>
<circle cx="1813.38" cy="1231.63" r="3.2"/>
<circle cx="1798.27" cy="1246.01" r="3.2"/>
<circle cx="1808.27" cy="1249.91" r="3.2"/>
<circle cx="1803.15" cy="1258.2" r="3.2"/>
<circle cx="1813.38" cy="1258.2" r="3.2"/>
<circle cx="1808.27" cy="1276.48" r="3.2"/>
<circle cx="1803.15" cy="1288.92" r="3.2"/>
<circle cx="1813.38" cy="1286.48" r="3.2"/>
<circle cx="1803.15" cy="1306.47" r="3.2"/>
<circle cx="1812.9" cy="1303.3" r="3.2"/>
</g>
<g fill="#E1BB37" stroke="#5c4a1c" stroke-width="1.3" fill-opacity="0.5">
<circle cx="1836.06" cy="1158.25" r="3.2"/>
<circle cx="1847.76" cy="1160.93" r="3.2"/>
<circle cx="1841.91" cy="1189.94" r="3.2"/>
<circle cx="1841.91" cy="1196.04" r="3.2"/>
<circle cx="1836.06" cy="1208.23" r="3.2"/>
<circle cx="1847.76" cy="1208.23" r="3.2"/>
<circle cx="1841.91" cy="1219.2" r="3.2"/>
<circle cx="1836.06" cy="1230.17" r="3.2"/>
<circle cx="1847.76" cy="1228.46" r="3.2"/>
<circle cx="1836.06" cy="1239.92" r="3.2"/>
<circle cx="1847.76" cy="1242.11" r="3.2"/>
<circle cx="1836.06" cy="1247.47" r="3.2"/>
<circle cx="1847.76" cy="1249.18" r="3.2"/>
<circle cx="1836.06" cy="1265.76" r="3.2"/>
<circle cx="1847.76" cy="1271.12" r="3.2"/>
<circle cx="1841.91" cy="1277.95" r="3.2"/>
<circle cx="1841.91" cy="1305.98" r="3.2"/>
<circle cx="1841.91" cy="1314.27" r="3.2"/>
</g>
<text x="1730.5" y="1282.34" text-anchor="middle" transform="rotate(-90 1730.5 1282.34)">Total distance (m)</text>
<line x1="2018.65" y1="1244.79" x2="2018.65" y2="1254.06" stroke="#1a1a1a" stroke-width="1.6"/>
<line x1="2015.05" y1="1244.79" x2="2022.25" y2="1244.79" stroke="#1a1a1a" stroke-width="1.6"/>
<line x1="2052.17" y1="1245.52" x2="2052.17" y2="1252.35" stroke="#1a1a1a" stroke-width="1.6"/>
<line x1="2048.57" y1="1245.52" x2="2055.77" y2="1245.52" stroke="#1a1a1a" stroke-width="1.6"/>
<rect x="2006.17" y="1254.06" width="24.95" height="168.7" fill="#fff" stroke="#1a1a1a" stroke-width="1.5"/>
<rect x="2039.82" y="1252.35" width="24.71" height="170.4" fill="#E2A943" stroke="#1a1a1a" stroke-width="1.5"/>
<line x1="1992.32" y1="1423.75" x2="1992.32" y2="1134.33" stroke="#1a1a1a" stroke-width="2"/>
<line x1="1984.22" y1="1422.75" x2="1992.32" y2="1422.75" stroke="#1a1a1a" stroke-width="2"/>
<text x="1981.02" y="1429.99" text-anchor="end" font-size="21.4">0</text>
<line x1="1984.22" y1="1350.9" x2="1992.32" y2="1350.9" stroke="#1a1a1a" stroke-width="2"/>
<text x="1981.02" y="1358.13" text-anchor="end" font-size="21.4">25</text>
<line x1="1984.22" y1="1279.04" x2="1992.32" y2="1279.04" stroke="#1a1a1a" stroke-width="2"/>
<text x="1981.02" y="1286.28" text-anchor="end" font-size="21.4">50</text>
<line x1="1984.22" y1="1207.19" x2="1992.32" y2="1207.19" stroke="#1a1a1a" stroke-width="2"/>
<text x="1981.02" y="1214.42" text-anchor="end" font-size="21.4">75</text>
<line x1="1984.22" y1="1135.33" x2="1992.32" y2="1135.33" stroke="#1a1a1a" stroke-width="2"/>
<text x="1981.02" y="1142.57" text-anchor="end" font-size="21.4">100</text>
<line x1="1984.22" y1="1422.75" x2="2082.03" y2="1422.75" stroke="#1a1a1a" stroke-width="2"/>
<g fill="#fff" stroke="#4d4d4d" stroke-width="1.3" fill-opacity="0.6">
<circle cx="2018.41" cy="1166.29" r="3.2"/>
<circle cx="2028.65" cy="1217.98" r="3.2"/>
<circle cx="2018.41" cy="1222.36" r="3.2"/>
<circle cx="2008.41" cy="1226.51" r="3.2"/>
<circle cx="2028.65" cy="1225.53" r="3.2"/>
<circle cx="2018.41" cy="1230.41" r="3.2"/>
<circle cx="2008.41" cy="1255.28" r="3.2"/>
<circle cx="2018.41" cy="1254.06" r="3.2"/>
<circle cx="2018.41" cy="1260.15" r="3.2"/>
<circle cx="2018.41" cy="1266.25" r="3.2"/>
<circle cx="2008.41" cy="1269.9" r="3.2"/>
<circle cx="2008.41" cy="1277.22" r="3.2"/>
<circle cx="2018.41" cy="1274.78" r="3.2"/>
<circle cx="2028.65" cy="1273.07" r="3.2"/>
<circle cx="2028.65" cy="1279.65" r="3.2"/>
<circle cx="2018.41" cy="1294.77" r="3.2"/>
<circle cx="2018.41" cy="1309.64" r="3.2"/>
</g>
<g fill="#E1BB37" stroke="#5c4a1c" stroke-width="1.3" fill-opacity="0.5">
<circle cx="2048.88" cy="1212.13" r="3.2"/>
<circle cx="2055.46" cy="1217" r="3.2"/>
<circle cx="2048.88" cy="1219.93" r="3.2"/>
<circle cx="2055.46" cy="1227.24" r="3.2"/>
<circle cx="2042.05" cy="1230.9" r="3.2"/>
<circle cx="2062.29" cy="1229.68" r="3.2"/>
<circle cx="2048.88" cy="1234.55" r="3.2"/>
<circle cx="2055.46" cy="1232.85" r="3.2"/>
<circle cx="2052.05" cy="1243.09" r="3.2"/>
<circle cx="2052.05" cy="1249.91" r="3.2"/>
<circle cx="2055.46" cy="1257.23" r="3.2"/>
<circle cx="2048.88" cy="1261.37" r="3.2"/>
<circle cx="2052.05" cy="1268.68" r="3.2"/>
<circle cx="2048.88" cy="1274.29" r="3.2"/>
<circle cx="2055.46" cy="1279.17" r="3.2"/>
<circle cx="2048.88" cy="1284.53" r="3.2"/>
<circle cx="2048.88" cy="1305.98" r="3.2"/>
<circle cx="2055.46" cy="1305.98" r="3.2"/>
</g>
<text x="1930.4" y="1278.92" text-anchor="middle" transform="rotate(-90 1930.4 1278.92)">Dark compartement time (%)</text>
<text x="4" y="2086" font-weight="bold" font-size="34">l</text>
<text x="152.8" y="2186.4" text-anchor="middle">Novel open</text>
<text x="152.8" y="2215.8" text-anchor="middle">field</text>
<text x="29.8" y="2277.3">Veh</text>
<g transform="translate(94.9 2244.7) scale(1)" fill="#c2c2c2">
<path d="M-5.6 0 H5.6 Q6.4 0 6.3 0.9 L5.9 2.6 H-5.9 L-6.3 0.9 Q-6.4 0 -5.6 0 Z"/>
<rect x="-4.9" y="2.4" width="9.8" height="6.2"/>
<path d="M-9 8.2 H9 Q10 8.2 10 9.4 V10.8 H9 V10.6 H-9 V10.8 H-10 V9.4 Q-10 8.2 -9 8.2 Z"/>
<path d="M-6.45 10.4 H6.45 V33.5 Q6.45 37.5 2.4 40.3 L1.9 46 H-1.9 L-2.4 40.3 Q-6.45 37.5 -6.45 33.5 Z"/>
<path d="M-1.9 45.5 H1.9 L0.9 58 Q0 59.4 -0.9 58 Z"/>
<rect x="-4.1" y="12.6" width="8.2" height="2.2" fill="#fff"/>
<rect x="-4.1" y="20.4" width="8.2" height="2.2" fill="#fff"/>
<rect x="-4.1" y="28.2" width="8.2" height="2.2" fill="#fff"/>
</g>
<defs><radialGradient id="gC" cx="50%" cy="50%" r="72%"><stop offset="0" stop-color="#fbfcfe"/><stop offset="0.42" stop-color="#f3f6fb"/><stop offset="0.78" stop-color="#b4c6e8"/><stop offset="1" stop-color="#98b0df"/></radialGradient></defs>
<rect x="122.5" y="2243.3" width="58.8" height="58.8" fill="url(#gC)" stroke="#000" stroke-width="2"/>
<rect x="345.2" y="2079.2" width="14.2" height="14.2" fill="#fff" stroke="#111" stroke-width="1.5"/>
<text x="375.5" y="2094.7">Control</text>
<rect x="485.8" y="2079.6" width="14.2" height="14.2" fill="#E2A943" stroke="#111" stroke-width="1.5"/>
<text x="516.4" y="2096.9">hM3Dq</text>
<line x1="357.01" y1="2247.49" x2="357.01" y2="2256.76" stroke="#1a1a1a" stroke-width="1.6"/>
<line x1="353.41" y1="2247.49" x2="360.61" y2="2247.49" stroke="#1a1a1a" stroke-width="1.6"/>
<line x1="391.14" y1="2212.15" x2="391.14" y2="2227.75" stroke="#1a1a1a" stroke-width="1.6"/>
<line x1="387.54" y1="2212.15" x2="394.74" y2="2212.15" stroke="#1a1a1a" stroke-width="1.6"/>
<rect x="344.78" y="2256.76" width="24.47" height="174.06" fill="#fff" stroke="#1a1a1a" stroke-width="1.5"/>
<rect x="378.91" y="2227.75" width="24.47" height="203.07" fill="#E2A943" stroke="#1a1a1a" stroke-width="1.5"/>
<line x1="331.17" y1="2431.82" x2="331.17" y2="2142.16" stroke="#1a1a1a" stroke-width="2"/>
<line x1="326.57" y1="2430.82" x2="331.17" y2="2430.82" stroke="#1a1a1a" stroke-width="2"/>
<text x="323.37" y="2438.97" text-anchor="end">0</text>
<line x1="326.57" y1="2334.93" x2="331.17" y2="2334.93" stroke="#1a1a1a" stroke-width="2"/>
<text x="323.37" y="2343.08" text-anchor="end">20</text>
<line x1="326.57" y1="2239.04" x2="331.17" y2="2239.04" stroke="#1a1a1a" stroke-width="2"/>
<text x="323.37" y="2247.19" text-anchor="end">40</text>
<line x1="326.57" y1="2143.16" x2="331.17" y2="2143.16" stroke="#1a1a1a" stroke-width="2"/>
<text x="323.37" y="2151.3" text-anchor="end">60</text>
<line x1="326.57" y1="2430.82" x2="417.71" y2="2430.82" stroke="#1a1a1a" stroke-width="2"/>
<g fill="#fff" stroke="#4d4d4d" stroke-width="1.3" fill-opacity="0.6">
<circle cx="357.01" cy="2213.36" r="3.2"/>
<circle cx="357.01" cy="2223.85" r="3.2"/>
<circle cx="357.01" cy="2232.87" r="3.2"/>
<circle cx="357.01" cy="2239.69" r="3.2"/>
<circle cx="351.16" cy="2250.66" r="3.2"/>
<circle cx="362.86" cy="2254.32" r="3.2"/>
<circle cx="351.16" cy="2257.25" r="3.2"/>
<circle cx="357.01" cy="2274.31" r="3.2"/>
<circle cx="357.01" cy="2280.41" r="3.2"/>
<circle cx="357.01" cy="2287.23" r="3.2"/>
<circle cx="357.01" cy="2303.08" r="3.2"/>
</g>
<g fill="#E1BB37" stroke="#5c4a1c" stroke-width="1.3" fill-opacity="0.5">
<circle cx="390.9" cy="2149.98" r="3.2"/>
<circle cx="390.9" cy="2171.43" r="3.2"/>
<circle cx="390.9" cy="2184.6" r="3.2"/>
<circle cx="390.9" cy="2198.25" r="3.2"/>
<circle cx="390.9" cy="2204.83" r="3.2"/>
<circle cx="390.9" cy="2217.75" r="3.2"/>
<circle cx="385.05" cy="2258.46" r="3.2"/>
<circle cx="396.75" cy="2261.63" r="3.2"/>
<circle cx="390.9" cy="2275.04" r="3.2"/>
<circle cx="390.9" cy="2281.62" r="3.2"/>
<circle cx="390.9" cy="2296.74" r="3.2"/>
</g>
<text x="268.52" y="2285.77" text-anchor="middle" transform="rotate(-90 268.52 2285.77)">Total distance (m)</text>
<line x1="563.01" y1="2320.14" x2="563.01" y2="2342.57" stroke="#1a1a1a" stroke-width="1.6"/>
<line x1="559.41" y1="2320.14" x2="566.61" y2="2320.14" stroke="#1a1a1a" stroke-width="1.6"/>
<line x1="597.14" y1="2350.61" x2="597.14" y2="2361.59" stroke="#1a1a1a" stroke-width="1.6"/>
<line x1="593.54" y1="2350.61" x2="600.74" y2="2350.61" stroke="#1a1a1a" stroke-width="1.6"/>
<rect x="550.78" y="2342.57" width="24.47" height="88.25" fill="#fff" stroke="#1a1a1a" stroke-width="1.5"/>
<rect x="584.91" y="2361.59" width="24.47" height="69.23" fill="#E2A943" stroke="#1a1a1a" stroke-width="1.5"/>
<line x1="537.17" y1="2431.82" x2="537.17" y2="2142.89" stroke="#1a1a1a" stroke-width="2"/>
<line x1="532.37" y1="2430.82" x2="537.17" y2="2430.82" stroke="#1a1a1a" stroke-width="2"/>
<text x="529.17" y="2438.97" text-anchor="end">0</text>
<line x1="532.37" y1="2359.09" x2="537.17" y2="2359.09" stroke="#1a1a1a" stroke-width="2"/>
<text x="529.17" y="2367.23" text-anchor="end">10</text>
<line x1="532.37" y1="2287.35" x2="537.17" y2="2287.35" stroke="#1a1a1a" stroke-width="2"/>
<text x="529.17" y="2295.5" text-anchor="end">20</text>
<line x1="532.37" y1="2215.62" x2="537.17" y2="2215.62" stroke="#1a1a1a" stroke-width="2"/>
<text x="529.17" y="2223.77" text-anchor="end">30</text>
<line x1="532.37" y1="2143.89" x2="537.17" y2="2143.89" stroke="#1a1a1a" stroke-width="2"/>
<text x="529.17" y="2152.03" text-anchor="end">40</text>
<line x1="532.37" y1="2430.82" x2="623.71" y2="2430.82" stroke="#1a1a1a" stroke-width="2"/>
<g fill="#fff" stroke="#4d4d4d" stroke-width="1.3" fill-opacity="0.6">
<circle cx="563.01" cy="2162.66" r="3.2"/>
<circle cx="563.01" cy="2281.38" r="3.2"/>
<circle cx="563.01" cy="2296.25" r="3.2"/>
<circle cx="563.01" cy="2340.13" r="3.2"/>
<circle cx="563.01" cy="2351.1" r="3.2"/>
<circle cx="563.01" cy="2370.61" r="3.2"/>
<circle cx="563.01" cy="2379.63" r="3.2"/>
<circle cx="563.01" cy="2386.45" r="3.2"/>
<circle cx="557.16" cy="2392.55" r="3.2"/>
<circle cx="568.86" cy="2394.98" r="3.2"/>
<circle cx="563.01" cy="2406.2" r="3.2"/>
</g>
<g fill="#E1BB37" stroke="#5c4a1c" stroke-width="1.3" fill-opacity="0.5">
<circle cx="586.9" cy="2304.3" r="3.2"/>
<circle cx="597.14" cy="2307.22" r="3.2"/>
<circle cx="597.14" cy="2338.91" r="3.2"/>
<circle cx="586.9" cy="2356.71" r="3.2"/>
<circle cx="597.14" cy="2360.85" r="3.2"/>
<circle cx="586.9" cy="2370.61" r="3.2"/>
<circle cx="597.14" cy="2373.04" r="3.2"/>
<circle cx="607.38" cy="2372.56" r="3.2"/>
<circle cx="597.14" cy="2380.84" r="3.2"/>
<circle cx="597.14" cy="2393.76" r="3.2"/>
<circle cx="597.14" cy="2410.34" r="3.2"/>
</g>
<text x="474.51" y="2285.77" text-anchor="middle" transform="rotate(-90 474.51 2285.77)">Center time (%)</text>
<text x="719" y="2078" font-weight="bold" font-size="34">m</text>
<text x="885" y="2178.5" text-anchor="middle">Elevated</text>
<text x="885" y="2208.2" text-anchor="middle">plus-maze</text>
<text x="752.4" y="2277.3">Veh</text>
<g transform="translate(819.5 2244.7) scale(1)" fill="#c2c2c2">
<path d="M-5.6 0 H5.6 Q6.4 0 6.3 0.9 L5.9 2.6 H-5.9 L-6.3 0.9 Q-6.4 0 -5.6 0 Z"/>
<rect x="-4.9" y="2.4" width="9.8" height="6.2"/>
<path d="M-9 8.2 H9 Q10 8.2 10 9.4 V10.8 H9 V10.6 H-9 V10.8 H-10 V9.4 Q-10 8.2 -9 8.2 Z"/>
<path d="M-6.45 10.4 H6.45 V33.5 Q6.45 37.5 2.4 40.3 L1.9 46 H-1.9 L-2.4 40.3 Q-6.45 37.5 -6.45 33.5 Z"/>
<path d="M-1.9 45.5 H1.9 L0.9 58 Q0 59.4 -0.9 58 Z"/>
<rect x="-4.1" y="12.6" width="8.2" height="2.2" fill="#fff"/>
<rect x="-4.1" y="20.4" width="8.2" height="2.2" fill="#fff"/>
<rect x="-4.1" y="28.2" width="8.2" height="2.2" fill="#fff"/>
</g>
<defs><linearGradient id="gD" x1="0" y1="0" x2="0" y2="1"><stop offset="0" stop-color="#8ea8dc"/><stop offset="0.42" stop-color="#eef2fb"/><stop offset="0.58" stop-color="#eef2fb"/><stop offset="1" stop-color="#8ea8dc"/></linearGradient></defs>
<rect x="877.5" y="2226.5" width="17.2" height="86.7" fill="url(#gD)" stroke="#000" stroke-width="2"/>
<rect x="842.2" y="2262.2" width="88.3" height="16.9" fill="#fff" stroke="#000" stroke-width="2"/>
<rect x="877.5" y="2262.2" width="17.2" height="16.9" fill="#f3f5fc" stroke="#000" stroke-width="1.6"/>
<rect x="1069.8" y="2096.5" width="14.2" height="14.2" fill="#fff" stroke="#111" stroke-width="1.5"/>
<text x="1099.4" y="2111.8">Control</text>
<rect x="1210.2" y="2096.5" width="14.2" height="14.2" fill="#E2A943" stroke="#111" stroke-width="1.5"/>
<text x="1240.8" y="2111.8">hM3Dq</text>
<line x1="1074.82" y1="2209.71" x2="1074.82" y2="2219.95" stroke="#1a1a1a" stroke-width="1.6"/>
<line x1="1071.22" y1="2209.71" x2="1078.42" y2="2209.71" stroke="#1a1a1a" stroke-width="1.6"/>
<line x1="1108.95" y1="2212.15" x2="1108.95" y2="2223.12" stroke="#1a1a1a" stroke-width="1.6"/>
<line x1="1105.35" y1="2212.15" x2="1112.55" y2="2212.15" stroke="#1a1a1a" stroke-width="1.6"/>
<rect x="1062.59" y="2219.95" width="24.47" height="218.19" fill="#fff" stroke="#1a1a1a" stroke-width="1.5"/>
<rect x="1096.72" y="2223.12" width="24.47" height="215.02" fill="#E2A943" stroke="#1a1a1a" stroke-width="1.5"/>
<line x1="1048.49" y1="2439.13" x2="1048.49" y2="2149.71" stroke="#1a1a1a" stroke-width="2"/>
<line x1="1043.79" y1="2438.13" x2="1048.49" y2="2438.13" stroke="#1a1a1a" stroke-width="2"/>
<text x="1040.59" y="2446.28" text-anchor="end">0</text>
<line x1="1043.79" y1="2366.28" x2="1048.49" y2="2366.28" stroke="#1a1a1a" stroke-width="2"/>
<text x="1040.59" y="2374.42" text-anchor="end">4</text>
<line x1="1043.79" y1="2294.42" x2="1048.49" y2="2294.42" stroke="#1a1a1a" stroke-width="2"/>
<text x="1040.59" y="2302.57" text-anchor="end">8</text>
<line x1="1043.79" y1="2222.57" x2="1048.49" y2="2222.57" stroke="#1a1a1a" stroke-width="2"/>
<text x="1040.59" y="2230.71" text-anchor="end">12</text>
<line x1="1043.79" y1="2150.71" x2="1048.49" y2="2150.71" stroke="#1a1a1a" stroke-width="2"/>
<text x="1040.59" y="2158.86" text-anchor="end">16</text>
<line x1="1043.79" y1="2438.13" x2="1136.01" y2="2438.13" stroke="#1a1a1a" stroke-width="2"/>
<g fill="#fff" stroke="#4d4d4d" stroke-width="1.3" fill-opacity="0.6">
<circle cx="1068.97" cy="2166.56" r="3.2"/>
<circle cx="1080.67" cy="2166.31" r="3.2"/>
<circle cx="1074.82" cy="2198.49" r="3.2"/>
<circle cx="1074.82" cy="2214.1" r="3.2"/>
<circle cx="1068.97" cy="2222.63" r="3.2"/>
<circle cx="1080.67" cy="2222.63" r="3.2"/>
<circle cx="1074.82" cy="2229.7" r="3.2"/>
<circle cx="1080.67" cy="2236.04" r="3.2"/>
<circle cx="1068.97" cy="2240.91" r="3.2"/>
<circle cx="1074.82" cy="2254.81" r="3.2"/>
<circle cx="1074.82" cy="2263.1" r="3.2"/>
</g>
<g fill="#E1BB37" stroke="#5c4a1c" stroke-width="1.3" fill-opacity="0.5">
<circle cx="1108.71" cy="2165.58" r="3.2"/>
<circle cx="1108.71" cy="2188.25" r="3.2"/>
<circle cx="1108.71" cy="2196.3" r="3.2"/>
<circle cx="1108.71" cy="2208.25" r="3.2"/>
<circle cx="1108.71" cy="2218.24" r="3.2"/>
<circle cx="1098.47" cy="2221.9" r="3.2"/>
<circle cx="1118.95" cy="2222.38" r="3.2"/>
<circle cx="1118.95" cy="2234.09" r="3.2"/>
<circle cx="1108.71" cy="2238.72" r="3.2"/>
<circle cx="1108.71" cy="2267.73" r="3.2"/>
<circle cx="1108.71" cy="2287.96" r="3.2"/>
</g>
<text x="994.86" y="2294.3" text-anchor="middle" transform="rotate(-90 994.86 2294.3)">Total distance (m)</text>
<line x1="1285.33" y1="2244.33" x2="1285.33" y2="2271.87" stroke="#1a1a1a" stroke-width="1.6"/>
<line x1="1281.73" y1="2244.33" x2="1288.93" y2="2244.33" stroke="#1a1a1a" stroke-width="1.6"/>
<line x1="1319.09" y1="2311.61" x2="1319.09" y2="2327.94" stroke="#1a1a1a" stroke-width="1.6"/>
<line x1="1315.49" y1="2311.61" x2="1322.69" y2="2311.61" stroke="#1a1a1a" stroke-width="1.6"/>
<rect x="1272.97" y="2271.87" width="24.71" height="166.26" fill="#fff" stroke="#1a1a1a" stroke-width="1.5"/>
<rect x="1306.86" y="2327.94" width="24.47" height="110.19" fill="#E2A943" stroke="#1a1a1a" stroke-width="1.5"/>
<line x1="1260.34" y1="2439.13" x2="1260.34" y2="2149.71" stroke="#1a1a1a" stroke-width="2"/>
<line x1="1248.54" y1="2438.13" x2="1260.34" y2="2438.13" stroke="#1a1a1a" stroke-width="2"/>
<text x="1245.34" y="2446.28" text-anchor="end">0</text>
<line x1="1248.54" y1="2366.28" x2="1260.34" y2="2366.28" stroke="#1a1a1a" stroke-width="2"/>
<text x="1245.34" y="2374.42" text-anchor="end">5</text>
<line x1="1248.54" y1="2294.42" x2="1260.34" y2="2294.42" stroke="#1a1a1a" stroke-width="2"/>
<text x="1245.34" y="2302.57" text-anchor="end">10</text>
<line x1="1248.54" y1="2222.57" x2="1260.34" y2="2222.57" stroke="#1a1a1a" stroke-width="2"/>
<text x="1245.34" y="2230.71" text-anchor="end">15</text>
<line x1="1248.54" y1="2150.71" x2="1260.34" y2="2150.71" stroke="#1a1a1a" stroke-width="2"/>
<text x="1245.34" y="2158.86" text-anchor="end">20</text>
<line x1="1248.54" y1="2438.13" x2="1345.91" y2="2438.13" stroke="#1a1a1a" stroke-width="2"/>
<g fill="#fff" stroke="#4d4d4d" stroke-width="1.3" fill-opacity="0.6">
<circle cx="1279.84" cy="2175.58" r="3.2"/>
<circle cx="1291.55" cy="2173.63" r="3.2"/>
<circle cx="1279.84" cy="2193.13" r="3.2"/>
<circle cx="1291.06" cy="2193.13" r="3.2"/>
<circle cx="1285.69" cy="2227.26" r="3.2"/>
<circle cx="1285.69" cy="2243.84" r="3.2"/>
<circle cx="1285.69" cy="2279.19" r="3.2"/>
<circle cx="1285.69" cy="2333.55" r="3.2"/>
<circle cx="1285.69" cy="2355.49" r="3.2"/>
<circle cx="1285.69" cy="2390.84" r="3.2"/>
<circle cx="1285.69" cy="2422.04" r="3.2"/>
</g>
<g fill="#E1BB37" stroke="#5c4a1c" stroke-width="1.3" fill-opacity="0.5">
<circle cx="1319.34" cy="2203.37" r="3.2"/>
<circle cx="1319.34" cy="2293.81" r="3.2"/>
<circle cx="1309.34" cy="2299.18" r="3.2"/>
<circle cx="1319.34" cy="2303.32" r="3.2"/>
<circle cx="1319.34" cy="2331.6" r="3.2"/>
<circle cx="1309.34" cy="2337.21" r="3.2"/>
<circle cx="1329.58" cy="2334.28" r="3.2"/>
<circle cx="1319.34" cy="2359.15" r="3.2"/>
<circle cx="1319.34" cy="2372.07" r="3.2"/>
<circle cx="1324.46" cy="2382.79" r="3.2"/>
<circle cx="1314.46" cy="2386.45" r="3.2"/>
</g>
<text x="1203.05" y="2292.59" text-anchor="middle" transform="rotate(-90 1203.05 2292.59)">Open arm time (%)</text>
<text x="1427.6" y="2082.7" font-weight="bold" font-size="34">n</text>
<text x="1590.7" y="2178.5" text-anchor="middle">Light-dark</text>
<text x="1591" y="2208.2" text-anchor="middle">exploration test</text>
<text x="1460.6" y="2277.3">Veh</text>
<g transform="translate(1525.4 2244.7) scale(1)" fill="#c2c2c2">
<path d="M-5.6 0 H5.6 Q6.4 0 6.3 0.9 L5.9 2.6 H-5.9 L-6.3 0.9 Q-6.4 0 -5.6 0 Z"/>
<rect x="-4.9" y="2.4" width="9.8" height="6.2"/>
<path d="M-9 8.2 H9 Q10 8.2 10 9.4 V10.8 H9 V10.6 H-9 V10.8 H-10 V9.4 Q-10 8.2 -9 8.2 Z"/>
<path d="M-6.45 10.4 H6.45 V33.5 Q6.45 37.5 2.4 40.3 L1.9 46 H-1.9 L-2.4 40.3 Q-6.45 37.5 -6.45 33.5 Z"/>
<path d="M-1.9 45.5 H1.9 L0.9 58 Q0 59.4 -0.9 58 Z"/>
<rect x="-4.1" y="12.6" width="8.2" height="2.2" fill="#fff"/>
<rect x="-4.1" y="20.4" width="8.2" height="2.2" fill="#fff"/>
<rect x="-4.1" y="28.2" width="8.2" height="2.2" fill="#fff"/>
</g>
<rect x="1608.6" y="2237.2" width="28.9" height="57.7" fill="#808080" stroke="#000" stroke-width="2"/>
<rect x="1550.4" y="2237.2" width="58.2" height="57.7" fill="#fff" stroke="#000" stroke-width="2"/>
<rect x="1797.4" y="2097.2" width="14.2" height="14.2" fill="#fff" stroke="#111" stroke-width="1.5"/>
<text x="1826.8" y="2112.3">Control</text>
<rect x="1937.8" y="2097.2" width="14.2" height="14.2" fill="#E2A943" stroke="#111" stroke-width="1.5"/>
<text x="1968.2" y="2112.3">hM3Dq</text>
<line x1="1807.53" y1="2278.7" x2="1807.53" y2="2289.18" stroke="#1a1a1a" stroke-width="1.6"/>
<line x1="1803.93" y1="2278.7" x2="1811.13" y2="2278.7" stroke="#1a1a1a" stroke-width="1.6"/>
<line x1="1841.66" y1="2260.41" x2="1841.66" y2="2271.87" stroke="#1a1a1a" stroke-width="1.6"/>
<line x1="1838.06" y1="2260.41" x2="1845.26" y2="2260.41" stroke="#1a1a1a" stroke-width="1.6"/>
<rect x="1795.3" y="2289.18" width="24.47" height="150.41" fill="#fff" stroke="#1a1a1a" stroke-width="1.5"/>
<rect x="1829.43" y="2271.87" width="24.47" height="167.72" fill="#E2A943" stroke="#1a1a1a" stroke-width="1.5"/>
<line x1="1781.69" y1="2440.6" x2="1781.69" y2="2151.18" stroke="#1a1a1a" stroke-width="2"/>
<line x1="1776.89" y1="2439.6" x2="1781.69" y2="2439.6" stroke="#1a1a1a" stroke-width="2"/>
<text x="1773.69" y="2447.74" text-anchor="end">0</text>
<line x1="1776.89" y1="2343.79" x2="1781.69" y2="2343.79" stroke="#1a1a1a" stroke-width="2"/>
<text x="1773.69" y="2351.93" text-anchor="end">20</text>
<line x1="1776.89" y1="2247.98" x2="1781.69" y2="2247.98" stroke="#1a1a1a" stroke-width="2"/>
<text x="1773.69" y="2256.13" text-anchor="end">40</text>
<line x1="1776.89" y1="2152.18" x2="1781.69" y2="2152.18" stroke="#1a1a1a" stroke-width="2"/>
<text x="1773.69" y="2160.32" text-anchor="end">60</text>
<line x1="1776.89" y1="2439.6" x2="1868.48" y2="2439.6" stroke="#1a1a1a" stroke-width="2"/>
<g fill="#fff" stroke="#4d4d4d" stroke-width="1.3" fill-opacity="0.6">
<circle cx="1797.54" cy="2249.44" r="3.2"/>
<circle cx="1807.78" cy="2255.05" r="3.2"/>
<circle cx="1817.77" cy="2253.1" r="3.2"/>
<circle cx="1807.78" cy="2264.56" r="3.2"/>
<circle cx="1807.78" cy="2275.53" r="3.2"/>
<circle cx="1807.78" cy="2282.36" r="3.2"/>
<circle cx="1807.78" cy="2295.76" r="3.2"/>
<circle cx="1817.77" cy="2316.24" r="3.2"/>
<circle cx="1807.78" cy="2318.68" r="3.2"/>
<circle cx="1807.78" cy="2329.16" r="3.2"/>
<circle cx="1807.78" cy="2339.16" r="3.2"/>
</g>
<g fill="#E1BB37" stroke="#5c4a1c" stroke-width="1.3" fill-opacity="0.5">
<circle cx="1841.66" cy="2210.44" r="3.2"/>
<circle cx="1841.66" cy="2241.16" r="3.2"/>
<circle cx="1841.66" cy="2253.59" r="3.2"/>
<circle cx="1831.67" cy="2259.2" r="3.2"/>
<circle cx="1841.66" cy="2261.63" r="3.2"/>
<circle cx="1831.67" cy="2273.58" r="3.2"/>
<circle cx="1841.66" cy="2274.8" r="3.2"/>
<circle cx="1851.9" cy="2278.45" r="3.2"/>
<circle cx="1841.66" cy="2281.62" r="3.2"/>
<circle cx="1841.66" cy="2310.88" r="3.2"/>
<circle cx="1841.66" cy="2343.3" r="3.2"/>
</g>
<text x="1733.18" y="2296.25" text-anchor="middle" transform="rotate(-90 1733.18 2296.25)">Total distance (m)</text>
<line x1="2016.46" y1="2227.99" x2="2016.46" y2="2236.52" stroke="#1a1a1a" stroke-width="1.6"/>
<line x1="2012.86" y1="2227.99" x2="2020.06" y2="2227.99" stroke="#1a1a1a" stroke-width="1.6"/>
<line x1="2050.46" y1="2241.4" x2="2050.46" y2="2248.23" stroke="#1a1a1a" stroke-width="1.6"/>
<line x1="2046.86" y1="2241.4" x2="2054.06" y2="2241.4" stroke="#1a1a1a" stroke-width="1.6"/>
<rect x="2004.22" y="2236.52" width="24.47" height="203.07" fill="#fff" stroke="#1a1a1a" stroke-width="1.5"/>
<rect x="2038.11" y="2248.23" width="24.71" height="191.37" fill="#E2A943" stroke="#1a1a1a" stroke-width="1.5"/>
<line x1="1990.86" y1="2440.6" x2="1990.86" y2="2151.18" stroke="#1a1a1a" stroke-width="2"/>
<line x1="1986.36" y1="2439.6" x2="1990.86" y2="2439.6" stroke="#1a1a1a" stroke-width="2"/>
<text x="1983.16" y="2447.74" text-anchor="end">0</text>
<line x1="1986.36" y1="2367.74" x2="1990.86" y2="2367.74" stroke="#1a1a1a" stroke-width="2"/>
<text x="1983.16" y="2375.89" text-anchor="end">20</text>
<line x1="1986.36" y1="2295.89" x2="1990.86" y2="2295.89" stroke="#1a1a1a" stroke-width="2"/>
<text x="1983.16" y="2304.03" text-anchor="end">40</text>
<line x1="1986.36" y1="2224.03" x2="1990.86" y2="2224.03" stroke="#1a1a1a" stroke-width="2"/>
<text x="1983.16" y="2232.18" text-anchor="end">60</text>
<line x1="1986.36" y1="2152.18" x2="1990.86" y2="2152.18" stroke="#1a1a1a" stroke-width="2"/>
<text x="1983.16" y="2160.32" text-anchor="end">80</text>
<line x1="1986.36" y1="2439.6" x2="2082.03" y2="2439.6" stroke="#1a1a1a" stroke-width="2"/>
<g fill="#fff" stroke="#4d4d4d" stroke-width="1.3" fill-opacity="0.6">
<circle cx="2016.46" cy="2187.77" r="3.2"/>
<circle cx="2016.46" cy="2198.01" r="3.2"/>
<circle cx="2016.46" cy="2219.46" r="3.2"/>
<circle cx="2021.33" cy="2227.75" r="3.2"/>
<circle cx="2010.61" cy="2232.38" r="3.2"/>
<circle cx="2006.22" cy="2241.89" r="3.2"/>
<circle cx="2016.46" cy="2241.89" r="3.2"/>
<circle cx="2026.45" cy="2244.33" r="3.2"/>
<circle cx="2016.46" cy="2248.71" r="3.2"/>
<circle cx="2016.46" cy="2262.85" r="3.2"/>
<circle cx="2016.46" cy="2291.38" r="3.2"/>
</g>
<g fill="#E1BB37" stroke="#5c4a1c" stroke-width="1.3" fill-opacity="0.5">
<circle cx="2050.34" cy="2210.2" r="3.2"/>
<circle cx="2050.34" cy="2224.33" r="3.2"/>
<circle cx="2050.34" cy="2229.94" r="3.2"/>
<circle cx="2050.34" cy="2239.45" r="3.2"/>
<circle cx="2040.1" cy="2241.4" r="3.2"/>
<circle cx="2050.34" cy="2247.49" r="3.2"/>
<circle cx="2040.1" cy="2251.64" r="3.2"/>
<circle cx="2060.58" cy="2252.61" r="3.2"/>
<circle cx="2050.34" cy="2269.68" r="3.2"/>
<circle cx="2060.58" cy="2275.04" r="3.2"/>
<circle cx="2040.1" cy="2279.19" r="3.2"/>
</g>
<text x="1942.1" y="2293.57" text-anchor="middle" transform="rotate(-90 1942.1 2293.57)">Dark compartment time (%)</text>
</svg>
</body>
</html>
